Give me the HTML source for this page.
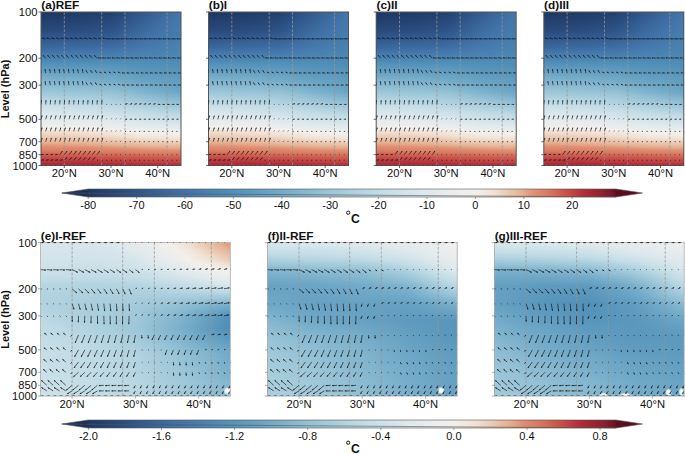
<!DOCTYPE html>
<html><head><meta charset="utf-8"><style>
html,body{margin:0;padding:0;background:#fff;width:685px;height:454px;overflow:hidden}
body{position:relative;font-family:"Liberation Sans",sans-serif}
.fld{position:absolute;overflow:hidden}
.fld i{display:block;height:2px}
.ft i{height:1px}
svg{position:absolute;left:0;top:0}
text{font-family:"Liberation Sans",sans-serif;fill:#111}
.t0{background:linear-gradient(90deg,#1e3763,#1f3764,#1f3864,#1f3965,#203966,#203a67,#213c69,#223d6b,#223e6d,#23406e,#264676,#294c7e,#2d5286,#30598d,#345f93,#386599,#3c6ba0,#4071a6,#4477ab)}
.t1{background:linear-gradient(90deg,#1f3864,#1f3865,#203966,#203a67,#203a67,#213b69,#213d6b,#223e6c,#23406e,#244170,#274777,#2a4d7f,#2d5387,#31598e,#356094,#39669a,#3d6ca0,#4072a7,#4477ab)}
.t2{background:linear-gradient(90deg,#1f3965,#203966,#203a67,#203b68,#213b69,#213c6a,#223e6c,#233f6e,#23416f,#244271,#274879,#2a4e80,#2e5488,#315a8f,#356095,#39669b,#3d6ca1,#4172a7,#4478ab)}
.t3{background:linear-gradient(90deg,#203a67,#203a68,#213b68,#213c69,#213c6a,#223d6b,#233f6d,#23406f,#244271,#254372,#28497a,#2b4f82,#2e5589,#325b8f,#366196,#3a679c,#3d6da2,#4173a8,#4478ab)}
.t4{background:linear-gradient(90deg,#203b68,#213b69,#213c6a,#223d6b,#223e6b,#223f6d,#23406f,#244170,#254372,#254474,#284a7b,#2b5083,#2f568a,#335c90,#366296,#3a689c,#3e6da2,#4173a8,#4478ab)}
.t5{background:linear-gradient(90deg,#213c69,#213d6a,#223d6b,#223e6c,#223f6d,#23406e,#244170,#244272,#254473,#264575,#294b7d,#2c5184,#2f578b,#335d91,#376397,#3b689d,#3e6ea3,#4273a8,#4479ab)}
.t6{background:linear-gradient(90deg,#223d6b,#223e6c,#223e6c,#233f6d,#23406e,#24416f,#244271,#254373,#264575,#264676,#294c7e,#2c5285,#30588c,#345e92,#376498,#3b699e,#3e6fa3,#4274a9,#4579ac)}
.t7{background:linear-gradient(90deg,#223e6c,#223f6d,#233f6e,#23406f,#24416f,#244271,#254373,#254474,#264676,#274778,#2a4d7f,#2d5387,#31598d,#345f93,#386499,#3b6a9e,#3f6fa4,#4274a9,#4579ac)}
.t8{background:linear-gradient(90deg,#233f6d,#23406e,#23406f,#244170,#244271,#254372,#254474,#264676,#274777,#274879,#2a4e80,#2e5488,#315a8e,#356094,#39659a,#3c6b9f,#3f70a5,#4275a9,#457aac)}
.t9{background:linear-gradient(90deg,#23406f,#244170,#244170,#244271,#254372,#254473,#264575,#274777,#274879,#28497a,#2b4f82,#2e5589,#325b8f,#366195,#39669b,#3c6ba0,#4070a5,#4375aa,#457aac)}
.t10{background:linear-gradient(90deg,#244170,#244271,#244372,#254373,#254473,#264575,#264677,#274878,#28497a,#294a7c,#2c5083,#2f568a,#325c90,#366296,#3a679c,#3d6ca1,#4071a6,#4376aa,#457aac)}
.t11{background:linear-gradient(90deg,#244271,#254372,#254473,#254474,#264575,#264676,#274778,#28497a,#284a7b,#294b7d,#2c5184,#2f578b,#335d91,#376297,#3a689c,#3d6da1,#4071a6,#4376aa,#457aac)}
.t12{background:linear-gradient(90deg,#254373,#254474,#264574,#264575,#264676,#274777,#284879,#284a7b,#294b7d,#2a4d7e,#2d5286,#30588c,#345e92,#376398,#3b699d,#3e6da2,#4172a7,#4377aa,#467bad)}
.t13{background:linear-gradient(90deg,#254474,#264575,#264676,#264677,#274777,#274879,#28497b,#294b7c,#294c7e,#2a4e80,#2d5387,#31598d,#345f93,#386499,#3b699e,#3e6ea3,#4173a8,#4477ab,#467bad)}
.t14{background:linear-gradient(90deg,#264575,#264676,#274777,#274778,#274879,#28497a,#294b7c,#294c7e,#2a4d7f,#2b4f81,#2e5488,#315a8e,#356094,#38659a,#3c6a9f,#3f6fa4,#4273a8,#4477ab,#467bad)}
.t15{background:linear-gradient(90deg,#264677,#274778,#274878,#284879,#28497a,#284a7b,#294c7d,#2a4d7f,#2b4e81,#2b5082,#2e5589,#325b8f,#356195,#39669b,#3c6ba0,#3f6fa4,#4274a9,#4478ab,#467cad)}
.t16{background:linear-gradient(90deg,#274778,#274879,#28497a,#284a7b,#284a7b,#294b7d,#2a4d7f,#2a4e80,#2b4f82,#2c5184,#2f568a,#325c90,#366196,#3a679c,#3d6ca1,#4070a5,#4274a9,#4478ab,#467cad)}
.t17{background:linear-gradient(90deg,#284979,#28497a,#284a7b,#294b7c,#294b7d,#2a4c7e,#2a4e80,#2b4f82,#2c5083,#2c5285,#30578b,#335d91,#376297,#3a689d,#3d6da1,#4071a6,#4275a9,#4479ab,#467cad)}
.t18{background:linear-gradient(90deg,#284a7b,#294b7c,#294c7d,#2a4c7e,#2a4d7f,#2a4e80,#2b4f82,#2c5184,#2c5285,#2d5387,#30598d,#345e92,#376398,#3b699d,#3e6ea2,#4072a6,#4375aa,#4579ac,#477dae)}
.t19{background:linear-gradient(90deg,#294c7e,#2a4d7f,#2a4d7f,#2a4e80,#2b4f81,#2b5082,#2c5184,#2d5286,#2d5487,#2e5589,#315a8e,#355f94,#386599,#3b6a9e,#3e6ea3,#4172a7,#4376aa,#4579ac,#477dae)}
.t20{background:linear-gradient(90deg,#2a4e80,#2b4e81,#2b4f82,#2b5082,#2c5083,#2c5185,#2d5386,#2d5488,#2e5589,#2f568b,#325c90,#356195,#39669a,#3c6b9f,#3f6fa4,#4173a8,#4376aa,#457aac,#477dae)}
.t21{background:linear-gradient(90deg,#2b4f82,#2b5083,#2c5184,#2c5185,#2d5285,#2d5387,#2e5488,#2e568a,#2f578b,#30588c,#335d91,#366296,#39679b,#3d6ca0,#3f70a5,#4274a9,#4477ab,#457aac,#477eae)}
.t22{background:linear-gradient(90deg,#2c5184,#2c5285,#2d5386,#2d5387,#2d5488,#2e5589,#2f568a,#2f578b,#30588d,#315a8e,#345e93,#376398,#3a689c,#3d6da1,#4071a6,#4274a9,#4478ab,#467bad,#477eae)}
.t23{background:linear-gradient(90deg,#2d5386,#2d5487,#2e5488,#2e5589,#2e568a,#2f578b,#30588c,#30598d,#315a8e,#325b8f,#356094,#386499,#3b699e,#3e6ea2,#4072a6,#4275a9,#4478ab,#467bad,#477eae)}
.t24{background:linear-gradient(90deg,#2e5589,#2e5589,#2f568a,#2f578b,#30578b,#30588c,#31598e,#325a8f,#325c90,#335d91,#366196,#39669a,#3c6a9f,#3e6ea3,#4172a7,#4376aa,#4479ab,#467cad,#487faf)}
.t25{background:linear-gradient(90deg,#2f568a,#2f578b,#30588c,#30588d,#31598d,#315a8e,#325b8f,#335c90,#335d91,#345e93,#376397,#3a679b,#3c6ba0,#3f6fa4,#4173a8,#4376aa,#4579ac,#467cad,#487faf)}
.t26{background:linear-gradient(90deg,#30588c,#30598d,#31598e,#315a8e,#325b8f,#325c90,#335d91,#345e92,#345f93,#356094,#386498,#3a689d,#3d6ca1,#4070a5,#4274a9,#4377aa,#457aac,#467cad,#487faf)}
.t27{background:linear-gradient(90deg,#315a8e,#325a8f,#325b8f,#325c90,#335d91,#335d92,#345e93,#355f94,#356095,#366196,#39659a,#3b699e,#3e6da2,#4071a6,#4275a9,#4477ab,#457aac,#477dae,#4880af)}
.t28{background:linear-gradient(90deg,#325c90,#335c90,#335d91,#345e92,#345e93,#355f93,#356094,#366195,#366296,#376397,#39679b,#3c6b9f,#3e6ea3,#4172a7,#4375aa,#4478ab,#467bad,#477dae,#4880af)}
.t29{background:linear-gradient(90deg,#335d92,#345e92,#345f93,#355f94,#356094,#366195,#366296,#376397,#376498,#386499,#3a689d,#3d6ca1,#3f70a4,#4173a8,#4376aa,#4479ab,#467bad,#477eae,#4880af)}
.t30{background:linear-gradient(90deg,#345f93,#356094,#356095,#366195,#366296,#376397,#376398,#386499,#38659a,#39669b,#3b6a9e,#3e6da2,#4071a5,#4274a9,#4477ab,#4579ac,#467cad,#477eae,#4980b0)}
.t31{background:linear-gradient(90deg,#366195,#366196,#366297,#376397,#376398,#386499,#38659a,#39669a,#39679b,#3a689c,#3c6ba0,#3e6ea3,#4172a7,#4375aa,#4478ab,#457aac,#467cad,#487eaf,#4981b0)}
.t32{background:linear-gradient(90deg,#376297,#376398,#386498,#386599,#38659a,#39669a,#39679b,#3a689c,#3a689d,#3b699e,#3d6ca1,#3f70a4,#4173a8,#4376aa,#4478ab,#467bad,#477dae,#487faf,#4981b0)}
.t33{background:linear-gradient(90deg,#386499,#386599,#39669a,#39669b,#3a679b,#3a689c,#3b689d,#3b699e,#3c6a9f,#3c6b9f,#3e6ea3,#4071a6,#4274a9,#4377aa,#4579ac,#467bad,#477dae,#487faf,#4981b0)}
.t34{background:linear-gradient(90deg,#39669a,#39679b,#3a679c,#3a689d,#3b699d,#3b699e,#3c6a9f,#3c6ba0,#3d6ca0,#3d6ca1,#3f6fa4,#4172a7,#4275a9,#4478ab,#457aac,#467cad,#477eae,#4880af,#4982b0)}
.t35{background:linear-gradient(90deg,#3a689c,#3a689d,#3b699e,#3b6a9e,#3c6a9f,#3c6ba0,#3d6ca0,#3d6ca1,#3e6da2,#3e6ea3,#4071a5,#4273a8,#4376aa,#4478ab,#467bad,#477cae,#487eaf,#4980b0,#4a82b1)}
.t36{background:linear-gradient(90deg,#3c6a9f,#3c6ba0,#3d6ca0,#3d6ca1,#3d6da2,#3e6ea2,#3e6ea3,#3f6fa4,#3f70a4,#4070a5,#4173a8,#4375aa,#4477ab,#457aac,#467cad,#477dae,#487faf,#4981b0,#4a83b1)}
.t37{background:linear-gradient(90deg,#3d6da2,#3e6ea2,#3e6ea3,#3f6fa4,#3f6fa4,#3f70a5,#4071a6,#4071a6,#4172a7,#4172a7,#4275a9,#4477ab,#4579ac,#467bad,#477dae,#487faf,#4980b0,#4982b0,#4a83b1)}
.t38{background:linear-gradient(90deg,#3f70a5,#4070a5,#4071a6,#4071a6,#4172a7,#4173a8,#4173a8,#4274a9,#4274a9,#4275a9,#4377aa,#4479ab,#467bad,#477dae,#477eae,#4880af,#4981b0,#4a83b1,#4b84b2)}
.t39{background:linear-gradient(90deg,#4172a7,#4173a8,#4273a8,#4274a9,#4274a9,#4375aa,#4375aa,#4376aa,#4376aa,#4477ab,#4479ab,#457aac,#467cad,#477eae,#487faf,#4981b0,#4a82b1,#4a83b1,#4b85b2)}
.t40{background:linear-gradient(90deg,#4375aa,#4375aa,#4376aa,#4376aa,#4377aa,#4477ab,#4478ab,#4478ab,#4479ab,#4579ac,#467bad,#467cad,#477eae,#487faf,#4981b0,#4982b0,#4a83b1,#4b84b2,#4b85b2)}
.t41{background:linear-gradient(90deg,#4477ab,#4478ab,#4478ab,#4479ab,#4579ac,#4579ac,#457aac,#457aac,#467bad,#467bad,#477cae,#477eae,#487faf,#4981b0,#4982b0,#4a83b1,#4b84b2,#4b85b2,#4c86b3)}
.t42{background:linear-gradient(90deg,#457aac,#457aac,#467bad,#467bad,#467bad,#467cad,#467cad,#477cae,#477dae,#477dae,#487eaf,#4880af,#4981b0,#4a82b1,#4a83b1,#4b84b2,#4b85b2,#4b86b2,#4c87b3)}
.t43{background:linear-gradient(90deg,#467cad,#477dae,#477dae,#477dae,#477eae,#477eae,#487eaf,#487faf,#487faf,#487faf,#4980b0,#4981b0,#4a82b1,#4a83b1,#4b84b2,#4b85b2,#4c86b3,#4c86b3,#4c87b3)}
.t44{background:linear-gradient(90deg,#487faf,#487faf,#487faf,#4880af,#4880af,#4980b0,#4981b0,#4981b0,#4981b0,#4981b0,#4a82b1,#4a83b1,#4b84b2,#4b85b2,#4b86b2,#4c86b3,#4c87b3,#4c87b3,#4d88b4)}
.t45{background:linear-gradient(90deg,#4981b0,#4981b0,#4982b0,#4982b0,#4a82b1,#4a82b1,#4a83b1,#4a83b1,#4a83b1,#4a84b1,#4b84b2,#4b85b2,#4b86b2,#4c86b3,#4c87b3,#4c87b3,#4d88b4,#4d88b4,#4d89b4)}
.t46{background:linear-gradient(90deg,#4a84b1,#4a84b1,#4b84b2,#4b84b2,#4b85b2,#4b85b2,#4b85b2,#4b85b2,#4b85b2,#4b86b2,#4c86b3,#4c87b3,#4c87b3,#4d88b4,#4d88b4,#4d88b4,#4d89b4,#4d89b4,#4d89b4)}
.t47{background:linear-gradient(90deg,#4c86b3,#4c86b3,#4c86b3,#4c87b3,#4c87b3,#4c87b3,#4c87b3,#4c87b3,#4c88b3,#4d88b4,#4d88b4,#4d88b4,#4d89b4,#4d89b4,#4d89b4,#4d89b4,#4e8ab5,#4e8ab5,#4e8ab5)}
.t48{background:linear-gradient(90deg,#4d88b4,#4d89b4,#4d89b4,#4d89b4,#4d89b4,#4d89b4,#4d89b4,#4e8ab5,#4e8ab5,#4e8ab5,#4e8ab5,#4e8ab5,#4e8ab5,#4e8ab5,#4e8ab5,#4e8ab5,#4e8ab5,#4e8ab5,#4e8ab5)}
.t49{background:linear-gradient(90deg,#4e8bb5,#4e8bb5,#4e8bb5,#4e8bb5,#4f8bb6,#4f8cb6,#4f8cb6,#4f8cb6,#4f8cb6,#4f8cb6,#4f8cb6,#4f8cb6,#4f8cb6,#4f8cb6,#4f8cb6,#4f8cb6,#4f8bb6,#4e8bb5,#4e8bb5)}
.t50{background:linear-gradient(90deg,#508db7,#508db7,#508eb7,#508eb7,#508eb7,#508eb7,#508eb7,#508eb7,#508eb7,#508eb7,#508eb7,#508eb7,#508db7,#508db7,#4f8db6,#4f8db6,#4f8cb6,#4f8cb6,#4f8cb6)}
.t51{background:linear-gradient(90deg,#5190b8,#5190b8,#5190b8,#5190b8,#5190b8,#5190b8,#5190b8,#5190b8,#5190b8,#5190b8,#5190b8,#518fb8,#508fb7,#508fb7,#508eb7,#508eb7,#508db7,#4f8db6,#4f8cb6)}
.t52{background:linear-gradient(90deg,#5492b9,#5492b9,#5492b9,#5492b9,#5492b9,#5492b9,#5492b9,#5492b9,#5492b9,#5492b9,#5392b9,#5291b9,#5291b8,#5190b8,#518fb8,#508fb7,#508eb7,#508eb7,#4f8db6)}
.t53{background:linear-gradient(90deg,#5694bb,#5694bb,#5694bb,#5694bb,#5694bb,#5694ba,#5694ba,#5694ba,#5694ba,#5694ba,#5593ba,#5492ba,#5392b9,#5391b9,#5291b8,#5190b8,#518fb8,#508fb7,#508eb7)}
.t54{background:linear-gradient(90deg,#5996bc,#5996bc,#5996bc,#5996bc,#5996bc,#5896bc,#5896bc,#5896bb,#5895bb,#5895bb,#5795bb,#5694ba,#5593ba,#5492b9,#5392b9,#5291b9,#5190b8,#5190b8,#508fb7)}
.t55{background:linear-gradient(90deg,#5c98bd,#5b98bd,#5b98bd,#5b98bd,#5b98bd,#5b98bd,#5b98bd,#5a97bc,#5a97bc,#5a97bc,#5996bc,#5895bb,#5794bb,#5694ba,#5593ba,#5492b9,#5391b9,#5291b8,#5190b8)}
.t56{background:linear-gradient(90deg,#5e9abe,#5e9abe,#5e9abe,#5e9abe,#5d9abe,#5d9abe,#5d99be,#5c99be,#5c99bd,#5c98bd,#5a97bd,#5997bc,#5896bb,#5795bb,#5694ba,#5593ba,#5492ba,#5392b9,#5291b9)}
.t57{background:linear-gradient(90deg,#619dc0,#619cc0,#609cbf,#609cbf,#609cbf,#609bbf,#5f9bbf,#5f9bbf,#5e9abe,#5d9abe,#5c99bd,#5b98bd,#5a97bc,#5996bc,#5795bb,#5694bb,#5593ba,#5493ba,#5392b9)}
.t58{background:linear-gradient(90deg,#649fc1,#639ec1,#639ec1,#639ec1,#629ec0,#629dc0,#619dc0,#619cc0,#609cbf,#5f9bbf,#5e9abe,#5d99be,#5b98bd,#5a97bc,#5996bc,#5895bb,#5795bb,#5694ba,#5593ba)}
.t59{background:linear-gradient(90deg,#66a1c2,#66a0c2,#66a0c2,#65a0c2,#65a0c2,#649fc1,#649fc1,#639ec1,#629dc0,#619dc0,#609cbf,#5e9bbf,#5d99be,#5c98bd,#5a97bc,#5996bc,#5896bb,#5795bb,#5694ba)}
.t60{background:linear-gradient(90deg,#69a3c4,#68a2c3,#68a2c3,#68a2c3,#67a2c3,#67a1c2,#66a0c2,#65a0c2,#649fc1,#639ec1,#629dc0,#609cbf,#5f9bbf,#5d99be,#5c98bd,#5b97bd,#5997bc,#5896bb,#5795bb)}
.t61{background:linear-gradient(90deg,#6ca5c5,#6ba5c5,#6ba4c4,#6aa4c4,#6aa3c4,#69a3c4,#68a2c3,#67a1c3,#66a1c2,#65a0c2,#649fc1,#629dc0,#609cbf,#5f9bbf,#5d9abe,#5c99bd,#5b98bd,#5997bc,#5896bc)}
.t62{background:linear-gradient(90deg,#6ea7c6,#6ea7c6,#6da6c6,#6da6c5,#6ca5c5,#6ba5c5,#6aa4c4,#69a3c4,#68a2c3,#67a1c3,#65a0c2,#649fc1,#629dc0,#609cbf,#5e9bbf,#5d9abe,#5c99bd,#5b98bd,#5997bc)}
.t63{background:linear-gradient(90deg,#71a9c7,#70a9c7,#70a8c7,#6fa8c7,#6fa7c6,#6ea7c6,#6da6c5,#6ba5c5,#6aa4c4,#69a3c4,#67a1c3,#65a0c2,#639ec1,#629dc0,#609cbf,#5f9bbf,#5d9abe,#5c99bd,#5b98bd)}
.t64{background:linear-gradient(90deg,#74abc9,#73abc8,#72aac8,#72aac8,#71a9c7,#70a8c7,#6fa7c6,#6ea6c6,#6ca5c5,#6ba4c5,#69a3c4,#67a1c3,#65a0c2,#639ec1,#619dc0,#609cbf,#5f9bbf,#5d9abe,#5c99bd)}
.t65{background:linear-gradient(90deg,#77aeca,#76adca,#76acc9,#75acc9,#74abc9,#72aac8,#71a9c8,#70a8c7,#6ea7c6,#6da6c6,#6ba4c5,#69a3c3,#67a1c2,#659fc1,#639ec1,#619dc0,#609cbf,#5e9bbf,#5d9abe)}
.t66{background:linear-gradient(90deg,#7bb0cb,#7aafcb,#79aecb,#78aeca,#77adca,#75acc9,#74abc9,#72aac8,#70a9c7,#6fa8c6,#6da6c5,#6aa4c4,#68a2c3,#66a1c2,#649fc1,#639ec1,#619dc0,#609cbf,#5e9abe)}
.t67{background:linear-gradient(90deg,#7db1cc,#7cb1cc,#7bb0cc,#7ab0cb,#79afcb,#78aeca,#76adca,#74acc9,#73aac8,#71a9c8,#6fa7c6,#6ca6c5,#6aa4c4,#68a2c3,#66a0c2,#649fc1,#639ec1,#619dc0,#5f9bbf)}
.t68{background:linear-gradient(90deg,#80b3cd,#7fb2cd,#7eb2cc,#7db1cc,#7cb1cc,#7bb0cb,#79afcb,#77adca,#75acc9,#74abc9,#71a9c7,#6ea7c6,#6ca5c5,#6aa3c4,#67a2c3,#66a0c2,#649fc1,#629dc0,#609cbf)}
.t69{background:linear-gradient(90deg,#82b5ce,#81b4ce,#80b3cd,#7fb3cd,#7eb2cd,#7db1cc,#7bb0cc,#7aafcb,#78aeca,#76adca,#73abc8,#70a9c7,#6ea7c6,#6ba5c5,#69a3c4,#67a1c3,#65a0c2,#639ec1,#619dc0)}
.t70{background:linear-gradient(90deg,#85b6cf,#84b6cf,#83b5ce,#82b5ce,#81b4ce,#80b3cd,#7eb2cd,#7cb1cc,#7bb0cb,#79afcb,#76adc9,#73aac8,#70a8c7,#6da6c6,#6ba4c4,#69a3c3,#66a1c2,#649fc1,#629ec0)}
.t71{background:linear-gradient(90deg,#87b8d0,#86b7d0,#85b7cf,#84b6cf,#83b6cf,#82b5ce,#81b4ce,#7fb3cd,#7eb2cc,#7cb1cc,#79aecb,#75acc9,#72aac8,#6fa8c6,#6ca6c5,#6aa4c4,#68a2c3,#65a0c2,#639ec1)}
.t72{background:linear-gradient(90deg,#8abad1,#89b9d1,#88b8d0,#87b8d0,#86b7d0,#85b6cf,#83b5cf,#82b5ce,#80b4cd,#7fb3cd,#7bb0cc,#78aeca,#74abc9,#71a9c7,#6ea7c6,#6ca5c5,#69a3c4,#67a1c2,#649fc1)}
.t73{background:linear-gradient(90deg,#8cbbd2,#8bbbd2,#8abad1,#89bad1,#88b9d1,#87b8d0,#86b7d0,#84b6cf,#83b5cf,#82b4ce,#7eb2cd,#7aafcb,#76adca,#73aac8,#70a8c7,#6da6c6,#6aa4c4,#68a2c3,#65a0c2)}
.t74{background:linear-gradient(90deg,#8fbdd3,#8ebcd3,#8dbcd2,#8cbbd2,#8bbbd1,#8abad1,#88b9d1,#87b8d0,#86b7d0,#85b6cf,#81b4ce,#7db1cc,#79afcb,#75acc9,#71a9c8,#6fa7c6,#6ca5c5,#69a3c4,#66a1c2)}
.t75{background:linear-gradient(90deg,#91bfd4,#90bed3,#8fbdd3,#8ebdd3,#8dbcd2,#8cbcd2,#8bbbd2,#8abad1,#89b9d1,#87b8d0,#83b6cf,#7fb3cd,#7bb0cb,#77adca,#73abc8,#70a8c7,#6da6c6,#6aa4c4,#67a1c3)}
.t76{background:linear-gradient(90deg,#94c0d5,#93c0d4,#92bfd4,#91bfd4,#90bed3,#8fbdd3,#8ebcd3,#8cbcd2,#8bbbd2,#8abad1,#86b7d0,#82b5ce,#7eb2cc,#79afcb,#75acc9,#71aac8,#6ea7c6,#6ba5c5,#68a2c3)}
.t77{background:linear-gradient(90deg,#96c2d6,#95c1d5,#94c1d5,#93c0d5,#92c0d4,#91bfd4,#90bed4,#8fbdd3,#8ebdd3,#8dbcd2,#89b9d1,#84b6cf,#80b3cd,#7cb0cc,#77aeca,#73abc8,#70a8c7,#6ca6c5,#69a3c4)}
.t78{background:linear-gradient(90deg,#99c4d7,#98c3d6,#97c3d6,#96c2d6,#95c1d5,#94c1d5,#93c0d5,#92bfd4,#91bfd4,#90bed3,#8bbbd2,#87b8d0,#82b5ce,#7eb2cd,#79afcb,#75acc9,#71a9c7,#6ea6c6,#6aa4c4)}
.t79{background:linear-gradient(90deg,#9bc5d8,#9ac5d7,#99c4d7,#98c4d7,#97c3d6,#96c2d6,#95c2d6,#95c1d5,#94c0d5,#93c0d4,#8ebdd3,#89bad1,#85b7cf,#80b3cd,#7cb0cc,#77adca,#72aac8,#6fa7c6,#6ba5c5)}
.t80{background:linear-gradient(90deg,#9ec7d9,#9dc7d8,#9cc6d8,#9cc6d8,#9bc5d7,#9ac4d7,#99c4d7,#98c3d6,#97c2d6,#96c2d6,#91bfd4,#8cbcd2,#88b8d0,#83b5ce,#7eb2cd,#7aafcb,#75acc9,#71a9c7,#6da6c6)}
.t81{background:linear-gradient(90deg,#a2c9da,#a1c9da,#a0c8d9,#9fc8d9,#9ec7d9,#9dc7d8,#9cc6d8,#9bc5d8,#9ac4d7,#99c4d7,#94c1d5,#8fbed3,#8bbbd1,#86b8d0,#82b4ce,#7db1cc,#79aecb,#74abc9,#70a9c7)}
.t82{background:linear-gradient(90deg,#a5cbdb,#a4cbdb,#a3cadb,#a2c9da,#a1c9da,#a0c8d9,#9fc8d9,#9ec7d9,#9dc6d8,#9cc6d8,#97c3d6,#93c0d4,#8ebdd3,#8abad1,#85b7cf,#81b4ce,#7cb1cc,#78aeca,#73abc9)}
.t83{background:linear-gradient(90deg,#a8cddd,#a7cddc,#a6ccdc,#a5cbdb,#a4cbdb,#a3cadb,#a2c9da,#a1c9da,#a0c8d9,#9ec7d9,#9ac5d7,#96c2d6,#91bfd4,#8dbcd2,#88b9d1,#84b6cf,#80b3cd,#7bb0cc,#77adca)}
.t84{background:linear-gradient(90deg,#accfde,#abcedd,#aacedd,#a8cddd,#a7cddc,#a6ccdc,#a5cbdb,#a4cadb,#a3cada,#a1c9da,#9dc7d8,#99c4d7,#94c1d5,#90bed3,#8cbbd2,#87b8d0,#83b6cf,#7fb3cd,#7bb0cb)}
.t85{background:linear-gradient(90deg,#afd1df,#aed0df,#add0de,#accfde,#abcedd,#a9cedd,#a8cddc,#a7ccdc,#a5cbdb,#a4cbdb,#a0c8d9,#9cc6d8,#98c3d6,#93c0d5,#8fbdd3,#8bbbd1,#87b8d0,#83b5ce,#7fb2cd)}
.t86{background:linear-gradient(90deg,#b2d3e0,#b1d2e0,#b0d2df,#afd1df,#aed0df,#acd0de,#abcfde,#aacedd,#a8cddc,#a7ccdc,#a3cadb,#9fc8d9,#9bc5d8,#97c2d6,#92c0d4,#8ebdd3,#8abad1,#86b8d0,#82b5ce)}
.t87{background:linear-gradient(90deg,#b6d5e1,#b5d4e1,#b3d4e1,#b2d3e0,#b1d2e0,#b0d1df,#aed0df,#add0de,#abcfde,#aacedd,#a6ccdc,#a2c9da,#9ec7d9,#9ac5d7,#96c2d6,#92bfd4,#8ebdd3,#8abad1,#86b7d0)}
.t88{background:linear-gradient(90deg,#b9d7e3,#b8d6e2,#b7d5e2,#b5d5e1,#b4d4e1,#b3d3e0,#b1d2e0,#b0d1df,#aed0df,#accfde,#a8cddd,#a5cbdb,#a1c9da,#9dc7d8,#99c4d7,#95c1d5,#91bfd4,#8ebcd2,#8abad1)}
.t89{background:linear-gradient(90deg,#bcd9e4,#bbd8e3,#bad7e3,#b9d7e3,#b7d6e2,#b6d5e2,#b4d4e1,#b2d3e0,#b1d2e0,#afd1df,#abcfde,#a7cddc,#a4cadb,#a0c8d9,#9cc6d8,#99c4d7,#95c1d5,#91bfd4,#8dbcd2)}
.t90{background:linear-gradient(90deg,#c0dbe5,#bedae5,#bdd9e4,#bcd8e4,#bbd8e3,#b9d7e3,#b7d6e2,#b5d5e1,#b4d4e1,#b2d3e0,#aed0df,#aacedd,#a7ccdc,#a3cadb,#9fc8d9,#9cc6d8,#98c4d7,#95c1d5,#91bfd4)}
.t91{background:linear-gradient(90deg,#c3dce6,#c2dce6,#c0dbe5,#bfdae5,#bedae4,#bcd9e4,#bad7e3,#b8d6e2,#b6d5e2,#b5d4e1,#b1d2e0,#add0de,#a9cedd,#a6ccdc,#a2cada,#9fc8d9,#9cc6d8,#98c4d7,#95c1d5)}
.t92{background:linear-gradient(90deg,#c5dee7,#c4dde7,#c3dde6,#c2dce6,#c1dbe6,#bfdae5,#bdd9e4,#bbd8e4,#b9d7e3,#b7d6e2,#b4d4e1,#b0d2df,#accfde,#a9cddd,#a5cbdb,#a2cada,#9fc8d9,#9cc6d8,#99c4d7)}
.t93{background:linear-gradient(90deg,#c8dfe8,#c7dee7,#c6dee7,#c5dde7,#c4dde6,#c2dce6,#c0dbe5,#bedae5,#bcd9e4,#bad7e3,#b7d5e2,#b3d3e0,#afd1df,#accfde,#a8cddd,#a5cbdb,#a2cada,#9fc8d9,#9cc6d8)}
.t94{background:linear-gradient(90deg,#cbe0e8,#c9dfe8,#c8dfe8,#c7dee7,#c6dee7,#c5dde7,#c3dce6,#c1dce6,#bfdae5,#bdd9e4,#b9d7e3,#b6d5e1,#b2d3e0,#afd1df,#abcfde,#a8cddd,#a5cbdb,#a3cada,#a0c8d9)}
.t95{background:linear-gradient(90deg,#cde1e9,#cce0e9,#cbe0e8,#cadfe8,#c8dfe8,#c7dee7,#c5dde7,#c4dde6,#c2dce6,#c0dbe5,#bcd9e4,#b9d7e3,#b5d5e1,#b2d2e0,#aed1df,#abcfde,#a9cddd,#a6ccdc,#a3cadb)}
.t96{background:linear-gradient(90deg,#d0e2ea,#cee2e9,#cde1e9,#cce1e9,#cbe0e8,#c9dfe8,#c8dfe8,#c6dee7,#c4dde7,#c2dce6,#bfdae5,#bbd8e4,#b8d6e2,#b4d4e1,#b1d2e0,#afd1df,#accfde,#a9cedd,#a6ccdc)}
.t97{background:linear-gradient(90deg,#d2e3ea,#d1e3ea,#d0e2ea,#cfe2e9,#cde1e9,#cce0e9,#cae0e8,#c8dfe8,#c6dee7,#c4dde7,#c2dce6,#bedae5,#bbd8e3,#b7d6e2,#b4d4e1,#b2d3e0,#afd1df,#accfde,#aacedd)}
.t98{background:linear-gradient(90deg,#d5e4eb,#d4e4eb,#d2e3ea,#d1e3ea,#d0e2ea,#cee1e9,#cce1e9,#cae0e8,#c8dfe8,#c7dee7,#c4dde7,#c1dce6,#bedae4,#bad8e3,#b7d6e2,#b5d4e1,#b2d3e0,#b0d1df,#add0de)}
.t99{background:linear-gradient(90deg,#d7e5ec,#d6e5eb,#d5e4eb,#d3e4eb,#d2e3ea,#d0e2ea,#cfe2e9,#cde1e9,#cbe0e8,#c9dfe8,#c6dee7,#c4dde6,#c1dbe6,#bdd9e4,#bbd8e3,#b8d6e2,#b5d5e1,#b3d3e0,#b0d2e0)}
.t100{background:linear-gradient(90deg,#d9e6ec,#d8e6ec,#d7e5ec,#d6e5eb,#d4e4eb,#d3e4eb,#d1e3ea,#cfe2ea,#cde1e9,#cbe0e9,#c9dfe8,#c6dee7,#c4dde6,#c1dbe6,#bedae4,#bbd8e4,#b9d7e3,#b7d5e2,#b4d4e1)}
.t101{background:linear-gradient(90deg,#dbe7ed,#dae7ed,#d9e6ec,#d8e6ec,#d7e5ec,#d5e5eb,#d3e4eb,#d2e3ea,#d0e2ea,#cee1e9,#cbe0e9,#c9dfe8,#c6dee7,#c4dde6,#c1dce6,#bfdae5,#bcd9e4,#bad7e3,#b8d6e2)}
.t102{background:linear-gradient(90deg,#dee8ee,#dce8ed,#dbe7ed,#dae7ed,#d9e6ec,#d8e6ec,#d6e5eb,#d4e4eb,#d2e3ea,#d0e2ea,#cee1e9,#cbe0e9,#c9dfe8,#c6dee7,#c4dde7,#c2dce6,#c0dbe5,#bed9e4,#bbd8e4)}
.t103{background:linear-gradient(90deg,#dfe9ee,#dfe9ee,#dde8ee,#dce8ed,#dbe7ed,#dae7ed,#d8e6ec,#d6e5ec,#d5e4eb,#d3e4eb,#d0e2ea,#cee1e9,#cbe0e9,#c9dfe8,#c7dee7,#c5dde7,#c3dce6,#c1dce6,#bfdae5)}
.t104{background:linear-gradient(90deg,#e1eaee,#e0e9ee,#dfe9ee,#dfe9ee,#dee8ee,#dce8ed,#dbe7ed,#d9e6ec,#d7e6ec,#d6e5eb,#d3e4eb,#d0e2ea,#cee1e9,#cbe0e9,#c9dfe8,#c7dee7,#c6dee7,#c4dde7,#c2dce6)}
.t105{background:linear-gradient(90deg,#e2eaee,#e2eaee,#e1eaee,#e0e9ee,#e0e9ee,#dfe9ee,#dde8ed,#dbe7ed,#dae7ed,#d8e6ec,#d6e5eb,#d3e4eb,#d0e2ea,#cee1e9,#cce0e9,#cae0e8,#c8dfe8,#c7dee7,#c5dde7)}
.t106{background:linear-gradient(90deg,#e4ebee,#e3eaee,#e3eaee,#e2eaee,#e1eaee,#e0e9ee,#dfe9ee,#dee8ee,#dce8ed,#dbe7ed,#d8e6ec,#d5e5eb,#d3e4eb,#d0e2ea,#cee1e9,#cde1e9,#cbe0e8,#c9dfe8,#c8dfe8)}
.t107{background:linear-gradient(90deg,#e5ebed,#e5ebed,#e4ebed,#e3ebee,#e3eaee,#e2eaee,#e1eaee,#e0e9ee,#dfe9ee,#dde8ed,#dbe7ed,#d8e6ec,#d5e5eb,#d3e4eb,#d1e3ea,#cfe2ea,#cee1e9,#cce1e9,#cbe0e8)}
.t108{background:linear-gradient(90deg,#e7eced,#e6eced,#e6ebed,#e5ebed,#e4ebed,#e4ebee,#e3eaee,#e2eaee,#e1eaee,#dfe9ee,#dde8ed,#dbe7ed,#d8e6ec,#d5e5eb,#d3e4eb,#d2e3ea,#d0e2ea,#cfe2ea,#cde1e9)}
.t109{background:linear-gradient(90deg,#e8eced,#e8eced,#e7eced,#e7eced,#e6ebed,#e5ebed,#e4ebed,#e3eaee,#e2eaee,#e1eaee,#dfe9ee,#dde8ed,#dbe7ed,#d8e6ec,#d6e5eb,#d4e4eb,#d3e4eb,#d2e3ea,#d0e2ea)}
.t110{background:linear-gradient(90deg,#eaeded,#e9eded,#e9eced,#e8eced,#e8eced,#e7eced,#e6ebed,#e5ebed,#e4ebee,#e3eaee,#e1eaee,#dfe9ee,#dde8ed,#dae7ed,#d8e6ec,#d7e5ec,#d6e5eb,#d4e4eb,#d3e4eb)}
.t111{background:linear-gradient(90deg,#ebeded,#ebeded,#eaeded,#eaeded,#e9eded,#e8eced,#e8eced,#e7eced,#e6ebed,#e5ebed,#e3eaee,#e1eaee,#dfe9ee,#dde8ed,#dbe7ed,#dae7ed,#d8e6ec,#d7e5ec,#d6e5eb)}
.t112{background:linear-gradient(90deg,#edeeed,#eceeed,#eceded,#ebeded,#ebeded,#eaeded,#e9eded,#e8eced,#e7eced,#e6eced,#e5ebed,#e3eaee,#e1eaee,#dfe9ee,#dee8ee,#dce8ed,#dbe7ed,#dae7ed,#d8e6ec)}
.t113{background:linear-gradient(90deg,#eeeeec,#eeeeed,#eeeeed,#edeeed,#edeeed,#eceeed,#ebeded,#eaeded,#e9eded,#e9eced,#e7eced,#e5ebed,#e3ebee,#e2eaee,#e0e9ee,#e0e9ee,#dfe9ee,#dde8ee,#dce8ed)}
.t114{background:linear-gradient(90deg,#f0efec,#f0efec,#f0efec,#efefec,#efefec,#eeeeec,#edeeed,#edeeed,#eceded,#ebeded,#e9eded,#e8eced,#e6ebed,#e4ebed,#e3eaee,#e2eaee,#e1eaee,#e1eaee,#e0e9ee)}
.t115{background:linear-gradient(90deg,#f2f0ec,#f2f0ec,#f2f0ec,#f1efec,#f1efec,#f0efec,#f0efec,#efefec,#eeeeed,#edeeed,#eceded,#eaeded,#e8eced,#e7eced,#e6ebed,#e5ebed,#e4ebed,#e3ebee,#e3eaee)}
.t116{background:linear-gradient(90deg,#f2ede8,#f3eee9,#f3efea,#f3efeb,#f3f0ec,#f3f0ec,#f2f0ec,#f1efec,#f0efec,#efefec,#eeeeed,#eceeed,#ebeded,#e9eded,#e8eced,#e7eced,#e7eced,#e6eced,#e6ebed)}
.t117{background:linear-gradient(90deg,#f2e9e1,#f2eae2,#f2eae3,#f2ebe4,#f2ece5,#f2ede7,#f3eee9,#f3f0eb,#f2f0ec,#f2f0ec,#f0efec,#efefec,#edeeed,#eceded,#ebeded,#eaeded,#eaeded,#e9eced,#e8eced)}
.t118{background:linear-gradient(90deg,#f1e5db,#f1e6db,#f1e6dc,#f1e7dd,#f1e7de,#f2e8e0,#f2eae2,#f2ebe4,#f2ede7,#f3eee9,#f3f0ec,#f1efec,#f0efec,#eeeeec,#edeeed,#edeeed,#eceeed,#eceded,#ebeded)}
.t119{background:linear-gradient(90deg,#f0e1d4,#f0e2d5,#f0e2d6,#f1e3d6,#f1e3d7,#f1e4d9,#f1e5db,#f1e7dd,#f2e8df,#f2eae1,#f2ece6,#f3efea,#f2f0ec,#f1efec,#f0efec,#efefec,#efefec,#efeeec,#eeeeec)}
.t120{background:linear-gradient(90deg,#efddce,#f0decf,#f0dfd1,#f0e0d2,#f0e0d3,#f0e1d4,#f0e3d6,#f1e4d8,#f1e5da,#f1e6dc,#f2e9e1,#f2ece5,#f3eee9,#f3f0ec,#f2f0ec,#f1efec,#f1efec,#f0efec,#f0efec)}
.t121{background:linear-gradient(90deg,#eed9c8,#eedac9,#efdbcb,#efdccc,#efdccd,#f0decf,#f0e0d3,#f0e2d5,#f1e3d7,#f1e4d9,#f1e7dd,#f2e9e1,#f2ebe5,#f3eee9,#f3f0eb,#f3f0ec,#f2f0ec,#f2f0ec,#f2f0ec)}
.t122{background:linear-gradient(90deg,#edd5c2,#edd6c4,#eed6c5,#eed7c6,#eed8c7,#eedaca,#efdccd,#f0dfd0,#f0e1d3,#f0e2d5,#f1e4d9,#f1e6dc,#f2e9e0,#f2ebe4,#f2ede7,#f3ede8,#f3eee9,#f3efea,#f3f0ec)}
.t123{background:linear-gradient(90deg,#ecd0bd,#ecd1be,#edd2bf,#edd3c0,#edd4c1,#edd6c4,#eed8c7,#efdaca,#efddcd,#f0dfd1,#f0e2d5,#f1e4d8,#f1e6dc,#f2e8df,#f2eae2,#f2eae3,#f2ebe4,#f2ece5,#f2ede7)}
.t124{background:linear-gradient(90deg,#ebccb7,#ebcdb8,#ebceb9,#eccfba,#ecd0bc,#ecd1be,#edd4c1,#edd6c4,#eed8c7,#efdaca,#f0ded0,#f0e1d4,#f1e3d7,#f1e5db,#f1e7dd,#f1e7de,#f2e8df,#f2e9e0,#f2eae1)}
.t125{background:linear-gradient(90deg,#eac8b1,#eac9b2,#eacab3,#ebcbb4,#ebcbb6,#ebcdb8,#eccfbb,#ecd1be,#edd3c1,#edd6c4,#eedac9,#efddce,#f0e1d3,#f0e3d6,#f1e4d8,#f1e4d9,#f1e5da,#f1e6db,#f1e6dc)}
.t126{background:linear-gradient(90deg,#e9c4ab,#e9c4ac,#e9c5ad,#eac6af,#eac7b0,#eac9b2,#ebcbb5,#ebcdb8,#eccfba,#ecd1bd,#edd5c2,#eed8c7,#efdccc,#f0dfd1,#f0e1d3,#f0e2d4,#f0e2d5,#f1e3d6,#f1e3d7)}
.t127{background:linear-gradient(90deg,#e8bfa5,#e8c0a6,#e8c1a8,#e8c2a9,#e9c3aa,#e9c4ac,#eac6af,#eac8b1,#ebcab4,#ebccb7,#ecd0bc,#edd3c0,#eed6c5,#eedac9,#efdccc,#efddce,#f0ded0,#f0dfd1,#f0e0d2)}
.t128{background:linear-gradient(90deg,#e7ba9f,#e7bba0,#e7bca2,#e7bda3,#e8bea4,#e8c0a6,#e8c2a9,#e9c4ab,#e9c6ae,#eac8b1,#ebcbb5,#ebceb9,#ecd1bd,#edd4c2,#eed6c4,#eed7c6,#eed8c7,#eed9c9,#efdaca)}
.t129{background:linear-gradient(90deg,#e6b599,#e6b79a,#e6b89c,#e6b99d,#e7ba9e,#e7bba0,#e7bda3,#e8bfa5,#e8c1a8,#e9c3aa,#e9c6ae,#eac9b2,#ebccb6,#ecceba,#ecd0bc,#ecd1be,#edd2bf,#edd3c0,#edd4c2)}
.t130{background:linear-gradient(90deg,#e5b093,#e5b194,#e5b295,#e5b397,#e5b498,#e6b69a,#e6b89c,#e7ba9f,#e7bca1,#e8bea3,#e8c1a7,#e9c3ab,#eac6ae,#eac9b2,#ebcab4,#ebcbb6,#ebccb7,#ebcdb8,#ebceb9)}
.t131{background:linear-gradient(90deg,#e3a98b,#e4aa8c,#e4ac8e,#e4ae90,#e4af91,#e4b093,#e5b295,#e5b497,#e6b69a,#e6b89c,#e7bb9f,#e7bea3,#e8c0a6,#e9c3aa,#e9c5ac,#e9c5ae,#eac6af,#eac7b0,#eac8b1)}
.t132{background:linear-gradient(90deg,#e2a082,#e2a183,#e3a385,#e3a587,#e3a688,#e3a88a,#e4ab8d,#e4ae90,#e4b092,#e5b294,#e5b498,#e6b79b,#e7ba9f,#e7bda2,#e8bfa4,#e8c0a6,#e8c1a7,#e8c1a8,#e9c2a9)}
.t133{background:linear-gradient(90deg,#e19779,#e1987a,#e19a7c,#e29b7d,#e29d7f,#e29f81,#e2a284,#e3a587,#e3a789,#e3aa8c,#e4ae90,#e5b193,#e5b397,#e6b69a,#e6b89c,#e6b99d,#e7ba9f,#e7bba0,#e7bca1)}
.t134{background:linear-gradient(90deg,#e08f71,#e09072,#e09173,#e09274,#e19476,#e19678,#e1997b,#e19b7d,#e29d7f,#e2a082,#e3a486,#e3a88a,#e4ac8e,#e4b092,#e5b194,#e5b295,#e5b397,#e5b498,#e6b599)}
.t135{background:linear-gradient(90deg,#de8a6e,#de8b6f,#de8c6f,#df8d70,#df8d70,#df8e71,#e09072,#e09173,#e09476,#e19678,#e19a7c,#e29e80,#e2a284,#e3a688,#e3a98b,#e3aa8c,#e4ac8e,#e4ae90,#e4af91)}
.t136{background:linear-gradient(90deg,#dc866b,#dd876c,#dd876c,#dd886d,#dd896e,#de8a6e,#de8b6f,#df8c6f,#df8d70,#df8e71,#e09072,#e09476,#e19779,#e19b7d,#e29e80,#e29f81,#e2a183,#e3a385,#e3a486)}
.t137{background:linear-gradient(90deg,#db8169,#db8269,#db836a,#dc846a,#dc846b,#dc856b,#dc866c,#dd876c,#dd886d,#de896e,#de8b6f,#df8d70,#df8e71,#e09072,#e09375,#e19577,#e19678,#e1987a,#e19a7c)}
.t138{background:linear-gradient(90deg,#d97d66,#d97e66,#da7e67,#da7f67,#da8068,#da8168,#db8269,#db8369,#db836a,#dc846b,#dc866c,#dd886d,#de896e,#de8b6f,#df8c70,#df8d70,#df8e71,#e08f71,#e08f72)}
.t139{background:linear-gradient(90deg,#d77762,#d77863,#d87963,#d87a64,#d87b65,#d97c65,#d97d66,#d97e66,#da7e67,#da7f67,#da8168,#db8269,#dc846a,#dc856b,#dd866c,#dd876c,#dd886d,#dd896d,#de8a6e)}
.t140{background:linear-gradient(90deg,#d46f5c,#d4705d,#d5715d,#d5725e,#d6745f,#d67560,#d77661,#d77762,#d77863,#d87a64,#d87b65,#d97c66,#d97e66,#da7f67,#da8068,#db8168,#db8269,#db8369,#db836a)}
.t141{background:linear-gradient(90deg,#d16756,#d16857,#d26957,#d26a58,#d36c59,#d36d5a,#d46e5b,#d46f5c,#d4705d,#d5725e,#d6735f,#d67560,#d77762,#d77863,#d87a64,#d87b64,#d97c65,#d97c65,#d97d66)}
.t142{background:linear-gradient(90deg,#ce5f50,#ce6051,#cf6151,#cf6252,#d06453,#d06554,#d16655,#d16756,#d16857,#d26a58,#d26b59,#d36c5a,#d36e5b,#d46f5c,#d4705d,#d5725e,#d5735f,#d67460,#d67560)}
.t143{background:linear-gradient(90deg,#cb584b,#cb594c,#cc5a4c,#cc5b4d,#cd5c4e,#cd5d4f,#ce5f4f,#ce6050,#cf6151,#cf6252,#d06353,#d06554,#d06655,#d16756,#d16857,#d26958,#d26b58,#d36c59,#d36d5a)}
.t144{background:linear-gradient(90deg,#c85249,#c95349,#c9544a,#ca554a,#ca564a,#cb574b,#cb584b,#cc594c,#cc5a4c,#cd5c4d,#cd5d4e,#ce5e4f,#ce5f50,#ce6051,#cf6252,#cf6353,#d06454,#d06554,#d16655)}
.t145{background:linear-gradient(90deg,#c64c47,#c64d47,#c64e47,#c74e48,#c74f48,#c85048,#c85149,#c95349,#c9544a,#ca554a,#ca564b,#cb574b,#cb594c,#cc5a4c,#cc5b4d,#cd5c4e,#cd5e4f,#ce5f50,#ce6050)}
.t146{background:linear-gradient(90deg,#c34645,#c34745,#c44745,#c44845,#c44946,#c54a46,#c54b47,#c64c47,#c64d47,#c74f48,#c75048,#c85149,#c85249,#c9534a,#ca554a,#ca564a,#cb574b,#cb584b,#cc594c)}
.t147{background:linear-gradient(90deg,#c04042,#c04143,#c04143,#c14243,#c14243,#c14344,#c24444,#c34645,#c34745,#c44845,#c44946,#c54a46,#c54c47,#c64d47,#c74e48,#c74f48,#c85049,#c85249,#c95349)}
.t148{background:linear-gradient(90deg,#bc3a40,#bc3b40,#bc3b40,#bd3b40,#bd3c40,#bd3d41,#be3e41,#bf3f42,#c04042,#c04143,#c14343,#c24444,#c24544,#c34645,#c44745,#c44946,#c54a46,#c54b47,#c64c47)}
.t149{background:linear-gradient(90deg,#b8353d,#b8353d,#b8353d,#b9353d,#b9353d,#b9363e,#ba373e,#bb383f,#bb3a3f,#bc3b40,#bd3c40,#be3d41,#be3e41,#bf4042,#c04143,#c14243,#c24344,#c24444,#c34645)}
.t150{background:linear-gradient(90deg,#b52f3a,#b52f3a,#b52f3a,#b52f3a,#b52f3a,#b52f3b,#b6313b,#b6323c,#b7333c,#b8343d,#b9363d,#ba373e,#ba383f,#bb393f,#bc3a40,#bd3c40,#bd3d41,#be3e41,#bf3f42)}
.t151{background:linear-gradient(90deg,#b02c38,#b02c38,#b02c38,#b02c38,#b02c38,#b02c38,#b12d39,#b22d39,#b32e3a,#b42e3a,#b52f3b,#b6303b,#b6323c,#b7333c,#b8343d,#b8353d,#b9363d,#b9363e,#ba373e)}
.t152{background:linear-gradient(90deg,#ab2a36,#ab2a36,#ab2a36,#ab2a36,#ab2a36,#ab2a36,#ac2b37,#ad2b37,#ae2c38,#af2c38,#b02c38,#b12d39,#b22d39,#b32e3a,#b32e3a,#b42e3a,#b42e3a,#b52f3a,#b52f3b)}
.t153{background:linear-gradient(90deg,#a62834,#a62834,#a62834,#a62834,#a62834,#a72834,#a82935,#a82935,#a92a36,#aa2a36,#ab2a36,#ac2b37,#ad2b37,#ae2c38,#af2c38,#af2c38,#af2c38,#af2c38,#af2c38)}
.b0_0{background:linear-gradient(90deg,#d9e6ec,#d9e6ec,#d9e6ec,#d9e6ec,#d9e6ec,#d9e6ec,#dbe7ed,#dde8ed,#e1eaee,#e4ebee,#e9eced,#eeeeed,#f3f0ec,#f2e8df,#f0e0d2,#ecd0bb,#e8c0a6,#e4b092,#e19779)}
.b0_1{background:linear-gradient(90deg,#d8e6ec,#d8e6ec,#d8e6ec,#d8e6ec,#d8e6ec,#d8e6ec,#dae7ed,#dce8ed,#e0e9ee,#e3eaee,#e7eced,#eceeed,#f1efec,#f2eae3,#f0e2d6,#edd4c2,#e9c5ac,#e6b599,#e2a082)}
.b0_2{background:linear-gradient(90deg,#d7e6ec,#d7e5ec,#d7e5ec,#d7e5ec,#d7e5ec,#d7e5ec,#d8e6ec,#dae7ed,#dee9ee,#e1eaee,#e6ebed,#ebeded,#f0efec,#f2ede7,#f1e4d9,#eed9c8,#eacab3,#e7bba0,#e3a98b)}
.b0_3{background:linear-gradient(90deg,#d6e5ec,#d6e5ec,#d6e5ec,#d6e5eb,#d6e5eb,#d6e5ec,#d7e6ec,#d9e6ec,#dde8ed,#e0e9ee,#e5ebed,#e9eded,#efeeec,#f3efea,#f1e7dd,#efdecf,#ecceba,#e8c0a6,#e5b093)}
.b0_4{background:linear-gradient(90deg,#d6e5eb,#d5e5eb,#d5e5eb,#d5e4eb,#d5e4eb,#d5e4eb,#d6e5ec,#d8e6ec,#dbe7ed,#dee9ee,#e3eaee,#e8eced,#edeeed,#f2f0ec,#f2e9e1,#f0e1d4,#edd3c0,#e9c5ad,#e6b69a)}
.b0_5{background:linear-gradient(90deg,#d5e4eb,#d5e4eb,#d4e4eb,#d4e4eb,#d4e4eb,#d4e4eb,#d5e4eb,#d6e5ec,#d9e6ec,#dce8ed,#e2eaee,#e7eced,#eceded,#f1efec,#f2ebe4,#f1e4d8,#eed8c7,#eacab4,#e7bba0)}
.b0_6{background:linear-gradient(90deg,#d4e4eb,#d4e4eb,#d3e4eb,#d3e4eb,#d3e3eb,#d3e3eb,#d3e4eb,#d5e4eb,#d7e6ec,#dae7ed,#e0e9ee,#e5ebed,#eaeded,#efefec,#f3eee8,#f1e6dc,#efddcd,#eccfba,#e8c1a7)}
.b0_7{background:linear-gradient(90deg,#d3e4eb,#d3e4eb,#d2e3eb,#d2e3ea,#d1e3ea,#d2e3ea,#d2e3ea,#d3e4eb,#d6e5eb,#d8e6ec,#dfe9ee,#e4ebee,#e9eced,#eeeeec,#f3f0ec,#f2e8df,#f0e1d3,#edd3c1,#e9c5ad)}
.b0_8{background:linear-gradient(90deg,#d2e3eb,#d2e3ea,#d1e3ea,#d1e3ea,#d0e2ea,#d0e2ea,#d1e3ea,#d2e3ea,#d4e4eb,#d6e5ec,#dde8ed,#e2eaee,#e7eced,#edeeed,#f2f0ec,#f2ebe3,#f1e3d7,#eed8c7,#ebcab4)}
.b0_9{background:linear-gradient(90deg,#d1e3ea,#d1e3ea,#d0e2ea,#d0e2ea,#cfe2ea,#cfe2ea,#cfe2ea,#d0e2ea,#d2e3ea,#d4e4eb,#dbe7ed,#e0e9ee,#e5ebed,#ebeded,#efefec,#f3eee9,#f1e7dd,#f0e0d2,#edd2bf)}
.b0_10{background:linear-gradient(90deg,#d0e2ea,#cfe2ea,#cfe2e9,#cee1e9,#cde1e9,#cde1e9,#cee1e9,#cfe2e9,#d0e2ea,#d2e3ea,#d8e6ec,#dee9ee,#e3eaee,#e8eced,#edeeed,#f1efec,#f2ebe4,#f1e4d9,#efdbcb)}
.b0_11{background:linear-gradient(90deg,#cee1e9,#cee1e9,#cde1e9,#cce1e9,#cce0e9,#cce0e9,#cce1e9,#cde1e9,#cfe2e9,#d0e2ea,#d6e5eb,#dbe7ed,#e1eaee,#e5ebed,#eaeded,#efeeec,#f3f0eb,#f2e9e0,#f0e2d5)}
.b0_12{background:linear-gradient(90deg,#cde1e9,#cce1e9,#cce0e9,#cbe0e8,#cae0e8,#cae0e8,#cae0e8,#cbe0e9,#cde1e9,#cee1e9,#d3e4eb,#d8e6ec,#dee9ee,#e3eaee,#e7eced,#eceeed,#f1efec,#f3ede8,#f1e7dd)}
.b0_13{background:linear-gradient(90deg,#cbe0e9,#cbe0e8,#cae0e8,#c9dfe8,#c8dfe8,#c8dfe8,#c9dfe8,#cadfe8,#cbe0e8,#cce1e9,#d1e3ea,#d5e5eb,#dbe7ed,#e0e9ee,#e5ebed,#e9eded,#eeeeed,#f2f0ec,#f2ebe4)}
.b0_14{background:linear-gradient(90deg,#cadfe8,#c9dfe8,#c9dfe8,#c8dfe8,#c7dee7,#c7dee7,#c7dee7,#c8dfe8,#c9dfe8,#cae0e8,#cee2e9,#d3e3eb,#d8e6ec,#dde8ee,#e2eaee,#e7eced,#ebeded,#efefec,#f3f0ec)}
.b0_15{background:linear-gradient(90deg,#c8dfe8,#c8dfe8,#c7dee7,#c6dee7,#c5dde7,#c5dde7,#c5dee7,#c6dee7,#c7dee7,#c8dfe8,#cce0e9,#d0e2ea,#d5e4eb,#dae7ed,#dfe9ee,#e4ebed,#e9eced,#eceeed,#f0efec)}
.b0_16{background:linear-gradient(90deg,#c6dee7,#c5dde7,#c5dde7,#c4dde7,#c3dce6,#c3dce6,#c3dce6,#c4dde6,#c5dde7,#c5dee7,#c9dfe8,#cce1e9,#d1e3ea,#d6e5eb,#dbe7ed,#e1eaee,#e5ebed,#e9eced,#edeeed)}
.b0_17{background:linear-gradient(90deg,#c3dde6,#c3dce6,#c2dce6,#c1dbe6,#c0dbe5,#c0dbe5,#c0dbe5,#c1dbe6,#c2dce6,#c2dce6,#c6dee7,#c9dfe8,#cde1e9,#d1e3ea,#d7e5ec,#dce8ed,#e1eaee,#e5ebed,#e9eced)}
.b0_18{background:linear-gradient(90deg,#c0dbe5,#bfdae5,#bfdae5,#bedae4,#bdd9e4,#bcd9e4,#bdd9e4,#bdd9e4,#bedae4,#bfdae5,#c2dce6,#c5dde7,#c9dfe8,#cde1e9,#d2e3ea,#d7e6ec,#dde8ed,#e1eaee,#e5ebed)}
.b0_19{background:linear-gradient(90deg,#bdd9e4,#bcd8e4,#bbd8e4,#bad8e3,#b9d7e3,#b9d7e3,#b9d7e3,#bad7e3,#bad7e3,#bbd8e3,#bedae5,#c1dce6,#c5dde7,#c9dfe8,#cde1e9,#d2e3ea,#d7e6ec,#dde8ed,#e1eaee)}
.b0_20{background:linear-gradient(90deg,#b9d7e3,#b8d6e2,#b8d6e2,#b7d6e2,#b6d5e2,#b6d5e2,#b6d5e2,#b6d5e2,#b6d5e2,#b7d5e2,#bad7e3,#bdd9e4,#c1dbe6,#c5dde7,#c9dfe8,#cde1e9,#d2e3ea,#d7e5ec,#dce8ed)}
.b0_21{background:linear-gradient(90deg,#b6d5e2,#b5d5e1,#b4d4e1,#b4d4e1,#b3d3e1,#b3d3e0,#b3d3e0,#b3d3e0,#b3d3e0,#b3d3e0,#b5d5e1,#b8d6e2,#bcd8e4,#c0dbe5,#c4dde7,#c8dfe8,#cce1e9,#d1e3ea,#d7e5ec)}
.b0_22{background:linear-gradient(90deg,#b5d5e1,#b4d4e1,#b4d4e1,#b3d3e0,#b2d3e0,#b2d3e0,#b2d2e0,#b1d2e0,#b1d2e0,#b1d2e0,#b3d3e1,#b5d5e1,#b8d6e2,#bbd8e4,#bfdae5,#c3dce6,#c6dee7,#cae0e8,#cfe2e9)}
.b0_23{background:linear-gradient(90deg,#b4d4e1,#b4d4e1,#b3d3e0,#b2d3e0,#b1d2e0,#b1d2e0,#b0d2df,#b0d2df,#b0d1df,#afd1df,#b1d2e0,#b2d3e0,#b4d4e1,#b7d5e2,#b9d7e3,#bdd9e4,#c0dbe5,#c4dde6,#c7dee7)}
.b0_24{background:linear-gradient(90deg,#b4d4e1,#b3d3e0,#b2d3e0,#b1d2e0,#b0d2df,#b0d1df,#afd1df,#afd1df,#aed1df,#aed0df,#aed1df,#afd1df,#b1d2e0,#b2d3e0,#b4d4e1,#b6d5e2,#b8d6e2,#bbd8e3,#bed9e4)}
.b0_25{background:linear-gradient(90deg,#b3d3e1,#b2d3e0,#b1d2e0,#b0d2df,#afd1df,#aed1df,#aed0df,#add0de,#add0de,#accfde,#accfde,#accfde,#add0de,#aed0de,#aed1df,#afd1df,#b0d2df,#b2d3e0,#b3d3e1)}
.b0_26{background:linear-gradient(90deg,#b3d3e0,#b1d2e0,#b0d2e0,#afd1df,#aed1df,#add0de,#add0de,#accfde,#abcfde,#aacedd,#aacedd,#a9cedd,#a9cedd,#a9cedd,#a9cddd,#a8cddd,#a8cddd,#a9cddd,#a9cddd)}
.b0_27{background:linear-gradient(90deg,#b2d3e0,#b1d2e0,#b0d1df,#aed1df,#add0de,#accfde,#abcfde,#abcedd,#aacedd,#a9cddd,#a8cddc,#a6ccdc,#a5cbdb,#a4cbdb,#a3cadb,#a2c9da,#a0c9da,#9fc8d9,#9ec7d9)}
.b0_28{background:linear-gradient(90deg,#b1d2e0,#b0d2df,#afd1df,#aed0de,#accfde,#abcfde,#aacedd,#a9cedd,#a8cddc,#a7ccdc,#a5cbdb,#a3cadb,#a2c9da,#a0c8d9,#9ec7d9,#9bc5d8,#98c3d7,#96c2d6,#93c0d5)}
.b0_29{background:linear-gradient(90deg,#b1d2e0,#afd1df,#aed0df,#add0de,#abcfde,#aacedd,#a9cedd,#a8cddc,#a7ccdc,#a5cbdb,#a3cadb,#a0c8da,#9ec7d9,#9bc5d8,#98c3d6,#94c0d5,#90bed3,#8cbbd2,#88b8d0)}
.b0_30{background:linear-gradient(90deg,#b0d1df,#afd1df,#add0de,#accfde,#aacedd,#a9cedd,#a8cddc,#a6ccdc,#a5cbdb,#a4cbdb,#a1c9da,#9dc7d8,#9ac5d7,#96c2d6,#92bfd4,#8cbbd2,#87b8d0,#81b4ce,#7cb1cc)}
.b0_31{background:linear-gradient(90deg,#b1d2e0,#b0d1df,#aed0df,#accfde,#abcfdd,#a9cedd,#a8cddc,#a6ccdc,#a5cbdb,#a3cadb,#9fc8d9,#9bc6d8,#97c3d6,#93c0d5,#8dbcd2,#87b8d0,#80b4cd,#7aafcb,#73abc8)}
.b0_32{background:linear-gradient(90deg,#b3d3e0,#b1d2e0,#afd1df,#add0de,#abcfde,#a9cedd,#a8cddc,#a6ccdc,#a4cbdb,#a3cada,#9ec7d9,#9ac4d7,#95c1d5,#90bed3,#8abad1,#82b5ce,#7ab0cb,#73aac8,#6da6c5)}
.b0_33{background:linear-gradient(90deg,#b5d4e1,#b2d3e0,#b0d2df,#aed0df,#accfde,#a9cedd,#a8cddc,#a6ccdc,#a4cbdb,#a2cada,#9dc7d8,#98c3d6,#92c0d4,#8dbcd2,#86b7d0,#7db1cc,#74acc9,#6da6c6,#66a1c2)}
.b0_34{background:linear-gradient(90deg,#b6d5e2,#b4d4e1,#b1d2e0,#afd1df,#accfde,#aacedd,#a8cddc,#a6ccdc,#a4cadb,#a2c9da,#9cc6d8,#96c2d6,#90bed3,#8abad1,#82b5ce,#78aeca,#6fa8c7,#67a2c3,#609bbf)}
.b0_35{background:linear-gradient(90deg,#b8d6e2,#b5d5e1,#b2d3e0,#afd1df,#accfde,#aacedd,#a8cddc,#a5cbdb,#a3cadb,#a1c9da,#9bc5d8,#94c1d5,#8ebcd3,#87b8d0,#7eb2cd,#73abc8,#6aa4c4,#629dc0,#5996bc)}
.b0_36{background:linear-gradient(90deg,#bad7e3,#b7d5e2,#b3d4e1,#b0d2df,#add0de,#aacedd,#a8cddc,#a5cbdb,#a3cadb,#a1c9da,#9ac5d7,#93c0d4,#8bbbd2,#84b6cf,#7aafcb,#6fa8c7,#65a0c2,#5c99bd,#5391b9)}
.b0_37{background:linear-gradient(90deg,#bbd8e4,#b8d6e2,#b5d4e1,#b1d2e0,#aed0df,#abcfdd,#a8cddc,#a5cbdb,#a3cadb,#a0c8da,#99c4d7,#92bfd4,#8abad1,#82b5ce,#78aeca,#6da6c6,#649fc1,#5a97bc,#5190b8)}
.b0_38{background:linear-gradient(90deg,#bdd9e4,#b9d7e3,#b6d5e2,#b2d3e0,#afd1df,#accfde,#a9cddd,#a6ccdc,#a3cada,#a0c8d9,#98c4d7,#91bed4,#89b9d1,#81b4ce,#77aeca,#6da6c5,#639ec1,#5997bc,#508fb7)}
.b0_39{background:linear-gradient(90deg,#bedae4,#bad8e3,#b7d6e2,#b4d4e1,#b0d2df,#add0de,#a9cedd,#a6ccdc,#a3cada,#9fc8d9,#98c3d6,#90bed3,#88b9d0,#80b4cd,#76adca,#6ca5c5,#629ec0,#5996bc,#508eb7)}
.b0_40{background:linear-gradient(90deg,#bfdae5,#bcd8e4,#b8d6e2,#b5d4e1,#b2d2e0,#aed0df,#aacedd,#a6ccdc,#a3cada,#9fc8d9,#97c3d6,#8fbdd3,#87b8d0,#7fb3cd,#75acc9,#6ba5c5,#629dc0,#5896bb,#508eb7)}
.b0_41{background:linear-gradient(90deg,#c0dbe5,#bdd9e4,#bad7e3,#b6d5e2,#b3d3e0,#afd1df,#abcfdd,#a7ccdc,#a2cada,#9ec7d9,#96c2d6,#8ebdd3,#86b8d0,#7eb2cd,#74abc9,#6aa4c4,#619cc0,#5795bb,#508db7)}
.b0_42{background:linear-gradient(90deg,#c2dce6,#bedae5,#bbd8e3,#b7d6e2,#b4d4e1,#b0d2df,#abcfde,#a7ccdc,#a2cada,#9ec7d9,#96c2d6,#8ebcd2,#85b7cf,#7db1cc,#73abc8,#69a3c4,#609cbf,#5794bb,#4f8db6)}
.b0_43{background:linear-gradient(90deg,#c2dce6,#bfdae5,#bcd8e4,#b9d7e3,#b5d5e1,#b1d2e0,#add0de,#a8cddc,#a3cadb,#9fc7d9,#97c2d6,#8ebdd3,#86b7d0,#7eb2cd,#74abc9,#6aa4c4,#619dc0,#5896bb,#508eb7)}
.b0_44{background:linear-gradient(90deg,#c3dce6,#c0dbe5,#bdd9e4,#bad7e3,#b6d5e2,#b3d3e0,#aed0df,#a9cedd,#a5cbdb,#a0c8da,#98c4d7,#90bed3,#88b9d0,#80b3cd,#76adc9,#6ca5c5,#639fc1,#5b98bd,#5291b8)}
.b0_45{background:linear-gradient(90deg,#c3dce6,#c0dbe5,#bed9e4,#bbd8e3,#b8d6e2,#b4d4e1,#afd1df,#abcfdd,#a6ccdc,#a2c9da,#9ac5d7,#92bfd4,#8abad1,#81b4ce,#78aeca,#6ea7c6,#66a0c2,#5d9abe,#5593ba)}
.b0_46{background:linear-gradient(90deg,#c3dde6,#c1dbe6,#bedae5,#bcd8e4,#b9d7e3,#b5d5e1,#b1d2e0,#accfde,#a8cddc,#a3cadb,#9cc6d8,#93c0d5,#8bbbd2,#83b5ce,#7aafcb,#70a8c7,#68a2c3,#609cbf,#5895bb)}
.b0_47{background:linear-gradient(90deg,#c4dde7,#c2dce6,#bfdae5,#bdd9e4,#bad7e3,#b7d5e2,#b2d3e0,#aed0de,#a9cedd,#a5cbdb,#9dc7d8,#95c1d5,#8dbcd2,#85b6cf,#7cb0cc,#72aac8,#6aa4c4,#629ec0,#5b97bd)}
.b0_48{background:linear-gradient(90deg,#c4dde7,#c2dce6,#c0dbe5,#bed9e4,#bbd8e4,#b8d6e2,#b3d4e1,#afd1df,#abcedd,#a6ccdc,#9fc8d9,#97c3d6,#8fbdd3,#86b8d0,#7eb2cc,#74abc9,#6ca5c5,#65a0c2,#5d9abe)}
.b0_49{background:linear-gradient(90deg,#c5dde7,#c3dce6,#c1dbe6,#bedae5,#bcd9e4,#b9d7e3,#b5d4e1,#b0d2e0,#accfde,#a8cddc,#a1c9da,#99c4d7,#91bfd4,#89b9d1,#80b3cd,#77adca,#6fa7c6,#68a2c3,#609cbf)}
.b0_50{background:linear-gradient(90deg,#c5dde7,#c3dde6,#c2dce6,#bfdae5,#bdd9e4,#bad7e3,#b6d5e1,#b2d3e0,#aed0df,#aacedd,#a3cada,#9bc6d8,#93c0d5,#8bbbd2,#83b5ce,#7aafcb,#71aac8,#6ba4c4,#649fc1)}
.b0_51{background:linear-gradient(90deg,#c6dee7,#c4dde7,#c2dce6,#c0dbe5,#bed9e4,#bbd8e3,#b7d6e2,#b3d3e1,#b0d1df,#accfde,#a5cbdb,#9ec7d9,#96c2d6,#8ebdd3,#86b7d0,#7db1cc,#75acc9,#6da6c6,#67a1c3)}
.b0_52{background:linear-gradient(90deg,#c6dee7,#c5dde7,#c3dce6,#c1dbe5,#bedae5,#bbd8e4,#b8d6e2,#b5d4e1,#b1d2e0,#aed0df,#a7ccdc,#a0c8d9,#98c4d7,#91bed4,#89b9d1,#80b4cd,#78aeca,#70a9c7,#6aa4c4)}
.b0_53{background:linear-gradient(90deg,#c7dee7,#c5dde7,#c3dde6,#c1dce6,#bfdae5,#bcd9e4,#b9d7e3,#b6d5e2,#b3d3e0,#b0d1df,#a9cddd,#a2c9da,#9bc5d8,#93c0d5,#8bbbd2,#83b6cf,#7bb0cc,#73abc9,#6da6c6)}
.b0_54{background:linear-gradient(90deg,#c7dee8,#c6dee7,#c4dde7,#c2dce6,#c0dbe5,#bdd9e4,#bad7e3,#b7d6e2,#b4d4e1,#b2d2e0,#abcfdd,#a4cbdb,#9dc7d8,#96c2d6,#8ebdd3,#86b8d0,#7fb3cd,#77adca,#70a8c7)}
.b0_55{background:linear-gradient(90deg,#c8dfe8,#c6dee7,#c4dde7,#c2dce6,#c0dbe5,#bedae4,#bbd8e3,#b8d6e2,#b6d5e1,#b3d3e0,#accfde,#a5cbdb,#9fc8d9,#98c3d6,#90bed3,#89b9d1,#81b4ce,#7aafcb,#72aac8)}
.b0_56{background:linear-gradient(90deg,#c8dfe8,#c6dee7,#c5dde7,#c3dce6,#c1dbe5,#bedae5,#bbd8e4,#b9d7e3,#b6d5e2,#b3d3e1,#add0de,#a6ccdc,#9fc8d9,#98c4d7,#91bfd4,#8abad1,#82b5ce,#7bb0cb,#73abc8)}
.b0_57{background:linear-gradient(90deg,#c9dfe8,#c7dee7,#c5dde7,#c3dce6,#c1dbe6,#bedae5,#bcd8e4,#b9d7e3,#b6d5e2,#b4d4e1,#add0de,#a6ccdc,#a0c8d9,#99c4d7,#92bfd4,#8abad1,#83b5ce,#7bb0cc,#74abc9)}
.b0_58{background:linear-gradient(90deg,#c9dfe8,#c7dee7,#c5dde7,#c3dde6,#c1dce6,#bfdae5,#bcd8e4,#b9d7e3,#b7d5e2,#b4d4e1,#add0de,#a7ccdc,#a1c9da,#9ac5d7,#93c0d4,#8bbbd2,#84b6cf,#7cb1cc,#75acc9)}
.b0_59{background:linear-gradient(90deg,#c9dfe8,#c7dee7,#c5dee7,#c4dde6,#c2dce6,#bfdae5,#bcd9e4,#bad7e3,#b7d6e2,#b4d4e1,#aed0df,#a8cddc,#a1c9da,#9bc5d8,#94c0d5,#8cbbd2,#85b6cf,#7db1cc,#76acc9)}
.b0_60{background:linear-gradient(90deg,#cadfe8,#c8dfe8,#c6dee7,#c4dde7,#c2dce6,#bfdae5,#bdd9e4,#bad7e3,#b7d6e2,#b4d4e1,#aed1df,#a8cddc,#a2c9da,#9cc6d8,#94c1d5,#8dbcd2,#85b7cf,#7eb2cd,#77adca)}
.b0_61{background:linear-gradient(90deg,#cae0e8,#c8dfe8,#c6dee7,#c4dde7,#c2dce6,#c0dbe5,#bdd9e4,#bad7e3,#b7d6e2,#b5d4e1,#afd1df,#a9cddd,#a2cada,#9cc6d8,#95c1d5,#8ebdd3,#86b8d0,#7fb3cd,#77aeca)}
.b0_62{background:linear-gradient(90deg,#cae0e8,#c8dfe8,#c6dee7,#c4dde7,#c2dce6,#c0dbe5,#bdd9e4,#bad8e3,#b8d6e2,#b5d5e1,#afd1df,#a9cedd,#a3cadb,#9dc7d8,#96c2d6,#8fbdd3,#87b8d0,#80b3cd,#78aeca)}
.b0_63{background:linear-gradient(90deg,#cbe0e8,#c9dfe8,#c7dee7,#c5dde7,#c3dce6,#c0dbe5,#bdd9e4,#bbd8e3,#b8d6e2,#b5d5e1,#afd1df,#aacedd,#a4cadb,#9ec7d9,#97c3d6,#8fbed3,#88b9d0,#81b4ce,#79afcb)}
.b0_64{background:linear-gradient(90deg,#cbe0e9,#c9dfe8,#c7dee7,#c5dde7,#c3dce6,#c0dbe5,#bedae4,#bbd8e3,#b8d6e2,#b6d5e1,#b0d2df,#aacedd,#a4cbdb,#9ec7d9,#98c3d6,#90bed4,#89b9d1,#81b4ce,#7aafcb)}
.b0_65{background:linear-gradient(90deg,#cbe0e9,#c9dfe8,#c7dee7,#c5dde7,#c3dde6,#c1dbe6,#bedae5,#bcd8e4,#b9d7e3,#b6d5e2,#b0d2e0,#abcedd,#a5cbdb,#9fc8d9,#99c4d7,#91bfd4,#8abad1,#83b5ce,#7bb0cb)}
.b0_66{background:linear-gradient(90deg,#cce0e9,#cadfe8,#c8dfe8,#c6dee7,#c4dde6,#c1dce6,#bfdae5,#bcd9e4,#b9d7e3,#b7d6e2,#b1d2e0,#abcfde,#a6ccdc,#a0c8d9,#9ac4d7,#92c0d4,#8bbbd2,#84b6cf,#7db1cc)}
.b0_67{background:linear-gradient(90deg,#cce1e9,#cae0e8,#c8dfe8,#c6dee7,#c4dde7,#c2dce6,#bfdae5,#bdd9e4,#bad7e3,#b8d6e2,#b2d3e0,#accfde,#a6ccdc,#a1c9da,#9ac5d7,#94c0d5,#8dbcd2,#86b7d0,#7fb3cd)}
.b0_68{background:linear-gradient(90deg,#cde1e9,#cae0e8,#c8dfe8,#c6dee7,#c4dde7,#c2dce6,#c0dbe5,#bdd9e4,#bbd8e3,#b8d6e2,#b3d3e0,#add0de,#a7ccdc,#a1c9da,#9bc6d8,#95c1d5,#8ebdd3,#87b8d0,#81b4ce)}
.b0_69{background:linear-gradient(90deg,#cde1e9,#cbe0e8,#c9dfe8,#c7dee7,#c5dde7,#c3dce6,#c0dbe5,#bedae4,#bbd8e4,#b9d7e3,#b3d3e1,#add0de,#a8cddc,#a2c9da,#9cc6d8,#96c2d6,#8fbed3,#89b9d1,#82b5ce)}
.b0_70{background:linear-gradient(90deg,#cde1e9,#cbe0e9,#c9dfe8,#c7dee7,#c5dde7,#c3dce6,#c1dbe6,#bedae5,#bcd9e4,#bad7e3,#b4d4e1,#aed1df,#a8cddd,#a3cada,#9dc7d8,#97c3d6,#91bed4,#8abad1,#84b6cf)}
.b0_71{background:linear-gradient(90deg,#cee1e9,#cce0e9,#c9dfe8,#c7dee7,#c5dde7,#c3dde6,#c1dce6,#bfdae5,#bdd9e4,#bad8e3,#b5d4e1,#afd1df,#a9cedd,#a3cadb,#9ec7d9,#98c3d6,#92bfd4,#8cbbd2,#86b7d0)}
.b0_72{background:linear-gradient(90deg,#cee1e9,#cce0e9,#c9dfe8,#c7dee7,#c5dee7,#c3dde6,#c1dce6,#bfdae5,#bdd9e4,#bad8e3,#b5d4e1,#afd1df,#a9cedd,#a3cadb,#9ec7d9,#98c3d7,#92bfd4,#8cbbd2,#86b7d0)}
.b0_73{background:linear-gradient(90deg,#cee1e9,#cce0e9,#c9dfe8,#c7dee7,#c5dee7,#c3dde6,#c1dce6,#bfdae5,#bdd9e4,#bad8e3,#b5d4e1,#afd1df,#a9cedd,#a3cadb,#9ec7d9,#98c3d7,#92bfd4,#8cbbd2,#86b7d0)}
.b0_74{background:linear-gradient(90deg,#cee1e9,#cce0e9,#c9dfe8,#c7dee7,#c5dee7,#c3dde6,#c1dce6,#bfdae5,#bdd9e4,#bad8e3,#b5d4e1,#afd1df,#a9cedd,#a3cadb,#9ec7d9,#98c3d7,#92bfd4,#8cbbd2,#86b7d0)}
.b0_75{background:linear-gradient(90deg,#cee1e9,#cce0e9,#c9dfe8,#c7dee7,#c5dee7,#c3dde6,#c1dce6,#bfdae5,#bdd9e4,#bad8e3,#b5d4e1,#afd1df,#a9cedd,#a3cadb,#9ec7d9,#98c3d7,#92bfd4,#8cbbd2,#86b7d0)}
.b0_76{background:linear-gradient(90deg,#cee1e9,#cce0e9,#c9dfe8,#c7dee7,#c5dee7,#c3dde6,#c1dce6,#bfdae5,#bdd9e4,#bad8e3,#b5d4e1,#afd1df,#a9cedd,#a3cadb,#9ec7d9,#98c3d7,#92bfd4,#8cbbd2,#86b7d0)}
.b1_0{background:linear-gradient(90deg,#d9e6ec,#dae7ed,#dae7ed,#dbe7ed,#dbe7ed,#dce8ed,#dde8ed,#dee9ee,#dfe9ee,#e0e9ee,#e1eaee,#e3eaee,#e4ebee,#e5ebed,#e7eced,#eaeded,#eceeed,#efeeec,#f1efec)}
.b1_1{background:linear-gradient(90deg,#d4e4eb,#d5e4eb,#d5e5eb,#d6e5ec,#d7e5ec,#d8e6ec,#d9e6ec,#dae7ed,#dbe7ed,#dce8ed,#dee9ee,#e0e9ee,#e1eaee,#e3eaee,#e5ebed,#e8eced,#ebeded,#edeeed,#f0efec)}
.b1_2{background:linear-gradient(90deg,#cfe2ea,#d0e2ea,#d1e3ea,#d1e3ea,#d2e3ea,#d3e4eb,#d4e4eb,#d5e5eb,#d6e5ec,#d8e6ec,#dae7ed,#dde8ed,#dfe9ee,#e1eaee,#e3eaee,#e6eced,#e9eded,#eceeed,#efefec)}
.b1_3{background:linear-gradient(90deg,#cae0e8,#cbe0e8,#cce0e9,#cde1e9,#cee1e9,#cfe2e9,#d0e2ea,#d1e3ea,#d2e3ea,#d3e4eb,#d6e5ec,#d9e6ec,#dce7ed,#dee9ee,#e1eaee,#e4ebed,#e8eced,#ebeded,#eeeeec)}
.b1_4{background:linear-gradient(90deg,#c5dde7,#c6dee7,#c7dee7,#c8dfe8,#c9dfe8,#cae0e8,#cbe0e9,#cde1e9,#cee1e9,#cfe2ea,#d2e3ea,#d5e5eb,#d8e6ec,#dbe7ed,#dfe9ee,#e3eaee,#e6eced,#eaeded,#eeeeed)}
.b1_5{background:linear-gradient(90deg,#c0dbe5,#c1dbe6,#c2dce6,#c3dde6,#c5dde7,#c6dee7,#c7dee7,#c8dfe8,#c9dfe8,#cbe0e8,#cee1e9,#d1e3ea,#d5e4eb,#d8e6ec,#dce8ed,#e1eaee,#e5ebed,#e9eced,#edeeed)}
.b1_6{background:linear-gradient(90deg,#b9d7e3,#bbd8e3,#bcd9e4,#bedae4,#bfdae5,#c1dbe6,#c2dce6,#c4dde6,#c5dde7,#c6dee7,#cadfe8,#cde1e9,#d1e3ea,#d5e4eb,#d9e6ec,#dfe9ee,#e3ebee,#e8eced,#eceded)}
.b1_7{background:linear-gradient(90deg,#b3d3e0,#b4d4e1,#b6d5e2,#b8d6e2,#b9d7e3,#bbd8e3,#bdd9e4,#bedae5,#c0dbe5,#c2dce6,#c6dee7,#cadfe8,#cde1e9,#d1e3ea,#d6e5ec,#dde8ed,#e2eaee,#e6eced,#ebeded)}
.b1_8{background:linear-gradient(90deg,#abcfde,#add0de,#aed1df,#b0d2df,#b2d3e0,#b3d4e1,#b5d5e1,#b7d6e2,#b9d7e3,#bad8e3,#bfdbe5,#c4dde7,#c8dfe8,#cce1e9,#d2e3ea,#d9e6ec,#dfe9ee,#e4ebed,#e9eced)}
.b1_9{background:linear-gradient(90deg,#a4cadb,#a5cbdb,#a7ccdc,#a9cddd,#aacedd,#accfde,#aed0df,#afd1df,#b1d2e0,#b3d3e0,#b8d6e2,#bed9e4,#c3dce6,#c7dee7,#cde1e9,#d4e4eb,#dce7ed,#e2eaee,#e7eced)}
.b1_10{background:linear-gradient(90deg,#9cc6d8,#9ec7d9,#9fc8d9,#a1c9da,#a3cadb,#a5cbdb,#a6ccdc,#a8cddc,#aacedd,#abcfde,#b1d2e0,#b6d5e2,#bcd9e4,#c2dce6,#c8dfe8,#d0e2ea,#d8e6ec,#e0e9ee,#e5ebed)}
.b1_11{background:linear-gradient(90deg,#94c1d5,#96c2d6,#98c3d6,#99c4d7,#9bc6d8,#9dc7d8,#9fc8d9,#a0c9da,#a2cada,#a4cbdb,#aacedd,#afd1df,#b5d4e1,#bbd8e3,#c3dce6,#cbe0e9,#d4e4eb,#dce8ed,#e3eaee)}
.b1_12{background:linear-gradient(90deg,#8cbbd2,#8dbcd2,#8fbed3,#91bfd4,#93c0d5,#95c1d5,#97c3d6,#99c4d7,#9ac5d7,#9cc6d8,#a2cada,#a8cddc,#aed0df,#b4d4e1,#bdd9e4,#c7dee7,#d0e2ea,#d9e6ec,#e1eaee)}
.b1_13{background:linear-gradient(90deg,#83b6cf,#85b7cf,#87b8d0,#89b9d1,#8bbbd1,#8dbcd2,#8ebdd3,#90bed4,#92bfd4,#94c1d5,#9bc5d8,#a1c9da,#a7ccdc,#add0de,#b6d5e2,#c3dce6,#cce1e9,#d6e5eb,#dfe9ee)}
.b1_14{background:linear-gradient(90deg,#7fb3cd,#81b4ce,#83b5ce,#85b6cf,#86b8d0,#88b9d0,#8abad1,#8cbbd2,#8ebcd3,#90bed3,#96c2d6,#9cc6d8,#a2cada,#a8cddc,#b1d2e0,#bdd9e4,#c8dfe8,#d1e3ea,#dbe7ed)}
.b1_15{background:linear-gradient(90deg,#7bb0cc,#7db1cc,#7fb2cd,#80b4cd,#82b5ce,#84b6cf,#86b7d0,#88b8d0,#89bad1,#8bbbd2,#91bfd4,#97c3d6,#9dc7d8,#a3cada,#abcfde,#b8d6e2,#c4dde6,#cde1e9,#d6e5ec)}
.b1_16{background:linear-gradient(90deg,#78aeca,#79afcb,#7bb0cb,#7cb1cc,#7eb2cd,#80b3cd,#81b4ce,#83b6cf,#85b7cf,#87b8d0,#8dbcd2,#92c0d4,#98c3d6,#9dc7d9,#a6ccdc,#b2d3e0,#bfdae5,#c9dfe8,#d2e3ea)}
.b1_17{background:linear-gradient(90deg,#74abc9,#75acc9,#77adca,#78aeca,#7aafcb,#7bb0cc,#7db1cc,#7fb3cd,#81b4ce,#83b5ce,#88b9d0,#8dbcd2,#93c0d4,#98c3d6,#a1c9da,#add0de,#b9d7e3,#c4dde7,#cee1e9)}
.b1_18{background:linear-gradient(90deg,#70a9c7,#71aac8,#73aac8,#74abc9,#75acc9,#77adca,#79afcb,#7bb0cb,#7db1cc,#7fb2cd,#83b6cf,#88b9d0,#8dbcd2,#92bfd4,#9bc5d8,#a7cddc,#b3d4e1,#bfdbe5,#c9dfe8)}
.b1_19{background:linear-gradient(90deg,#6da6c6,#6ea7c6,#6fa8c7,#70a9c7,#71aac8,#73abc8,#75acc9,#77adca,#78aeca,#7ab0cb,#7fb3cd,#83b6cf,#88b9d0,#8cbbd2,#95c1d5,#a2c9da,#aed0df,#bad7e3,#c5dde7)}
.b1_20{background:linear-gradient(90deg,#6aa4c4,#6ba5c5,#6ca5c5,#6da6c6,#6ea7c6,#6fa8c7,#71a9c7,#72aac8,#74abc9,#76adca,#7aafcb,#7eb2cd,#82b5ce,#86b8d0,#8fbdd3,#9cc6d8,#a8cddc,#b4d4e1,#c0dbe5)}
.b1_21{background:linear-gradient(90deg,#67a2c3,#68a2c3,#69a3c4,#6aa4c4,#6ba4c5,#6ca5c5,#6ea7c6,#6fa8c7,#70a9c7,#72aac8,#76acc9,#79afcb,#7db1cc,#81b4ce,#89b9d1,#96c2d6,#a3cada,#aed1df,#bad7e3)}
.b1_22{background:linear-gradient(90deg,#68a2c3,#69a3c4,#69a3c4,#6aa4c4,#6ba4c4,#6ca5c5,#6da6c6,#6ea7c6,#70a8c7,#71a9c7,#74abc9,#77adca,#7aafcb,#7db2cc,#85b7cf,#91bfd4,#9dc7d9,#a8cddd,#b4d4e1)}
.b1_23{background:linear-gradient(90deg,#69a3c4,#69a3c4,#6aa4c4,#6aa4c4,#6aa4c4,#6ba5c5,#6ca5c5,#6da6c6,#6fa7c6,#70a8c7,#72aac8,#74acc9,#77adca,#7aafcb,#81b4ce,#8cbcd2,#98c3d6,#a3cada,#add0de)}
.b1_24{background:linear-gradient(90deg,#6aa4c4,#6aa4c4,#6aa4c4,#6aa4c4,#6aa4c4,#6ba4c4,#6ca5c5,#6da6c5,#6ea6c6,#6fa7c6,#70a9c7,#72aac8,#74acc9,#77adca,#7db1cc,#88b8d0,#92bfd4,#9dc6d8,#a6ccdc)}
.b1_25{background:linear-gradient(90deg,#6ba4c5,#6ba4c4,#6aa4c4,#6aa4c4,#6aa4c4,#6aa4c4,#6ba4c5,#6ca5c5,#6da6c5,#6da6c6,#6fa7c6,#70a9c7,#72aac8,#73abc8,#79afcb,#83b5ce,#8cbcd2,#96c2d6,#a0c8d9)}
.b1_26{background:linear-gradient(90deg,#6ca5c5,#6ba5c5,#6ba4c4,#6aa4c4,#6aa3c4,#6aa3c4,#6aa4c4,#6ba4c5,#6ca5c5,#6ca5c5,#6da6c6,#6ea7c6,#6fa8c7,#70a9c7,#75acc9,#7eb2cd,#87b8d0,#90bed3,#99c4d7)}
.b1_27{background:linear-gradient(90deg,#6da6c5,#6ca5c5,#6ba4c5,#6aa4c4,#69a3c4,#69a3c4,#6aa3c4,#6aa4c4,#6ba4c4,#6ba5c5,#6ca5c5,#6ca6c5,#6da6c6,#6ea6c6,#71a9c8,#79afcb,#81b4ce,#89b9d1,#91bfd4)}
.b1_28{background:linear-gradient(90deg,#6ea6c6,#6ca6c5,#6ba5c5,#6aa4c4,#69a3c4,#69a3c3,#69a3c4,#69a3c4,#6aa3c4,#6aa4c4,#6aa4c4,#6aa4c4,#6ba4c4,#6ba4c5,#6ea7c6,#74abc9,#7bb0cc,#83b5ce,#8abad1)}
.b1_29{background:linear-gradient(90deg,#6ea7c6,#6da6c6,#6ca5c5,#6aa4c4,#69a3c3,#68a2c3,#68a2c3,#68a2c3,#69a3c3,#69a3c4,#69a3c3,#68a2c3,#68a2c3,#68a2c3,#6ba4c4,#70a8c7,#76acc9,#7cb1cc,#83b5ce)}
.b1_30{background:linear-gradient(90deg,#6fa8c7,#6ea6c6,#6ca5c5,#6aa4c4,#68a2c3,#68a2c3,#68a2c3,#68a2c3,#68a2c3,#68a2c3,#67a1c3,#67a1c2,#66a1c2,#65a0c2,#67a2c3,#6ca5c5,#70a9c7,#76acc9,#7bb0cc)}
.b1_31{background:linear-gradient(90deg,#71a9c8,#6fa8c7,#6da6c6,#6ba5c5,#69a3c4,#68a2c3,#68a2c3,#68a2c3,#68a2c3,#67a2c3,#67a1c3,#66a1c2,#65a0c2,#649fc1,#66a1c2,#6aa4c4,#6ea7c6,#71aac8,#76adca)}
.b1_32{background:linear-gradient(90deg,#74abc9,#71a9c8,#6fa8c7,#6da6c5,#6aa4c4,#69a3c4,#69a3c3,#68a2c3,#68a2c3,#67a2c3,#67a1c2,#66a0c2,#65a0c2,#649fc1,#65a0c2,#68a2c3,#6ba4c5,#6ea7c6,#71a9c8)}
.b1_33{background:linear-gradient(90deg,#77adca,#74abc9,#71a9c7,#6ea7c6,#6ba5c5,#6aa4c4,#69a3c4,#69a3c3,#68a2c3,#67a2c3,#66a1c2,#65a0c2,#649fc1,#639ec1,#649fc1,#66a1c2,#68a2c3,#6ba4c5,#6da6c6)}
.b1_34{background:linear-gradient(90deg,#7aafcb,#76adca,#72aac8,#6fa8c7,#6da6c5,#6ba4c4,#6aa4c4,#69a3c4,#68a2c3,#67a2c3,#66a1c2,#65a0c2,#649fc1,#629ec0,#639ec1,#649fc1,#66a0c2,#68a2c3,#69a3c4)}
.b1_35{background:linear-gradient(90deg,#7cb1cc,#78aeca,#74acc9,#71a9c7,#6ea7c6,#6ca5c5,#6ba4c4,#6aa3c4,#68a2c3,#67a2c3,#66a1c2,#659fc1,#639ec1,#629dc0,#619dc0,#629ec0,#639ec1,#649fc1,#65a0c2)}
.b1_36{background:linear-gradient(90deg,#7fb3cd,#7bb0cb,#77adca,#72aac8,#6fa7c6,#6ca6c5,#6ba5c5,#6aa4c4,#69a3c3,#67a2c3,#66a0c2,#649fc1,#639ec1,#619dc0,#609cbf,#609cc0,#619cc0,#619dc0,#619dc0)}
.b1_37{background:linear-gradient(90deg,#82b5ce,#7db2cc,#79aecb,#74abc9,#70a8c7,#6da6c6,#6ca5c5,#6aa4c4,#69a3c4,#67a2c3,#66a0c2,#649fc1,#629dc0,#609cbf,#5f9bbf,#5f9bbf,#5e9abe,#5e9abe,#5d9abe)}
.b1_38{background:linear-gradient(90deg,#85b7cf,#80b3cd,#7bb0cb,#76adc9,#71a9c8,#6ea7c6,#6ca6c5,#6ba4c5,#69a3c4,#67a2c3,#65a0c2,#639fc1,#619dc0,#609bbf,#5e9abe,#5d99be,#5c98bd,#5a97bd,#5996bc)}
.b1_39{background:linear-gradient(90deg,#88b8d0,#82b5ce,#7db1cc,#78aeca,#73abc8,#70a8c7,#6ea7c6,#6ca5c5,#6aa4c4,#69a3c3,#66a1c2,#649fc1,#629dc0,#609cbf,#5e9abe,#5c99be,#5b98bd,#5996bc,#5895bb)}
.b1_40{background:linear-gradient(90deg,#8abad1,#85b6cf,#80b3cd,#7bb0cb,#76acc9,#72aac8,#70a8c7,#6ea7c6,#6ca5c5,#6aa4c4,#68a2c3,#66a0c2,#639ec1,#619cc0,#5f9bbf,#5d99be,#5b98bd,#5997bc,#5895bb)}
.b1_41{background:linear-gradient(90deg,#8cbbd2,#87b8d0,#82b5ce,#7db1cc,#78aeca,#74acc9,#72aac8,#70a8c7,#6ea7c6,#6ca5c5,#69a3c4,#67a1c3,#649fc1,#629dc0,#609bbf,#5e9abe,#5c98bd,#5a97bc,#5895bb)}
.b1_42{background:linear-gradient(90deg,#8ebdd3,#89bad1,#85b6cf,#80b3cd,#7bb0cb,#77adca,#74acc9,#72aac8,#70a8c7,#6ea7c6,#6ba5c5,#68a2c3,#66a0c2,#639ec1,#609cbf,#5e9abe,#5c99bd,#5a97bc,#5895bb)}
.b1_43{background:linear-gradient(90deg,#91bed4,#8cbbd2,#87b8d0,#82b5ce,#7db2cc,#7aafcb,#77adca,#74acc9,#72aac8,#70a8c7,#6da6c5,#6aa3c4,#67a1c3,#649fc1,#619dc0,#5f9bbf,#5c99bd,#5a97bc,#5895bb)}
.b1_44{background:linear-gradient(90deg,#93c0d4,#8ebdd3,#89bad1,#85b7cf,#80b3cd,#7cb1cc,#7aafcb,#77adca,#74abc9,#71a9c8,#6ea7c6,#6ba5c5,#68a2c3,#65a0c2,#629dc0,#5f9bbf,#5d99be,#5a97bc,#5895bb)}
.b1_45{background:linear-gradient(90deg,#95c1d5,#90bed4,#8cbbd2,#87b8d0,#83b5ce,#7fb3cd,#7cb1cc,#79afcb,#76adca,#73abc9,#70a8c7,#6ca6c5,#69a3c4,#66a0c2,#639ec1,#609cbf,#5d9abe,#5a97bd,#5895bb)}
.b1_46{background:linear-gradient(90deg,#97c3d6,#93c0d4,#8ebdd3,#8abad1,#85b7cf,#82b4ce,#7fb2cd,#7cb0cc,#79aeca,#76acc9,#71a9c8,#6ea7c6,#6aa4c4,#67a1c3,#639fc1,#619cc0,#5e9abe,#5b98bd,#5895bb)}
.b1_47{background:linear-gradient(90deg,#99c4d7,#94c1d5,#90bed3,#8bbbd2,#87b8d0,#83b6cf,#80b3cd,#7db1cc,#7aafcb,#77adca,#72aac8,#6fa7c6,#6ba5c5,#68a2c3,#649fc1,#619dc0,#5e9bbf,#5c98bd,#5996bc)}
.b1_48{background:linear-gradient(90deg,#9ac5d7,#96c2d6,#91bfd4,#8dbcd2,#89b9d1,#85b7cf,#82b5ce,#7fb2cd,#7bb0cc,#78aeca,#74abc9,#70a8c7,#6ca5c5,#68a3c3,#65a0c2,#629ec0,#5f9bbf,#5c99be,#5997bc)}
.b1_49{background:linear-gradient(90deg,#9bc5d8,#97c3d6,#93c0d5,#8fbdd3,#8bbad1,#87b8d0,#84b6cf,#80b3cd,#7db1cc,#7aafcb,#75acc9,#71a9c7,#6da6c6,#69a3c4,#66a1c2,#639ec1,#609cbf,#5d9abe,#5a97bd)}
.b1_50{background:linear-gradient(90deg,#9dc6d8,#98c4d7,#94c1d5,#90bed4,#8cbcd2,#89b9d1,#85b7cf,#82b5ce,#7eb2cd,#7bb0cb,#76adca,#72aac8,#6ea7c6,#6aa4c4,#67a1c3,#649fc1,#619dc0,#5e9abe,#5b98bd)}
.b1_51{background:linear-gradient(90deg,#9ec7d9,#9ac5d7,#96c2d6,#92bfd4,#8ebdd3,#8abad1,#87b8d0,#83b6cf,#80b3cd,#7cb1cc,#78aeca,#73abc8,#6fa8c7,#6ba5c5,#68a2c3,#65a0c2,#629dc0,#5f9bbf,#5c99bd)}
.b1_52{background:linear-gradient(90deg,#9fc8d9,#9bc6d8,#98c3d6,#94c0d5,#90bed3,#8cbbd2,#88b9d1,#85b7cf,#81b4ce,#7eb2cc,#79afcb,#74abc9,#70a8c7,#6ca5c5,#69a3c4,#66a0c2,#639ec1,#609cbf,#5d99be)}
.b1_53{background:linear-gradient(90deg,#a0c8da,#9dc6d8,#99c4d7,#95c2d5,#92bfd4,#8ebdd3,#8abad1,#86b8d0,#83b5ce,#7fb3cd,#7aafcb,#75acc9,#71a9c7,#6da6c6,#6aa3c4,#67a1c3,#649fc1,#619cc0,#5e9abe)}
.b1_54{background:linear-gradient(90deg,#a1c9da,#9ec7d9,#9ac5d7,#97c2d6,#93c0d5,#8fbdd3,#8bbbd2,#88b8d0,#84b6cf,#80b3cd,#7bb0cb,#76adca,#72aac8,#6ea7c6,#6aa4c4,#67a2c3,#649fc1,#619dc0,#5f9bbf)}
.b1_55{background:linear-gradient(90deg,#a2c9da,#9ec7d9,#9bc5d8,#98c3d6,#94c1d5,#90bed4,#8cbcd2,#88b9d1,#85b6cf,#81b4ce,#7cb1cc,#77adca,#72aac8,#6fa7c6,#6ba5c5,#68a2c3,#65a0c2,#629dc0,#5f9bbf)}
.b1_56{background:linear-gradient(90deg,#a2cada,#9fc8d9,#9cc6d8,#99c4d7,#95c1d5,#91bfd4,#8dbcd2,#89bad1,#85b7cf,#81b4ce,#7db1cc,#78aeca,#73abc8,#6fa8c7,#6ca5c5,#69a3c4,#66a0c2,#639ec0,#5f9bbf)}
.b1_57{background:linear-gradient(90deg,#a3cadb,#a0c8d9,#9dc7d8,#9ac4d7,#96c2d6,#92c0d4,#8ebdd3,#8abad1,#86b8d0,#82b5ce,#7eb2cc,#79afcb,#74abc9,#70a8c7,#6da6c5,#69a3c4,#66a1c2,#639ec1,#609cbf)}
.b1_58{background:linear-gradient(90deg,#a4cbdb,#a1c9da,#9ec7d9,#9bc5d7,#97c3d6,#94c0d5,#8fbed3,#8bbbd2,#87b8d0,#83b5ce,#7eb2cd,#7aafcb,#75acc9,#71a9c7,#6da6c6,#6aa4c4,#67a1c3,#649fc1,#609cbf)}
.b1_59{background:linear-gradient(90deg,#a4cbdb,#a2c9da,#9fc8d9,#9cc6d8,#98c4d7,#95c1d5,#90bed4,#8cbbd2,#88b9d0,#84b6cf,#7fb3cd,#7bb0cb,#76adca,#71aac8,#6ea7c6,#6ba4c4,#67a2c3,#649fc1,#619cc0)}
.b1_60{background:linear-gradient(90deg,#a5cbdb,#a2cada,#9fc8d9,#9dc6d8,#99c4d7,#96c2d6,#91bfd4,#8dbcd2,#89b9d1,#85b6cf,#80b3cd,#7bb0cc,#77adca,#72aac8,#6fa7c6,#6ba5c5,#68a2c3,#659fc2,#619dc0)}
.b1_61{background:linear-gradient(90deg,#a6ccdc,#a3cadb,#a0c8da,#9ec7d9,#9bc5d7,#97c3d6,#92c0d4,#8ebdd3,#8abad1,#85b7cf,#81b4ce,#7cb1cc,#78aeca,#73abc8,#6fa8c7,#6ca5c5,#69a3c3,#65a0c2,#629dc0)}
.b1_62{background:linear-gradient(90deg,#a7ccdc,#a4cbdb,#a1c9da,#9ec7d9,#9cc6d8,#98c3d6,#94c0d5,#8fbdd3,#8bbad1,#86b7d0,#82b4ce,#7db1cc,#79aecb,#74abc9,#70a9c7,#6da6c5,#69a3c4,#66a0c2,#629dc0)}
.b1_63{background:linear-gradient(90deg,#a7ccdc,#a4cbdb,#a2c9da,#9fc8d9,#9cc6d8,#99c4d7,#94c1d5,#90bed3,#8bbbd2,#87b8d0,#82b5ce,#7eb2cc,#79afcb,#75acc9,#71a9c7,#6da6c6,#6aa3c4,#66a1c2,#629ec0)}
.b1_64{background:linear-gradient(90deg,#a8cddc,#a5cbdb,#a2cada,#a0c8d9,#9dc7d8,#9ac4d7,#95c1d5,#91bed4,#8cbbd2,#88b8d0,#83b5ce,#7eb2cd,#7aafcb,#75acc9,#71a9c8,#6da6c6,#6aa4c4,#66a1c2,#639ec1)}
.b1_65{background:linear-gradient(90deg,#a8cddc,#a6ccdc,#a3cadb,#a0c9da,#9ec7d9,#9ac5d7,#96c2d6,#91bfd4,#8dbcd2,#88b9d1,#84b6cf,#7fb3cd,#7bb0cb,#76adc9,#71aac8,#6ea7c6,#6aa4c4,#67a1c2,#639ec1)}
.b1_66{background:linear-gradient(90deg,#a9cddd,#a6ccdc,#a4cadb,#a1c9da,#9ec7d9,#9bc5d8,#97c2d6,#92bfd4,#8ebcd3,#89b9d1,#84b6cf,#80b3cd,#7bb0cb,#77adca,#72aac8,#6ea7c6,#6ba4c4,#67a1c3,#639ec1)}
.b1_67{background:linear-gradient(90deg,#a9cedd,#a7ccdc,#a4cbdb,#a2c9da,#9fc8d9,#9cc6d8,#97c3d6,#93c0d4,#8ebdd3,#8abad1,#85b7cf,#80b4ce,#7cb1cc,#77adca,#72aac8,#6fa7c6,#6ba4c5,#67a2c3,#649fc1)}
.b1_68{background:linear-gradient(90deg,#aacedd,#a7ccdc,#a5cbdb,#a2cada,#a0c8d9,#9cc6d8,#98c3d6,#94c0d5,#8fbdd3,#8bbad1,#86b7d0,#81b4ce,#7cb1cc,#78aeca,#73abc8,#6fa8c7,#6ba5c5,#68a2c3,#649fc1)}
.b1_69{background:linear-gradient(90deg,#aacedd,#a8cddc,#a5cbdb,#a3cadb,#a0c9da,#9dc7d8,#99c4d7,#94c1d5,#90bed3,#8bbbd2,#87b8d0,#82b5ce,#7db1cc,#78aeca,#73abc9,#6fa8c7,#6ca5c5,#68a2c3,#649fc1)}
.b1_70{background:linear-gradient(90deg,#abcedd,#a8cddd,#a6ccdc,#a3cadb,#a1c9da,#9ec7d9,#9ac4d7,#95c1d5,#91bed4,#8cbbd2,#87b8d0,#82b5ce,#7eb2cc,#79afcb,#74abc9,#70a8c7,#6ca5c5,#68a2c3,#649fc1)}
.b1_71{background:linear-gradient(90deg,#abcfde,#a9cddd,#a6ccdc,#a4cbdb,#a2c9da,#9ec7d9,#9ac5d7,#96c2d6,#91bfd4,#8dbcd2,#88b9d0,#83b5cf,#7eb2cd,#79afcb,#75acc9,#70a9c7,#6ca6c5,#69a3c3,#65a0c2)}
.b1_72{background:linear-gradient(90deg,#abcfde,#a9cedd,#a7ccdc,#a5cbdb,#a2cada,#9fc8d9,#9bc5d8,#96c2d6,#92bfd4,#8dbcd2,#89b9d1,#84b6cf,#7fb3cd,#7aafcb,#75acc9,#71a9c7,#6da6c6,#69a3c4,#65a0c2)}
.b1_73{background:linear-gradient(90deg,#accfde,#a9cedd,#a7cddc,#a5cbdb,#a3cada,#a0c8d9,#9cc6d8,#97c3d6,#93c0d4,#8ebdd3,#89b9d1,#84b6cf,#80b3cd,#7bb0cb,#76adc9,#71a9c8,#6da6c6,#6aa3c4,#66a0c2)}
.b1_74{background:linear-gradient(90deg,#accfde,#aacedd,#a8cddc,#a5cbdb,#a3cadb,#a0c8da,#9cc6d8,#98c3d6,#93c0d5,#8fbdd3,#8abad1,#85b7cf,#80b3cd,#7bb0cc,#76adca,#72aac8,#6ea7c6,#6aa4c4,#66a1c2)}
.b1_75{background:linear-gradient(90deg,#accfde,#aacedd,#a8cddc,#a6ccdc,#a4cbdb,#a1c9da,#9dc6d8,#98c4d7,#94c1d5,#8fbed3,#8abad1,#86b7cf,#81b4ce,#7cb1cc,#77adca,#72aac8,#6ea7c6,#6ba4c4,#67a1c3)}
.b1_76{background:linear-gradient(90deg,#add0de,#abcedd,#a8cddd,#a6ccdc,#a4cbdb,#a1c9da,#9dc7d8,#99c4d7,#94c1d5,#90bed3,#8bbbd2,#86b7d0,#81b4ce,#7db1cc,#78aeca,#73abc8,#6fa7c6,#6ba4c5,#67a1c3)}
.b2_0{background:linear-gradient(90deg,#d9e6ec,#d9e7ec,#dae7ed,#dbe7ed,#dbe7ed,#dce8ed,#dde8ed,#dee9ee,#dfe9ee,#e0e9ee,#e2eaee,#e3ebee,#e5ebed,#e7eced,#e9eced,#eaeded,#ebeded,#eceeed,#eeeeed)}
.b2_1{background:linear-gradient(90deg,#d4e4eb,#d4e4eb,#d5e4eb,#d5e5eb,#d6e5ec,#d7e5ec,#d8e6ec,#d9e6ec,#dae7ed,#dbe7ed,#dee9ee,#e1eaee,#e3eaee,#e5ebed,#e6eced,#e8eced,#e9eded,#ebeded,#eceeed)}
.b2_2{background:linear-gradient(90deg,#cee2e9,#cfe2ea,#d0e2ea,#d0e2ea,#d1e3ea,#d2e3ea,#d3e4eb,#d4e4eb,#d6e5eb,#d7e5ec,#dae7ed,#dde8ed,#e0e9ee,#e2eaee,#e4ebee,#e6ebed,#e7eced,#e9eded,#ebeded)}
.b2_3{background:linear-gradient(90deg,#c9dfe8,#cadfe8,#cbe0e8,#cbe0e9,#cce1e9,#cde1e9,#cee2e9,#d0e2ea,#d1e3ea,#d2e3ea,#d5e5eb,#d9e6ec,#dce8ed,#dfe9ee,#e1eaee,#e3ebee,#e6ebed,#e8eced,#eaeded)}
.b2_4{background:linear-gradient(90deg,#c4dde6,#c5dde7,#c5dee7,#c6dee7,#c7dee7,#c8dfe8,#c9dfe8,#cbe0e8,#cce1e9,#cde1e9,#d1e3ea,#d5e4eb,#d8e6ec,#dce7ed,#dfe9ee,#e1eaee,#e4ebee,#e6ebed,#e8eced)}
.b2_5{background:linear-gradient(90deg,#bdd9e4,#bfdae5,#c0dbe5,#c1dbe6,#c2dce6,#c3dde6,#c5dde7,#c6dee7,#c7dee7,#c9dfe8,#cde1e9,#d0e2ea,#d4e4eb,#d8e6ec,#dbe7ed,#dfe9ee,#e2eaee,#e4ebed,#e7eced)}
.b2_6{background:linear-gradient(90deg,#b6d5e2,#b8d6e2,#b9d7e3,#bad7e3,#bbd8e4,#bdd9e4,#bfdae5,#c1dbe6,#c3dce6,#c4dde7,#c8dfe8,#cce0e9,#d0e2ea,#d4e4eb,#d8e6ec,#dce8ed,#e0e9ee,#e3eaee,#e6ebed)}
.b2_7{background:linear-gradient(90deg,#afd1df,#b1d2e0,#b2d3e0,#b3d4e1,#b5d4e1,#b7d5e2,#b9d7e3,#bbd8e3,#bdd9e4,#bfdae5,#c4dde6,#c8dfe8,#cce0e9,#d0e2ea,#d4e4eb,#d9e6ec,#dee8ee,#e1eaee,#e5ebed)}
.b2_8{background:linear-gradient(90deg,#a7ccdc,#a9cddd,#aacedd,#abcfde,#accfde,#aed0df,#b0d2df,#b2d3e0,#b4d4e1,#b6d5e2,#bcd9e4,#c2dce6,#c6dee7,#cae0e8,#cfe2ea,#d4e4eb,#dae7ed,#dfe9ee,#e3eaee)}
.b2_9{background:linear-gradient(90deg,#9fc8d9,#a0c8da,#a1c9da,#a3cada,#a4cbdb,#a6ccdc,#a8cddc,#aacedd,#accfde,#aed1df,#b4d4e1,#bad7e3,#c0dbe5,#c5dde7,#cae0e8,#d0e2ea,#d6e5eb,#dce8ed,#e1eaee)}
.b2_10{background:linear-gradient(90deg,#96c2d6,#98c3d6,#99c4d7,#9ac5d7,#9bc6d8,#9dc7d8,#9fc8d9,#a2c9da,#a4cadb,#a6ccdc,#accfde,#b2d3e0,#b8d6e2,#bedae5,#c5dde7,#cbe0e9,#d2e3ea,#d8e6ec,#dfe9ee)}
.b2_11{background:linear-gradient(90deg,#8dbcd2,#8ebdd3,#90bed3,#91bfd4,#92bfd4,#94c1d5,#96c2d6,#99c4d7,#9bc6d8,#9ec7d9,#a4cbdb,#aacedd,#b1d2e0,#b7d6e2,#bfdae5,#c7dee7,#cee1e9,#d5e5eb,#dce8ed)}
.b2_12{background:linear-gradient(90deg,#84b6cf,#85b7cf,#86b8d0,#88b8d0,#89b9d1,#8bbad1,#8dbcd2,#90bed3,#92c0d4,#95c1d5,#9cc6d8,#a3cada,#a9cedd,#b0d1df,#b8d6e2,#c2dce6,#cae0e8,#d2e3ea,#dae7ed)}
.b2_13{background:linear-gradient(90deg,#7bb0cb,#7cb1cc,#7db1cc,#7eb2cd,#7fb3cd,#81b4ce,#84b6cf,#87b8d0,#89b9d1,#8cbbd2,#93c0d5,#9bc5d7,#a2c9da,#a8cddd,#b1d2e0,#bcd9e4,#c6dee7,#cfe2e9,#d7e5ec)}
.b2_14{background:linear-gradient(90deg,#77aeca,#78aeca,#79afcb,#7aafcb,#7ab0cb,#7cb1cc,#7eb2cd,#81b4ce,#83b5ce,#85b7cf,#8dbcd2,#94c1d5,#9cc6d8,#a2cada,#abcfde,#b7d6e2,#c2dce6,#cbe0e8,#d4e4eb)}
.b2_15{background:linear-gradient(90deg,#74abc9,#75acc9,#75acc9,#75acc9,#76adc9,#77adca,#79afcb,#7bb0cb,#7db1cc,#7fb3cd,#86b8d0,#8ebdd3,#95c1d5,#9dc6d8,#a6ccdc,#b2d3e0,#bdd9e4,#c7dee7,#d0e2ea)}
.b2_16{background:linear-gradient(90deg,#71a9c8,#71a9c8,#71a9c8,#71a9c8,#71a9c8,#72aac8,#74abc9,#75acc9,#77adca,#78aeca,#80b3cd,#87b8d0,#8fbdd3,#96c2d6,#a0c8da,#accfde,#b8d6e2,#c4dde6,#cde1e9)}
.b2_17{background:linear-gradient(90deg,#6fa7c6,#6ea7c6,#6ea7c6,#6ea7c6,#6ea7c6,#6ea7c6,#6fa8c7,#70a8c7,#71a9c8,#72aac8,#7aafcb,#81b4ce,#88b9d1,#90bed3,#9ac5d7,#a7ccdc,#b3d3e1,#c0dbe5,#cadfe8)}
.b2_18{background:linear-gradient(90deg,#6ca5c5,#6ca5c5,#6ba5c5,#6aa4c4,#6aa4c4,#6aa4c4,#6ba4c4,#6ca5c5,#6ca5c5,#6da6c6,#73abc8,#7bb0cb,#82b5ce,#8abad1,#94c1d5,#a2c9da,#aed1df,#bbd8e3,#c6dee7)}
.b2_19{background:linear-gradient(90deg,#6aa3c4,#69a3c4,#68a2c3,#67a1c3,#66a1c2,#66a1c2,#67a1c2,#67a1c3,#68a2c3,#68a2c3,#6ea7c6,#74acc9,#7cb0cc,#83b5cf,#8ebdd3,#9cc6d8,#a9cedd,#b6d5e2,#c3dce6)}
.b2_20{background:linear-gradient(90deg,#67a2c3,#66a1c2,#65a0c2,#649fc1,#629ec0,#629dc0,#629ec0,#639ec0,#639ec1,#639ec1,#69a3c4,#6fa7c6,#75acc9,#7db1cc,#88b9d0,#96c2d6,#a4cbdb,#b1d2e0,#bfdae5)}
.b2_21{background:linear-gradient(90deg,#65a0c2,#639ec1,#629dc0,#609cbf,#5f9bbf,#5e9abe,#5e9abe,#5e9abe,#5e9abe,#5e9abe,#649fc1,#6aa4c4,#70a8c7,#77adca,#82b4ce,#91bed4,#9fc8d9,#add0de,#bad7e3)}
.b2_22{background:linear-gradient(90deg,#65a0c2,#639ec1,#629dc0,#609cbf,#5e9abe,#5d9abe,#5d9abe,#5d99be,#5d99be,#5d99be,#629ec0,#68a2c3,#6ea7c6,#74abc9,#7eb2cd,#8dbcd2,#9bc5d8,#a8cddd,#b5d5e1)}
.b2_23{background:linear-gradient(90deg,#65a0c2,#639fc1,#629dc0,#609cbf,#5e9abe,#5d99be,#5c99bd,#5c99bd,#5c98bd,#5b98bd,#619cc0,#66a1c2,#6ca5c5,#71a9c7,#7bb0cb,#89b9d1,#97c2d6,#a4cadb,#b0d2df)}
.b2_24{background:linear-gradient(90deg,#66a0c2,#649fc1,#619dc0,#5f9bbf,#5d9abe,#5c98bd,#5b98bd,#5b98bd,#5a97bd,#5a97bc,#5f9bbf,#649fc1,#69a3c4,#6fa7c6,#78aeca,#85b7cf,#92c0d4,#9fc8d9,#abcfde)}
.b2_25{background:linear-gradient(90deg,#66a1c2,#649fc1,#619dc0,#5f9bbf,#5c99be,#5b98bd,#5a97bd,#5a97bc,#5996bc,#5896bc,#5d9abe,#629ec0,#67a2c3,#6ca5c5,#74abc9,#81b4ce,#8ebdd3,#9bc5d7,#a6ccdc)}
.b2_26{background:linear-gradient(90deg,#66a1c2,#649fc1,#619dc0,#5e9bbf,#5c99bd,#5a97bc,#5997bc,#5996bc,#5895bb,#5795bb,#5c98bd,#609cbf,#65a0c2,#6aa4c4,#71a9c8,#7db1cc,#89bad1,#96c2d6,#a1c9da)}
.b2_27{background:linear-gradient(90deg,#67a1c2,#649fc1,#619dc0,#5e9abe,#5b98bd,#5997bc,#5896bc,#5795bb,#5694bb,#5694ba,#5a97bc,#5f9bbf,#639ec1,#68a2c3,#6ea7c6,#79afcb,#85b7cf,#91bed4,#9cc6d8)}
.b2_28{background:linear-gradient(90deg,#67a1c3,#649fc1,#619cc0,#5e9abe,#5b98bd,#5996bc,#5795bb,#5694bb,#5593ba,#5492b9,#5896bc,#5d99be,#619dc0,#65a0c2,#6ca5c5,#75acc9,#81b4ce,#8cbbd2,#97c3d6)}
.b2_29{background:linear-gradient(90deg,#67a1c3,#649fc1,#619cc0,#5d9abe,#5a97bc,#5895bb,#5694bb,#5593ba,#5492b9,#5391b9,#5794bb,#5b98bd,#5f9bbf,#639ec1,#69a3c4,#72aac8,#7cb1cc,#87b8d0,#91bfd4)}
.b2_30{background:linear-gradient(90deg,#67a2c3,#649fc1,#609cbf,#5d99be,#5997bc,#5795bb,#5694ba,#5492b9,#5391b9,#5190b8,#5593ba,#5996bc,#5d99be,#619cc0,#66a1c2,#6ea7c6,#78aeca,#82b5ce,#8cbbd2)}
.b2_31{background:linear-gradient(90deg,#69a3c4,#65a0c2,#629dc0,#5e9abe,#5b98bd,#5896bb,#5794bb,#5593ba,#5392b9,#5291b8,#5593ba,#5996bc,#5c99bd,#609cbf,#65a0c2,#6da6c5,#75acc9,#7eb2cd,#88b8d0)}
.b2_32{background:linear-gradient(90deg,#6aa4c4,#67a1c3,#639ec1,#609cbf,#5c99bd,#5a97bc,#5895bb,#5694ba,#5493ba,#5291b9,#5694ba,#5996bc,#5c98bd,#5f9bbf,#649fc1,#6ba4c5,#72aac8,#7bb0cb,#84b6cf)}
.b2_33{background:linear-gradient(90deg,#6ca5c5,#68a3c3,#65a0c2,#619dc0,#5e9abe,#5b98bd,#5996bc,#5795bb,#5593ba,#5392b9,#5694ba,#5996bc,#5b98bd,#5e9abe,#639ec1,#69a3c4,#70a8c7,#77aeca,#80b3cd)}
.b2_34{background:linear-gradient(90deg,#6ea7c6,#6aa4c4,#67a1c2,#639ec1,#609bbf,#5d99be,#5b98bd,#5896bc,#5694bb,#5492b9,#5694bb,#5996bc,#5b98bd,#5d9abe,#619dc0,#67a2c3,#6da6c6,#74abc9,#7bb0cc)}
.b2_35{background:linear-gradient(90deg,#6fa8c7,#6ca5c5,#68a2c3,#659fc2,#619dc0,#5e9abe,#5c99bd,#5a97bc,#5795bb,#5593ba,#5795bb,#5996bc,#5b98bd,#5d99be,#609cbf,#66a0c2,#6ba5c5,#71a9c7,#77aeca)}
.b2_36{background:linear-gradient(90deg,#71a9c7,#6da6c6,#6aa4c4,#66a1c2,#639ec1,#609cbf,#5d9abe,#5b98bd,#5896bb,#5694ba,#5795bb,#5996bc,#5a97bc,#5c98bd,#5f9bbf,#649fc1,#69a3c4,#6ea7c6,#73abc9)}
.b2_37{background:linear-gradient(90deg,#73aac8,#6fa8c6,#6ba5c5,#68a2c3,#649fc1,#619dc0,#5f9bbf,#5c99bd,#5996bc,#5694bb,#5895bb,#5996bc,#5a97bc,#5b98bd,#5e9abe,#629ec0,#67a1c3,#6ba5c5,#70a8c7)}
.b2_38{background:linear-gradient(90deg,#75acc9,#70a9c7,#6da6c6,#69a3c4,#66a0c2,#639ec1,#609cbf,#5d99be,#5a97bc,#5795bb,#5896bb,#5996bc,#5a97bc,#5a97bc,#5d99be,#619cc0,#659fc2,#69a3c3,#6da6c5)}
.b2_39{background:linear-gradient(90deg,#76adca,#72aac8,#6ea7c6,#6ba4c5,#67a2c3,#649fc1,#619dc0,#5e9abe,#5b98bd,#5896bc,#5996bc,#5996bc,#5a97bc,#5a97bc,#5c99bd,#609cbf,#639ec1,#67a1c3,#6aa4c4)}
.b2_40{background:linear-gradient(90deg,#78aeca,#74abc9,#70a8c7,#6ca6c5,#69a3c4,#66a0c2,#639ec1,#609cbf,#5d99be,#5a97bc,#5a97bc,#5a97bc,#5a97bc,#5a97bc,#5c99bd,#5f9bbf,#629ec0,#65a0c2,#69a3c3)}
.b2_41{background:linear-gradient(90deg,#7aafcb,#76acc9,#71a9c8,#6ea7c6,#6aa4c4,#67a1c3,#649fc1,#619dc0,#5e9abe,#5b98bd,#5b98bd,#5b98bd,#5b98bd,#5a97bd,#5c98bd,#5e9bbf,#619dc0,#649fc1,#67a1c3)}
.b2_42{background:linear-gradient(90deg,#7cb1cc,#77aeca,#73abc8,#6fa8c7,#6ca5c5,#68a2c3,#65a0c2,#639ec1,#609cbf,#5d99be,#5c99bd,#5c98bd,#5b98bd,#5b97bd,#5b98bd,#5e9abe,#609cbf,#639ec1,#65a0c2)}
.b2_43{background:linear-gradient(90deg,#7eb2cc,#79afcb,#75acc9,#71a9c7,#6da6c6,#6aa4c4,#67a1c3,#649fc1,#619dc0,#5e9abe,#5d9abe,#5c99be,#5c98bd,#5b98bd,#5b98bd,#5d9abe,#5f9bbf,#619dc0,#639ec1)}
.b2_44{background:linear-gradient(90deg,#7fb3cd,#7bb0cb,#76adca,#72aac8,#6ea7c6,#6ba5c5,#68a2c3,#65a0c2,#629ec0,#609bbf,#5e9bbe,#5d9abe,#5c99bd,#5b98bd,#5b98bd,#5d99be,#5e9abe,#609cbf,#619dc0)}
.b2_45{background:linear-gradient(90deg,#81b4ce,#7db1cc,#78aeca,#74abc9,#70a8c7,#6da6c5,#6aa3c4,#67a1c3,#649fc1,#619dc0,#5f9bbf,#5e9abe,#5c99be,#5b98bd,#5b98bd,#5c99bd,#5d9abe,#5f9bbf,#609cbf)}
.b2_46{background:linear-gradient(90deg,#83b5ce,#7fb2cd,#7aafcb,#76acc9,#71a9c8,#6ea7c6,#6ba5c5,#68a2c3,#65a0c2,#629ec0,#619cc0,#5f9bbf,#5d99be,#5b98bd,#5b98bd,#5c98bd,#5c99be,#5d9abe,#5e9abe)}
.b2_47{background:linear-gradient(90deg,#85b7cf,#80b4cd,#7cb0cc,#77adca,#72aac8,#6fa8c7,#6ca5c5,#69a3c4,#66a1c2,#639ec1,#629dc0,#609cbf,#5e9abe,#5c99bd,#5b98bd,#5c99bd,#5d99be,#5d9abe,#5e9abe)}
.b2_48{background:linear-gradient(90deg,#87b8d0,#82b5ce,#7db2cc,#79aecb,#74abc9,#70a9c7,#6da6c6,#6aa4c4,#67a2c3,#649fc1,#639ec0,#619cc0,#5f9bbf,#5d99be,#5c99bd,#5d99be,#5d9abe,#5e9abe,#5e9abe)}
.b2_49{background:linear-gradient(90deg,#88b9d1,#84b6cf,#7fb3cd,#7aafcb,#75acc9,#71a9c8,#6ea7c6,#6ba5c5,#68a2c3,#65a0c2,#639fc1,#619dc0,#5f9bbf,#5d9abe,#5d99be,#5d99be,#5d9abe,#5e9abe,#5e9abe)}
.b2_50{background:linear-gradient(90deg,#8abad1,#85b7cf,#80b4ce,#7cb0cc,#77adca,#72aac8,#6fa8c7,#6ca6c5,#69a3c4,#67a1c2,#649fc1,#629ec0,#609cbf,#5e9abe,#5d9abe,#5e9abe,#5e9abe,#5e9abe,#5e9abe)}
.b2_51{background:linear-gradient(90deg,#8cbbd2,#87b8d0,#82b5ce,#7db1cc,#78aeca,#74abc9,#70a9c7,#6da6c6,#6ba4c4,#68a2c3,#65a0c2,#639ec1,#619dc0,#5f9bbf,#5e9abe,#5e9abe,#5e9abe,#5e9abe,#5e9abe)}
.b2_52{background:linear-gradient(90deg,#8ebdd3,#89b9d1,#84b6cf,#7fb2cd,#79afcb,#75acc9,#71aac8,#6fa7c6,#6ca5c5,#69a3c3,#66a1c2,#649fc1,#629dc0,#609cbf,#5f9bbf,#5e9bbf,#5e9bbe,#5e9abe,#5e9abe)}
.b2_53{background:linear-gradient(90deg,#90bed3,#8abad1,#85b7cf,#80b3cd,#7bb0cb,#76adca,#73aac8,#70a8c7,#6da6c5,#6aa3c4,#67a2c3,#65a0c2,#639ec1,#609cbf,#5f9bbf,#5f9bbf,#5f9bbf,#5e9bbf,#5e9abe)}
.b2_54{background:linear-gradient(90deg,#91bfd4,#8cbbd2,#87b8d0,#82b4ce,#7db1cc,#78aeca,#74acc9,#71a9c7,#6ea7c6,#6ba5c5,#69a3c3,#66a1c2,#649fc1,#629dc0,#609cbf,#609cbf,#5f9bbf,#5f9bbf,#5f9bbf)}
.b2_55{background:linear-gradient(90deg,#92bfd4,#8dbcd2,#88b9d0,#83b6cf,#7eb2cd,#7aafcb,#76adca,#73aac8,#70a8c7,#6da6c5,#6aa4c4,#68a2c3,#65a0c2,#639ec1,#619dc0,#619cc0,#609cbf,#609cbf,#5f9bbf)}
.b2_56{background:linear-gradient(90deg,#93c0d5,#8fbdd3,#8abad1,#85b7cf,#80b3cd,#7cb1cc,#78aeca,#75acc9,#71a9c8,#6ea7c6,#6ca5c5,#69a3c4,#67a1c2,#649fc1,#629ec0,#629dc0,#619dc0,#619cc0,#609cbf)}
.b2_57{background:linear-gradient(90deg,#94c1d5,#90bed3,#8bbbd2,#87b8d0,#82b5ce,#7eb2cd,#7aafcb,#76adca,#73aac8,#70a8c7,#6da6c6,#6aa4c4,#68a2c3,#65a0c2,#649fc1,#639ec1,#629ec0,#629dc0,#619dc0)}
.b2_58{background:linear-gradient(90deg,#96c2d6,#91bfd4,#8dbcd2,#88b9d1,#84b6cf,#80b3cd,#7cb1cc,#78aeca,#75acc9,#71a9c8,#6ea7c6,#6ca5c5,#69a3c4,#66a1c2,#65a0c2,#649fc1,#639ec1,#629ec0,#629dc0)}
.b2_59{background:linear-gradient(90deg,#97c3d6,#93c0d4,#8ebdd3,#8abad1,#86b7d0,#82b4ce,#7eb2cd,#7ab0cb,#77adca,#73abc8,#70a8c7,#6da6c6,#6aa4c4,#68a2c3,#66a0c2,#65a0c2,#649fc1,#639ec1,#629ec0)}
.b2_60{background:linear-gradient(90deg,#98c3d6,#94c1d5,#90bed3,#8cbbd2,#88b8d0,#84b6cf,#80b3cd,#7cb1cc,#78aeca,#75acc9,#71a9c8,#6fa7c6,#6ca5c5,#69a3c4,#67a1c3,#66a1c2,#65a0c2,#649fc1,#639ec1)}
.b2_61{background:linear-gradient(90deg,#99c4d7,#95c1d5,#91bfd4,#8dbcd2,#89bad1,#86b7cf,#82b5ce,#7eb2cd,#7ab0cb,#77adca,#73abc8,#70a8c7,#6da6c6,#6aa4c4,#68a2c3,#67a1c3,#66a1c2,#65a0c2,#649fc1)}
.b2_62{background:linear-gradient(90deg,#9ac5d7,#96c2d6,#93c0d4,#8fbdd3,#8bbbd2,#87b8d0,#84b6cf,#80b3cd,#7cb1cc,#79aeca,#75acc9,#71a9c8,#6ea7c6,#6ba5c5,#69a3c4,#68a2c3,#67a1c3,#66a0c2,#65a0c2)}
.b2_63{background:linear-gradient(90deg,#9bc5d8,#97c3d6,#94c0d5,#90bed3,#8cbcd2,#89b9d1,#85b7cf,#81b4ce,#7eb2cc,#7aafcb,#76adca,#72aac8,#6fa8c7,#6ca6c5,#6aa4c4,#69a3c4,#68a2c3,#67a1c3,#65a0c2)}
.b2_64{background:linear-gradient(90deg,#9cc6d8,#98c3d7,#95c1d5,#91bfd4,#8dbcd2,#8abad1,#86b8d0,#83b5ce,#7fb3cd,#7cb0cc,#78aeca,#74abc9,#70a9c7,#6da6c6,#6ba5c5,#6aa4c4,#69a3c3,#67a2c3,#66a1c2)}
.b2_65{background:linear-gradient(90deg,#9cc6d8,#99c4d7,#96c2d6,#92bfd4,#8fbdd3,#8bbbd2,#88b8d0,#84b6cf,#81b4ce,#7db1cc,#79afcb,#75acc9,#71a9c8,#6ea7c6,#6ca5c5,#6ba4c4,#69a3c4,#68a2c3,#67a1c3)}
.b2_66{background:linear-gradient(90deg,#9dc7d8,#9ac5d7,#96c2d6,#93c0d5,#90bed3,#8cbbd2,#89b9d1,#85b7cf,#82b5ce,#7fb2cd,#7bb0cb,#76adca,#72aac8,#6fa8c7,#6da6c6,#6ca5c5,#6aa4c4,#69a3c4,#68a2c3)}
.b2_67{background:linear-gradient(90deg,#9ec7d9,#9bc5d7,#97c3d6,#94c1d5,#91bed4,#8dbcd2,#8abad1,#87b8d0,#83b6cf,#80b3cd,#7cb1cc,#78aeca,#74abc9,#70a8c7,#6ea7c6,#6ca6c5,#6ba5c5,#6aa3c4,#68a2c3)}
.b2_68{background:linear-gradient(90deg,#9ec7d9,#9cc6d8,#98c4d7,#95c1d5,#92bfd4,#8fbdd3,#8bbbd2,#88b9d0,#85b7cf,#82b4ce,#7db2cc,#79afcb,#75acc9,#71a9c7,#6fa7c6,#6da6c6,#6ca5c5,#6ba4c4,#69a3c4)}
.b2_69{background:linear-gradient(90deg,#9fc8d9,#9cc6d8,#99c4d7,#96c2d6,#93c0d5,#90bed3,#8dbcd2,#89bad1,#86b7d0,#83b5cf,#7fb3cd,#7ab0cb,#76adca,#72aac8,#6fa8c7,#6ea7c6,#6da6c5,#6ba5c5,#6aa4c4)}
.b2_70{background:linear-gradient(90deg,#a0c8d9,#9dc7d8,#9ac5d7,#97c3d6,#94c1d5,#91bfd4,#8ebdd3,#8bbad1,#88b8d0,#85b6cf,#80b3cd,#7cb1cc,#77aeca,#73abc8,#70a9c7,#6fa8c7,#6da6c6,#6ca5c5,#6ba4c4)}
.b2_71{background:linear-gradient(90deg,#a1c9da,#9ec7d9,#9bc5d8,#98c3d6,#95c1d5,#92bfd4,#8fbdd3,#8cbbd2,#89b9d1,#86b7d0,#82b4ce,#7db1cc,#79aecb,#74abc9,#71a9c8,#70a8c7,#6ea7c6,#6da6c5,#6ba5c5)}
.b2_72{background:linear-gradient(90deg,#a1c9da,#9ec7d9,#9cc6d8,#99c4d7,#96c2d6,#93c0d4,#90bed3,#8dbcd2,#8abad1,#87b8d0,#82b5ce,#7eb2cc,#79afcb,#75acc9,#72aac8,#70a9c7,#6fa7c6,#6da6c6,#6ca5c5)}
.b2_73{background:linear-gradient(90deg,#a2c9da,#9fc8d9,#9cc6d8,#99c4d7,#96c2d6,#93c0d5,#90bed4,#8dbcd2,#8abad1,#87b8d0,#83b5ce,#7eb2cd,#7aafcb,#75acc9,#72aac8,#71a9c7,#6fa8c7,#6ea7c6,#6ca6c5)}
.b2_74{background:linear-gradient(90deg,#a2cada,#9fc8d9,#9dc6d8,#9ac5d7,#97c3d6,#94c1d5,#91bfd4,#8ebdd3,#8bbbd2,#88b9d0,#83b6cf,#7fb3cd,#7bb0cb,#76adca,#73abc8,#71a9c8,#70a8c7,#6ea7c6,#6da6c5)}
.b2_75{background:linear-gradient(90deg,#a3cada,#a0c8d9,#9dc7d8,#9bc5d7,#98c3d6,#95c1d5,#92bfd4,#8fbdd3,#8cbbd2,#89b9d1,#84b6cf,#80b3cd,#7bb0cb,#77adca,#73abc9,#72aac8,#70a9c7,#6fa7c6,#6da6c6)}
.b2_76{background:linear-gradient(90deg,#a3cadb,#a1c9da,#9ec7d9,#9bc5d8,#98c3d7,#95c1d5,#92bfd4,#8fbdd3,#8cbbd2,#89b9d1,#85b6cf,#80b4cd,#7cb1cc,#77aeca,#74abc9,#72aac8,#71a9c7,#6fa8c7,#6ea7c6)}
.cb189{position:absolute;left:88.2px;top:189.0px;width:527.8px;height:8.0px;background:linear-gradient(90deg,#1e3662,#203a67,#223f6d,#254372,#274778,#294b7d,#2b5082,#2d5488,#30588c,#335d91,#366195,#38659a,#3b699e,#3e6ea2,#4172a7,#4376aa,#457aac,#477eae,#4982b0,#4b85b2,#4d89b4,#4f8db6,#5291b9,#5795bb,#5b98bd,#609cbf,#649fc1,#69a3c4,#6ea6c6,#72aac8,#78aeca,#7eb2cc,#84b6cf,#89bad1,#8fbdd3,#95c1d5,#9bc5d8,#a0c8da,#a5cbdb,#abcedd,#b0d1df,#b5d5e1,#bad8e3,#c0dbe5,#c4dde7,#c8dfe8,#cce1e9,#d0e2ea,#d4e4eb,#d8e6ec,#dce8ed,#e0e9ee,#e3eaee,#e5ebed,#e8eced,#ebeded,#eeeeed,#f0efec,#f3f0ec,#f2eae3,#f1e5da,#f0ded0,#edd3c1,#eac8b1,#e7bda2,#e5b093,#e29d7f,#df8d70,#db8269,#d77862,#d16957,#cc5a4c,#c54b46,#bd3c40,#b32e3a,#a82935,#9c2430,#8c2130,#7c1b2c,#6a1024)}
.cb420{position:absolute;left:88.2px;top:420.0px;width:527.8px;height:8.0px;background:linear-gradient(90deg,#1e3662,#203b68,#233f6d,#254473,#274879,#2a4d7e,#2c5184,#2e568a,#315a8e,#345f93,#376398,#3a689c,#3d6ca1,#4071a6,#4375aa,#4579ac,#477dae,#4981b0,#4b85b2,#4e8ab5,#508eb7,#5392b9,#5895bb,#5d99be,#619dc0,#66a1c2,#6ba5c5,#70a8c7,#75acc9,#7cb0cc,#82b4ce,#88b9d0,#8ebdd3,#94c1d5,#9ac5d7,#a0c8d9,#a5cbdb,#abcfde,#b1d2e0,#b6d5e2,#bcd8e4,#c1dce6,#c6dee7,#cae0e8,#cee1e9,#d2e3ea,#d7e5ec,#dbe7ed,#dfe9ee,#e2eaee,#e5ebed,#e8eced,#ebeded,#eeeeed,#f0efec,#f3efeb,#f2ebe3,#f1e6db,#f0e1d4,#eed8c8,#eccfba,#e9c5ad,#e7bba0,#e4b093,#e2a082,#e08f71,#dd866c,#d97e66,#d5735e,#d06655,#cb594c,#c64c47,#bf3f42,#b6323c,#ad2b37,#a32733,#982330,#8a2130,#7c1b2c,#6c1125)}
</style></head><body>
<div class="fld ft" style="left:41.0px;top:12.0px;width:140.0px;height:153.5px"><i class="t0"></i><i class="t1"></i><i class="t2"></i><i class="t3"></i><i class="t4"></i><i class="t5"></i><i class="t6"></i><i class="t7"></i><i class="t8"></i><i class="t9"></i><i class="t10"></i><i class="t11"></i><i class="t12"></i><i class="t13"></i><i class="t14"></i><i class="t15"></i><i class="t16"></i><i class="t17"></i><i class="t18"></i><i class="t19"></i><i class="t20"></i><i class="t21"></i><i class="t22"></i><i class="t23"></i><i class="t24"></i><i class="t25"></i><i class="t26"></i><i class="t27"></i><i class="t28"></i><i class="t29"></i><i class="t30"></i><i class="t31"></i><i class="t32"></i><i class="t33"></i><i class="t34"></i><i class="t35"></i><i class="t36"></i><i class="t37"></i><i class="t38"></i><i class="t39"></i><i class="t40"></i><i class="t41"></i><i class="t42"></i><i class="t43"></i><i class="t44"></i><i class="t45"></i><i class="t46"></i><i class="t47"></i><i class="t48"></i><i class="t49"></i><i class="t50"></i><i class="t51"></i><i class="t52"></i><i class="t53"></i><i class="t54"></i><i class="t55"></i><i class="t56"></i><i class="t57"></i><i class="t58"></i><i class="t59"></i><i class="t60"></i><i class="t61"></i><i class="t62"></i><i class="t63"></i><i class="t64"></i><i class="t65"></i><i class="t66"></i><i class="t67"></i><i class="t68"></i><i class="t69"></i><i class="t70"></i><i class="t71"></i><i class="t72"></i><i class="t73"></i><i class="t74"></i><i class="t75"></i><i class="t76"></i><i class="t77"></i><i class="t78"></i><i class="t79"></i><i class="t80"></i><i class="t81"></i><i class="t82"></i><i class="t83"></i><i class="t84"></i><i class="t85"></i><i class="t86"></i><i class="t87"></i><i class="t88"></i><i class="t89"></i><i class="t90"></i><i class="t91"></i><i class="t92"></i><i class="t93"></i><i class="t94"></i><i class="t95"></i><i class="t96"></i><i class="t97"></i><i class="t98"></i><i class="t99"></i><i class="t100"></i><i class="t101"></i><i class="t102"></i><i class="t103"></i><i class="t104"></i><i class="t105"></i><i class="t106"></i><i class="t107"></i><i class="t108"></i><i class="t109"></i><i class="t110"></i><i class="t111"></i><i class="t112"></i><i class="t113"></i><i class="t114"></i><i class="t115"></i><i class="t116"></i><i class="t117"></i><i class="t118"></i><i class="t119"></i><i class="t120"></i><i class="t121"></i><i class="t122"></i><i class="t123"></i><i class="t124"></i><i class="t125"></i><i class="t126"></i><i class="t127"></i><i class="t128"></i><i class="t129"></i><i class="t130"></i><i class="t131"></i><i class="t132"></i><i class="t133"></i><i class="t134"></i><i class="t135"></i><i class="t136"></i><i class="t137"></i><i class="t138"></i><i class="t139"></i><i class="t140"></i><i class="t141"></i><i class="t142"></i><i class="t143"></i><i class="t144"></i><i class="t145"></i><i class="t146"></i><i class="t147"></i><i class="t148"></i><i class="t149"></i><i class="t150"></i><i class="t151"></i><i class="t152"></i><i class="t153"></i></div>
<div class="fld ft" style="left:208.5px;top:12.0px;width:140.0px;height:153.5px"><i class="t0"></i><i class="t1"></i><i class="t2"></i><i class="t3"></i><i class="t4"></i><i class="t5"></i><i class="t6"></i><i class="t7"></i><i class="t8"></i><i class="t9"></i><i class="t10"></i><i class="t11"></i><i class="t12"></i><i class="t13"></i><i class="t14"></i><i class="t15"></i><i class="t16"></i><i class="t17"></i><i class="t18"></i><i class="t19"></i><i class="t20"></i><i class="t21"></i><i class="t22"></i><i class="t23"></i><i class="t24"></i><i class="t25"></i><i class="t26"></i><i class="t27"></i><i class="t28"></i><i class="t29"></i><i class="t30"></i><i class="t31"></i><i class="t32"></i><i class="t33"></i><i class="t34"></i><i class="t35"></i><i class="t36"></i><i class="t37"></i><i class="t38"></i><i class="t39"></i><i class="t40"></i><i class="t41"></i><i class="t42"></i><i class="t43"></i><i class="t44"></i><i class="t45"></i><i class="t46"></i><i class="t47"></i><i class="t48"></i><i class="t49"></i><i class="t50"></i><i class="t51"></i><i class="t52"></i><i class="t53"></i><i class="t54"></i><i class="t55"></i><i class="t56"></i><i class="t57"></i><i class="t58"></i><i class="t59"></i><i class="t60"></i><i class="t61"></i><i class="t62"></i><i class="t63"></i><i class="t64"></i><i class="t65"></i><i class="t66"></i><i class="t67"></i><i class="t68"></i><i class="t69"></i><i class="t70"></i><i class="t71"></i><i class="t72"></i><i class="t73"></i><i class="t74"></i><i class="t75"></i><i class="t76"></i><i class="t77"></i><i class="t78"></i><i class="t79"></i><i class="t80"></i><i class="t81"></i><i class="t82"></i><i class="t83"></i><i class="t84"></i><i class="t85"></i><i class="t86"></i><i class="t87"></i><i class="t88"></i><i class="t89"></i><i class="t90"></i><i class="t91"></i><i class="t92"></i><i class="t93"></i><i class="t94"></i><i class="t95"></i><i class="t96"></i><i class="t97"></i><i class="t98"></i><i class="t99"></i><i class="t100"></i><i class="t101"></i><i class="t102"></i><i class="t103"></i><i class="t104"></i><i class="t105"></i><i class="t106"></i><i class="t107"></i><i class="t108"></i><i class="t109"></i><i class="t110"></i><i class="t111"></i><i class="t112"></i><i class="t113"></i><i class="t114"></i><i class="t115"></i><i class="t116"></i><i class="t117"></i><i class="t118"></i><i class="t119"></i><i class="t120"></i><i class="t121"></i><i class="t122"></i><i class="t123"></i><i class="t124"></i><i class="t125"></i><i class="t126"></i><i class="t127"></i><i class="t128"></i><i class="t129"></i><i class="t130"></i><i class="t131"></i><i class="t132"></i><i class="t133"></i><i class="t134"></i><i class="t135"></i><i class="t136"></i><i class="t137"></i><i class="t138"></i><i class="t139"></i><i class="t140"></i><i class="t141"></i><i class="t142"></i><i class="t143"></i><i class="t144"></i><i class="t145"></i><i class="t146"></i><i class="t147"></i><i class="t148"></i><i class="t149"></i><i class="t150"></i><i class="t151"></i><i class="t152"></i><i class="t153"></i></div>
<div class="fld ft" style="left:376.2px;top:12.0px;width:140.0px;height:153.5px"><i class="t0"></i><i class="t1"></i><i class="t2"></i><i class="t3"></i><i class="t4"></i><i class="t5"></i><i class="t6"></i><i class="t7"></i><i class="t8"></i><i class="t9"></i><i class="t10"></i><i class="t11"></i><i class="t12"></i><i class="t13"></i><i class="t14"></i><i class="t15"></i><i class="t16"></i><i class="t17"></i><i class="t18"></i><i class="t19"></i><i class="t20"></i><i class="t21"></i><i class="t22"></i><i class="t23"></i><i class="t24"></i><i class="t25"></i><i class="t26"></i><i class="t27"></i><i class="t28"></i><i class="t29"></i><i class="t30"></i><i class="t31"></i><i class="t32"></i><i class="t33"></i><i class="t34"></i><i class="t35"></i><i class="t36"></i><i class="t37"></i><i class="t38"></i><i class="t39"></i><i class="t40"></i><i class="t41"></i><i class="t42"></i><i class="t43"></i><i class="t44"></i><i class="t45"></i><i class="t46"></i><i class="t47"></i><i class="t48"></i><i class="t49"></i><i class="t50"></i><i class="t51"></i><i class="t52"></i><i class="t53"></i><i class="t54"></i><i class="t55"></i><i class="t56"></i><i class="t57"></i><i class="t58"></i><i class="t59"></i><i class="t60"></i><i class="t61"></i><i class="t62"></i><i class="t63"></i><i class="t64"></i><i class="t65"></i><i class="t66"></i><i class="t67"></i><i class="t68"></i><i class="t69"></i><i class="t70"></i><i class="t71"></i><i class="t72"></i><i class="t73"></i><i class="t74"></i><i class="t75"></i><i class="t76"></i><i class="t77"></i><i class="t78"></i><i class="t79"></i><i class="t80"></i><i class="t81"></i><i class="t82"></i><i class="t83"></i><i class="t84"></i><i class="t85"></i><i class="t86"></i><i class="t87"></i><i class="t88"></i><i class="t89"></i><i class="t90"></i><i class="t91"></i><i class="t92"></i><i class="t93"></i><i class="t94"></i><i class="t95"></i><i class="t96"></i><i class="t97"></i><i class="t98"></i><i class="t99"></i><i class="t100"></i><i class="t101"></i><i class="t102"></i><i class="t103"></i><i class="t104"></i><i class="t105"></i><i class="t106"></i><i class="t107"></i><i class="t108"></i><i class="t109"></i><i class="t110"></i><i class="t111"></i><i class="t112"></i><i class="t113"></i><i class="t114"></i><i class="t115"></i><i class="t116"></i><i class="t117"></i><i class="t118"></i><i class="t119"></i><i class="t120"></i><i class="t121"></i><i class="t122"></i><i class="t123"></i><i class="t124"></i><i class="t125"></i><i class="t126"></i><i class="t127"></i><i class="t128"></i><i class="t129"></i><i class="t130"></i><i class="t131"></i><i class="t132"></i><i class="t133"></i><i class="t134"></i><i class="t135"></i><i class="t136"></i><i class="t137"></i><i class="t138"></i><i class="t139"></i><i class="t140"></i><i class="t141"></i><i class="t142"></i><i class="t143"></i><i class="t144"></i><i class="t145"></i><i class="t146"></i><i class="t147"></i><i class="t148"></i><i class="t149"></i><i class="t150"></i><i class="t151"></i><i class="t152"></i><i class="t153"></i></div>
<div class="fld ft" style="left:543.8px;top:12.0px;width:140.0px;height:153.5px"><i class="t0"></i><i class="t1"></i><i class="t2"></i><i class="t3"></i><i class="t4"></i><i class="t5"></i><i class="t6"></i><i class="t7"></i><i class="t8"></i><i class="t9"></i><i class="t10"></i><i class="t11"></i><i class="t12"></i><i class="t13"></i><i class="t14"></i><i class="t15"></i><i class="t16"></i><i class="t17"></i><i class="t18"></i><i class="t19"></i><i class="t20"></i><i class="t21"></i><i class="t22"></i><i class="t23"></i><i class="t24"></i><i class="t25"></i><i class="t26"></i><i class="t27"></i><i class="t28"></i><i class="t29"></i><i class="t30"></i><i class="t31"></i><i class="t32"></i><i class="t33"></i><i class="t34"></i><i class="t35"></i><i class="t36"></i><i class="t37"></i><i class="t38"></i><i class="t39"></i><i class="t40"></i><i class="t41"></i><i class="t42"></i><i class="t43"></i><i class="t44"></i><i class="t45"></i><i class="t46"></i><i class="t47"></i><i class="t48"></i><i class="t49"></i><i class="t50"></i><i class="t51"></i><i class="t52"></i><i class="t53"></i><i class="t54"></i><i class="t55"></i><i class="t56"></i><i class="t57"></i><i class="t58"></i><i class="t59"></i><i class="t60"></i><i class="t61"></i><i class="t62"></i><i class="t63"></i><i class="t64"></i><i class="t65"></i><i class="t66"></i><i class="t67"></i><i class="t68"></i><i class="t69"></i><i class="t70"></i><i class="t71"></i><i class="t72"></i><i class="t73"></i><i class="t74"></i><i class="t75"></i><i class="t76"></i><i class="t77"></i><i class="t78"></i><i class="t79"></i><i class="t80"></i><i class="t81"></i><i class="t82"></i><i class="t83"></i><i class="t84"></i><i class="t85"></i><i class="t86"></i><i class="t87"></i><i class="t88"></i><i class="t89"></i><i class="t90"></i><i class="t91"></i><i class="t92"></i><i class="t93"></i><i class="t94"></i><i class="t95"></i><i class="t96"></i><i class="t97"></i><i class="t98"></i><i class="t99"></i><i class="t100"></i><i class="t101"></i><i class="t102"></i><i class="t103"></i><i class="t104"></i><i class="t105"></i><i class="t106"></i><i class="t107"></i><i class="t108"></i><i class="t109"></i><i class="t110"></i><i class="t111"></i><i class="t112"></i><i class="t113"></i><i class="t114"></i><i class="t115"></i><i class="t116"></i><i class="t117"></i><i class="t118"></i><i class="t119"></i><i class="t120"></i><i class="t121"></i><i class="t122"></i><i class="t123"></i><i class="t124"></i><i class="t125"></i><i class="t126"></i><i class="t127"></i><i class="t128"></i><i class="t129"></i><i class="t130"></i><i class="t131"></i><i class="t132"></i><i class="t133"></i><i class="t134"></i><i class="t135"></i><i class="t136"></i><i class="t137"></i><i class="t138"></i><i class="t139"></i><i class="t140"></i><i class="t141"></i><i class="t142"></i><i class="t143"></i><i class="t144"></i><i class="t145"></i><i class="t146"></i><i class="t147"></i><i class="t148"></i><i class="t149"></i><i class="t150"></i><i class="t151"></i><i class="t152"></i><i class="t153"></i></div>
<div class="fld" style="left:40.5px;top:242.6px;width:189.8px;height:153.5px"><i class="b0_0"></i><i class="b0_1"></i><i class="b0_2"></i><i class="b0_3"></i><i class="b0_4"></i><i class="b0_5"></i><i class="b0_6"></i><i class="b0_7"></i><i class="b0_8"></i><i class="b0_9"></i><i class="b0_10"></i><i class="b0_11"></i><i class="b0_12"></i><i class="b0_13"></i><i class="b0_14"></i><i class="b0_15"></i><i class="b0_16"></i><i class="b0_17"></i><i class="b0_18"></i><i class="b0_19"></i><i class="b0_20"></i><i class="b0_21"></i><i class="b0_22"></i><i class="b0_23"></i><i class="b0_24"></i><i class="b0_25"></i><i class="b0_26"></i><i class="b0_27"></i><i class="b0_28"></i><i class="b0_29"></i><i class="b0_30"></i><i class="b0_31"></i><i class="b0_32"></i><i class="b0_33"></i><i class="b0_34"></i><i class="b0_35"></i><i class="b0_36"></i><i class="b0_37"></i><i class="b0_38"></i><i class="b0_39"></i><i class="b0_40"></i><i class="b0_41"></i><i class="b0_42"></i><i class="b0_43"></i><i class="b0_44"></i><i class="b0_45"></i><i class="b0_46"></i><i class="b0_47"></i><i class="b0_48"></i><i class="b0_49"></i><i class="b0_50"></i><i class="b0_51"></i><i class="b0_52"></i><i class="b0_53"></i><i class="b0_54"></i><i class="b0_55"></i><i class="b0_56"></i><i class="b0_57"></i><i class="b0_58"></i><i class="b0_59"></i><i class="b0_60"></i><i class="b0_61"></i><i class="b0_62"></i><i class="b0_63"></i><i class="b0_64"></i><i class="b0_65"></i><i class="b0_66"></i><i class="b0_67"></i><i class="b0_68"></i><i class="b0_69"></i><i class="b0_70"></i><i class="b0_71"></i><i class="b0_72"></i><i class="b0_73"></i><i class="b0_74"></i><i class="b0_75"></i><i class="b0_76"></i></div>
<div class="fld" style="left:267.4px;top:242.6px;width:189.8px;height:153.5px"><i class="b1_0"></i><i class="b1_1"></i><i class="b1_2"></i><i class="b1_3"></i><i class="b1_4"></i><i class="b1_5"></i><i class="b1_6"></i><i class="b1_7"></i><i class="b1_8"></i><i class="b1_9"></i><i class="b1_10"></i><i class="b1_11"></i><i class="b1_12"></i><i class="b1_13"></i><i class="b1_14"></i><i class="b1_15"></i><i class="b1_16"></i><i class="b1_17"></i><i class="b1_18"></i><i class="b1_19"></i><i class="b1_20"></i><i class="b1_21"></i><i class="b1_22"></i><i class="b1_23"></i><i class="b1_24"></i><i class="b1_25"></i><i class="b1_26"></i><i class="b1_27"></i><i class="b1_28"></i><i class="b1_29"></i><i class="b1_30"></i><i class="b1_31"></i><i class="b1_32"></i><i class="b1_33"></i><i class="b1_34"></i><i class="b1_35"></i><i class="b1_36"></i><i class="b1_37"></i><i class="b1_38"></i><i class="b1_39"></i><i class="b1_40"></i><i class="b1_41"></i><i class="b1_42"></i><i class="b1_43"></i><i class="b1_44"></i><i class="b1_45"></i><i class="b1_46"></i><i class="b1_47"></i><i class="b1_48"></i><i class="b1_49"></i><i class="b1_50"></i><i class="b1_51"></i><i class="b1_52"></i><i class="b1_53"></i><i class="b1_54"></i><i class="b1_55"></i><i class="b1_56"></i><i class="b1_57"></i><i class="b1_58"></i><i class="b1_59"></i><i class="b1_60"></i><i class="b1_61"></i><i class="b1_62"></i><i class="b1_63"></i><i class="b1_64"></i><i class="b1_65"></i><i class="b1_66"></i><i class="b1_67"></i><i class="b1_68"></i><i class="b1_69"></i><i class="b1_70"></i><i class="b1_71"></i><i class="b1_72"></i><i class="b1_73"></i><i class="b1_74"></i><i class="b1_75"></i><i class="b1_76"></i></div>
<div class="fld" style="left:494.4px;top:242.6px;width:189.8px;height:153.5px"><i class="b2_0"></i><i class="b2_1"></i><i class="b2_2"></i><i class="b2_3"></i><i class="b2_4"></i><i class="b2_5"></i><i class="b2_6"></i><i class="b2_7"></i><i class="b2_8"></i><i class="b2_9"></i><i class="b2_10"></i><i class="b2_11"></i><i class="b2_12"></i><i class="b2_13"></i><i class="b2_14"></i><i class="b2_15"></i><i class="b2_16"></i><i class="b2_17"></i><i class="b2_18"></i><i class="b2_19"></i><i class="b2_20"></i><i class="b2_21"></i><i class="b2_22"></i><i class="b2_23"></i><i class="b2_24"></i><i class="b2_25"></i><i class="b2_26"></i><i class="b2_27"></i><i class="b2_28"></i><i class="b2_29"></i><i class="b2_30"></i><i class="b2_31"></i><i class="b2_32"></i><i class="b2_33"></i><i class="b2_34"></i><i class="b2_35"></i><i class="b2_36"></i><i class="b2_37"></i><i class="b2_38"></i><i class="b2_39"></i><i class="b2_40"></i><i class="b2_41"></i><i class="b2_42"></i><i class="b2_43"></i><i class="b2_44"></i><i class="b2_45"></i><i class="b2_46"></i><i class="b2_47"></i><i class="b2_48"></i><i class="b2_49"></i><i class="b2_50"></i><i class="b2_51"></i><i class="b2_52"></i><i class="b2_53"></i><i class="b2_54"></i><i class="b2_55"></i><i class="b2_56"></i><i class="b2_57"></i><i class="b2_58"></i><i class="b2_59"></i><i class="b2_60"></i><i class="b2_61"></i><i class="b2_62"></i><i class="b2_63"></i><i class="b2_64"></i><i class="b2_65"></i><i class="b2_66"></i><i class="b2_67"></i><i class="b2_68"></i><i class="b2_69"></i><i class="b2_70"></i><i class="b2_71"></i><i class="b2_72"></i><i class="b2_73"></i><i class="b2_74"></i><i class="b2_75"></i><i class="b2_76"></i></div>
<div class="cb189"></div>
<div class="cb420"></div>
<svg width="685" height="454" viewBox="0 0 685 454">
<defs><clipPath id="ct0"><rect x="41.0" y="11.5" width="140.0" height="154.0"/></clipPath><clipPath id="ct1"><rect x="208.5" y="11.5" width="140.0" height="154.0"/></clipPath><clipPath id="ct2"><rect x="376.2" y="11.5" width="140.0" height="154.0"/></clipPath><clipPath id="ct3"><rect x="543.8" y="11.5" width="140.0" height="154.0"/></clipPath><clipPath id="cb0"><rect x="40.5" y="242.1" width="189.8" height="154.0"/></clipPath><clipPath id="cb1"><rect x="267.4" y="242.1" width="189.8" height="154.0"/></clipPath><clipPath id="cb2"><rect x="494.4" y="242.1" width="189.8" height="154.0"/></clipPath><radialGradient id="wb"><stop offset="0" stop-color="#fff" stop-opacity="1"/><stop offset=".55" stop-color="#fff" stop-opacity=".85"/><stop offset="1" stop-color="#fff" stop-opacity="0"/></radialGradient></defs>
<g><ellipse cx="227.5" cy="391.0" rx="4.5" ry="4.0" fill="url(#wb)"/><ellipse cx="441.0" cy="390.6" rx="4.0" ry="4.0" fill="url(#wb)"/><ellipse cx="603.5" cy="395.5" rx="4.5" ry="3.0" fill="url(#wb)"/><ellipse cx="625.5" cy="395.5" rx="6.5" ry="3.0" fill="url(#wb)"/><ellipse cx="668.5" cy="392.5" rx="3.5" ry="4.0" fill="url(#wb)"/><ellipse cx="681.5" cy="392.0" rx="3.0" ry="4.5" fill="url(#wb)"/></g>
<g stroke="#9a958f" stroke-width="0.75" stroke-dasharray="2.8,1.5"><line x1="64.3" y1="12.0" x2="64.3" y2="165.5"/><line x1="101.7" y1="12.0" x2="101.7" y2="165.5"/><line x1="125.0" y1="12.0" x2="125.0" y2="165.5"/><line x1="167.0" y1="12.0" x2="167.0" y2="165.5"/><line x1="231.8" y1="12.0" x2="231.8" y2="165.5"/><line x1="269.2" y1="12.0" x2="269.2" y2="165.5"/><line x1="292.5" y1="12.0" x2="292.5" y2="165.5"/><line x1="334.5" y1="12.0" x2="334.5" y2="165.5"/><line x1="399.5" y1="12.0" x2="399.5" y2="165.5"/><line x1="436.9" y1="12.0" x2="436.9" y2="165.5"/><line x1="460.2" y1="12.0" x2="460.2" y2="165.5"/><line x1="502.2" y1="12.0" x2="502.2" y2="165.5"/><line x1="567.1" y1="12.0" x2="567.1" y2="165.5"/><line x1="604.5" y1="12.0" x2="604.5" y2="165.5"/><line x1="627.8" y1="12.0" x2="627.8" y2="165.5"/><line x1="669.8" y1="12.0" x2="669.8" y2="165.5"/><line x1="72.1" y1="242.6" x2="72.1" y2="396.1"/><line x1="122.7" y1="242.6" x2="122.7" y2="396.1"/><line x1="154.4" y1="242.6" x2="154.4" y2="396.1"/><line x1="211.3" y1="242.6" x2="211.3" y2="396.1"/><line x1="299.0" y1="242.6" x2="299.0" y2="396.1"/><line x1="349.6" y1="242.6" x2="349.6" y2="396.1"/><line x1="381.3" y1="242.6" x2="381.3" y2="396.1"/><line x1="438.2" y1="242.6" x2="438.2" y2="396.1"/><line x1="526.0" y1="242.6" x2="526.0" y2="396.1"/><line x1="576.6" y1="242.6" x2="576.6" y2="396.1"/><line x1="608.3" y1="242.6" x2="608.3" y2="396.1"/><line x1="665.2" y1="242.6" x2="665.2" y2="396.1"/></g>
<rect x="41.0" y="12.0" width="140.0" height="153.5" fill="none" stroke="#555" stroke-width="1.0"/>
<line x1="38.5" y1="12.0" x2="41.0" y2="12.0" stroke="#444" stroke-width="0.8"/>
<line x1="38.5" y1="58.2" x2="41.0" y2="58.2" stroke="#444" stroke-width="0.8"/>
<line x1="38.5" y1="85.2" x2="41.0" y2="85.2" stroke="#444" stroke-width="0.8"/>
<line x1="38.5" y1="119.3" x2="41.0" y2="119.3" stroke="#444" stroke-width="0.8"/>
<line x1="38.5" y1="141.7" x2="41.0" y2="141.7" stroke="#444" stroke-width="0.8"/>
<line x1="38.5" y1="154.7" x2="41.0" y2="154.7" stroke="#444" stroke-width="0.8"/>
<line x1="38.5" y1="165.5" x2="41.0" y2="165.5" stroke="#444" stroke-width="0.8"/>
<line x1="64.3" y1="165.5" x2="64.3" y2="168.0" stroke="#444" stroke-width="0.8"/>
<line x1="111.0" y1="165.5" x2="111.0" y2="168.0" stroke="#444" stroke-width="0.8"/>
<line x1="157.7" y1="165.5" x2="157.7" y2="168.0" stroke="#444" stroke-width="0.8"/>
<rect x="208.5" y="12.0" width="140.0" height="153.5" fill="none" stroke="#555" stroke-width="1.0"/>
<line x1="206.0" y1="12.0" x2="208.5" y2="12.0" stroke="#444" stroke-width="0.8"/>
<line x1="206.0" y1="58.2" x2="208.5" y2="58.2" stroke="#444" stroke-width="0.8"/>
<line x1="206.0" y1="85.2" x2="208.5" y2="85.2" stroke="#444" stroke-width="0.8"/>
<line x1="206.0" y1="119.3" x2="208.5" y2="119.3" stroke="#444" stroke-width="0.8"/>
<line x1="206.0" y1="141.7" x2="208.5" y2="141.7" stroke="#444" stroke-width="0.8"/>
<line x1="206.0" y1="154.7" x2="208.5" y2="154.7" stroke="#444" stroke-width="0.8"/>
<line x1="206.0" y1="165.5" x2="208.5" y2="165.5" stroke="#444" stroke-width="0.8"/>
<line x1="231.8" y1="165.5" x2="231.8" y2="168.0" stroke="#444" stroke-width="0.8"/>
<line x1="278.5" y1="165.5" x2="278.5" y2="168.0" stroke="#444" stroke-width="0.8"/>
<line x1="325.2" y1="165.5" x2="325.2" y2="168.0" stroke="#444" stroke-width="0.8"/>
<rect x="376.2" y="12.0" width="140.0" height="153.5" fill="none" stroke="#555" stroke-width="1.0"/>
<line x1="373.7" y1="12.0" x2="376.2" y2="12.0" stroke="#444" stroke-width="0.8"/>
<line x1="373.7" y1="58.2" x2="376.2" y2="58.2" stroke="#444" stroke-width="0.8"/>
<line x1="373.7" y1="85.2" x2="376.2" y2="85.2" stroke="#444" stroke-width="0.8"/>
<line x1="373.7" y1="119.3" x2="376.2" y2="119.3" stroke="#444" stroke-width="0.8"/>
<line x1="373.7" y1="141.7" x2="376.2" y2="141.7" stroke="#444" stroke-width="0.8"/>
<line x1="373.7" y1="154.7" x2="376.2" y2="154.7" stroke="#444" stroke-width="0.8"/>
<line x1="373.7" y1="165.5" x2="376.2" y2="165.5" stroke="#444" stroke-width="0.8"/>
<line x1="399.5" y1="165.5" x2="399.5" y2="168.0" stroke="#444" stroke-width="0.8"/>
<line x1="446.2" y1="165.5" x2="446.2" y2="168.0" stroke="#444" stroke-width="0.8"/>
<line x1="492.9" y1="165.5" x2="492.9" y2="168.0" stroke="#444" stroke-width="0.8"/>
<rect x="543.8" y="12.0" width="140.0" height="153.5" fill="none" stroke="#555" stroke-width="1.0"/>
<line x1="541.3" y1="12.0" x2="543.8" y2="12.0" stroke="#444" stroke-width="0.8"/>
<line x1="541.3" y1="58.2" x2="543.8" y2="58.2" stroke="#444" stroke-width="0.8"/>
<line x1="541.3" y1="85.2" x2="543.8" y2="85.2" stroke="#444" stroke-width="0.8"/>
<line x1="541.3" y1="119.3" x2="543.8" y2="119.3" stroke="#444" stroke-width="0.8"/>
<line x1="541.3" y1="141.7" x2="543.8" y2="141.7" stroke="#444" stroke-width="0.8"/>
<line x1="541.3" y1="154.7" x2="543.8" y2="154.7" stroke="#444" stroke-width="0.8"/>
<line x1="541.3" y1="165.5" x2="543.8" y2="165.5" stroke="#444" stroke-width="0.8"/>
<line x1="567.1" y1="165.5" x2="567.1" y2="168.0" stroke="#444" stroke-width="0.8"/>
<line x1="613.8" y1="165.5" x2="613.8" y2="168.0" stroke="#444" stroke-width="0.8"/>
<line x1="660.5" y1="165.5" x2="660.5" y2="168.0" stroke="#444" stroke-width="0.8"/>
<rect x="40.5" y="242.6" width="189.8" height="153.5" fill="none" stroke="#aaa" stroke-width="0.8"/>
<line x1="38.0" y1="242.6" x2="40.5" y2="242.6" stroke="#999" stroke-width="0.8"/>
<line x1="38.0" y1="288.8" x2="40.5" y2="288.8" stroke="#999" stroke-width="0.8"/>
<line x1="38.0" y1="315.8" x2="40.5" y2="315.8" stroke="#999" stroke-width="0.8"/>
<line x1="38.0" y1="349.9" x2="40.5" y2="349.9" stroke="#999" stroke-width="0.8"/>
<line x1="38.0" y1="372.3" x2="40.5" y2="372.3" stroke="#999" stroke-width="0.8"/>
<line x1="38.0" y1="385.3" x2="40.5" y2="385.3" stroke="#999" stroke-width="0.8"/>
<line x1="38.0" y1="396.1" x2="40.5" y2="396.1" stroke="#999" stroke-width="0.8"/>
<line x1="72.1" y1="396.1" x2="72.1" y2="398.6" stroke="#999" stroke-width="0.8"/>
<line x1="135.4" y1="396.1" x2="135.4" y2="398.6" stroke="#999" stroke-width="0.8"/>
<line x1="198.7" y1="396.1" x2="198.7" y2="398.6" stroke="#999" stroke-width="0.8"/>
<rect x="267.4" y="242.6" width="189.8" height="153.5" fill="none" stroke="#aaa" stroke-width="0.8"/>
<line x1="264.9" y1="242.6" x2="267.4" y2="242.6" stroke="#999" stroke-width="0.8"/>
<line x1="264.9" y1="288.8" x2="267.4" y2="288.8" stroke="#999" stroke-width="0.8"/>
<line x1="264.9" y1="315.8" x2="267.4" y2="315.8" stroke="#999" stroke-width="0.8"/>
<line x1="264.9" y1="349.9" x2="267.4" y2="349.9" stroke="#999" stroke-width="0.8"/>
<line x1="264.9" y1="372.3" x2="267.4" y2="372.3" stroke="#999" stroke-width="0.8"/>
<line x1="264.9" y1="385.3" x2="267.4" y2="385.3" stroke="#999" stroke-width="0.8"/>
<line x1="264.9" y1="396.1" x2="267.4" y2="396.1" stroke="#999" stroke-width="0.8"/>
<line x1="299.0" y1="396.1" x2="299.0" y2="398.6" stroke="#999" stroke-width="0.8"/>
<line x1="362.3" y1="396.1" x2="362.3" y2="398.6" stroke="#999" stroke-width="0.8"/>
<line x1="425.6" y1="396.1" x2="425.6" y2="398.6" stroke="#999" stroke-width="0.8"/>
<rect x="494.4" y="242.6" width="189.8" height="153.5" fill="none" stroke="#aaa" stroke-width="0.8"/>
<line x1="491.9" y1="242.6" x2="494.4" y2="242.6" stroke="#999" stroke-width="0.8"/>
<line x1="491.9" y1="288.8" x2="494.4" y2="288.8" stroke="#999" stroke-width="0.8"/>
<line x1="491.9" y1="315.8" x2="494.4" y2="315.8" stroke="#999" stroke-width="0.8"/>
<line x1="491.9" y1="349.9" x2="494.4" y2="349.9" stroke="#999" stroke-width="0.8"/>
<line x1="491.9" y1="372.3" x2="494.4" y2="372.3" stroke="#999" stroke-width="0.8"/>
<line x1="491.9" y1="385.3" x2="494.4" y2="385.3" stroke="#999" stroke-width="0.8"/>
<line x1="491.9" y1="396.1" x2="494.4" y2="396.1" stroke="#999" stroke-width="0.8"/>
<line x1="526.0" y1="396.1" x2="526.0" y2="398.6" stroke="#999" stroke-width="0.8"/>
<line x1="589.3" y1="396.1" x2="589.3" y2="398.6" stroke="#999" stroke-width="0.8"/>
<line x1="652.6" y1="396.1" x2="652.6" y2="398.6" stroke="#999" stroke-width="0.8"/>
<text x="0" y="0" font-size="11" font-weight="bold" text-anchor="middle" transform="translate(9.2,89.0) rotate(-90)">Level (hPa)</text>
<text x="0" y="0" font-size="11" font-weight="bold" text-anchor="middle" transform="translate(9.2,319.5) rotate(-90)">Level (hPa)</text>
<polygon points="88.5,189.0 88.5,197.0 61.8,193.0" fill="#1b2f58"/>
<polygon points="615.7,189.0 615.7,197.0 642.5,193.0" fill="#5e0c20"/>
<polygon points="61.8,193.0 88.2,189.0 616.0,189.0 642.5,193.0 616.0,197.0" fill="none" stroke="#555" stroke-width="0.6"/><line x1="61.8" y1="193.0" x2="88.2" y2="197.0" stroke="#555" stroke-width="0.6"/><line x1="88.2" y1="197.0" x2="616.0" y2="197.0" stroke="#555" stroke-width="0.6"/>
<line x1="88.2" y1="197.0" x2="88.2" y2="199.0" stroke="#666" stroke-width="0.6"/>
<text x="88.2" y="208.6" font-size="11.0" text-anchor="middle">-80</text>
<line x1="136.6" y1="197.0" x2="136.6" y2="199.0" stroke="#666" stroke-width="0.6"/>
<text x="136.6" y="208.6" font-size="11.0" text-anchor="middle">-70</text>
<line x1="185.0" y1="197.0" x2="185.0" y2="199.0" stroke="#666" stroke-width="0.6"/>
<text x="185.0" y="208.6" font-size="11.0" text-anchor="middle">-60</text>
<line x1="233.4" y1="197.0" x2="233.4" y2="199.0" stroke="#666" stroke-width="0.6"/>
<text x="233.4" y="208.6" font-size="11.0" text-anchor="middle">-50</text>
<line x1="281.8" y1="197.0" x2="281.8" y2="199.0" stroke="#666" stroke-width="0.6"/>
<text x="281.8" y="208.6" font-size="11.0" text-anchor="middle">-40</text>
<line x1="330.2" y1="197.0" x2="330.2" y2="199.0" stroke="#666" stroke-width="0.6"/>
<text x="330.2" y="208.6" font-size="11.0" text-anchor="middle">-30</text>
<line x1="378.6" y1="197.0" x2="378.6" y2="199.0" stroke="#666" stroke-width="0.6"/>
<text x="378.6" y="208.6" font-size="11.0" text-anchor="middle">-20</text>
<line x1="427.0" y1="197.0" x2="427.0" y2="199.0" stroke="#666" stroke-width="0.6"/>
<text x="427.0" y="208.6" font-size="11.0" text-anchor="middle">-10</text>
<line x1="475.4" y1="197.0" x2="475.4" y2="199.0" stroke="#666" stroke-width="0.6"/>
<text x="475.4" y="208.6" font-size="11.0" text-anchor="middle">0</text>
<line x1="523.8" y1="197.0" x2="523.8" y2="199.0" stroke="#666" stroke-width="0.6"/>
<text x="523.8" y="208.6" font-size="11.0" text-anchor="middle">10</text>
<line x1="572.2" y1="197.0" x2="572.2" y2="199.0" stroke="#666" stroke-width="0.6"/>
<text x="572.2" y="208.6" font-size="11.0" text-anchor="middle">20</text>
<polygon points="88.5,420.0 88.5,428.0 61.8,424.0" fill="#1b2f58"/>
<polygon points="615.7,420.0 615.7,428.0 642.5,424.0" fill="#5e0c20"/>
<polygon points="61.8,424.0 88.2,420.0 616.0,420.0 642.5,424.0 616.0,428.0" fill="none" stroke="#555" stroke-width="0.6"/><line x1="61.8" y1="424.0" x2="88.2" y2="428.0" stroke="#555" stroke-width="0.6"/><line x1="88.2" y1="428.0" x2="616.0" y2="428.0" stroke="#555" stroke-width="0.6"/>
<line x1="88.4" y1="428.0" x2="88.4" y2="430.0" stroke="#666" stroke-width="0.6"/>
<text x="88.4" y="439.6" font-size="11.0" text-anchor="middle">-2.0</text>
<line x1="161.5" y1="428.0" x2="161.5" y2="430.0" stroke="#666" stroke-width="0.6"/>
<text x="161.5" y="439.6" font-size="11.0" text-anchor="middle">-1.6</text>
<line x1="234.6" y1="428.0" x2="234.6" y2="430.0" stroke="#666" stroke-width="0.6"/>
<text x="234.6" y="439.6" font-size="11.0" text-anchor="middle">-1.2</text>
<line x1="307.7" y1="428.0" x2="307.7" y2="430.0" stroke="#666" stroke-width="0.6"/>
<text x="307.7" y="439.6" font-size="11.0" text-anchor="middle">-0.8</text>
<line x1="380.8" y1="428.0" x2="380.8" y2="430.0" stroke="#666" stroke-width="0.6"/>
<text x="380.8" y="439.6" font-size="11.0" text-anchor="middle">-0.4</text>
<line x1="453.9" y1="428.0" x2="453.9" y2="430.0" stroke="#666" stroke-width="0.6"/>
<text x="453.9" y="439.6" font-size="11.0" text-anchor="middle">0.0</text>
<line x1="527.0" y1="428.0" x2="527.0" y2="430.0" stroke="#666" stroke-width="0.6"/>
<text x="527.0" y="439.6" font-size="11.0" text-anchor="middle">0.4</text>
<line x1="600.1" y1="428.0" x2="600.1" y2="430.0" stroke="#666" stroke-width="0.6"/>
<text x="600.1" y="439.6" font-size="11.0" text-anchor="middle">0.8</text>
<circle cx="348.2" cy="212.7" r="1.65" fill="none" stroke="#111" stroke-width="0.95"/>
<text x="350.9" y="222.6" font-size="12.2" font-weight="bold">C</text>
<circle cx="348.2" cy="442.7" r="1.65" fill="none" stroke="#111" stroke-width="0.95"/>
<text x="350.9" y="452.6" font-size="12.2" font-weight="bold">C</text>
<g clip-path="url(#ct0)"><path d="M41.0 39.0L37.4 37.9M45.7 39.0L42.1 37.9M50.3 39.0L46.7 37.9M55.0 39.0L51.4 37.9M59.7 39.0L56.1 37.9M64.3 39.0L60.7 37.9M69.0 39.0L65.4 37.9M73.7 39.0L70.1 37.9M78.3 39.0L74.7 37.9M83.0 39.0L79.4 37.9M87.7 39.0L84.1 37.9M92.3 39.0L88.7 37.9M97.0 39.0L93.4 37.9M101.7 39.0L98.1 37.9M106.3 39.0L102.7 37.9M111.0 39.0L106.8 38.7M115.7 39.0L111.5 38.7M120.3 39.0L116.1 38.7M125.0 39.0L120.8 38.7M129.7 39.0L125.5 38.7M134.3 39.0L130.1 38.7M139.0 39.0L134.8 38.7M143.7 39.0L139.5 38.7M148.3 39.0L144.1 38.7M153.0 39.0L148.8 38.7M157.7 39.0L153.5 38.7M162.3 39.0L158.1 38.7M167.0 39.0L162.8 38.7M171.7 39.0L167.5 38.7M176.3 39.0L172.1 38.7M181.0 39.0L176.8 38.7M41.0 58.2L38.2 55.2M45.7 58.2L42.9 55.2M50.3 58.2L47.5 55.2M55.0 58.2L52.2 55.2M59.7 58.2L56.9 55.2M64.3 58.2L61.5 55.2M69.0 58.2L66.2 55.2M73.7 58.2L70.9 55.2M78.3 58.2L75.5 55.2M83.0 58.2L80.2 55.2M87.7 58.2L84.9 55.2M92.3 58.2L89.5 55.2M97.0 58.2L94.2 55.2M101.7 58.2L97.8 57.8M106.3 58.2L102.4 57.8M111.0 58.2L107.1 57.8M115.7 58.2L111.8 57.8M120.3 58.2L116.4 57.8M125.0 58.2L121.1 57.8M129.7 58.2L125.8 57.8M134.3 58.2L130.4 57.8M139.0 58.2L135.1 57.8M143.7 58.2L139.8 57.8M148.3 58.2L144.4 57.8M153.0 58.2L149.1 57.8M157.7 58.2L153.8 57.8M162.3 58.2L158.4 57.8M167.0 58.2L163.1 57.8M171.7 58.2L167.8 57.8M176.3 58.2L172.4 57.8M181.0 58.2L177.1 57.8M41.0 73.1L40.4 69.1M45.7 73.1L45.1 69.1M50.3 73.1L49.7 69.1M55.0 73.1L54.4 69.1M59.7 73.1L59.1 69.1M64.3 73.1L63.7 69.1M69.0 73.1L68.4 69.1M73.7 73.1L73.1 69.1M78.3 73.1L77.7 69.1M83.0 73.1L82.4 69.1M87.7 73.1L85.9 70.3M92.3 73.1L90.5 70.3M97.0 73.1L95.2 70.3M101.7 73.1L99.5 71.9M106.3 73.1L104.1 71.9M111.0 73.1L108.8 71.9M115.7 73.1L113.5 71.9M120.3 73.1L118.1 71.9M125.0 73.1L122.0 72.8M129.7 73.1L126.7 72.8M134.3 73.1L131.3 72.8M139.0 73.1L136.0 72.8M143.7 73.1L140.7 72.8M148.3 73.1L145.3 72.8M153.0 73.1L150.0 72.8M157.7 73.1L154.7 72.8M162.3 73.1L159.3 72.8M167.0 73.1L164.0 72.8M171.7 73.1L168.7 72.8M176.3 73.1L173.3 72.8M181.0 73.1L178.0 72.8M41.0 85.2L40.4 81.2M45.7 85.2L45.1 81.2M50.3 85.2L49.7 81.2M55.0 85.2L54.4 81.2M59.7 85.2L59.1 81.2M64.3 85.2L63.7 81.2M69.0 85.2L68.4 81.2M73.7 85.2L73.1 81.2M78.3 85.2L77.7 81.2M83.0 85.2L82.4 81.2M87.7 85.2L85.9 82.4M92.3 85.2L90.5 82.4M97.0 85.2L95.2 82.4M101.7 85.2L99.5 84.0M106.3 85.2L104.1 84.0M111.0 85.2L108.8 84.0M115.7 85.2L113.5 84.0M120.3 85.2L118.1 84.0M125.0 85.2L122.0 84.9M129.7 85.2L126.7 84.9M134.3 85.2L131.3 84.9M139.0 85.2L136.0 84.9M143.7 85.2L140.7 84.9M148.3 85.2L145.3 84.9M153.0 85.2L150.0 84.9M157.7 85.2L154.7 84.9M162.3 85.2L159.3 84.9M167.0 85.2L164.0 84.9M171.7 85.2L168.7 84.9M176.3 85.2L173.3 84.9M181.0 85.2L178.0 84.9M41.0 104.4L41.3 100.2M45.7 104.4L46.0 100.2M50.3 104.4L50.6 100.2M55.0 104.4L55.3 100.2M59.7 104.4L60.0 100.2M64.3 104.4L64.6 100.2M69.0 104.4L69.3 100.2M73.7 104.4L74.0 100.2M78.3 104.4L78.6 100.2M83.0 104.4L83.3 100.2M87.7 104.4L88.0 100.2M92.3 104.4L92.6 100.2M97.0 104.4L97.3 100.2M101.7 104.4L102.0 100.2M106.3 104.4L107.1 104.4M111.0 104.4L111.8 104.4M115.7 104.4L116.5 104.4M120.3 104.4L121.1 104.4M125.0 104.4L127.5 103.6M129.7 104.4L132.2 103.6M134.3 104.4L136.8 103.6M139.0 104.4L141.5 103.6M143.7 104.4L146.2 103.6M148.3 104.4L150.8 103.6M153.0 104.4L155.5 103.6M157.7 104.4L160.3 104.4M162.3 104.4L164.9 104.4M167.0 104.4L169.6 104.4M171.7 104.4L174.3 104.4M176.3 104.4L178.9 104.4M181.0 104.4L183.6 104.4M41.0 119.3L42.1 115.5M45.7 119.3L46.8 115.5M50.3 119.3L51.4 115.5M55.0 119.3L56.1 115.5M59.7 119.3L60.8 115.5M64.3 119.3L65.4 115.5M69.0 119.3L70.1 115.5M73.7 119.3L74.8 115.5M78.3 119.3L79.4 115.5M83.0 119.3L84.1 115.5M87.7 119.3L88.8 115.5M92.3 119.3L93.4 115.5M97.0 119.3L98.1 115.5M101.7 119.3L102.8 115.5M106.3 119.3L106.9 118.5M111.0 119.3L111.6 118.5M115.7 119.3L116.3 118.5M120.3 119.3L120.9 118.5M125.0 119.3L127.2 119.1M129.7 119.3L131.9 119.1M134.3 119.3L136.5 119.1M139.0 119.3L141.2 119.1M143.7 119.3L145.9 119.1M148.3 119.3L150.5 119.1M153.0 119.3L155.2 119.1M157.7 119.3L159.9 119.1M162.3 119.3L164.5 119.1M167.0 119.3L169.2 119.1M171.7 119.3L173.9 119.1M176.3 119.3L178.5 119.1M181.0 119.3L183.2 119.1M41.0 131.4L42.1 127.6M45.7 131.4L46.8 127.6M50.3 131.4L51.4 127.6M55.0 131.4L56.1 127.6M59.7 131.4L60.8 127.6M64.3 131.4L65.4 127.6M69.0 131.4L70.1 127.6M73.7 131.4L74.8 127.6M78.3 131.4L79.4 127.6M83.0 131.4L84.1 127.6M87.7 131.4L88.8 127.6M92.3 131.4L93.4 127.6M97.0 131.4L98.1 127.6M101.7 131.4L102.8 127.6M106.3 131.4L106.9 130.6M111.0 131.4L111.6 130.6M115.7 131.4L116.3 130.6M120.3 131.4L120.9 130.6M125.0 131.4L126.2 131.4M129.7 131.4L130.9 131.4M134.3 131.4L135.5 131.4M139.0 131.4L140.2 131.4M143.7 131.4L144.9 131.4M148.3 131.4L149.5 131.4M153.0 131.4L154.2 131.4M157.7 131.4L158.9 131.4M162.3 131.4L163.5 131.4M167.0 131.4L168.2 131.4M171.7 131.4L172.9 131.4M176.3 131.4L177.5 131.4M181.0 131.4L182.2 131.4M41.0 141.7L42.1 137.9M45.7 141.7L46.8 137.9M50.3 141.7L51.4 137.9M55.0 141.7L56.1 137.9M59.7 141.7L60.8 137.9M64.3 141.7L65.4 137.9M69.0 141.7L70.1 137.9M73.7 141.7L74.8 137.9M78.3 141.7L79.4 137.9M83.0 141.7L84.1 137.9M87.7 141.7L88.8 137.9M92.3 141.7L93.4 137.9M97.0 141.7L98.1 137.9M101.7 141.7L102.8 137.9M106.3 141.7L106.9 140.9M111.0 141.7L111.6 140.9M115.7 141.7L116.3 140.9M120.3 141.7L120.9 140.9M125.0 141.7L126.2 141.7M129.7 141.7L130.9 141.7M134.3 141.7L135.5 141.7M139.0 141.7L140.2 141.7M143.7 141.7L144.9 141.7M148.3 141.7L149.5 141.7M153.0 141.7L154.2 141.7M157.7 141.7L158.9 141.7M162.3 141.7L163.5 141.7M167.0 141.7L168.2 141.7M171.7 141.7L172.9 141.7M176.3 141.7L177.5 141.7M181.0 141.7L182.2 141.7M41.0 154.7L43.6 154.3M45.7 154.7L48.3 154.3M50.3 154.7L52.9 154.3M55.0 154.7L57.6 154.3M59.7 154.7L62.5 151.1M64.3 154.7L67.1 151.1M69.0 154.7L71.8 151.1M73.7 154.7L76.5 151.1M78.3 154.7L81.1 151.1M83.0 154.7L85.8 151.1M87.7 154.7L90.5 151.1M92.3 154.7L95.1 151.1M97.0 154.7L99.8 151.1M101.7 154.7L102.5 154.7M106.3 154.7L107.1 154.7M111.0 154.7L111.8 154.7M115.7 154.7L116.5 154.7M120.3 154.7L121.1 154.7M125.0 154.7L125.8 154.7M129.7 154.7L130.5 154.7M134.3 154.7L135.1 154.7M139.0 154.7L139.8 154.7M143.7 154.7L144.5 154.7M148.3 154.7L149.1 154.7M153.0 154.7L153.8 154.7M157.7 154.7L158.5 154.7M162.3 154.7L163.1 154.7M167.0 154.7L167.8 154.7M171.7 154.7L172.5 154.7M176.3 154.7L177.1 154.7M181.0 154.7L181.8 154.7M41.0 160.3L44.0 159.8M45.7 160.3L48.7 159.8M50.3 160.3L53.3 159.8M55.0 160.3L58.0 159.8M59.7 160.3L62.7 159.8M64.3 160.3L66.9 157.5M69.0 160.3L71.6 157.5M73.7 160.3L76.3 157.5M78.3 160.3L80.9 157.5M83.0 160.3L85.6 157.5M87.7 160.3L90.3 157.5M92.3 160.3L94.9 157.5M97.0 160.3L98.0 160.3M101.7 160.3L102.7 160.3M106.3 160.3L107.3 160.3M111.0 160.3L112.0 160.3M115.7 160.3L116.7 160.3M120.3 160.3L121.3 160.3M125.0 160.3L126.0 160.3M129.7 160.3L130.7 160.3M134.3 160.3L135.3 160.3M139.0 160.3L140.0 160.3M143.7 160.3L144.7 160.3M148.3 160.3L149.3 160.3M153.0 160.3L154.0 160.3M157.7 160.3L158.7 160.3M162.3 160.3L163.3 160.3M167.0 160.3L168.0 160.3M171.7 160.3L172.7 160.3M176.3 160.3L177.3 160.3M181.0 160.3L182.0 160.3M41.0 165.5L41.8 165.5M45.7 165.5L46.5 165.5M50.3 165.5L51.1 165.5M55.0 165.5L55.8 165.5M59.7 165.5L60.5 165.5M64.3 165.5L65.1 165.5M69.0 165.5L69.8 165.5M73.7 165.5L74.5 165.5M78.3 165.5L79.1 165.5M83.0 165.5L83.8 165.5M87.7 165.5L88.5 165.5M92.3 165.5L93.1 165.5M97.0 165.5L97.8 165.5M101.7 165.5L102.5 165.5M106.3 165.5L107.1 165.5M111.0 165.5L111.8 165.5M115.7 165.5L116.5 165.5M120.3 165.5L121.1 165.5M125.0 165.5L125.8 165.5M129.7 165.5L130.5 165.5M134.3 165.5L135.1 165.5M139.0 165.5L139.8 165.5M143.7 165.5L144.5 165.5M148.3 165.5L149.1 165.5M153.0 165.5L153.8 165.5M157.7 165.5L158.5 165.5M162.3 165.5L163.1 165.5M167.0 165.5L167.8 165.5M171.7 165.5L172.5 165.5M176.3 165.5L177.1 165.5M181.0 165.5L181.8 165.5" stroke="#111" stroke-width="0.72" fill="none" stroke-opacity="0.9"/><path d="M37.4 37.9L38.7 37.8L38.4 38.8ZM42.1 37.9L43.4 37.8L43.1 38.8ZM46.7 37.9L48.0 37.8L47.7 38.8ZM51.4 37.9L52.7 37.8L52.4 38.8ZM56.1 37.9L57.4 37.8L57.1 38.8ZM60.7 37.9L62.0 37.8L61.7 38.8ZM65.4 37.9L66.7 37.8L66.4 38.8ZM70.1 37.9L71.4 37.8L71.1 38.8ZM74.7 37.9L76.0 37.8L75.7 38.8ZM79.4 37.9L80.7 37.8L80.4 38.8ZM84.1 37.9L85.4 37.8L85.1 38.8ZM88.7 37.9L90.0 37.8L89.7 38.8ZM93.4 37.9L94.7 37.8L94.4 38.8ZM98.1 37.9L99.4 37.8L99.1 38.8ZM102.7 37.9L104.0 37.8L103.7 38.8ZM106.8 38.7L108.0 38.3L108.0 39.4ZM111.5 38.7L112.7 38.3L112.6 39.4ZM116.1 38.7L117.4 38.3L117.3 39.4ZM120.8 38.7L122.0 38.3L122.0 39.4ZM125.5 38.7L126.7 38.3L126.6 39.4ZM130.1 38.7L131.4 38.3L131.3 39.4ZM134.8 38.7L136.0 38.3L136.0 39.4ZM139.5 38.7L140.7 38.3L140.6 39.4ZM144.1 38.7L145.4 38.3L145.3 39.4ZM148.8 38.7L150.0 38.3L150.0 39.4ZM153.5 38.7L154.7 38.3L154.6 39.4ZM158.1 38.7L159.4 38.3L159.3 39.4ZM162.8 38.7L164.0 38.3L164.0 39.4ZM167.5 38.7L168.7 38.3L168.6 39.4ZM172.1 38.7L173.4 38.3L173.3 39.4ZM176.8 38.7L178.0 38.3L178.0 39.4ZM38.2 55.2L39.4 55.7L38.6 56.5ZM42.9 55.2L44.1 55.7L43.3 56.5ZM47.5 55.2L48.7 55.7L48.0 56.5ZM52.2 55.2L53.4 55.7L52.6 56.5ZM56.9 55.2L58.1 55.7L57.3 56.5ZM61.5 55.2L62.7 55.7L62.0 56.5ZM66.2 55.2L67.4 55.7L66.6 56.5ZM70.9 55.2L72.1 55.7L71.3 56.5ZM75.5 55.2L76.7 55.7L76.0 56.5ZM80.2 55.2L81.4 55.7L80.6 56.5ZM84.9 55.2L86.1 55.7L85.3 56.5ZM89.5 55.2L90.7 55.7L90.0 56.5ZM94.2 55.2L95.4 55.7L94.6 56.5ZM97.8 57.8L99.0 57.4L98.9 58.5ZM102.4 57.8L103.7 57.4L103.6 58.5ZM107.1 57.8L108.3 57.4L108.2 58.5ZM111.8 57.8L113.0 57.4L112.9 58.5ZM116.4 57.8L117.7 57.4L117.6 58.5ZM121.1 57.8L122.3 57.4L122.2 58.5ZM125.8 57.8L127.0 57.4L126.9 58.5ZM130.4 57.8L131.7 57.4L131.6 58.5ZM135.1 57.8L136.3 57.4L136.2 58.5ZM139.8 57.8L141.0 57.4L140.9 58.5ZM144.4 57.8L145.7 57.4L145.6 58.5ZM149.1 57.8L150.3 57.4L150.2 58.5ZM153.8 57.8L155.0 57.4L154.9 58.5ZM158.4 57.8L159.7 57.4L159.6 58.5ZM163.1 57.8L164.3 57.4L164.2 58.5ZM167.8 57.8L169.0 57.4L168.9 58.5ZM172.4 57.8L173.7 57.4L173.6 58.5ZM177.1 57.8L178.3 57.4L178.2 58.5ZM40.4 69.1L41.1 70.2L40.0 70.4ZM45.1 69.1L45.8 70.2L44.7 70.4ZM49.7 69.1L50.4 70.2L49.4 70.4ZM54.4 69.1L55.1 70.2L54.0 70.4ZM59.1 69.1L59.8 70.2L58.7 70.4ZM63.7 69.1L64.4 70.2L63.4 70.4ZM68.4 69.1L69.1 70.2L68.0 70.4ZM73.1 69.1L73.8 70.2L72.7 70.4ZM77.7 69.1L78.4 70.2L77.4 70.4ZM82.4 69.1L83.1 70.2L82.0 70.4ZM85.9 70.3L87.0 71.0L86.1 71.6ZM90.5 70.3L91.6 71.0L90.7 71.6ZM95.2 70.3L96.3 71.0L95.4 71.6ZM99.5 71.9L100.8 72.0L100.3 72.9ZM104.1 71.9L105.4 72.0L104.9 72.9ZM108.8 71.9L110.1 72.0L109.6 72.9ZM113.5 71.9L114.8 72.0L114.3 72.9ZM118.1 71.9L119.4 72.0L118.9 72.9ZM122.0 72.8L123.2 72.4L123.1 73.4ZM126.7 72.8L127.9 72.4L127.8 73.4ZM131.3 72.8L132.6 72.4L132.5 73.4ZM136.0 72.8L137.2 72.4L137.1 73.4ZM140.7 72.8L141.9 72.4L141.8 73.4ZM145.3 72.8L146.6 72.4L146.5 73.4ZM150.0 72.8L151.2 72.4L151.1 73.4ZM154.7 72.8L155.9 72.4L155.8 73.4ZM159.3 72.8L160.6 72.4L160.5 73.4ZM164.0 72.8L165.2 72.4L165.1 73.4ZM168.7 72.8L169.9 72.4L169.8 73.4ZM173.3 72.8L174.6 72.4L174.5 73.4ZM178.0 72.8L179.2 72.4L179.1 73.4ZM40.4 81.2L41.1 82.3L40.0 82.5ZM45.1 81.2L45.8 82.3L44.7 82.5ZM49.7 81.2L50.4 82.3L49.4 82.5ZM54.4 81.2L55.1 82.3L54.0 82.5ZM59.1 81.2L59.8 82.3L58.7 82.5ZM63.7 81.2L64.4 82.3L63.4 82.5ZM68.4 81.2L69.1 82.3L68.0 82.5ZM73.1 81.2L73.8 82.3L72.7 82.5ZM77.7 81.2L78.4 82.3L77.4 82.5ZM82.4 81.2L83.1 82.3L82.0 82.5ZM85.9 82.4L87.0 83.2L86.1 83.7ZM90.5 82.4L91.6 83.2L90.7 83.7ZM95.2 82.4L96.3 83.2L95.4 83.7ZM99.5 84.0L100.8 84.1L100.3 85.1ZM104.1 84.0L105.4 84.1L104.9 85.1ZM108.8 84.0L110.1 84.1L109.6 85.1ZM113.5 84.0L114.8 84.1L114.3 85.1ZM118.1 84.0L119.4 84.1L118.9 85.1ZM122.0 84.9L123.2 84.5L123.1 85.6ZM126.7 84.9L127.9 84.5L127.8 85.6ZM131.3 84.9L132.6 84.5L132.5 85.6ZM136.0 84.9L137.2 84.5L137.1 85.6ZM140.7 84.9L141.9 84.5L141.8 85.6ZM145.3 84.9L146.6 84.5L146.5 85.6ZM150.0 84.9L151.2 84.5L151.1 85.6ZM154.7 84.9L155.9 84.5L155.8 85.6ZM159.3 84.9L160.6 84.5L160.5 85.6ZM164.0 84.9L165.2 84.5L165.1 85.6ZM168.7 84.9L169.9 84.5L169.8 85.6ZM173.3 84.9L174.6 84.5L174.5 85.6ZM178.0 84.9L179.2 84.5L179.1 85.6ZM41.3 100.2L41.8 101.5L40.7 101.4ZM46.0 100.2L46.4 101.5L45.3 101.4ZM50.6 100.2L51.1 101.5L50.0 101.4ZM55.3 100.2L55.8 101.5L54.7 101.4ZM60.0 100.2L60.4 101.5L59.3 101.4ZM64.6 100.2L65.1 101.5L64.0 101.4ZM69.3 100.2L69.8 101.5L68.7 101.4ZM74.0 100.2L74.4 101.5L73.3 101.4ZM78.6 100.2L79.1 101.5L78.0 101.4ZM83.3 100.2L83.8 101.5L82.7 101.4ZM88.0 100.2L88.4 101.5L87.3 101.4ZM92.6 100.2L93.1 101.5L92.0 101.4ZM97.3 100.2L97.8 101.5L96.7 101.4ZM102.0 100.2L102.4 101.5L101.3 101.4ZM107.1 104.4L106.7 104.6L106.7 104.2ZM111.8 104.4L111.4 104.6L111.4 104.2ZM116.5 104.4L116.1 104.6L116.1 104.2ZM121.1 104.4L120.7 104.6L120.7 104.2ZM127.5 103.6L126.5 104.5L126.2 103.5ZM132.2 103.6L131.2 104.5L130.9 103.5ZM136.8 103.6L135.9 104.5L135.5 103.5ZM141.5 103.6L140.5 104.5L140.2 103.5ZM146.2 103.6L145.2 104.5L144.9 103.5ZM150.8 103.6L149.9 104.5L149.5 103.5ZM155.5 103.6L154.5 104.5L154.2 103.5ZM160.3 104.4L159.1 105.0L159.1 103.9ZM164.9 104.4L163.7 105.0L163.7 103.9ZM169.6 104.4L168.4 105.0L168.4 103.9ZM174.3 104.4L173.1 105.0L173.1 103.9ZM178.9 104.4L177.7 105.0L177.7 103.9ZM183.6 104.4L182.4 105.0L182.4 103.9ZM42.1 115.5L42.3 116.8L41.2 116.5ZM46.8 115.5L47.0 116.8L45.9 116.5ZM51.4 115.5L51.6 116.8L50.6 116.5ZM56.1 115.5L56.3 116.8L55.2 116.5ZM60.8 115.5L61.0 116.8L59.9 116.5ZM65.4 115.5L65.6 116.8L64.6 116.5ZM70.1 115.5L70.3 116.8L69.2 116.5ZM74.8 115.5L75.0 116.8L73.9 116.5ZM79.4 115.5L79.6 116.8L78.6 116.5ZM84.1 115.5L84.3 116.8L83.2 116.5ZM88.8 115.5L89.0 116.8L87.9 116.5ZM93.4 115.5L93.6 116.8L92.6 116.5ZM98.1 115.5L98.3 116.8L97.2 116.5ZM102.8 115.5L103.0 116.8L101.9 116.5ZM106.9 118.5L106.8 119.0L106.5 118.8ZM111.6 118.5L111.5 119.0L111.1 118.8ZM116.3 118.5L116.1 119.0L115.8 118.8ZM120.9 118.5L120.8 119.0L120.5 118.8ZM127.2 119.1L126.1 119.7L126.1 118.7ZM131.9 119.1L130.8 119.7L130.7 118.7ZM136.5 119.1L135.5 119.7L135.4 118.7ZM141.2 119.1L140.1 119.7L140.1 118.7ZM145.9 119.1L144.8 119.7L144.7 118.7ZM150.5 119.1L149.5 119.7L149.4 118.7ZM155.2 119.1L154.1 119.7L154.1 118.7ZM159.9 119.1L158.8 119.7L158.7 118.7ZM164.5 119.1L163.5 119.7L163.4 118.7ZM169.2 119.1L168.1 119.7L168.1 118.7ZM173.9 119.1L172.8 119.7L172.7 118.7ZM178.5 119.1L177.5 119.7L177.4 118.7ZM183.2 119.1L182.1 119.7L182.1 118.7ZM42.1 127.6L42.3 128.9L41.2 128.6ZM46.8 127.6L47.0 128.9L45.9 128.6ZM51.4 127.6L51.6 128.9L50.6 128.6ZM56.1 127.6L56.3 128.9L55.2 128.6ZM60.8 127.6L61.0 128.9L59.9 128.6ZM65.4 127.6L65.6 128.9L64.6 128.6ZM70.1 127.6L70.3 128.9L69.2 128.6ZM74.8 127.6L75.0 128.9L73.9 128.6ZM79.4 127.6L79.6 128.9L78.6 128.6ZM84.1 127.6L84.3 128.9L83.2 128.6ZM88.8 127.6L89.0 128.9L87.9 128.6ZM93.4 127.6L93.6 128.9L92.6 128.6ZM98.1 127.6L98.3 128.9L97.2 128.6ZM102.8 127.6L103.0 128.9L101.9 128.6ZM106.9 130.6L106.8 131.2L106.5 130.9ZM111.6 130.6L111.5 131.2L111.1 130.9ZM116.3 130.6L116.1 131.2L115.8 130.9ZM120.9 130.6L120.8 131.2L120.5 130.9ZM126.2 131.4L125.6 131.7L125.6 131.2ZM130.9 131.4L130.3 131.7L130.3 131.2ZM135.5 131.4L134.9 131.7L134.9 131.2ZM140.2 131.4L139.6 131.7L139.6 131.2ZM144.9 131.4L144.3 131.7L144.3 131.2ZM149.5 131.4L148.9 131.7L148.9 131.2ZM154.2 131.4L153.6 131.7L153.6 131.2ZM158.9 131.4L158.3 131.7L158.3 131.2ZM163.5 131.4L162.9 131.7L162.9 131.2ZM168.2 131.4L167.6 131.7L167.6 131.2ZM172.9 131.4L172.3 131.7L172.3 131.2ZM177.5 131.4L176.9 131.7L176.9 131.2ZM182.2 131.4L181.6 131.7L181.6 131.2ZM42.1 137.9L42.3 139.2L41.2 138.9ZM46.8 137.9L47.0 139.2L45.9 138.9ZM51.4 137.9L51.6 139.2L50.6 138.9ZM56.1 137.9L56.3 139.2L55.2 138.9ZM60.8 137.9L61.0 139.2L59.9 138.9ZM65.4 137.9L65.6 139.2L64.6 138.9ZM70.1 137.9L70.3 139.2L69.2 138.9ZM74.8 137.9L75.0 139.2L73.9 138.9ZM79.4 137.9L79.6 139.2L78.6 138.9ZM84.1 137.9L84.3 139.2L83.2 138.9ZM88.8 137.9L89.0 139.2L87.9 138.9ZM93.4 137.9L93.6 139.2L92.6 138.9ZM98.1 137.9L98.3 139.2L97.2 138.9ZM102.8 137.9L103.0 139.2L101.9 138.9ZM106.9 140.9L106.8 141.5L106.5 141.2ZM111.6 140.9L111.5 141.5L111.1 141.2ZM116.3 140.9L116.1 141.5L115.8 141.2ZM120.9 140.9L120.8 141.5L120.5 141.2ZM126.2 141.7L125.6 142.0L125.6 141.5ZM130.9 141.7L130.3 142.0L130.3 141.5ZM135.5 141.7L134.9 142.0L134.9 141.5ZM140.2 141.7L139.6 142.0L139.6 141.5ZM144.9 141.7L144.3 142.0L144.3 141.5ZM149.5 141.7L148.9 142.0L148.9 141.5ZM154.2 141.7L153.6 142.0L153.6 141.5ZM158.9 141.7L158.3 142.0L158.3 141.5ZM163.5 141.7L162.9 142.0L162.9 141.5ZM168.2 141.7L167.6 142.0L167.6 141.5ZM172.9 141.7L172.3 142.0L172.3 141.5ZM177.5 141.7L176.9 142.0L176.9 141.5ZM182.2 141.7L181.6 142.0L181.6 141.5ZM43.6 154.3L42.5 155.0L42.3 153.9ZM48.3 154.3L47.2 155.0L47.0 153.9ZM52.9 154.3L51.8 155.0L51.7 153.9ZM57.6 154.3L56.5 155.0L56.3 153.9ZM62.5 151.1L62.2 152.3L61.3 151.7ZM67.1 151.1L66.8 152.3L66.0 151.7ZM71.8 151.1L71.5 152.3L70.6 151.7ZM76.5 151.1L76.2 152.3L75.3 151.7ZM81.1 151.1L80.8 152.3L80.0 151.7ZM85.8 151.1L85.5 152.3L84.6 151.7ZM90.5 151.1L90.2 152.3L89.3 151.7ZM95.1 151.1L94.8 152.3L94.0 151.7ZM99.8 151.1L99.5 152.3L98.6 151.7ZM102.5 154.7L102.1 154.8L102.1 154.5ZM107.1 154.7L106.7 154.8L106.7 154.5ZM111.8 154.7L111.4 154.8L111.4 154.5ZM116.5 154.7L116.1 154.8L116.1 154.5ZM121.1 154.7L120.7 154.8L120.7 154.5ZM125.8 154.7L125.4 154.8L125.4 154.5ZM130.5 154.7L130.1 154.8L130.1 154.5ZM135.1 154.7L134.7 154.8L134.7 154.5ZM139.8 154.7L139.4 154.8L139.4 154.5ZM144.5 154.7L144.1 154.8L144.1 154.5ZM149.1 154.7L148.7 154.8L148.7 154.5ZM153.8 154.7L153.4 154.8L153.4 154.5ZM158.5 154.7L158.1 154.8L158.1 154.5ZM163.1 154.7L162.7 154.8L162.7 154.5ZM167.8 154.7L167.4 154.8L167.4 154.5ZM172.5 154.7L172.1 154.8L172.1 154.5ZM177.1 154.7L176.7 154.8L176.7 154.5ZM181.8 154.7L181.4 154.8L181.4 154.5ZM44.0 159.8L42.9 160.5L42.7 159.5ZM48.7 159.8L47.6 160.5L47.4 159.5ZM53.3 159.8L52.2 160.5L52.1 159.5ZM58.0 159.8L56.9 160.5L56.7 159.5ZM62.7 159.8L61.6 160.5L61.4 159.5ZM66.9 157.5L66.5 158.7L65.7 158.0ZM71.6 157.5L71.2 158.7L70.4 158.0ZM76.3 157.5L75.8 158.7L75.1 158.0ZM80.9 157.5L80.5 158.7L79.7 158.0ZM85.6 157.5L85.2 158.7L84.4 158.0ZM90.3 157.5L89.8 158.7L89.1 158.0ZM94.9 157.5L94.5 158.7L93.7 158.0ZM98.0 160.3L97.5 160.5L97.5 160.1ZM102.7 160.3L102.2 160.5L102.2 160.1ZM107.3 160.3L106.8 160.5L106.8 160.1ZM112.0 160.3L111.5 160.5L111.5 160.1ZM116.7 160.3L116.2 160.5L116.2 160.1ZM121.3 160.3L120.8 160.5L120.8 160.1ZM126.0 160.3L125.5 160.5L125.5 160.1ZM130.7 160.3L130.2 160.5L130.2 160.1ZM135.3 160.3L134.8 160.5L134.8 160.1ZM140.0 160.3L139.5 160.5L139.5 160.1ZM144.7 160.3L144.2 160.5L144.2 160.1ZM149.3 160.3L148.8 160.5L148.8 160.1ZM154.0 160.3L153.5 160.5L153.5 160.1ZM158.7 160.3L158.2 160.5L158.2 160.1ZM163.3 160.3L162.8 160.5L162.8 160.1ZM168.0 160.3L167.5 160.5L167.5 160.1ZM172.7 160.3L172.2 160.5L172.2 160.1ZM177.3 160.3L176.8 160.5L176.8 160.1ZM182.0 160.3L181.5 160.5L181.5 160.1ZM41.8 165.5L41.4 165.7L41.4 165.3ZM46.5 165.5L46.1 165.7L46.1 165.3ZM51.1 165.5L50.7 165.7L50.7 165.3ZM55.8 165.5L55.4 165.7L55.4 165.3ZM60.5 165.5L60.1 165.7L60.1 165.3ZM65.1 165.5L64.7 165.7L64.7 165.3ZM69.8 165.5L69.4 165.7L69.4 165.3ZM74.5 165.5L74.1 165.7L74.1 165.3ZM79.1 165.5L78.7 165.7L78.7 165.3ZM83.8 165.5L83.4 165.7L83.4 165.3ZM88.5 165.5L88.1 165.7L88.1 165.3ZM93.1 165.5L92.7 165.7L92.7 165.3ZM97.8 165.5L97.4 165.7L97.4 165.3ZM102.5 165.5L102.1 165.7L102.1 165.3ZM107.1 165.5L106.7 165.7L106.7 165.3ZM111.8 165.5L111.4 165.7L111.4 165.3ZM116.5 165.5L116.1 165.7L116.1 165.3ZM121.1 165.5L120.7 165.7L120.7 165.3ZM125.8 165.5L125.4 165.7L125.4 165.3ZM130.5 165.5L130.1 165.7L130.1 165.3ZM135.1 165.5L134.7 165.7L134.7 165.3ZM139.8 165.5L139.4 165.7L139.4 165.3ZM144.5 165.5L144.1 165.7L144.1 165.3ZM149.1 165.5L148.7 165.7L148.7 165.3ZM153.8 165.5L153.4 165.7L153.4 165.3ZM158.5 165.5L158.1 165.7L158.1 165.3ZM163.1 165.5L162.7 165.7L162.7 165.3ZM167.8 165.5L167.4 165.7L167.4 165.3ZM172.5 165.5L172.1 165.7L172.1 165.3ZM177.1 165.5L176.7 165.7L176.7 165.3ZM181.8 165.5L181.4 165.7L181.4 165.3Z" fill="#111" fill-opacity="0.9"/></g>
<g clip-path="url(#ct1)"><path d="M208.5 39.0L204.9 37.9M213.2 39.0L209.6 37.9M217.8 39.0L214.2 37.9M222.5 39.0L218.9 37.9M227.2 39.0L223.6 37.9M231.8 39.0L228.2 37.9M236.5 39.0L232.9 37.9M241.2 39.0L237.6 37.9M245.8 39.0L242.2 37.9M250.5 39.0L246.9 37.9M255.2 39.0L251.6 37.9M259.8 39.0L256.2 37.9M264.5 39.0L260.9 37.9M269.2 39.0L265.6 37.9M273.8 39.0L270.2 37.9M278.5 39.0L274.3 38.7M283.2 39.0L279.0 38.7M287.8 39.0L283.6 38.7M292.5 39.0L288.3 38.7M297.2 39.0L293.0 38.7M301.8 39.0L297.6 38.7M306.5 39.0L302.3 38.7M311.2 39.0L307.0 38.7M315.8 39.0L311.6 38.7M320.5 39.0L316.3 38.7M325.2 39.0L321.0 38.7M329.8 39.0L325.6 38.7M334.5 39.0L330.3 38.7M339.2 39.0L335.0 38.7M343.8 39.0L339.6 38.7M348.5 39.0L344.3 38.7M208.5 58.2L205.7 55.2M213.2 58.2L210.4 55.2M217.8 58.2L215.0 55.2M222.5 58.2L219.7 55.2M227.2 58.2L224.4 55.2M231.8 58.2L229.0 55.2M236.5 58.2L233.7 55.2M241.2 58.2L238.4 55.2M245.8 58.2L243.0 55.2M250.5 58.2L247.7 55.2M255.2 58.2L252.4 55.2M259.8 58.2L257.0 55.2M264.5 58.2L261.7 55.2M269.2 58.2L265.3 57.8M273.8 58.2L269.9 57.8M278.5 58.2L274.6 57.8M283.2 58.2L279.3 57.8M287.8 58.2L283.9 57.8M292.5 58.2L288.6 57.8M297.2 58.2L293.3 57.8M301.8 58.2L297.9 57.8M306.5 58.2L302.6 57.8M311.2 58.2L307.3 57.8M315.8 58.2L311.9 57.8M320.5 58.2L316.6 57.8M325.2 58.2L321.3 57.8M329.8 58.2L325.9 57.8M334.5 58.2L330.6 57.8M339.2 58.2L335.3 57.8M343.8 58.2L339.9 57.8M348.5 58.2L344.6 57.8M208.5 73.1L207.9 69.1M213.2 73.1L212.6 69.1M217.8 73.1L217.2 69.1M222.5 73.1L221.9 69.1M227.2 73.1L226.6 69.1M231.8 73.1L231.2 69.1M236.5 73.1L235.9 69.1M241.2 73.1L240.6 69.1M245.8 73.1L245.2 69.1M250.5 73.1L249.9 69.1M255.2 73.1L253.4 70.3M259.8 73.1L258.0 70.3M264.5 73.1L262.7 70.3M269.2 73.1L267.0 71.9M273.8 73.1L271.6 71.9M278.5 73.1L276.3 71.9M283.2 73.1L281.0 71.9M287.8 73.1L285.6 71.9M292.5 73.1L289.5 72.8M297.2 73.1L294.2 72.8M301.8 73.1L298.8 72.8M306.5 73.1L303.5 72.8M311.2 73.1L308.2 72.8M315.8 73.1L312.8 72.8M320.5 73.1L317.5 72.8M325.2 73.1L322.2 72.8M329.8 73.1L326.8 72.8M334.5 73.1L331.5 72.8M339.2 73.1L336.2 72.8M343.8 73.1L340.8 72.8M348.5 73.1L345.5 72.8M208.5 85.2L207.9 81.2M213.2 85.2L212.6 81.2M217.8 85.2L217.2 81.2M222.5 85.2L221.9 81.2M227.2 85.2L226.6 81.2M231.8 85.2L231.2 81.2M236.5 85.2L235.9 81.2M241.2 85.2L240.6 81.2M245.8 85.2L245.2 81.2M250.5 85.2L249.9 81.2M255.2 85.2L253.4 82.4M259.8 85.2L258.0 82.4M264.5 85.2L262.7 82.4M269.2 85.2L267.0 84.0M273.8 85.2L271.6 84.0M278.5 85.2L276.3 84.0M283.2 85.2L281.0 84.0M287.8 85.2L285.6 84.0M292.5 85.2L289.5 84.9M297.2 85.2L294.2 84.9M301.8 85.2L298.8 84.9M306.5 85.2L303.5 84.9M311.2 85.2L308.2 84.9M315.8 85.2L312.8 84.9M320.5 85.2L317.5 84.9M325.2 85.2L322.2 84.9M329.8 85.2L326.8 84.9M334.5 85.2L331.5 84.9M339.2 85.2L336.2 84.9M343.8 85.2L340.8 84.9M348.5 85.2L345.5 84.9M208.5 104.4L208.8 100.2M213.2 104.4L213.5 100.2M217.8 104.4L218.1 100.2M222.5 104.4L222.8 100.2M227.2 104.4L227.5 100.2M231.8 104.4L232.1 100.2M236.5 104.4L236.8 100.2M241.2 104.4L241.5 100.2M245.8 104.4L246.1 100.2M250.5 104.4L250.8 100.2M255.2 104.4L255.5 100.2M259.8 104.4L260.1 100.2M264.5 104.4L264.8 100.2M269.2 104.4L269.5 100.2M273.8 104.4L274.6 104.4M278.5 104.4L279.3 104.4M283.2 104.4L284.0 104.4M287.8 104.4L288.6 104.4M292.5 104.4L295.0 103.6M297.2 104.4L299.7 103.6M301.8 104.4L304.3 103.6M306.5 104.4L309.0 103.6M311.2 104.4L313.7 103.6M315.8 104.4L318.3 103.6M320.5 104.4L323.0 103.6M325.2 104.4L327.8 104.4M329.8 104.4L332.4 104.4M334.5 104.4L337.1 104.4M339.2 104.4L341.8 104.4M343.8 104.4L346.4 104.4M348.5 104.4L351.1 104.4M208.5 119.3L209.6 115.5M213.2 119.3L214.3 115.5M217.8 119.3L218.9 115.5M222.5 119.3L223.6 115.5M227.2 119.3L228.3 115.5M231.8 119.3L232.9 115.5M236.5 119.3L237.6 115.5M241.2 119.3L242.3 115.5M245.8 119.3L246.9 115.5M250.5 119.3L251.6 115.5M255.2 119.3L256.3 115.5M259.8 119.3L260.9 115.5M264.5 119.3L265.6 115.5M269.2 119.3L270.3 115.5M273.8 119.3L274.4 118.5M278.5 119.3L279.1 118.5M283.2 119.3L283.8 118.5M287.8 119.3L288.4 118.5M292.5 119.3L294.7 119.1M297.2 119.3L299.4 119.1M301.8 119.3L304.0 119.1M306.5 119.3L308.7 119.1M311.2 119.3L313.4 119.1M315.8 119.3L318.0 119.1M320.5 119.3L322.7 119.1M325.2 119.3L327.4 119.1M329.8 119.3L332.0 119.1M334.5 119.3L336.7 119.1M339.2 119.3L341.4 119.1M343.8 119.3L346.0 119.1M348.5 119.3L350.7 119.1M208.5 131.4L209.6 127.6M213.2 131.4L214.3 127.6M217.8 131.4L218.9 127.6M222.5 131.4L223.6 127.6M227.2 131.4L228.3 127.6M231.8 131.4L232.9 127.6M236.5 131.4L237.6 127.6M241.2 131.4L242.3 127.6M245.8 131.4L246.9 127.6M250.5 131.4L251.6 127.6M255.2 131.4L256.3 127.6M259.8 131.4L260.9 127.6M264.5 131.4L265.6 127.6M269.2 131.4L270.3 127.6M273.8 131.4L274.4 130.6M278.5 131.4L279.1 130.6M283.2 131.4L283.8 130.6M287.8 131.4L288.4 130.6M292.5 131.4L293.7 131.4M297.2 131.4L298.4 131.4M301.8 131.4L303.0 131.4M306.5 131.4L307.7 131.4M311.2 131.4L312.4 131.4M315.8 131.4L317.0 131.4M320.5 131.4L321.7 131.4M325.2 131.4L326.4 131.4M329.8 131.4L331.0 131.4M334.5 131.4L335.7 131.4M339.2 131.4L340.4 131.4M343.8 131.4L345.0 131.4M348.5 131.4L349.7 131.4M208.5 141.7L209.6 137.9M213.2 141.7L214.3 137.9M217.8 141.7L218.9 137.9M222.5 141.7L223.6 137.9M227.2 141.7L228.3 137.9M231.8 141.7L232.9 137.9M236.5 141.7L237.6 137.9M241.2 141.7L242.3 137.9M245.8 141.7L246.9 137.9M250.5 141.7L251.6 137.9M255.2 141.7L256.3 137.9M259.8 141.7L260.9 137.9M264.5 141.7L265.6 137.9M269.2 141.7L270.3 137.9M273.8 141.7L274.4 140.9M278.5 141.7L279.1 140.9M283.2 141.7L283.8 140.9M287.8 141.7L288.4 140.9M292.5 141.7L293.7 141.7M297.2 141.7L298.4 141.7M301.8 141.7L303.0 141.7M306.5 141.7L307.7 141.7M311.2 141.7L312.4 141.7M315.8 141.7L317.0 141.7M320.5 141.7L321.7 141.7M325.2 141.7L326.4 141.7M329.8 141.7L331.0 141.7M334.5 141.7L335.7 141.7M339.2 141.7L340.4 141.7M343.8 141.7L345.0 141.7M348.5 141.7L349.7 141.7M208.5 154.7L211.1 154.3M213.2 154.7L215.8 154.3M217.8 154.7L220.4 154.3M222.5 154.7L225.1 154.3M227.2 154.7L230.0 151.1M231.8 154.7L234.6 151.1M236.5 154.7L239.3 151.1M241.2 154.7L244.0 151.1M245.8 154.7L248.6 151.1M250.5 154.7L253.3 151.1M255.2 154.7L258.0 151.1M259.8 154.7L262.6 151.1M264.5 154.7L267.3 151.1M269.2 154.7L270.0 154.7M273.8 154.7L274.6 154.7M278.5 154.7L279.3 154.7M283.2 154.7L284.0 154.7M287.8 154.7L288.6 154.7M292.5 154.7L293.3 154.7M297.2 154.7L298.0 154.7M301.8 154.7L302.6 154.7M306.5 154.7L307.3 154.7M311.2 154.7L312.0 154.7M315.8 154.7L316.6 154.7M320.5 154.7L321.3 154.7M325.2 154.7L326.0 154.7M329.8 154.7L330.6 154.7M334.5 154.7L335.3 154.7M339.2 154.7L340.0 154.7M343.8 154.7L344.6 154.7M348.5 154.7L349.3 154.7M208.5 160.3L211.5 159.8M213.2 160.3L216.2 159.8M217.8 160.3L220.8 159.8M222.5 160.3L225.5 159.8M227.2 160.3L230.2 159.8M231.8 160.3L234.4 157.5M236.5 160.3L239.1 157.5M241.2 160.3L243.8 157.5M245.8 160.3L248.4 157.5M250.5 160.3L253.1 157.5M255.2 160.3L257.8 157.5M259.8 160.3L262.4 157.5M264.5 160.3L265.5 160.3M269.2 160.3L270.2 160.3M273.8 160.3L274.8 160.3M278.5 160.3L279.5 160.3M283.2 160.3L284.2 160.3M287.8 160.3L288.8 160.3M292.5 160.3L293.5 160.3M297.2 160.3L298.2 160.3M301.8 160.3L302.8 160.3M306.5 160.3L307.5 160.3M311.2 160.3L312.2 160.3M315.8 160.3L316.8 160.3M320.5 160.3L321.5 160.3M325.2 160.3L326.2 160.3M329.8 160.3L330.8 160.3M334.5 160.3L335.5 160.3M339.2 160.3L340.2 160.3M343.8 160.3L344.8 160.3M348.5 160.3L349.5 160.3M208.5 165.5L209.3 165.5M213.2 165.5L214.0 165.5M217.8 165.5L218.6 165.5M222.5 165.5L223.3 165.5M227.2 165.5L228.0 165.5M231.8 165.5L232.6 165.5M236.5 165.5L237.3 165.5M241.2 165.5L242.0 165.5M245.8 165.5L246.6 165.5M250.5 165.5L251.3 165.5M255.2 165.5L256.0 165.5M259.8 165.5L260.6 165.5M264.5 165.5L265.3 165.5M269.2 165.5L270.0 165.5M273.8 165.5L274.6 165.5M278.5 165.5L279.3 165.5M283.2 165.5L284.0 165.5M287.8 165.5L288.6 165.5M292.5 165.5L293.3 165.5M297.2 165.5L298.0 165.5M301.8 165.5L302.6 165.5M306.5 165.5L307.3 165.5M311.2 165.5L312.0 165.5M315.8 165.5L316.6 165.5M320.5 165.5L321.3 165.5M325.2 165.5L326.0 165.5M329.8 165.5L330.6 165.5M334.5 165.5L335.3 165.5M339.2 165.5L340.0 165.5M343.8 165.5L344.6 165.5M348.5 165.5L349.3 165.5" stroke="#111" stroke-width="0.72" fill="none" stroke-opacity="0.9"/><path d="M204.9 37.9L206.2 37.8L205.9 38.8ZM209.6 37.9L210.9 37.8L210.6 38.8ZM214.2 37.9L215.5 37.8L215.2 38.8ZM218.9 37.9L220.2 37.8L219.9 38.8ZM223.6 37.9L224.9 37.8L224.6 38.8ZM228.2 37.9L229.5 37.8L229.2 38.8ZM232.9 37.9L234.2 37.8L233.9 38.8ZM237.6 37.9L238.9 37.8L238.6 38.8ZM242.2 37.9L243.5 37.8L243.2 38.8ZM246.9 37.9L248.2 37.8L247.9 38.8ZM251.6 37.9L252.9 37.8L252.6 38.8ZM256.2 37.9L257.5 37.8L257.2 38.8ZM260.9 37.9L262.2 37.8L261.9 38.8ZM265.6 37.9L266.9 37.8L266.6 38.8ZM270.2 37.9L271.5 37.8L271.2 38.8ZM274.3 38.7L275.5 38.3L275.5 39.4ZM279.0 38.7L280.2 38.3L280.1 39.4ZM283.6 38.7L284.9 38.3L284.8 39.4ZM288.3 38.7L289.5 38.3L289.5 39.4ZM293.0 38.7L294.2 38.3L294.1 39.4ZM297.6 38.7L298.9 38.3L298.8 39.4ZM302.3 38.7L303.5 38.3L303.5 39.4ZM307.0 38.7L308.2 38.3L308.1 39.4ZM311.6 38.7L312.9 38.3L312.8 39.4ZM316.3 38.7L317.5 38.3L317.5 39.4ZM321.0 38.7L322.2 38.3L322.1 39.4ZM325.6 38.7L326.9 38.3L326.8 39.4ZM330.3 38.7L331.5 38.3L331.5 39.4ZM335.0 38.7L336.2 38.3L336.1 39.4ZM339.6 38.7L340.9 38.3L340.8 39.4ZM344.3 38.7L345.5 38.3L345.5 39.4ZM205.7 55.2L206.9 55.7L206.1 56.5ZM210.4 55.2L211.6 55.7L210.8 56.5ZM215.0 55.2L216.2 55.7L215.5 56.5ZM219.7 55.2L220.9 55.7L220.1 56.5ZM224.4 55.2L225.6 55.7L224.8 56.5ZM229.0 55.2L230.2 55.7L229.5 56.5ZM233.7 55.2L234.9 55.7L234.1 56.5ZM238.4 55.2L239.6 55.7L238.8 56.5ZM243.0 55.2L244.2 55.7L243.5 56.5ZM247.7 55.2L248.9 55.7L248.1 56.5ZM252.4 55.2L253.6 55.7L252.8 56.5ZM257.0 55.2L258.2 55.7L257.5 56.5ZM261.7 55.2L262.9 55.7L262.1 56.5ZM265.3 57.8L266.5 57.4L266.4 58.5ZM269.9 57.8L271.2 57.4L271.1 58.5ZM274.6 57.8L275.8 57.4L275.7 58.5ZM279.3 57.8L280.5 57.4L280.4 58.5ZM283.9 57.8L285.2 57.4L285.1 58.5ZM288.6 57.8L289.8 57.4L289.7 58.5ZM293.3 57.8L294.5 57.4L294.4 58.5ZM297.9 57.8L299.2 57.4L299.1 58.5ZM302.6 57.8L303.8 57.4L303.7 58.5ZM307.3 57.8L308.5 57.4L308.4 58.5ZM311.9 57.8L313.2 57.4L313.1 58.5ZM316.6 57.8L317.8 57.4L317.7 58.5ZM321.3 57.8L322.5 57.4L322.4 58.5ZM325.9 57.8L327.2 57.4L327.1 58.5ZM330.6 57.8L331.8 57.4L331.7 58.5ZM335.3 57.8L336.5 57.4L336.4 58.5ZM339.9 57.8L341.2 57.4L341.1 58.5ZM344.6 57.8L345.8 57.4L345.7 58.5ZM207.9 69.1L208.6 70.2L207.5 70.4ZM212.6 69.1L213.3 70.2L212.2 70.4ZM217.2 69.1L217.9 70.2L216.9 70.4ZM221.9 69.1L222.6 70.2L221.5 70.4ZM226.6 69.1L227.3 70.2L226.2 70.4ZM231.2 69.1L231.9 70.2L230.9 70.4ZM235.9 69.1L236.6 70.2L235.5 70.4ZM240.6 69.1L241.3 70.2L240.2 70.4ZM245.2 69.1L245.9 70.2L244.9 70.4ZM249.9 69.1L250.6 70.2L249.5 70.4ZM253.4 70.3L254.5 71.0L253.6 71.6ZM258.0 70.3L259.1 71.0L258.2 71.6ZM262.7 70.3L263.8 71.0L262.9 71.6ZM267.0 71.9L268.3 72.0L267.8 72.9ZM271.6 71.9L272.9 72.0L272.4 72.9ZM276.3 71.9L277.6 72.0L277.1 72.9ZM281.0 71.9L282.3 72.0L281.8 72.9ZM285.6 71.9L286.9 72.0L286.4 72.9ZM289.5 72.8L290.7 72.4L290.6 73.4ZM294.2 72.8L295.4 72.4L295.3 73.4ZM298.8 72.8L300.1 72.4L300.0 73.4ZM303.5 72.8L304.7 72.4L304.6 73.4ZM308.2 72.8L309.4 72.4L309.3 73.4ZM312.8 72.8L314.1 72.4L314.0 73.4ZM317.5 72.8L318.7 72.4L318.6 73.4ZM322.2 72.8L323.4 72.4L323.3 73.4ZM326.8 72.8L328.1 72.4L328.0 73.4ZM331.5 72.8L332.7 72.4L332.6 73.4ZM336.2 72.8L337.4 72.4L337.3 73.4ZM340.8 72.8L342.1 72.4L342.0 73.4ZM345.5 72.8L346.7 72.4L346.6 73.4ZM207.9 81.2L208.6 82.3L207.5 82.5ZM212.6 81.2L213.3 82.3L212.2 82.5ZM217.2 81.2L217.9 82.3L216.9 82.5ZM221.9 81.2L222.6 82.3L221.5 82.5ZM226.6 81.2L227.3 82.3L226.2 82.5ZM231.2 81.2L231.9 82.3L230.9 82.5ZM235.9 81.2L236.6 82.3L235.5 82.5ZM240.6 81.2L241.3 82.3L240.2 82.5ZM245.2 81.2L245.9 82.3L244.9 82.5ZM249.9 81.2L250.6 82.3L249.5 82.5ZM253.4 82.4L254.5 83.2L253.6 83.7ZM258.0 82.4L259.1 83.2L258.2 83.7ZM262.7 82.4L263.8 83.2L262.9 83.7ZM267.0 84.0L268.3 84.1L267.8 85.1ZM271.6 84.0L272.9 84.1L272.4 85.1ZM276.3 84.0L277.6 84.1L277.1 85.1ZM281.0 84.0L282.3 84.1L281.8 85.1ZM285.6 84.0L286.9 84.1L286.4 85.1ZM289.5 84.9L290.7 84.5L290.6 85.6ZM294.2 84.9L295.4 84.5L295.3 85.6ZM298.8 84.9L300.1 84.5L300.0 85.6ZM303.5 84.9L304.7 84.5L304.6 85.6ZM308.2 84.9L309.4 84.5L309.3 85.6ZM312.8 84.9L314.1 84.5L314.0 85.6ZM317.5 84.9L318.7 84.5L318.6 85.6ZM322.2 84.9L323.4 84.5L323.3 85.6ZM326.8 84.9L328.1 84.5L328.0 85.6ZM331.5 84.9L332.7 84.5L332.6 85.6ZM336.2 84.9L337.4 84.5L337.3 85.6ZM340.8 84.9L342.1 84.5L342.0 85.6ZM345.5 84.9L346.7 84.5L346.6 85.6ZM208.8 100.2L209.3 101.5L208.2 101.4ZM213.5 100.2L213.9 101.5L212.8 101.4ZM218.1 100.2L218.6 101.5L217.5 101.4ZM222.8 100.2L223.3 101.5L222.2 101.4ZM227.5 100.2L227.9 101.5L226.8 101.4ZM232.1 100.2L232.6 101.5L231.5 101.4ZM236.8 100.2L237.3 101.5L236.2 101.4ZM241.5 100.2L241.9 101.5L240.8 101.4ZM246.1 100.2L246.6 101.5L245.5 101.4ZM250.8 100.2L251.3 101.5L250.2 101.4ZM255.5 100.2L255.9 101.5L254.8 101.4ZM260.1 100.2L260.6 101.5L259.5 101.4ZM264.8 100.2L265.3 101.5L264.2 101.4ZM269.5 100.2L269.9 101.5L268.8 101.4ZM274.6 104.4L274.2 104.6L274.2 104.2ZM279.3 104.4L278.9 104.6L278.9 104.2ZM284.0 104.4L283.6 104.6L283.6 104.2ZM288.6 104.4L288.2 104.6L288.2 104.2ZM295.0 103.6L294.0 104.5L293.7 103.5ZM299.7 103.6L298.7 104.5L298.4 103.5ZM304.3 103.6L303.4 104.5L303.0 103.5ZM309.0 103.6L308.0 104.5L307.7 103.5ZM313.7 103.6L312.7 104.5L312.4 103.5ZM318.3 103.6L317.4 104.5L317.0 103.5ZM323.0 103.6L322.0 104.5L321.7 103.5ZM327.8 104.4L326.6 105.0L326.6 103.9ZM332.4 104.4L331.2 105.0L331.2 103.9ZM337.1 104.4L335.9 105.0L335.9 103.9ZM341.8 104.4L340.6 105.0L340.6 103.9ZM346.4 104.4L345.2 105.0L345.2 103.9ZM351.1 104.4L349.9 105.0L349.9 103.9ZM209.6 115.5L209.8 116.8L208.7 116.5ZM214.3 115.5L214.5 116.8L213.4 116.5ZM218.9 115.5L219.1 116.8L218.1 116.5ZM223.6 115.5L223.8 116.8L222.7 116.5ZM228.3 115.5L228.5 116.8L227.4 116.5ZM232.9 115.5L233.1 116.8L232.1 116.5ZM237.6 115.5L237.8 116.8L236.7 116.5ZM242.3 115.5L242.5 116.8L241.4 116.5ZM246.9 115.5L247.1 116.8L246.1 116.5ZM251.6 115.5L251.8 116.8L250.7 116.5ZM256.3 115.5L256.5 116.8L255.4 116.5ZM260.9 115.5L261.1 116.8L260.1 116.5ZM265.6 115.5L265.8 116.8L264.7 116.5ZM270.3 115.5L270.5 116.8L269.4 116.5ZM274.4 118.5L274.3 119.0L274.0 118.8ZM279.1 118.5L279.0 119.0L278.6 118.8ZM283.8 118.5L283.6 119.0L283.3 118.8ZM288.4 118.5L288.3 119.0L288.0 118.8ZM294.7 119.1L293.6 119.7L293.6 118.7ZM299.4 119.1L298.3 119.7L298.2 118.7ZM304.0 119.1L303.0 119.7L302.9 118.7ZM308.7 119.1L307.6 119.7L307.6 118.7ZM313.4 119.1L312.3 119.7L312.2 118.7ZM318.0 119.1L317.0 119.7L316.9 118.7ZM322.7 119.1L321.6 119.7L321.6 118.7ZM327.4 119.1L326.3 119.7L326.2 118.7ZM332.0 119.1L331.0 119.7L330.9 118.7ZM336.7 119.1L335.6 119.7L335.6 118.7ZM341.4 119.1L340.3 119.7L340.2 118.7ZM346.0 119.1L345.0 119.7L344.9 118.7ZM350.7 119.1L349.6 119.7L349.6 118.7ZM209.6 127.6L209.8 128.9L208.7 128.6ZM214.3 127.6L214.5 128.9L213.4 128.6ZM218.9 127.6L219.1 128.9L218.1 128.6ZM223.6 127.6L223.8 128.9L222.7 128.6ZM228.3 127.6L228.5 128.9L227.4 128.6ZM232.9 127.6L233.1 128.9L232.1 128.6ZM237.6 127.6L237.8 128.9L236.7 128.6ZM242.3 127.6L242.5 128.9L241.4 128.6ZM246.9 127.6L247.1 128.9L246.1 128.6ZM251.6 127.6L251.8 128.9L250.7 128.6ZM256.3 127.6L256.5 128.9L255.4 128.6ZM260.9 127.6L261.1 128.9L260.1 128.6ZM265.6 127.6L265.8 128.9L264.7 128.6ZM270.3 127.6L270.5 128.9L269.4 128.6ZM274.4 130.6L274.3 131.2L274.0 130.9ZM279.1 130.6L279.0 131.2L278.6 130.9ZM283.8 130.6L283.6 131.2L283.3 130.9ZM288.4 130.6L288.3 131.2L288.0 130.9ZM293.7 131.4L293.1 131.7L293.1 131.2ZM298.4 131.4L297.8 131.7L297.8 131.2ZM303.0 131.4L302.4 131.7L302.4 131.2ZM307.7 131.4L307.1 131.7L307.1 131.2ZM312.4 131.4L311.8 131.7L311.8 131.2ZM317.0 131.4L316.4 131.7L316.4 131.2ZM321.7 131.4L321.1 131.7L321.1 131.2ZM326.4 131.4L325.8 131.7L325.8 131.2ZM331.0 131.4L330.4 131.7L330.4 131.2ZM335.7 131.4L335.1 131.7L335.1 131.2ZM340.4 131.4L339.8 131.7L339.8 131.2ZM345.0 131.4L344.4 131.7L344.4 131.2ZM349.7 131.4L349.1 131.7L349.1 131.2ZM209.6 137.9L209.8 139.2L208.7 138.9ZM214.3 137.9L214.5 139.2L213.4 138.9ZM218.9 137.9L219.1 139.2L218.1 138.9ZM223.6 137.9L223.8 139.2L222.7 138.9ZM228.3 137.9L228.5 139.2L227.4 138.9ZM232.9 137.9L233.1 139.2L232.1 138.9ZM237.6 137.9L237.8 139.2L236.7 138.9ZM242.3 137.9L242.5 139.2L241.4 138.9ZM246.9 137.9L247.1 139.2L246.1 138.9ZM251.6 137.9L251.8 139.2L250.7 138.9ZM256.3 137.9L256.5 139.2L255.4 138.9ZM260.9 137.9L261.1 139.2L260.1 138.9ZM265.6 137.9L265.8 139.2L264.7 138.9ZM270.3 137.9L270.5 139.2L269.4 138.9ZM274.4 140.9L274.3 141.5L274.0 141.2ZM279.1 140.9L279.0 141.5L278.6 141.2ZM283.8 140.9L283.6 141.5L283.3 141.2ZM288.4 140.9L288.3 141.5L288.0 141.2ZM293.7 141.7L293.1 142.0L293.1 141.5ZM298.4 141.7L297.8 142.0L297.8 141.5ZM303.0 141.7L302.4 142.0L302.4 141.5ZM307.7 141.7L307.1 142.0L307.1 141.5ZM312.4 141.7L311.8 142.0L311.8 141.5ZM317.0 141.7L316.4 142.0L316.4 141.5ZM321.7 141.7L321.1 142.0L321.1 141.5ZM326.4 141.7L325.8 142.0L325.8 141.5ZM331.0 141.7L330.4 142.0L330.4 141.5ZM335.7 141.7L335.1 142.0L335.1 141.5ZM340.4 141.7L339.8 142.0L339.8 141.5ZM345.0 141.7L344.4 142.0L344.4 141.5ZM349.7 141.7L349.1 142.0L349.1 141.5ZM211.1 154.3L210.0 155.0L209.8 153.9ZM215.8 154.3L214.7 155.0L214.5 153.9ZM220.4 154.3L219.3 155.0L219.2 153.9ZM225.1 154.3L224.0 155.0L223.8 153.9ZM230.0 151.1L229.7 152.3L228.8 151.7ZM234.6 151.1L234.3 152.3L233.5 151.7ZM239.3 151.1L239.0 152.3L238.1 151.7ZM244.0 151.1L243.7 152.3L242.8 151.7ZM248.6 151.1L248.3 152.3L247.5 151.7ZM253.3 151.1L253.0 152.3L252.1 151.7ZM258.0 151.1L257.7 152.3L256.8 151.7ZM262.6 151.1L262.3 152.3L261.5 151.7ZM267.3 151.1L267.0 152.3L266.1 151.7ZM270.0 154.7L269.6 154.8L269.6 154.5ZM274.6 154.7L274.2 154.8L274.2 154.5ZM279.3 154.7L278.9 154.8L278.9 154.5ZM284.0 154.7L283.6 154.8L283.6 154.5ZM288.6 154.7L288.2 154.8L288.2 154.5ZM293.3 154.7L292.9 154.8L292.9 154.5ZM298.0 154.7L297.6 154.8L297.6 154.5ZM302.6 154.7L302.2 154.8L302.2 154.5ZM307.3 154.7L306.9 154.8L306.9 154.5ZM312.0 154.7L311.6 154.8L311.6 154.5ZM316.6 154.7L316.2 154.8L316.2 154.5ZM321.3 154.7L320.9 154.8L320.9 154.5ZM326.0 154.7L325.6 154.8L325.6 154.5ZM330.6 154.7L330.2 154.8L330.2 154.5ZM335.3 154.7L334.9 154.8L334.9 154.5ZM340.0 154.7L339.6 154.8L339.6 154.5ZM344.6 154.7L344.2 154.8L344.2 154.5ZM349.3 154.7L348.9 154.8L348.9 154.5ZM211.5 159.8L210.4 160.5L210.2 159.5ZM216.2 159.8L215.1 160.5L214.9 159.5ZM220.8 159.8L219.7 160.5L219.6 159.5ZM225.5 159.8L224.4 160.5L224.2 159.5ZM230.2 159.8L229.1 160.5L228.9 159.5ZM234.4 157.5L234.0 158.7L233.2 158.0ZM239.1 157.5L238.7 158.7L237.9 158.0ZM243.8 157.5L243.3 158.7L242.6 158.0ZM248.4 157.5L248.0 158.7L247.2 158.0ZM253.1 157.5L252.7 158.7L251.9 158.0ZM257.8 157.5L257.3 158.7L256.6 158.0ZM262.4 157.5L262.0 158.7L261.2 158.0ZM265.5 160.3L265.0 160.5L265.0 160.1ZM270.2 160.3L269.7 160.5L269.7 160.1ZM274.8 160.3L274.3 160.5L274.3 160.1ZM279.5 160.3L279.0 160.5L279.0 160.1ZM284.2 160.3L283.7 160.5L283.7 160.1ZM288.8 160.3L288.3 160.5L288.3 160.1ZM293.5 160.3L293.0 160.5L293.0 160.1ZM298.2 160.3L297.7 160.5L297.7 160.1ZM302.8 160.3L302.3 160.5L302.3 160.1ZM307.5 160.3L307.0 160.5L307.0 160.1ZM312.2 160.3L311.7 160.5L311.7 160.1ZM316.8 160.3L316.3 160.5L316.3 160.1ZM321.5 160.3L321.0 160.5L321.0 160.1ZM326.2 160.3L325.7 160.5L325.7 160.1ZM330.8 160.3L330.3 160.5L330.3 160.1ZM335.5 160.3L335.0 160.5L335.0 160.1ZM340.2 160.3L339.7 160.5L339.7 160.1ZM344.8 160.3L344.3 160.5L344.3 160.1ZM349.5 160.3L349.0 160.5L349.0 160.1ZM209.3 165.5L208.9 165.7L208.9 165.3ZM214.0 165.5L213.6 165.7L213.6 165.3ZM218.6 165.5L218.2 165.7L218.2 165.3ZM223.3 165.5L222.9 165.7L222.9 165.3ZM228.0 165.5L227.6 165.7L227.6 165.3ZM232.6 165.5L232.2 165.7L232.2 165.3ZM237.3 165.5L236.9 165.7L236.9 165.3ZM242.0 165.5L241.6 165.7L241.6 165.3ZM246.6 165.5L246.2 165.7L246.2 165.3ZM251.3 165.5L250.9 165.7L250.9 165.3ZM256.0 165.5L255.6 165.7L255.6 165.3ZM260.6 165.5L260.2 165.7L260.2 165.3ZM265.3 165.5L264.9 165.7L264.9 165.3ZM270.0 165.5L269.6 165.7L269.6 165.3ZM274.6 165.5L274.2 165.7L274.2 165.3ZM279.3 165.5L278.9 165.7L278.9 165.3ZM284.0 165.5L283.6 165.7L283.6 165.3ZM288.6 165.5L288.2 165.7L288.2 165.3ZM293.3 165.5L292.9 165.7L292.9 165.3ZM298.0 165.5L297.6 165.7L297.6 165.3ZM302.6 165.5L302.2 165.7L302.2 165.3ZM307.3 165.5L306.9 165.7L306.9 165.3ZM312.0 165.5L311.6 165.7L311.6 165.3ZM316.6 165.5L316.2 165.7L316.2 165.3ZM321.3 165.5L320.9 165.7L320.9 165.3ZM326.0 165.5L325.6 165.7L325.6 165.3ZM330.6 165.5L330.2 165.7L330.2 165.3ZM335.3 165.5L334.9 165.7L334.9 165.3ZM340.0 165.5L339.6 165.7L339.6 165.3ZM344.6 165.5L344.2 165.7L344.2 165.3ZM349.3 165.5L348.9 165.7L348.9 165.3Z" fill="#111" fill-opacity="0.9"/></g>
<g clip-path="url(#ct2)"><path d="M376.2 39.0L372.6 37.9M380.9 39.0L377.3 37.9M385.5 39.0L381.9 37.9M390.2 39.0L386.6 37.9M394.9 39.0L391.3 37.9M399.5 39.0L395.9 37.9M404.2 39.0L400.6 37.9M408.9 39.0L405.3 37.9M413.5 39.0L409.9 37.9M418.2 39.0L414.6 37.9M422.9 39.0L419.3 37.9M427.5 39.0L423.9 37.9M432.2 39.0L428.6 37.9M436.9 39.0L433.3 37.9M441.5 39.0L437.9 37.9M446.2 39.0L442.0 38.7M450.9 39.0L446.7 38.7M455.5 39.0L451.3 38.7M460.2 39.0L456.0 38.7M464.9 39.0L460.7 38.7M469.5 39.0L465.3 38.7M474.2 39.0L470.0 38.7M478.9 39.0L474.7 38.7M483.5 39.0L479.3 38.7M488.2 39.0L484.0 38.7M492.9 39.0L488.7 38.7M497.5 39.0L493.3 38.7M502.2 39.0L498.0 38.7M506.9 39.0L502.7 38.7M511.5 39.0L507.3 38.7M516.2 39.0L512.0 38.7M376.2 58.2L373.4 55.2M380.9 58.2L378.1 55.2M385.5 58.2L382.7 55.2M390.2 58.2L387.4 55.2M394.9 58.2L392.1 55.2M399.5 58.2L396.7 55.2M404.2 58.2L401.4 55.2M408.9 58.2L406.1 55.2M413.5 58.2L410.7 55.2M418.2 58.2L415.4 55.2M422.9 58.2L420.1 55.2M427.5 58.2L424.7 55.2M432.2 58.2L429.4 55.2M436.9 58.2L433.0 57.8M441.5 58.2L437.6 57.8M446.2 58.2L442.3 57.8M450.9 58.2L447.0 57.8M455.5 58.2L451.6 57.8M460.2 58.2L456.3 57.8M464.9 58.2L461.0 57.8M469.5 58.2L465.6 57.8M474.2 58.2L470.3 57.8M478.9 58.2L475.0 57.8M483.5 58.2L479.6 57.8M488.2 58.2L484.3 57.8M492.9 58.2L489.0 57.8M497.5 58.2L493.6 57.8M502.2 58.2L498.3 57.8M506.9 58.2L503.0 57.8M511.5 58.2L507.6 57.8M516.2 58.2L512.3 57.8M376.2 73.1L375.6 69.1M380.9 73.1L380.3 69.1M385.5 73.1L384.9 69.1M390.2 73.1L389.6 69.1M394.9 73.1L394.3 69.1M399.5 73.1L398.9 69.1M404.2 73.1L403.6 69.1M408.9 73.1L408.3 69.1M413.5 73.1L412.9 69.1M418.2 73.1L417.6 69.1M422.9 73.1L421.1 70.3M427.5 73.1L425.7 70.3M432.2 73.1L430.4 70.3M436.9 73.1L434.7 71.9M441.5 73.1L439.3 71.9M446.2 73.1L444.0 71.9M450.9 73.1L448.7 71.9M455.5 73.1L453.3 71.9M460.2 73.1L457.2 72.8M464.9 73.1L461.9 72.8M469.5 73.1L466.5 72.8M474.2 73.1L471.2 72.8M478.9 73.1L475.9 72.8M483.5 73.1L480.5 72.8M488.2 73.1L485.2 72.8M492.9 73.1L489.9 72.8M497.5 73.1L494.5 72.8M502.2 73.1L499.2 72.8M506.9 73.1L503.9 72.8M511.5 73.1L508.5 72.8M516.2 73.1L513.2 72.8M376.2 85.2L375.6 81.2M380.9 85.2L380.3 81.2M385.5 85.2L384.9 81.2M390.2 85.2L389.6 81.2M394.9 85.2L394.3 81.2M399.5 85.2L398.9 81.2M404.2 85.2L403.6 81.2M408.9 85.2L408.3 81.2M413.5 85.2L412.9 81.2M418.2 85.2L417.6 81.2M422.9 85.2L421.1 82.4M427.5 85.2L425.7 82.4M432.2 85.2L430.4 82.4M436.9 85.2L434.7 84.0M441.5 85.2L439.3 84.0M446.2 85.2L444.0 84.0M450.9 85.2L448.7 84.0M455.5 85.2L453.3 84.0M460.2 85.2L457.2 84.9M464.9 85.2L461.9 84.9M469.5 85.2L466.5 84.9M474.2 85.2L471.2 84.9M478.9 85.2L475.9 84.9M483.5 85.2L480.5 84.9M488.2 85.2L485.2 84.9M492.9 85.2L489.9 84.9M497.5 85.2L494.5 84.9M502.2 85.2L499.2 84.9M506.9 85.2L503.9 84.9M511.5 85.2L508.5 84.9M516.2 85.2L513.2 84.9M376.2 104.4L376.5 100.2M380.9 104.4L381.2 100.2M385.5 104.4L385.8 100.2M390.2 104.4L390.5 100.2M394.9 104.4L395.2 100.2M399.5 104.4L399.8 100.2M404.2 104.4L404.5 100.2M408.9 104.4L409.2 100.2M413.5 104.4L413.8 100.2M418.2 104.4L418.5 100.2M422.9 104.4L423.2 100.2M427.5 104.4L427.8 100.2M432.2 104.4L432.5 100.2M436.9 104.4L437.2 100.2M441.5 104.4L442.3 104.4M446.2 104.4L447.0 104.4M450.9 104.4L451.7 104.4M455.5 104.4L456.3 104.4M460.2 104.4L462.7 103.6M464.9 104.4L467.4 103.6M469.5 104.4L472.0 103.6M474.2 104.4L476.7 103.6M478.9 104.4L481.4 103.6M483.5 104.4L486.0 103.6M488.2 104.4L490.7 103.6M492.9 104.4L495.5 104.4M497.5 104.4L500.1 104.4M502.2 104.4L504.8 104.4M506.9 104.4L509.5 104.4M511.5 104.4L514.1 104.4M516.2 104.4L518.8 104.4M376.2 119.3L377.3 115.5M380.9 119.3L382.0 115.5M385.5 119.3L386.6 115.5M390.2 119.3L391.3 115.5M394.9 119.3L396.0 115.5M399.5 119.3L400.6 115.5M404.2 119.3L405.3 115.5M408.9 119.3L410.0 115.5M413.5 119.3L414.6 115.5M418.2 119.3L419.3 115.5M422.9 119.3L424.0 115.5M427.5 119.3L428.6 115.5M432.2 119.3L433.3 115.5M436.9 119.3L438.0 115.5M441.5 119.3L442.1 118.5M446.2 119.3L446.8 118.5M450.9 119.3L451.5 118.5M455.5 119.3L456.1 118.5M460.2 119.3L462.4 119.1M464.9 119.3L467.1 119.1M469.5 119.3L471.7 119.1M474.2 119.3L476.4 119.1M478.9 119.3L481.1 119.1M483.5 119.3L485.7 119.1M488.2 119.3L490.4 119.1M492.9 119.3L495.1 119.1M497.5 119.3L499.7 119.1M502.2 119.3L504.4 119.1M506.9 119.3L509.1 119.1M511.5 119.3L513.7 119.1M516.2 119.3L518.4 119.1M376.2 131.4L377.3 127.6M380.9 131.4L382.0 127.6M385.5 131.4L386.6 127.6M390.2 131.4L391.3 127.6M394.9 131.4L396.0 127.6M399.5 131.4L400.6 127.6M404.2 131.4L405.3 127.6M408.9 131.4L410.0 127.6M413.5 131.4L414.6 127.6M418.2 131.4L419.3 127.6M422.9 131.4L424.0 127.6M427.5 131.4L428.6 127.6M432.2 131.4L433.3 127.6M436.9 131.4L438.0 127.6M441.5 131.4L442.1 130.6M446.2 131.4L446.8 130.6M450.9 131.4L451.5 130.6M455.5 131.4L456.1 130.6M460.2 131.4L461.4 131.4M464.9 131.4L466.1 131.4M469.5 131.4L470.7 131.4M474.2 131.4L475.4 131.4M478.9 131.4L480.1 131.4M483.5 131.4L484.7 131.4M488.2 131.4L489.4 131.4M492.9 131.4L494.1 131.4M497.5 131.4L498.7 131.4M502.2 131.4L503.4 131.4M506.9 131.4L508.1 131.4M511.5 131.4L512.7 131.4M516.2 131.4L517.4 131.4M376.2 141.7L377.3 137.9M380.9 141.7L382.0 137.9M385.5 141.7L386.6 137.9M390.2 141.7L391.3 137.9M394.9 141.7L396.0 137.9M399.5 141.7L400.6 137.9M404.2 141.7L405.3 137.9M408.9 141.7L410.0 137.9M413.5 141.7L414.6 137.9M418.2 141.7L419.3 137.9M422.9 141.7L424.0 137.9M427.5 141.7L428.6 137.9M432.2 141.7L433.3 137.9M436.9 141.7L438.0 137.9M441.5 141.7L442.1 140.9M446.2 141.7L446.8 140.9M450.9 141.7L451.5 140.9M455.5 141.7L456.1 140.9M460.2 141.7L461.4 141.7M464.9 141.7L466.1 141.7M469.5 141.7L470.7 141.7M474.2 141.7L475.4 141.7M478.9 141.7L480.1 141.7M483.5 141.7L484.7 141.7M488.2 141.7L489.4 141.7M492.9 141.7L494.1 141.7M497.5 141.7L498.7 141.7M502.2 141.7L503.4 141.7M506.9 141.7L508.1 141.7M511.5 141.7L512.7 141.7M516.2 141.7L517.4 141.7M376.2 154.7L378.8 154.3M380.9 154.7L383.5 154.3M385.5 154.7L388.1 154.3M390.2 154.7L392.8 154.3M394.9 154.7L397.7 151.1M399.5 154.7L402.3 151.1M404.2 154.7L407.0 151.1M408.9 154.7L411.7 151.1M413.5 154.7L416.3 151.1M418.2 154.7L421.0 151.1M422.9 154.7L425.7 151.1M427.5 154.7L430.3 151.1M432.2 154.7L435.0 151.1M436.9 154.7L437.7 154.7M441.5 154.7L442.3 154.7M446.2 154.7L447.0 154.7M450.9 154.7L451.7 154.7M455.5 154.7L456.3 154.7M460.2 154.7L461.0 154.7M464.9 154.7L465.7 154.7M469.5 154.7L470.3 154.7M474.2 154.7L475.0 154.7M478.9 154.7L479.7 154.7M483.5 154.7L484.3 154.7M488.2 154.7L489.0 154.7M492.9 154.7L493.7 154.7M497.5 154.7L498.3 154.7M502.2 154.7L503.0 154.7M506.9 154.7L507.7 154.7M511.5 154.7L512.3 154.7M516.2 154.7L517.0 154.7M376.2 160.3L379.2 159.8M380.9 160.3L383.9 159.8M385.5 160.3L388.5 159.8M390.2 160.3L393.2 159.8M394.9 160.3L397.9 159.8M399.5 160.3L402.1 157.5M404.2 160.3L406.8 157.5M408.9 160.3L411.5 157.5M413.5 160.3L416.1 157.5M418.2 160.3L420.8 157.5M422.9 160.3L425.5 157.5M427.5 160.3L430.1 157.5M432.2 160.3L433.2 160.3M436.9 160.3L437.9 160.3M441.5 160.3L442.5 160.3M446.2 160.3L447.2 160.3M450.9 160.3L451.9 160.3M455.5 160.3L456.5 160.3M460.2 160.3L461.2 160.3M464.9 160.3L465.9 160.3M469.5 160.3L470.5 160.3M474.2 160.3L475.2 160.3M478.9 160.3L479.9 160.3M483.5 160.3L484.5 160.3M488.2 160.3L489.2 160.3M492.9 160.3L493.9 160.3M497.5 160.3L498.5 160.3M502.2 160.3L503.2 160.3M506.9 160.3L507.9 160.3M511.5 160.3L512.5 160.3M516.2 160.3L517.2 160.3M376.2 165.5L377.0 165.5M380.9 165.5L381.7 165.5M385.5 165.5L386.3 165.5M390.2 165.5L391.0 165.5M394.9 165.5L395.7 165.5M399.5 165.5L400.3 165.5M404.2 165.5L405.0 165.5M408.9 165.5L409.7 165.5M413.5 165.5L414.3 165.5M418.2 165.5L419.0 165.5M422.9 165.5L423.7 165.5M427.5 165.5L428.3 165.5M432.2 165.5L433.0 165.5M436.9 165.5L437.7 165.5M441.5 165.5L442.3 165.5M446.2 165.5L447.0 165.5M450.9 165.5L451.7 165.5M455.5 165.5L456.3 165.5M460.2 165.5L461.0 165.5M464.9 165.5L465.7 165.5M469.5 165.5L470.3 165.5M474.2 165.5L475.0 165.5M478.9 165.5L479.7 165.5M483.5 165.5L484.3 165.5M488.2 165.5L489.0 165.5M492.9 165.5L493.7 165.5M497.5 165.5L498.3 165.5M502.2 165.5L503.0 165.5M506.9 165.5L507.7 165.5M511.5 165.5L512.3 165.5M516.2 165.5L517.0 165.5" stroke="#111" stroke-width="0.72" fill="none" stroke-opacity="0.9"/><path d="M372.6 37.9L373.9 37.8L373.6 38.8ZM377.3 37.9L378.6 37.8L378.3 38.8ZM381.9 37.9L383.2 37.8L382.9 38.8ZM386.6 37.9L387.9 37.8L387.6 38.8ZM391.3 37.9L392.6 37.8L392.3 38.8ZM395.9 37.9L397.2 37.8L396.9 38.8ZM400.6 37.9L401.9 37.8L401.6 38.8ZM405.3 37.9L406.6 37.8L406.3 38.8ZM409.9 37.9L411.2 37.8L410.9 38.8ZM414.6 37.9L415.9 37.8L415.6 38.8ZM419.3 37.9L420.6 37.8L420.3 38.8ZM423.9 37.9L425.2 37.8L424.9 38.8ZM428.6 37.9L429.9 37.8L429.6 38.8ZM433.3 37.9L434.6 37.8L434.3 38.8ZM437.9 37.9L439.2 37.8L438.9 38.8ZM442.0 38.7L443.2 38.3L443.2 39.4ZM446.7 38.7L447.9 38.3L447.8 39.4ZM451.3 38.7L452.6 38.3L452.5 39.4ZM456.0 38.7L457.2 38.3L457.2 39.4ZM460.7 38.7L461.9 38.3L461.8 39.4ZM465.3 38.7L466.6 38.3L466.5 39.4ZM470.0 38.7L471.2 38.3L471.2 39.4ZM474.7 38.7L475.9 38.3L475.8 39.4ZM479.3 38.7L480.6 38.3L480.5 39.4ZM484.0 38.7L485.2 38.3L485.2 39.4ZM488.7 38.7L489.9 38.3L489.8 39.4ZM493.3 38.7L494.6 38.3L494.5 39.4ZM498.0 38.7L499.2 38.3L499.2 39.4ZM502.7 38.7L503.9 38.3L503.8 39.4ZM507.3 38.7L508.6 38.3L508.5 39.4ZM512.0 38.7L513.2 38.3L513.2 39.4ZM373.4 55.2L374.6 55.7L373.8 56.5ZM378.1 55.2L379.3 55.7L378.5 56.5ZM382.7 55.2L383.9 55.7L383.2 56.5ZM387.4 55.2L388.6 55.7L387.8 56.5ZM392.1 55.2L393.3 55.7L392.5 56.5ZM396.7 55.2L397.9 55.7L397.2 56.5ZM401.4 55.2L402.6 55.7L401.8 56.5ZM406.1 55.2L407.3 55.7L406.5 56.5ZM410.7 55.2L411.9 55.7L411.2 56.5ZM415.4 55.2L416.6 55.7L415.8 56.5ZM420.1 55.2L421.3 55.7L420.5 56.5ZM424.7 55.2L425.9 55.7L425.2 56.5ZM429.4 55.2L430.6 55.7L429.8 56.5ZM433.0 57.8L434.2 57.4L434.1 58.5ZM437.6 57.8L438.9 57.4L438.8 58.5ZM442.3 57.8L443.5 57.4L443.4 58.5ZM447.0 57.8L448.2 57.4L448.1 58.5ZM451.6 57.8L452.9 57.4L452.8 58.5ZM456.3 57.8L457.5 57.4L457.4 58.5ZM461.0 57.8L462.2 57.4L462.1 58.5ZM465.6 57.8L466.9 57.4L466.8 58.5ZM470.3 57.8L471.5 57.4L471.4 58.5ZM475.0 57.8L476.2 57.4L476.1 58.5ZM479.6 57.8L480.9 57.4L480.8 58.5ZM484.3 57.8L485.5 57.4L485.4 58.5ZM489.0 57.8L490.2 57.4L490.1 58.5ZM493.6 57.8L494.9 57.4L494.8 58.5ZM498.3 57.8L499.5 57.4L499.4 58.5ZM503.0 57.8L504.2 57.4L504.1 58.5ZM507.6 57.8L508.9 57.4L508.8 58.5ZM512.3 57.8L513.5 57.4L513.4 58.5ZM375.6 69.1L376.3 70.2L375.2 70.4ZM380.3 69.1L381.0 70.2L379.9 70.4ZM384.9 69.1L385.6 70.2L384.6 70.4ZM389.6 69.1L390.3 70.2L389.2 70.4ZM394.3 69.1L395.0 70.2L393.9 70.4ZM398.9 69.1L399.6 70.2L398.6 70.4ZM403.6 69.1L404.3 70.2L403.2 70.4ZM408.3 69.1L409.0 70.2L407.9 70.4ZM412.9 69.1L413.6 70.2L412.6 70.4ZM417.6 69.1L418.3 70.2L417.2 70.4ZM421.1 70.3L422.2 71.0L421.3 71.6ZM425.7 70.3L426.8 71.0L425.9 71.6ZM430.4 70.3L431.5 71.0L430.6 71.6ZM434.7 71.9L436.0 72.0L435.5 72.9ZM439.3 71.9L440.6 72.0L440.1 72.9ZM444.0 71.9L445.3 72.0L444.8 72.9ZM448.7 71.9L450.0 72.0L449.5 72.9ZM453.3 71.9L454.6 72.0L454.1 72.9ZM457.2 72.8L458.4 72.4L458.3 73.4ZM461.9 72.8L463.1 72.4L463.0 73.4ZM466.5 72.8L467.8 72.4L467.7 73.4ZM471.2 72.8L472.4 72.4L472.3 73.4ZM475.9 72.8L477.1 72.4L477.0 73.4ZM480.5 72.8L481.8 72.4L481.7 73.4ZM485.2 72.8L486.4 72.4L486.3 73.4ZM489.9 72.8L491.1 72.4L491.0 73.4ZM494.5 72.8L495.8 72.4L495.7 73.4ZM499.2 72.8L500.4 72.4L500.3 73.4ZM503.9 72.8L505.1 72.4L505.0 73.4ZM508.5 72.8L509.8 72.4L509.7 73.4ZM513.2 72.8L514.4 72.4L514.3 73.4ZM375.6 81.2L376.3 82.3L375.2 82.5ZM380.3 81.2L381.0 82.3L379.9 82.5ZM384.9 81.2L385.6 82.3L384.6 82.5ZM389.6 81.2L390.3 82.3L389.2 82.5ZM394.3 81.2L395.0 82.3L393.9 82.5ZM398.9 81.2L399.6 82.3L398.6 82.5ZM403.6 81.2L404.3 82.3L403.2 82.5ZM408.3 81.2L409.0 82.3L407.9 82.5ZM412.9 81.2L413.6 82.3L412.6 82.5ZM417.6 81.2L418.3 82.3L417.2 82.5ZM421.1 82.4L422.2 83.2L421.3 83.7ZM425.7 82.4L426.8 83.2L425.9 83.7ZM430.4 82.4L431.5 83.2L430.6 83.7ZM434.7 84.0L436.0 84.1L435.5 85.1ZM439.3 84.0L440.6 84.1L440.1 85.1ZM444.0 84.0L445.3 84.1L444.8 85.1ZM448.7 84.0L450.0 84.1L449.5 85.1ZM453.3 84.0L454.6 84.1L454.1 85.1ZM457.2 84.9L458.4 84.5L458.3 85.6ZM461.9 84.9L463.1 84.5L463.0 85.6ZM466.5 84.9L467.8 84.5L467.7 85.6ZM471.2 84.9L472.4 84.5L472.3 85.6ZM475.9 84.9L477.1 84.5L477.0 85.6ZM480.5 84.9L481.8 84.5L481.7 85.6ZM485.2 84.9L486.4 84.5L486.3 85.6ZM489.9 84.9L491.1 84.5L491.0 85.6ZM494.5 84.9L495.8 84.5L495.7 85.6ZM499.2 84.9L500.4 84.5L500.3 85.6ZM503.9 84.9L505.1 84.5L505.0 85.6ZM508.5 84.9L509.8 84.5L509.7 85.6ZM513.2 84.9L514.4 84.5L514.3 85.6ZM376.5 100.2L377.0 101.5L375.9 101.4ZM381.2 100.2L381.6 101.5L380.5 101.4ZM385.8 100.2L386.3 101.5L385.2 101.4ZM390.5 100.2L391.0 101.5L389.9 101.4ZM395.2 100.2L395.6 101.5L394.5 101.4ZM399.8 100.2L400.3 101.5L399.2 101.4ZM404.5 100.2L405.0 101.5L403.9 101.4ZM409.2 100.2L409.6 101.5L408.5 101.4ZM413.8 100.2L414.3 101.5L413.2 101.4ZM418.5 100.2L419.0 101.5L417.9 101.4ZM423.2 100.2L423.6 101.5L422.5 101.4ZM427.8 100.2L428.3 101.5L427.2 101.4ZM432.5 100.2L433.0 101.5L431.9 101.4ZM437.2 100.2L437.6 101.5L436.5 101.4ZM442.3 104.4L441.9 104.6L441.9 104.2ZM447.0 104.4L446.6 104.6L446.6 104.2ZM451.7 104.4L451.3 104.6L451.3 104.2ZM456.3 104.4L455.9 104.6L455.9 104.2ZM462.7 103.6L461.7 104.5L461.4 103.5ZM467.4 103.6L466.4 104.5L466.1 103.5ZM472.0 103.6L471.1 104.5L470.7 103.5ZM476.7 103.6L475.7 104.5L475.4 103.5ZM481.4 103.6L480.4 104.5L480.1 103.5ZM486.0 103.6L485.1 104.5L484.7 103.5ZM490.7 103.6L489.7 104.5L489.4 103.5ZM495.5 104.4L494.3 105.0L494.3 103.9ZM500.1 104.4L498.9 105.0L498.9 103.9ZM504.8 104.4L503.6 105.0L503.6 103.9ZM509.5 104.4L508.3 105.0L508.3 103.9ZM514.1 104.4L512.9 105.0L512.9 103.9ZM518.8 104.4L517.6 105.0L517.6 103.9ZM377.3 115.5L377.5 116.8L376.4 116.5ZM382.0 115.5L382.2 116.8L381.1 116.5ZM386.6 115.5L386.8 116.8L385.8 116.5ZM391.3 115.5L391.5 116.8L390.4 116.5ZM396.0 115.5L396.2 116.8L395.1 116.5ZM400.6 115.5L400.8 116.8L399.8 116.5ZM405.3 115.5L405.5 116.8L404.4 116.5ZM410.0 115.5L410.2 116.8L409.1 116.5ZM414.6 115.5L414.8 116.8L413.8 116.5ZM419.3 115.5L419.5 116.8L418.4 116.5ZM424.0 115.5L424.2 116.8L423.1 116.5ZM428.6 115.5L428.8 116.8L427.8 116.5ZM433.3 115.5L433.5 116.8L432.4 116.5ZM438.0 115.5L438.2 116.8L437.1 116.5ZM442.1 118.5L442.0 119.0L441.7 118.8ZM446.8 118.5L446.7 119.0L446.3 118.8ZM451.5 118.5L451.3 119.0L451.0 118.8ZM456.1 118.5L456.0 119.0L455.7 118.8ZM462.4 119.1L461.3 119.7L461.3 118.7ZM467.1 119.1L466.0 119.7L465.9 118.7ZM471.7 119.1L470.7 119.7L470.6 118.7ZM476.4 119.1L475.3 119.7L475.3 118.7ZM481.1 119.1L480.0 119.7L479.9 118.7ZM485.7 119.1L484.7 119.7L484.6 118.7ZM490.4 119.1L489.3 119.7L489.3 118.7ZM495.1 119.1L494.0 119.7L493.9 118.7ZM499.7 119.1L498.7 119.7L498.6 118.7ZM504.4 119.1L503.3 119.7L503.3 118.7ZM509.1 119.1L508.0 119.7L507.9 118.7ZM513.7 119.1L512.7 119.7L512.6 118.7ZM518.4 119.1L517.3 119.7L517.3 118.7ZM377.3 127.6L377.5 128.9L376.4 128.6ZM382.0 127.6L382.2 128.9L381.1 128.6ZM386.6 127.6L386.8 128.9L385.8 128.6ZM391.3 127.6L391.5 128.9L390.4 128.6ZM396.0 127.6L396.2 128.9L395.1 128.6ZM400.6 127.6L400.8 128.9L399.8 128.6ZM405.3 127.6L405.5 128.9L404.4 128.6ZM410.0 127.6L410.2 128.9L409.1 128.6ZM414.6 127.6L414.8 128.9L413.8 128.6ZM419.3 127.6L419.5 128.9L418.4 128.6ZM424.0 127.6L424.2 128.9L423.1 128.6ZM428.6 127.6L428.8 128.9L427.8 128.6ZM433.3 127.6L433.5 128.9L432.4 128.6ZM438.0 127.6L438.2 128.9L437.1 128.6ZM442.1 130.6L442.0 131.2L441.7 130.9ZM446.8 130.6L446.7 131.2L446.3 130.9ZM451.5 130.6L451.3 131.2L451.0 130.9ZM456.1 130.6L456.0 131.2L455.7 130.9ZM461.4 131.4L460.8 131.7L460.8 131.2ZM466.1 131.4L465.5 131.7L465.5 131.2ZM470.7 131.4L470.1 131.7L470.1 131.2ZM475.4 131.4L474.8 131.7L474.8 131.2ZM480.1 131.4L479.5 131.7L479.5 131.2ZM484.7 131.4L484.1 131.7L484.1 131.2ZM489.4 131.4L488.8 131.7L488.8 131.2ZM494.1 131.4L493.5 131.7L493.5 131.2ZM498.7 131.4L498.1 131.7L498.1 131.2ZM503.4 131.4L502.8 131.7L502.8 131.2ZM508.1 131.4L507.5 131.7L507.5 131.2ZM512.7 131.4L512.1 131.7L512.1 131.2ZM517.4 131.4L516.8 131.7L516.8 131.2ZM377.3 137.9L377.5 139.2L376.4 138.9ZM382.0 137.9L382.2 139.2L381.1 138.9ZM386.6 137.9L386.8 139.2L385.8 138.9ZM391.3 137.9L391.5 139.2L390.4 138.9ZM396.0 137.9L396.2 139.2L395.1 138.9ZM400.6 137.9L400.8 139.2L399.8 138.9ZM405.3 137.9L405.5 139.2L404.4 138.9ZM410.0 137.9L410.2 139.2L409.1 138.9ZM414.6 137.9L414.8 139.2L413.8 138.9ZM419.3 137.9L419.5 139.2L418.4 138.9ZM424.0 137.9L424.2 139.2L423.1 138.9ZM428.6 137.9L428.8 139.2L427.8 138.9ZM433.3 137.9L433.5 139.2L432.4 138.9ZM438.0 137.9L438.2 139.2L437.1 138.9ZM442.1 140.9L442.0 141.5L441.7 141.2ZM446.8 140.9L446.7 141.5L446.3 141.2ZM451.5 140.9L451.3 141.5L451.0 141.2ZM456.1 140.9L456.0 141.5L455.7 141.2ZM461.4 141.7L460.8 142.0L460.8 141.5ZM466.1 141.7L465.5 142.0L465.5 141.5ZM470.7 141.7L470.1 142.0L470.1 141.5ZM475.4 141.7L474.8 142.0L474.8 141.5ZM480.1 141.7L479.5 142.0L479.5 141.5ZM484.7 141.7L484.1 142.0L484.1 141.5ZM489.4 141.7L488.8 142.0L488.8 141.5ZM494.1 141.7L493.5 142.0L493.5 141.5ZM498.7 141.7L498.1 142.0L498.1 141.5ZM503.4 141.7L502.8 142.0L502.8 141.5ZM508.1 141.7L507.5 142.0L507.5 141.5ZM512.7 141.7L512.1 142.0L512.1 141.5ZM517.4 141.7L516.8 142.0L516.8 141.5ZM378.8 154.3L377.7 155.0L377.5 153.9ZM383.5 154.3L382.4 155.0L382.2 153.9ZM388.1 154.3L387.0 155.0L386.9 153.9ZM392.8 154.3L391.7 155.0L391.5 153.9ZM397.7 151.1L397.4 152.3L396.5 151.7ZM402.3 151.1L402.0 152.3L401.2 151.7ZM407.0 151.1L406.7 152.3L405.8 151.7ZM411.7 151.1L411.4 152.3L410.5 151.7ZM416.3 151.1L416.0 152.3L415.2 151.7ZM421.0 151.1L420.7 152.3L419.8 151.7ZM425.7 151.1L425.4 152.3L424.5 151.7ZM430.3 151.1L430.0 152.3L429.2 151.7ZM435.0 151.1L434.7 152.3L433.8 151.7ZM437.7 154.7L437.3 154.8L437.3 154.5ZM442.3 154.7L441.9 154.8L441.9 154.5ZM447.0 154.7L446.6 154.8L446.6 154.5ZM451.7 154.7L451.3 154.8L451.3 154.5ZM456.3 154.7L455.9 154.8L455.9 154.5ZM461.0 154.7L460.6 154.8L460.6 154.5ZM465.7 154.7L465.3 154.8L465.3 154.5ZM470.3 154.7L469.9 154.8L469.9 154.5ZM475.0 154.7L474.6 154.8L474.6 154.5ZM479.7 154.7L479.3 154.8L479.3 154.5ZM484.3 154.7L483.9 154.8L483.9 154.5ZM489.0 154.7L488.6 154.8L488.6 154.5ZM493.7 154.7L493.3 154.8L493.3 154.5ZM498.3 154.7L497.9 154.8L497.9 154.5ZM503.0 154.7L502.6 154.8L502.6 154.5ZM507.7 154.7L507.3 154.8L507.3 154.5ZM512.3 154.7L511.9 154.8L511.9 154.5ZM517.0 154.7L516.6 154.8L516.6 154.5ZM379.2 159.8L378.1 160.5L377.9 159.5ZM383.9 159.8L382.8 160.5L382.6 159.5ZM388.5 159.8L387.4 160.5L387.3 159.5ZM393.2 159.8L392.1 160.5L391.9 159.5ZM397.9 159.8L396.8 160.5L396.6 159.5ZM402.1 157.5L401.7 158.7L400.9 158.0ZM406.8 157.5L406.4 158.7L405.6 158.0ZM411.5 157.5L411.0 158.7L410.3 158.0ZM416.1 157.5L415.7 158.7L414.9 158.0ZM420.8 157.5L420.4 158.7L419.6 158.0ZM425.5 157.5L425.0 158.7L424.3 158.0ZM430.1 157.5L429.7 158.7L428.9 158.0ZM433.2 160.3L432.7 160.5L432.7 160.1ZM437.9 160.3L437.4 160.5L437.4 160.1ZM442.5 160.3L442.0 160.5L442.0 160.1ZM447.2 160.3L446.7 160.5L446.7 160.1ZM451.9 160.3L451.4 160.5L451.4 160.1ZM456.5 160.3L456.0 160.5L456.0 160.1ZM461.2 160.3L460.7 160.5L460.7 160.1ZM465.9 160.3L465.4 160.5L465.4 160.1ZM470.5 160.3L470.0 160.5L470.0 160.1ZM475.2 160.3L474.7 160.5L474.7 160.1ZM479.9 160.3L479.4 160.5L479.4 160.1ZM484.5 160.3L484.0 160.5L484.0 160.1ZM489.2 160.3L488.7 160.5L488.7 160.1ZM493.9 160.3L493.4 160.5L493.4 160.1ZM498.5 160.3L498.0 160.5L498.0 160.1ZM503.2 160.3L502.7 160.5L502.7 160.1ZM507.9 160.3L507.4 160.5L507.4 160.1ZM512.5 160.3L512.0 160.5L512.0 160.1ZM517.2 160.3L516.7 160.5L516.7 160.1ZM377.0 165.5L376.6 165.7L376.6 165.3ZM381.7 165.5L381.3 165.7L381.3 165.3ZM386.3 165.5L385.9 165.7L385.9 165.3ZM391.0 165.5L390.6 165.7L390.6 165.3ZM395.7 165.5L395.3 165.7L395.3 165.3ZM400.3 165.5L399.9 165.7L399.9 165.3ZM405.0 165.5L404.6 165.7L404.6 165.3ZM409.7 165.5L409.3 165.7L409.3 165.3ZM414.3 165.5L413.9 165.7L413.9 165.3ZM419.0 165.5L418.6 165.7L418.6 165.3ZM423.7 165.5L423.3 165.7L423.3 165.3ZM428.3 165.5L427.9 165.7L427.9 165.3ZM433.0 165.5L432.6 165.7L432.6 165.3ZM437.7 165.5L437.3 165.7L437.3 165.3ZM442.3 165.5L441.9 165.7L441.9 165.3ZM447.0 165.5L446.6 165.7L446.6 165.3ZM451.7 165.5L451.3 165.7L451.3 165.3ZM456.3 165.5L455.9 165.7L455.9 165.3ZM461.0 165.5L460.6 165.7L460.6 165.3ZM465.7 165.5L465.3 165.7L465.3 165.3ZM470.3 165.5L469.9 165.7L469.9 165.3ZM475.0 165.5L474.6 165.7L474.6 165.3ZM479.7 165.5L479.3 165.7L479.3 165.3ZM484.3 165.5L483.9 165.7L483.9 165.3ZM489.0 165.5L488.6 165.7L488.6 165.3ZM493.7 165.5L493.3 165.7L493.3 165.3ZM498.3 165.5L497.9 165.7L497.9 165.3ZM503.0 165.5L502.6 165.7L502.6 165.3ZM507.7 165.5L507.3 165.7L507.3 165.3ZM512.3 165.5L511.9 165.7L511.9 165.3ZM517.0 165.5L516.6 165.7L516.6 165.3Z" fill="#111" fill-opacity="0.9"/></g>
<g clip-path="url(#ct3)"><path d="M543.8 39.0L540.2 37.9M548.5 39.0L544.9 37.9M553.1 39.0L549.5 37.9M557.8 39.0L554.2 37.9M562.5 39.0L558.9 37.9M567.1 39.0L563.5 37.9M571.8 39.0L568.2 37.9M576.5 39.0L572.9 37.9M581.1 39.0L577.5 37.9M585.8 39.0L582.2 37.9M590.5 39.0L586.9 37.9M595.1 39.0L591.5 37.9M599.8 39.0L596.2 37.9M604.5 39.0L600.9 37.9M609.1 39.0L605.5 37.9M613.8 39.0L609.6 38.7M618.5 39.0L614.3 38.7M623.1 39.0L618.9 38.7M627.8 39.0L623.6 38.7M632.5 39.0L628.3 38.7M637.1 39.0L632.9 38.7M641.8 39.0L637.6 38.7M646.5 39.0L642.3 38.7M651.1 39.0L646.9 38.7M655.8 39.0L651.6 38.7M660.5 39.0L656.3 38.7M665.1 39.0L660.9 38.7M669.8 39.0L665.6 38.7M674.5 39.0L670.3 38.7M679.1 39.0L674.9 38.7M683.8 39.0L679.6 38.7M543.8 58.2L541.0 55.2M548.5 58.2L545.7 55.2M553.1 58.2L550.3 55.2M557.8 58.2L555.0 55.2M562.5 58.2L559.7 55.2M567.1 58.2L564.3 55.2M571.8 58.2L569.0 55.2M576.5 58.2L573.7 55.2M581.1 58.2L578.3 55.2M585.8 58.2L583.0 55.2M590.5 58.2L587.7 55.2M595.1 58.2L592.3 55.2M599.8 58.2L597.0 55.2M604.5 58.2L600.6 57.8M609.1 58.2L605.2 57.8M613.8 58.2L609.9 57.8M618.5 58.2L614.6 57.8M623.1 58.2L619.2 57.8M627.8 58.2L623.9 57.8M632.5 58.2L628.6 57.8M637.1 58.2L633.2 57.8M641.8 58.2L637.9 57.8M646.5 58.2L642.6 57.8M651.1 58.2L647.2 57.8M655.8 58.2L651.9 57.8M660.5 58.2L656.6 57.8M665.1 58.2L661.2 57.8M669.8 58.2L665.9 57.8M674.5 58.2L670.6 57.8M679.1 58.2L675.2 57.8M683.8 58.2L679.9 57.8M543.8 73.1L543.2 69.1M548.5 73.1L547.9 69.1M553.1 73.1L552.5 69.1M557.8 73.1L557.2 69.1M562.5 73.1L561.9 69.1M567.1 73.1L566.5 69.1M571.8 73.1L571.2 69.1M576.5 73.1L575.9 69.1M581.1 73.1L580.5 69.1M585.8 73.1L585.2 69.1M590.5 73.1L588.7 70.3M595.1 73.1L593.3 70.3M599.8 73.1L598.0 70.3M604.5 73.1L602.3 71.9M609.1 73.1L606.9 71.9M613.8 73.1L611.6 71.9M618.5 73.1L616.3 71.9M623.1 73.1L620.9 71.9M627.8 73.1L624.8 72.8M632.5 73.1L629.5 72.8M637.1 73.1L634.1 72.8M641.8 73.1L638.8 72.8M646.5 73.1L643.5 72.8M651.1 73.1L648.1 72.8M655.8 73.1L652.8 72.8M660.5 73.1L657.5 72.8M665.1 73.1L662.1 72.8M669.8 73.1L666.8 72.8M674.5 73.1L671.5 72.8M679.1 73.1L676.1 72.8M683.8 73.1L680.8 72.8M543.8 85.2L543.2 81.2M548.5 85.2L547.9 81.2M553.1 85.2L552.5 81.2M557.8 85.2L557.2 81.2M562.5 85.2L561.9 81.2M567.1 85.2L566.5 81.2M571.8 85.2L571.2 81.2M576.5 85.2L575.9 81.2M581.1 85.2L580.5 81.2M585.8 85.2L585.2 81.2M590.5 85.2L588.7 82.4M595.1 85.2L593.3 82.4M599.8 85.2L598.0 82.4M604.5 85.2L602.3 84.0M609.1 85.2L606.9 84.0M613.8 85.2L611.6 84.0M618.5 85.2L616.3 84.0M623.1 85.2L620.9 84.0M627.8 85.2L624.8 84.9M632.5 85.2L629.5 84.9M637.1 85.2L634.1 84.9M641.8 85.2L638.8 84.9M646.5 85.2L643.5 84.9M651.1 85.2L648.1 84.9M655.8 85.2L652.8 84.9M660.5 85.2L657.5 84.9M665.1 85.2L662.1 84.9M669.8 85.2L666.8 84.9M674.5 85.2L671.5 84.9M679.1 85.2L676.1 84.9M683.8 85.2L680.8 84.9M543.8 104.4L544.1 100.2M548.5 104.4L548.8 100.2M553.1 104.4L553.4 100.2M557.8 104.4L558.1 100.2M562.5 104.4L562.8 100.2M567.1 104.4L567.4 100.2M571.8 104.4L572.1 100.2M576.5 104.4L576.8 100.2M581.1 104.4L581.4 100.2M585.8 104.4L586.1 100.2M590.5 104.4L590.8 100.2M595.1 104.4L595.4 100.2M599.8 104.4L600.1 100.2M604.5 104.4L604.8 100.2M609.1 104.4L609.9 104.4M613.8 104.4L614.6 104.4M618.5 104.4L619.3 104.4M623.1 104.4L623.9 104.4M627.8 104.4L630.3 103.6M632.5 104.4L635.0 103.6M637.1 104.4L639.6 103.6M641.8 104.4L644.3 103.6M646.5 104.4L649.0 103.6M651.1 104.4L653.6 103.6M655.8 104.4L658.3 103.6M660.5 104.4L663.1 104.4M665.1 104.4L667.7 104.4M669.8 104.4L672.4 104.4M674.5 104.4L677.1 104.4M679.1 104.4L681.7 104.4M683.8 104.4L686.4 104.4M543.8 119.3L544.9 115.5M548.5 119.3L549.6 115.5M553.1 119.3L554.2 115.5M557.8 119.3L558.9 115.5M562.5 119.3L563.6 115.5M567.1 119.3L568.2 115.5M571.8 119.3L572.9 115.5M576.5 119.3L577.6 115.5M581.1 119.3L582.2 115.5M585.8 119.3L586.9 115.5M590.5 119.3L591.6 115.5M595.1 119.3L596.2 115.5M599.8 119.3L600.9 115.5M604.5 119.3L605.6 115.5M609.1 119.3L609.7 118.5M613.8 119.3L614.4 118.5M618.5 119.3L619.1 118.5M623.1 119.3L623.7 118.5M627.8 119.3L630.0 119.1M632.5 119.3L634.7 119.1M637.1 119.3L639.3 119.1M641.8 119.3L644.0 119.1M646.5 119.3L648.7 119.1M651.1 119.3L653.3 119.1M655.8 119.3L658.0 119.1M660.5 119.3L662.7 119.1M665.1 119.3L667.3 119.1M669.8 119.3L672.0 119.1M674.5 119.3L676.7 119.1M679.1 119.3L681.3 119.1M683.8 119.3L686.0 119.1M543.8 131.4L544.9 127.6M548.5 131.4L549.6 127.6M553.1 131.4L554.2 127.6M557.8 131.4L558.9 127.6M562.5 131.4L563.6 127.6M567.1 131.4L568.2 127.6M571.8 131.4L572.9 127.6M576.5 131.4L577.6 127.6M581.1 131.4L582.2 127.6M585.8 131.4L586.9 127.6M590.5 131.4L591.6 127.6M595.1 131.4L596.2 127.6M599.8 131.4L600.9 127.6M604.5 131.4L605.6 127.6M609.1 131.4L609.7 130.6M613.8 131.4L614.4 130.6M618.5 131.4L619.1 130.6M623.1 131.4L623.7 130.6M627.8 131.4L629.0 131.4M632.5 131.4L633.7 131.4M637.1 131.4L638.3 131.4M641.8 131.4L643.0 131.4M646.5 131.4L647.7 131.4M651.1 131.4L652.3 131.4M655.8 131.4L657.0 131.4M660.5 131.4L661.7 131.4M665.1 131.4L666.3 131.4M669.8 131.4L671.0 131.4M674.5 131.4L675.7 131.4M679.1 131.4L680.3 131.4M683.8 131.4L685.0 131.4M543.8 141.7L544.9 137.9M548.5 141.7L549.6 137.9M553.1 141.7L554.2 137.9M557.8 141.7L558.9 137.9M562.5 141.7L563.6 137.9M567.1 141.7L568.2 137.9M571.8 141.7L572.9 137.9M576.5 141.7L577.6 137.9M581.1 141.7L582.2 137.9M585.8 141.7L586.9 137.9M590.5 141.7L591.6 137.9M595.1 141.7L596.2 137.9M599.8 141.7L600.9 137.9M604.5 141.7L605.6 137.9M609.1 141.7L609.7 140.9M613.8 141.7L614.4 140.9M618.5 141.7L619.1 140.9M623.1 141.7L623.7 140.9M627.8 141.7L629.0 141.7M632.5 141.7L633.7 141.7M637.1 141.7L638.3 141.7M641.8 141.7L643.0 141.7M646.5 141.7L647.7 141.7M651.1 141.7L652.3 141.7M655.8 141.7L657.0 141.7M660.5 141.7L661.7 141.7M665.1 141.7L666.3 141.7M669.8 141.7L671.0 141.7M674.5 141.7L675.7 141.7M679.1 141.7L680.3 141.7M683.8 141.7L685.0 141.7M543.8 154.7L546.4 154.3M548.5 154.7L551.1 154.3M553.1 154.7L555.7 154.3M557.8 154.7L560.4 154.3M562.5 154.7L565.3 151.1M567.1 154.7L569.9 151.1M571.8 154.7L574.6 151.1M576.5 154.7L579.3 151.1M581.1 154.7L583.9 151.1M585.8 154.7L588.6 151.1M590.5 154.7L593.3 151.1M595.1 154.7L597.9 151.1M599.8 154.7L602.6 151.1M604.5 154.7L605.3 154.7M609.1 154.7L609.9 154.7M613.8 154.7L614.6 154.7M618.5 154.7L619.3 154.7M623.1 154.7L623.9 154.7M627.8 154.7L628.6 154.7M632.5 154.7L633.3 154.7M637.1 154.7L637.9 154.7M641.8 154.7L642.6 154.7M646.5 154.7L647.3 154.7M651.1 154.7L651.9 154.7M655.8 154.7L656.6 154.7M660.5 154.7L661.3 154.7M665.1 154.7L665.9 154.7M669.8 154.7L670.6 154.7M674.5 154.7L675.3 154.7M679.1 154.7L679.9 154.7M683.8 154.7L684.6 154.7M543.8 160.3L546.8 159.8M548.5 160.3L551.5 159.8M553.1 160.3L556.1 159.8M557.8 160.3L560.8 159.8M562.5 160.3L565.5 159.8M567.1 160.3L569.7 157.5M571.8 160.3L574.4 157.5M576.5 160.3L579.1 157.5M581.1 160.3L583.7 157.5M585.8 160.3L588.4 157.5M590.5 160.3L593.1 157.5M595.1 160.3L597.7 157.5M599.8 160.3L600.8 160.3M604.5 160.3L605.5 160.3M609.1 160.3L610.1 160.3M613.8 160.3L614.8 160.3M618.5 160.3L619.5 160.3M623.1 160.3L624.1 160.3M627.8 160.3L628.8 160.3M632.5 160.3L633.5 160.3M637.1 160.3L638.1 160.3M641.8 160.3L642.8 160.3M646.5 160.3L647.5 160.3M651.1 160.3L652.1 160.3M655.8 160.3L656.8 160.3M660.5 160.3L661.5 160.3M665.1 160.3L666.1 160.3M669.8 160.3L670.8 160.3M674.5 160.3L675.5 160.3M679.1 160.3L680.1 160.3M683.8 160.3L684.8 160.3M543.8 165.5L544.6 165.5M548.5 165.5L549.3 165.5M553.1 165.5L553.9 165.5M557.8 165.5L558.6 165.5M562.5 165.5L563.3 165.5M567.1 165.5L567.9 165.5M571.8 165.5L572.6 165.5M576.5 165.5L577.3 165.5M581.1 165.5L581.9 165.5M585.8 165.5L586.6 165.5M590.5 165.5L591.3 165.5M595.1 165.5L595.9 165.5M599.8 165.5L600.6 165.5M604.5 165.5L605.3 165.5M609.1 165.5L609.9 165.5M613.8 165.5L614.6 165.5M618.5 165.5L619.3 165.5M623.1 165.5L623.9 165.5M627.8 165.5L628.6 165.5M632.5 165.5L633.3 165.5M637.1 165.5L637.9 165.5M641.8 165.5L642.6 165.5M646.5 165.5L647.3 165.5M651.1 165.5L651.9 165.5M655.8 165.5L656.6 165.5M660.5 165.5L661.3 165.5M665.1 165.5L665.9 165.5M669.8 165.5L670.6 165.5M674.5 165.5L675.3 165.5M679.1 165.5L679.9 165.5M683.8 165.5L684.6 165.5" stroke="#111" stroke-width="0.72" fill="none" stroke-opacity="0.9"/><path d="M540.2 37.9L541.5 37.8L541.2 38.8ZM544.9 37.9L546.2 37.8L545.9 38.8ZM549.5 37.9L550.8 37.8L550.5 38.8ZM554.2 37.9L555.5 37.8L555.2 38.8ZM558.9 37.9L560.2 37.8L559.9 38.8ZM563.5 37.9L564.8 37.8L564.5 38.8ZM568.2 37.9L569.5 37.8L569.2 38.8ZM572.9 37.9L574.2 37.8L573.9 38.8ZM577.5 37.9L578.8 37.8L578.5 38.8ZM582.2 37.9L583.5 37.8L583.2 38.8ZM586.9 37.9L588.2 37.8L587.9 38.8ZM591.5 37.9L592.8 37.8L592.5 38.8ZM596.2 37.9L597.5 37.8L597.2 38.8ZM600.9 37.9L602.2 37.8L601.9 38.8ZM605.5 37.9L606.8 37.8L606.5 38.8ZM609.6 38.7L610.8 38.3L610.8 39.4ZM614.3 38.7L615.5 38.3L615.4 39.4ZM618.9 38.7L620.2 38.3L620.1 39.4ZM623.6 38.7L624.8 38.3L624.8 39.4ZM628.3 38.7L629.5 38.3L629.4 39.4ZM632.9 38.7L634.2 38.3L634.1 39.4ZM637.6 38.7L638.8 38.3L638.8 39.4ZM642.3 38.7L643.5 38.3L643.4 39.4ZM646.9 38.7L648.2 38.3L648.1 39.4ZM651.6 38.7L652.8 38.3L652.8 39.4ZM656.3 38.7L657.5 38.3L657.4 39.4ZM660.9 38.7L662.2 38.3L662.1 39.4ZM665.6 38.7L666.8 38.3L666.8 39.4ZM670.3 38.7L671.5 38.3L671.4 39.4ZM674.9 38.7L676.2 38.3L676.1 39.4ZM679.6 38.7L680.8 38.3L680.8 39.4ZM541.0 55.2L542.2 55.7L541.4 56.5ZM545.7 55.2L546.9 55.7L546.1 56.5ZM550.3 55.2L551.5 55.7L550.8 56.5ZM555.0 55.2L556.2 55.7L555.4 56.5ZM559.7 55.2L560.9 55.7L560.1 56.5ZM564.3 55.2L565.5 55.7L564.8 56.5ZM569.0 55.2L570.2 55.7L569.4 56.5ZM573.7 55.2L574.9 55.7L574.1 56.5ZM578.3 55.2L579.5 55.7L578.8 56.5ZM583.0 55.2L584.2 55.7L583.4 56.5ZM587.7 55.2L588.9 55.7L588.1 56.5ZM592.3 55.2L593.5 55.7L592.8 56.5ZM597.0 55.2L598.2 55.7L597.4 56.5ZM600.6 57.8L601.8 57.4L601.7 58.5ZM605.2 57.8L606.5 57.4L606.4 58.5ZM609.9 57.8L611.1 57.4L611.0 58.5ZM614.6 57.8L615.8 57.4L615.7 58.5ZM619.2 57.8L620.5 57.4L620.4 58.5ZM623.9 57.8L625.1 57.4L625.0 58.5ZM628.6 57.8L629.8 57.4L629.7 58.5ZM633.2 57.8L634.5 57.4L634.4 58.5ZM637.9 57.8L639.1 57.4L639.0 58.5ZM642.6 57.8L643.8 57.4L643.7 58.5ZM647.2 57.8L648.5 57.4L648.4 58.5ZM651.9 57.8L653.1 57.4L653.0 58.5ZM656.6 57.8L657.8 57.4L657.7 58.5ZM661.2 57.8L662.5 57.4L662.4 58.5ZM665.9 57.8L667.1 57.4L667.0 58.5ZM670.6 57.8L671.8 57.4L671.7 58.5ZM675.2 57.8L676.5 57.4L676.4 58.5ZM679.9 57.8L681.1 57.4L681.0 58.5ZM543.2 69.1L543.9 70.2L542.8 70.4ZM547.9 69.1L548.6 70.2L547.5 70.4ZM552.5 69.1L553.2 70.2L552.2 70.4ZM557.2 69.1L557.9 70.2L556.8 70.4ZM561.9 69.1L562.6 70.2L561.5 70.4ZM566.5 69.1L567.2 70.2L566.2 70.4ZM571.2 69.1L571.9 70.2L570.8 70.4ZM575.9 69.1L576.6 70.2L575.5 70.4ZM580.5 69.1L581.2 70.2L580.2 70.4ZM585.2 69.1L585.9 70.2L584.8 70.4ZM588.7 70.3L589.8 71.0L588.9 71.6ZM593.3 70.3L594.4 71.0L593.5 71.6ZM598.0 70.3L599.1 71.0L598.2 71.6ZM602.3 71.9L603.6 72.0L603.1 72.9ZM606.9 71.9L608.2 72.0L607.7 72.9ZM611.6 71.9L612.9 72.0L612.4 72.9ZM616.3 71.9L617.6 72.0L617.1 72.9ZM620.9 71.9L622.2 72.0L621.7 72.9ZM624.8 72.8L626.0 72.4L625.9 73.4ZM629.5 72.8L630.7 72.4L630.6 73.4ZM634.1 72.8L635.4 72.4L635.3 73.4ZM638.8 72.8L640.0 72.4L639.9 73.4ZM643.5 72.8L644.7 72.4L644.6 73.4ZM648.1 72.8L649.4 72.4L649.3 73.4ZM652.8 72.8L654.0 72.4L653.9 73.4ZM657.5 72.8L658.7 72.4L658.6 73.4ZM662.1 72.8L663.4 72.4L663.3 73.4ZM666.8 72.8L668.0 72.4L667.9 73.4ZM671.5 72.8L672.7 72.4L672.6 73.4ZM676.1 72.8L677.4 72.4L677.3 73.4ZM680.8 72.8L682.0 72.4L681.9 73.4ZM543.2 81.2L543.9 82.3L542.8 82.5ZM547.9 81.2L548.6 82.3L547.5 82.5ZM552.5 81.2L553.2 82.3L552.2 82.5ZM557.2 81.2L557.9 82.3L556.8 82.5ZM561.9 81.2L562.6 82.3L561.5 82.5ZM566.5 81.2L567.2 82.3L566.2 82.5ZM571.2 81.2L571.9 82.3L570.8 82.5ZM575.9 81.2L576.6 82.3L575.5 82.5ZM580.5 81.2L581.2 82.3L580.2 82.5ZM585.2 81.2L585.9 82.3L584.8 82.5ZM588.7 82.4L589.8 83.2L588.9 83.7ZM593.3 82.4L594.4 83.2L593.5 83.7ZM598.0 82.4L599.1 83.2L598.2 83.7ZM602.3 84.0L603.6 84.1L603.1 85.1ZM606.9 84.0L608.2 84.1L607.7 85.1ZM611.6 84.0L612.9 84.1L612.4 85.1ZM616.3 84.0L617.6 84.1L617.1 85.1ZM620.9 84.0L622.2 84.1L621.7 85.1ZM624.8 84.9L626.0 84.5L625.9 85.6ZM629.5 84.9L630.7 84.5L630.6 85.6ZM634.1 84.9L635.4 84.5L635.3 85.6ZM638.8 84.9L640.0 84.5L639.9 85.6ZM643.5 84.9L644.7 84.5L644.6 85.6ZM648.1 84.9L649.4 84.5L649.3 85.6ZM652.8 84.9L654.0 84.5L653.9 85.6ZM657.5 84.9L658.7 84.5L658.6 85.6ZM662.1 84.9L663.4 84.5L663.3 85.6ZM666.8 84.9L668.0 84.5L667.9 85.6ZM671.5 84.9L672.7 84.5L672.6 85.6ZM676.1 84.9L677.4 84.5L677.3 85.6ZM680.8 84.9L682.0 84.5L681.9 85.6ZM544.1 100.2L544.6 101.5L543.5 101.4ZM548.8 100.2L549.2 101.5L548.1 101.4ZM553.4 100.2L553.9 101.5L552.8 101.4ZM558.1 100.2L558.6 101.5L557.5 101.4ZM562.8 100.2L563.2 101.5L562.1 101.4ZM567.4 100.2L567.9 101.5L566.8 101.4ZM572.1 100.2L572.6 101.5L571.5 101.4ZM576.8 100.2L577.2 101.5L576.1 101.4ZM581.4 100.2L581.9 101.5L580.8 101.4ZM586.1 100.2L586.6 101.5L585.5 101.4ZM590.8 100.2L591.2 101.5L590.1 101.4ZM595.4 100.2L595.9 101.5L594.8 101.4ZM600.1 100.2L600.6 101.5L599.5 101.4ZM604.8 100.2L605.2 101.5L604.1 101.4ZM609.9 104.4L609.5 104.6L609.5 104.2ZM614.6 104.4L614.2 104.6L614.2 104.2ZM619.3 104.4L618.9 104.6L618.9 104.2ZM623.9 104.4L623.5 104.6L623.5 104.2ZM630.3 103.6L629.3 104.5L629.0 103.5ZM635.0 103.6L634.0 104.5L633.7 103.5ZM639.6 103.6L638.7 104.5L638.3 103.5ZM644.3 103.6L643.3 104.5L643.0 103.5ZM649.0 103.6L648.0 104.5L647.7 103.5ZM653.6 103.6L652.7 104.5L652.3 103.5ZM658.3 103.6L657.3 104.5L657.0 103.5ZM663.1 104.4L661.9 105.0L661.9 103.9ZM667.7 104.4L666.5 105.0L666.5 103.9ZM672.4 104.4L671.2 105.0L671.2 103.9ZM677.1 104.4L675.9 105.0L675.9 103.9ZM681.7 104.4L680.5 105.0L680.5 103.9ZM686.4 104.4L685.2 105.0L685.2 103.9ZM544.9 115.5L545.1 116.8L544.0 116.5ZM549.6 115.5L549.8 116.8L548.7 116.5ZM554.2 115.5L554.4 116.8L553.4 116.5ZM558.9 115.5L559.1 116.8L558.0 116.5ZM563.6 115.5L563.8 116.8L562.7 116.5ZM568.2 115.5L568.4 116.8L567.4 116.5ZM572.9 115.5L573.1 116.8L572.0 116.5ZM577.6 115.5L577.8 116.8L576.7 116.5ZM582.2 115.5L582.4 116.8L581.4 116.5ZM586.9 115.5L587.1 116.8L586.0 116.5ZM591.6 115.5L591.8 116.8L590.7 116.5ZM596.2 115.5L596.4 116.8L595.4 116.5ZM600.9 115.5L601.1 116.8L600.0 116.5ZM605.6 115.5L605.8 116.8L604.7 116.5ZM609.7 118.5L609.6 119.0L609.3 118.8ZM614.4 118.5L614.3 119.0L613.9 118.8ZM619.1 118.5L618.9 119.0L618.6 118.8ZM623.7 118.5L623.6 119.0L623.3 118.8ZM630.0 119.1L628.9 119.7L628.9 118.7ZM634.7 119.1L633.6 119.7L633.5 118.7ZM639.3 119.1L638.3 119.7L638.2 118.7ZM644.0 119.1L642.9 119.7L642.9 118.7ZM648.7 119.1L647.6 119.7L647.5 118.7ZM653.3 119.1L652.3 119.7L652.2 118.7ZM658.0 119.1L656.9 119.7L656.9 118.7ZM662.7 119.1L661.6 119.7L661.5 118.7ZM667.3 119.1L666.3 119.7L666.2 118.7ZM672.0 119.1L670.9 119.7L670.9 118.7ZM676.7 119.1L675.6 119.7L675.5 118.7ZM681.3 119.1L680.3 119.7L680.2 118.7ZM686.0 119.1L684.9 119.7L684.9 118.7ZM544.9 127.6L545.1 128.9L544.0 128.6ZM549.6 127.6L549.8 128.9L548.7 128.6ZM554.2 127.6L554.4 128.9L553.4 128.6ZM558.9 127.6L559.1 128.9L558.0 128.6ZM563.6 127.6L563.8 128.9L562.7 128.6ZM568.2 127.6L568.4 128.9L567.4 128.6ZM572.9 127.6L573.1 128.9L572.0 128.6ZM577.6 127.6L577.8 128.9L576.7 128.6ZM582.2 127.6L582.4 128.9L581.4 128.6ZM586.9 127.6L587.1 128.9L586.0 128.6ZM591.6 127.6L591.8 128.9L590.7 128.6ZM596.2 127.6L596.4 128.9L595.4 128.6ZM600.9 127.6L601.1 128.9L600.0 128.6ZM605.6 127.6L605.8 128.9L604.7 128.6ZM609.7 130.6L609.6 131.2L609.3 130.9ZM614.4 130.6L614.3 131.2L613.9 130.9ZM619.1 130.6L618.9 131.2L618.6 130.9ZM623.7 130.6L623.6 131.2L623.3 130.9ZM629.0 131.4L628.4 131.7L628.4 131.2ZM633.7 131.4L633.1 131.7L633.1 131.2ZM638.3 131.4L637.7 131.7L637.7 131.2ZM643.0 131.4L642.4 131.7L642.4 131.2ZM647.7 131.4L647.1 131.7L647.1 131.2ZM652.3 131.4L651.7 131.7L651.7 131.2ZM657.0 131.4L656.4 131.7L656.4 131.2ZM661.7 131.4L661.1 131.7L661.1 131.2ZM666.3 131.4L665.7 131.7L665.7 131.2ZM671.0 131.4L670.4 131.7L670.4 131.2ZM675.7 131.4L675.1 131.7L675.1 131.2ZM680.3 131.4L679.7 131.7L679.7 131.2ZM685.0 131.4L684.4 131.7L684.4 131.2ZM544.9 137.9L545.1 139.2L544.0 138.9ZM549.6 137.9L549.8 139.2L548.7 138.9ZM554.2 137.9L554.4 139.2L553.4 138.9ZM558.9 137.9L559.1 139.2L558.0 138.9ZM563.6 137.9L563.8 139.2L562.7 138.9ZM568.2 137.9L568.4 139.2L567.4 138.9ZM572.9 137.9L573.1 139.2L572.0 138.9ZM577.6 137.9L577.8 139.2L576.7 138.9ZM582.2 137.9L582.4 139.2L581.4 138.9ZM586.9 137.9L587.1 139.2L586.0 138.9ZM591.6 137.9L591.8 139.2L590.7 138.9ZM596.2 137.9L596.4 139.2L595.4 138.9ZM600.9 137.9L601.1 139.2L600.0 138.9ZM605.6 137.9L605.8 139.2L604.7 138.9ZM609.7 140.9L609.6 141.5L609.3 141.2ZM614.4 140.9L614.3 141.5L613.9 141.2ZM619.1 140.9L618.9 141.5L618.6 141.2ZM623.7 140.9L623.6 141.5L623.3 141.2ZM629.0 141.7L628.4 142.0L628.4 141.5ZM633.7 141.7L633.1 142.0L633.1 141.5ZM638.3 141.7L637.7 142.0L637.7 141.5ZM643.0 141.7L642.4 142.0L642.4 141.5ZM647.7 141.7L647.1 142.0L647.1 141.5ZM652.3 141.7L651.7 142.0L651.7 141.5ZM657.0 141.7L656.4 142.0L656.4 141.5ZM661.7 141.7L661.1 142.0L661.1 141.5ZM666.3 141.7L665.7 142.0L665.7 141.5ZM671.0 141.7L670.4 142.0L670.4 141.5ZM675.7 141.7L675.1 142.0L675.1 141.5ZM680.3 141.7L679.7 142.0L679.7 141.5ZM685.0 141.7L684.4 142.0L684.4 141.5ZM546.4 154.3L545.3 155.0L545.1 153.9ZM551.1 154.3L550.0 155.0L549.8 153.9ZM555.7 154.3L554.6 155.0L554.5 153.9ZM560.4 154.3L559.3 155.0L559.1 153.9ZM565.3 151.1L565.0 152.3L564.1 151.7ZM569.9 151.1L569.6 152.3L568.8 151.7ZM574.6 151.1L574.3 152.3L573.4 151.7ZM579.3 151.1L579.0 152.3L578.1 151.7ZM583.9 151.1L583.6 152.3L582.8 151.7ZM588.6 151.1L588.3 152.3L587.4 151.7ZM593.3 151.1L593.0 152.3L592.1 151.7ZM597.9 151.1L597.6 152.3L596.8 151.7ZM602.6 151.1L602.3 152.3L601.4 151.7ZM605.3 154.7L604.9 154.8L604.9 154.5ZM609.9 154.7L609.5 154.8L609.5 154.5ZM614.6 154.7L614.2 154.8L614.2 154.5ZM619.3 154.7L618.9 154.8L618.9 154.5ZM623.9 154.7L623.5 154.8L623.5 154.5ZM628.6 154.7L628.2 154.8L628.2 154.5ZM633.3 154.7L632.9 154.8L632.9 154.5ZM637.9 154.7L637.5 154.8L637.5 154.5ZM642.6 154.7L642.2 154.8L642.2 154.5ZM647.3 154.7L646.9 154.8L646.9 154.5ZM651.9 154.7L651.5 154.8L651.5 154.5ZM656.6 154.7L656.2 154.8L656.2 154.5ZM661.3 154.7L660.9 154.8L660.9 154.5ZM665.9 154.7L665.5 154.8L665.5 154.5ZM670.6 154.7L670.2 154.8L670.2 154.5ZM675.3 154.7L674.9 154.8L674.9 154.5ZM679.9 154.7L679.5 154.8L679.5 154.5ZM684.6 154.7L684.2 154.8L684.2 154.5ZM546.8 159.8L545.7 160.5L545.5 159.5ZM551.5 159.8L550.4 160.5L550.2 159.5ZM556.1 159.8L555.0 160.5L554.9 159.5ZM560.8 159.8L559.7 160.5L559.5 159.5ZM565.5 159.8L564.4 160.5L564.2 159.5ZM569.7 157.5L569.3 158.7L568.5 158.0ZM574.4 157.5L574.0 158.7L573.2 158.0ZM579.1 157.5L578.6 158.7L577.9 158.0ZM583.7 157.5L583.3 158.7L582.5 158.0ZM588.4 157.5L588.0 158.7L587.2 158.0ZM593.1 157.5L592.6 158.7L591.9 158.0ZM597.7 157.5L597.3 158.7L596.5 158.0ZM600.8 160.3L600.3 160.5L600.3 160.1ZM605.5 160.3L605.0 160.5L605.0 160.1ZM610.1 160.3L609.6 160.5L609.6 160.1ZM614.8 160.3L614.3 160.5L614.3 160.1ZM619.5 160.3L619.0 160.5L619.0 160.1ZM624.1 160.3L623.6 160.5L623.6 160.1ZM628.8 160.3L628.3 160.5L628.3 160.1ZM633.5 160.3L633.0 160.5L633.0 160.1ZM638.1 160.3L637.6 160.5L637.6 160.1ZM642.8 160.3L642.3 160.5L642.3 160.1ZM647.5 160.3L647.0 160.5L647.0 160.1ZM652.1 160.3L651.6 160.5L651.6 160.1ZM656.8 160.3L656.3 160.5L656.3 160.1ZM661.5 160.3L661.0 160.5L661.0 160.1ZM666.1 160.3L665.6 160.5L665.6 160.1ZM670.8 160.3L670.3 160.5L670.3 160.1ZM675.5 160.3L675.0 160.5L675.0 160.1ZM680.1 160.3L679.6 160.5L679.6 160.1ZM684.8 160.3L684.3 160.5L684.3 160.1ZM544.6 165.5L544.2 165.7L544.2 165.3ZM549.3 165.5L548.9 165.7L548.9 165.3ZM553.9 165.5L553.5 165.7L553.5 165.3ZM558.6 165.5L558.2 165.7L558.2 165.3ZM563.3 165.5L562.9 165.7L562.9 165.3ZM567.9 165.5L567.5 165.7L567.5 165.3ZM572.6 165.5L572.2 165.7L572.2 165.3ZM577.3 165.5L576.9 165.7L576.9 165.3ZM581.9 165.5L581.5 165.7L581.5 165.3ZM586.6 165.5L586.2 165.7L586.2 165.3ZM591.3 165.5L590.9 165.7L590.9 165.3ZM595.9 165.5L595.5 165.7L595.5 165.3ZM600.6 165.5L600.2 165.7L600.2 165.3ZM605.3 165.5L604.9 165.7L604.9 165.3ZM609.9 165.5L609.5 165.7L609.5 165.3ZM614.6 165.5L614.2 165.7L614.2 165.3ZM619.3 165.5L618.9 165.7L618.9 165.3ZM623.9 165.5L623.5 165.7L623.5 165.3ZM628.6 165.5L628.2 165.7L628.2 165.3ZM633.3 165.5L632.9 165.7L632.9 165.3ZM637.9 165.5L637.5 165.7L637.5 165.3ZM642.6 165.5L642.2 165.7L642.2 165.3ZM647.3 165.5L646.9 165.7L646.9 165.3ZM651.9 165.5L651.5 165.7L651.5 165.3ZM656.6 165.5L656.2 165.7L656.2 165.3ZM661.3 165.5L660.9 165.7L660.9 165.3ZM665.9 165.5L665.5 165.7L665.5 165.3ZM670.6 165.5L670.2 165.7L670.2 165.3ZM675.3 165.5L674.9 165.7L674.9 165.3ZM679.9 165.5L679.5 165.7L679.5 165.3ZM684.6 165.5L684.2 165.7L684.2 165.3Z" fill="#111" fill-opacity="0.9"/></g>
<g clip-path="url(#cb0)"><path d="M40.5 242.6L43.5 242.6M46.8 242.6L49.8 242.6M53.2 242.6L56.2 242.6M59.5 242.6L62.5 242.6M65.8 242.6L68.8 242.6M72.1 242.6L75.1 242.6M78.5 242.6L81.5 242.6M84.8 242.6L87.8 242.6M91.1 242.6L94.1 242.6M97.4 242.6L100.4 242.6M103.8 242.6L106.8 242.6M110.1 242.6L113.1 242.6M116.4 242.6L119.4 242.6M122.7 242.6L123.3 242.6M129.1 242.6L129.7 242.6M135.4 242.6L136.0 242.6M141.7 242.6L142.3 242.6M148.1 242.6L148.7 242.6M154.4 242.6L155.0 242.6M160.7 242.6L161.3 242.6M167.0 242.6L167.6 242.6M173.4 242.6L174.0 242.6M179.7 242.6L180.3 242.6M186.0 242.6L186.6 242.6M192.3 242.6L192.9 242.6M198.7 242.6L199.3 242.6M205.0 242.6L205.6 242.6M211.3 242.6L211.9 242.6M217.6 242.6L218.2 242.6M224.0 242.6L224.6 242.6M230.3 242.6L230.9 242.6M40.5 269.6L46.1 270.1M46.8 269.6L52.4 270.1M53.2 269.6L58.8 270.1M59.5 269.6L65.1 270.1M65.8 269.6L71.4 270.1M72.1 269.6L77.9 272.4M78.5 269.6L84.1 272.5M84.8 269.6L90.3 272.5M91.1 269.6L96.4 272.5M97.4 269.6L102.6 272.6M103.8 269.6L108.7 272.6M110.1 269.6L114.9 272.6M116.4 269.6L121.1 272.7M122.7 269.6L127.2 272.7M129.1 269.6L133.4 272.8M135.4 269.6L139.6 272.8M141.7 269.6L142.9 269.3M148.1 269.6L149.4 269.3M154.4 269.6L155.9 269.2M160.7 269.6L162.4 269.2M167.0 269.6L168.9 269.1M173.4 269.6L175.4 269.0M179.7 269.6L181.9 269.0M186.0 269.6L188.4 268.9M192.3 269.6L194.9 268.9M198.7 269.6L201.4 268.8M205.0 269.6L207.9 268.7M211.3 269.6L214.4 268.7M217.6 269.6L220.8 268.6M224.0 269.6L227.2 268.6M230.3 269.6L233.5 268.6M40.5 288.8L41.7 289.1M46.8 288.8L48.0 289.1M53.2 288.8L54.4 289.1M59.5 288.8L60.7 289.1M65.8 288.8L67.0 289.1M72.1 288.8L76.9 293.0M78.5 288.8L83.0 293.2M84.8 288.8L89.0 293.3M91.1 288.8L95.1 293.5M97.4 288.8L101.1 293.6M103.8 288.8L107.2 293.8M110.1 288.8L113.2 294.0M116.4 288.8L119.3 294.1M122.7 288.8L125.3 294.3M129.1 288.8L131.4 294.4M135.4 288.8L136.9 288.0M141.7 288.8L143.2 288.0M148.1 288.8L149.6 288.0M154.4 288.8L155.9 288.0M160.7 288.8L162.6 288.0M167.0 288.8L169.3 288.0M173.4 288.8L176.1 287.9M179.7 288.8L182.8 287.9M186.0 288.8L189.5 287.9M192.3 288.8L196.2 287.9M198.7 288.8L203.0 287.9M205.0 288.8L209.7 287.8M211.3 288.8L216.4 287.8M217.6 288.8L223.1 287.8M224.0 288.8L229.5 287.8M230.3 288.8L235.8 287.8M40.5 303.7L41.3 304.1M46.8 303.7L47.6 304.1M53.2 303.7L54.0 304.1M59.5 303.7L60.3 304.1M65.8 303.7L66.6 304.1M72.1 303.7L74.1 309.5M78.5 303.7L80.2 309.8M84.8 303.7L86.4 310.2M91.1 303.7L92.5 310.5M97.4 303.7L98.6 310.8M103.8 303.7L104.7 311.2M110.1 303.7L110.8 311.2M116.4 303.7L116.9 311.2M122.7 303.7L123.0 311.2M129.1 303.7L129.4 311.2M135.4 303.7L136.4 302.7M141.7 303.7L142.7 302.7M148.1 303.7L149.5 302.7M154.4 303.7L156.2 302.7M160.7 303.7L162.9 302.7M167.0 303.7L169.7 302.7M173.4 303.7L176.4 302.7M179.7 303.7L183.1 302.7M186.0 303.7L189.9 302.7M192.3 303.7L196.6 302.7M198.7 303.7L203.3 302.7M205.0 303.7L210.1 302.7M211.3 303.7L216.8 302.7M217.6 303.7L223.1 302.7M224.0 303.7L229.5 302.7M230.3 303.7L235.8 302.7M40.5 315.8L41.5 316.6M46.8 315.8L47.8 316.6M53.2 315.8L54.2 316.6M59.5 315.8L60.5 316.6M65.8 315.8L66.8 316.6M72.1 315.8L72.3 321.8M78.5 315.8L78.3 322.3M84.8 315.8L84.5 322.8M91.1 315.8L91.0 323.3M97.4 315.8L97.6 323.8M103.8 315.8L104.1 324.3M110.1 315.8L110.3 324.3M116.4 315.8L116.3 324.3M122.7 315.8L122.5 324.3M129.1 315.8L128.8 324.3M135.4 315.8L136.4 314.3M141.7 315.8L142.7 314.3M148.1 315.8L149.4 314.4M154.4 315.8L156.1 314.4M160.7 315.8L162.8 314.5M167.0 315.8L169.5 314.5M173.4 315.8L176.2 314.6M179.7 315.8L182.9 314.6M186.0 315.8L189.6 314.7M192.3 315.8L196.2 314.7M198.7 315.8L202.9 314.7M205.0 315.8L209.6 314.8M211.3 315.8L216.3 314.8M217.6 315.8L222.6 314.8M224.0 315.8L229.0 314.8M230.3 315.8L235.3 314.8M40.5 335.0L37.9 333.0M46.8 335.0L44.2 333.0M53.2 335.0L50.6 333.0M59.5 335.0L56.9 333.0M65.8 335.0L63.2 333.0M72.1 335.0L70.6 336.5M78.5 335.0L75.1 343.0M84.8 335.0L81.6 343.0M91.1 335.0L88.1 343.0M97.4 335.0L94.7 343.0M103.8 335.0L101.2 343.0M110.1 335.0L107.8 343.0M116.4 335.0L114.3 343.0M122.7 335.0L120.8 343.0M129.1 335.0L127.4 343.0M135.4 335.0L133.9 343.0M141.7 335.0L141.9 338.5M148.1 335.0L148.3 338.5M154.4 335.0L151.9 340.0M160.7 335.0L158.2 340.0M167.0 335.0L164.5 340.0M173.4 335.0L170.9 340.0M179.7 335.0L177.2 340.0M186.0 335.0L183.5 340.0M192.3 335.0L189.8 340.0M198.7 335.0L196.2 340.0M205.0 335.0L202.5 340.0M211.3 335.0L214.3 334.0M217.6 335.0L220.6 334.0M224.0 335.0L227.0 334.0M230.3 335.0L233.3 334.0M40.5 349.9L37.5 347.5M46.8 349.9L43.8 347.5M53.2 349.9L50.2 347.5M59.5 349.9L56.5 347.5M65.8 349.9L62.8 347.5M72.1 349.9L70.6 351.4M78.5 349.9L74.5 356.9M84.8 349.9L81.1 356.9M91.1 349.9L87.6 356.9M97.4 349.9L94.2 356.9M103.8 349.9L100.8 356.9M110.1 349.9L107.4 356.9M116.4 349.9L113.9 356.9M122.7 349.9L120.5 356.9M129.1 349.9L127.1 356.9M135.4 349.9L133.7 356.9M141.7 349.9L142.5 350.1M148.1 349.9L148.9 350.1M154.4 349.9L155.2 350.1M160.7 349.9L161.5 350.1M167.0 349.9L165.0 354.9M173.4 349.9L171.4 354.9M179.7 349.9L177.7 354.9M186.0 349.9L184.0 354.9M192.3 349.9L190.3 354.9M198.7 349.9L196.7 354.9M205.0 349.9L206.5 349.4M211.3 349.9L212.8 349.4M217.6 349.9L219.1 349.4M224.0 349.9L225.5 349.4M230.3 349.9L231.8 349.4M40.5 362.0L37.1 359.2M46.8 362.0L43.4 359.2M53.2 362.0L49.8 359.2M59.5 362.0L56.1 359.2M65.8 362.0L62.4 359.2M72.1 362.0L70.6 363.5M78.5 362.0L73.9 368.0M84.8 362.0L80.5 368.0M91.1 362.0L87.2 368.0M97.4 362.0L93.8 368.0M103.8 362.0L100.4 368.0M110.1 362.0L107.0 368.0M116.4 362.0L113.6 368.0M122.7 362.0L120.2 368.0M129.1 362.0L126.8 368.0M135.4 362.0L133.4 368.0M141.7 362.0L142.5 362.6M148.1 362.0L148.9 362.6M154.4 362.0L155.2 362.6M160.7 362.0L161.5 362.6M167.0 362.0L167.8 362.6M173.4 362.0L173.7 365.5M179.7 362.0L180.0 365.5M186.0 362.0L186.3 365.5M192.3 362.0L192.6 365.5M198.7 362.0L199.7 363.5M205.0 362.0L206.0 363.5M211.3 362.0L212.3 363.5M217.6 362.0L218.6 363.5M224.0 362.0L225.0 363.5M230.3 362.0L231.3 363.5M40.5 372.3L36.9 369.3M46.8 372.3L43.2 369.3M53.2 372.3L49.6 369.3M59.5 372.3L55.9 369.3M65.8 372.3L62.2 369.3M72.1 372.3L70.6 373.8M78.5 372.3L73.4 376.8M84.8 372.3L80.0 376.8M91.1 372.3L86.7 376.8M97.4 372.3L93.3 376.8M103.8 372.3L99.9 376.8M110.1 372.3L106.6 376.8M116.4 372.3L113.2 376.8M122.7 372.3L119.9 376.8M129.1 372.3L126.5 376.8M135.4 372.3L133.2 376.8M141.7 372.3L142.5 372.9M148.1 372.3L148.9 372.9M154.4 372.3L155.2 372.9M160.7 372.3L161.5 372.9M167.0 372.3L167.8 372.9M173.4 372.3L173.7 375.8M179.7 372.3L180.0 375.8M186.0 372.3L186.3 375.8M192.3 372.3L192.6 375.8M198.7 372.3L199.7 373.8M205.0 372.3L206.0 373.8M211.3 372.3L212.3 373.8M217.6 372.3L218.6 373.8M224.0 372.3L225.0 373.8M230.3 372.3L231.3 373.8M40.5 385.3L35.0 380.3M46.8 385.3L41.3 380.3M53.2 385.3L47.7 380.3M59.5 385.3L54.0 380.3M65.8 385.3L60.3 380.3M72.1 385.3L66.1 390.3M78.5 385.3L72.5 390.3M84.8 385.3L78.8 390.3M91.1 385.3L85.1 390.3M97.4 385.3L91.4 390.3M103.8 385.3L98.8 385.7M110.1 385.3L105.1 385.7M116.4 385.3L111.4 385.7M122.7 385.3L117.7 385.7M129.1 385.3L124.1 385.7M135.4 385.3L133.8 388.3M141.7 385.3L140.1 388.3M148.1 385.3L146.5 388.3M154.4 385.3L152.8 388.3M160.7 385.3L159.1 388.3M167.0 385.3L165.4 388.3M173.4 385.3L171.8 388.3M179.7 385.3L178.1 388.3M186.0 385.3L184.4 388.3M192.3 385.3L190.7 388.3M198.7 385.3L197.1 388.3M205.0 385.3L203.4 388.3M211.3 385.3L209.7 388.3M217.6 385.3L216.0 388.3M224.0 385.3L222.4 388.3M230.3 385.3L228.7 388.3M40.5 390.9L35.0 387.4M46.8 390.9L41.3 387.4M53.2 390.9L47.7 387.4M59.5 390.9L54.0 387.4M65.8 390.9L60.3 387.4M72.1 390.9L67.1 393.9M78.5 390.9L73.5 393.9M84.8 390.9L79.8 393.9M91.1 390.9L86.1 393.9M97.4 390.9L92.4 393.9M103.8 390.9L98.8 390.9M110.1 390.9L105.1 390.9M116.4 390.9L111.4 390.9M122.7 390.9L117.7 390.9M129.1 390.9L124.1 390.9M135.4 390.9L133.6 393.9M141.7 390.9L139.9 393.9M148.1 390.9L146.3 393.9M154.4 390.9L152.6 393.9M160.7 390.9L158.9 393.9M167.0 390.9L165.2 393.9M173.4 390.9L171.6 393.9M179.7 390.9L177.9 393.9M186.0 390.9L184.2 393.9M192.3 390.9L190.5 393.9M198.7 390.9L196.9 393.9M205.0 390.9L203.2 393.9M211.3 390.9L209.5 393.9M217.6 390.9L215.8 393.9M224.0 390.9L222.2 393.9M230.3 390.9L228.5 393.9M40.5 396.1L43.5 396.1M46.8 396.1L49.8 396.1M53.2 396.1L56.2 396.1M59.5 396.1L62.5 396.1M65.8 396.1L68.8 396.1M72.1 396.1L75.1 396.1M78.5 396.1L81.5 396.1M84.8 396.1L87.8 396.1M91.1 396.1L94.1 396.1M97.4 396.1L100.4 396.1M103.8 396.1L106.8 396.1M110.1 396.1L113.1 396.1M116.4 396.1L119.4 396.1M122.7 396.1L125.7 396.1M129.1 396.1L132.1 396.1M135.4 396.1L138.4 396.1M141.7 396.1L144.7 396.1M148.1 396.1L151.1 396.1M154.4 396.1L157.4 396.1M160.7 396.1L163.7 396.1M167.0 396.1L170.0 396.1M173.4 396.1L176.4 396.1M179.7 396.1L182.7 396.1M186.0 396.1L189.0 396.1M192.3 396.1L195.3 396.1M198.7 396.1L201.7 396.1M205.0 396.1L208.0 396.1M211.3 396.1L214.3 396.1M217.6 396.1L220.6 396.1M224.0 396.1L227.0 396.1M230.3 396.1L233.3 396.1" stroke="#111" stroke-width="0.72" fill="none" stroke-opacity="0.9"/><path d="M43.5 242.6L42.0 243.3L42.0 241.9ZM49.8 242.6L48.3 243.3L48.3 241.9ZM56.2 242.6L54.7 243.3L54.7 241.9ZM62.5 242.6L61.0 243.3L61.0 241.9ZM68.8 242.6L67.3 243.3L67.3 241.9ZM75.1 242.6L73.6 243.3L73.6 241.9ZM81.5 242.6L80.0 243.3L80.0 241.9ZM87.8 242.6L86.3 243.3L86.3 241.9ZM94.1 242.6L92.6 243.3L92.6 241.9ZM100.4 242.6L98.9 243.3L98.9 241.9ZM106.8 242.6L105.3 243.3L105.3 241.9ZM113.1 242.6L111.6 243.3L111.6 241.9ZM119.4 242.6L117.9 243.3L117.9 241.9ZM123.3 242.6L123.0 242.7L123.0 242.5ZM129.7 242.6L129.4 242.7L129.4 242.5ZM136.0 242.6L135.7 242.7L135.7 242.5ZM142.3 242.6L142.0 242.7L142.0 242.5ZM148.7 242.6L148.4 242.7L148.4 242.5ZM155.0 242.6L154.7 242.7L154.7 242.5ZM161.3 242.6L161.0 242.7L161.0 242.5ZM167.6 242.6L167.3 242.7L167.3 242.5ZM174.0 242.6L173.7 242.7L173.7 242.5ZM180.3 242.6L180.0 242.7L180.0 242.5ZM186.6 242.6L186.3 242.7L186.3 242.5ZM192.9 242.6L192.6 242.7L192.6 242.5ZM199.3 242.6L199.0 242.7L199.0 242.5ZM205.6 242.6L205.3 242.7L205.3 242.5ZM211.9 242.6L211.6 242.7L211.6 242.5ZM218.2 242.6L217.9 242.7L217.9 242.5ZM224.6 242.6L224.3 242.7L224.3 242.5ZM230.9 242.6L230.6 242.7L230.6 242.5ZM46.1 270.1L44.4 270.7L44.6 269.3ZM52.4 270.1L50.8 270.7L50.9 269.3ZM58.8 270.1L57.1 270.7L57.2 269.3ZM65.1 270.1L63.4 270.7L63.6 269.3ZM71.4 270.1L69.7 270.7L69.9 269.3ZM77.9 272.4L76.2 272.4L76.8 271.1ZM84.1 272.5L82.3 272.4L83.0 271.1ZM90.3 272.5L88.5 272.4L89.2 271.1ZM96.4 272.5L94.7 272.4L95.4 271.1ZM102.6 272.6L100.8 272.4L101.6 271.2ZM108.7 272.6L107.0 272.4L107.7 271.2ZM114.9 272.6L113.2 272.4L113.9 271.2ZM121.1 272.7L119.3 272.4L120.1 271.2ZM127.2 272.7L125.5 272.4L126.3 271.2ZM133.4 272.8L131.7 272.4L132.5 271.2ZM139.6 272.8L137.9 272.4L138.7 271.3ZM142.9 269.3L142.4 269.8L142.3 269.2ZM149.4 269.3L148.8 269.8L148.7 269.1ZM155.9 269.2L155.2 269.8L155.1 269.1ZM162.4 269.2L161.7 269.8L161.4 269.0ZM168.9 269.1L168.1 269.8L167.8 268.9ZM175.4 269.0L174.5 269.8L174.2 268.9ZM181.9 269.0L180.9 269.8L180.6 268.8ZM188.4 268.9L187.4 269.8L187.0 268.7ZM194.9 268.9L193.8 269.8L193.4 268.7ZM201.4 268.8L200.2 269.8L199.8 268.6ZM207.9 268.7L206.6 269.8L206.2 268.5ZM214.4 268.7L213.0 269.8L212.6 268.5ZM220.8 268.6L219.5 269.8L219.1 268.4ZM227.2 268.6L225.9 269.8L225.4 268.4ZM233.5 268.6L232.2 269.8L231.8 268.4ZM41.7 289.1L41.0 289.2L41.2 288.7ZM48.0 289.1L47.4 289.2L47.5 288.7ZM54.4 289.1L53.7 289.2L53.8 288.7ZM60.7 289.1L60.0 289.2L60.1 288.7ZM67.0 289.1L66.3 289.2L66.5 288.7ZM76.9 293.0L75.3 292.5L76.2 291.4ZM83.0 293.2L81.3 292.6L82.3 291.5ZM89.0 293.3L87.4 292.7L88.5 291.7ZM95.1 293.5L93.5 292.7L94.6 291.8ZM101.1 293.6L99.6 292.8L100.7 291.9ZM107.2 293.8L105.7 292.9L106.9 292.1ZM113.2 294.0L111.8 293.0L113.0 292.2ZM119.3 294.1L117.9 293.1L119.1 292.4ZM125.3 294.3L124.0 293.1L125.3 292.5ZM131.4 294.4L130.1 293.2L131.4 292.7ZM136.9 288.0L136.3 288.7L136.0 288.1ZM143.2 288.0L142.7 288.7L142.3 288.1ZM149.6 288.0L149.0 288.7L148.6 288.1ZM155.9 288.0L155.3 288.7L154.9 288.1ZM162.6 288.0L161.8 288.8L161.5 288.0ZM169.3 288.0L168.4 288.9L168.0 287.9ZM176.1 287.9L174.9 289.0L174.5 287.8ZM182.8 287.9L181.4 289.1L181.1 287.7ZM189.5 287.9L188.1 289.0L187.8 287.6ZM196.2 287.9L194.8 289.0L194.5 287.6ZM203.0 287.9L201.6 288.9L201.2 287.5ZM209.7 287.8L208.3 288.9L208.0 287.5ZM216.4 287.8L215.0 288.8L214.7 287.4ZM223.1 287.8L221.7 288.8L221.4 287.4ZM229.5 287.8L228.0 288.8L227.8 287.4ZM235.8 287.8L234.4 288.8L234.1 287.4ZM41.3 304.1L40.8 304.1L41.0 303.7ZM47.6 304.1L47.1 304.1L47.3 303.7ZM54.0 304.1L53.5 304.1L53.6 303.7ZM60.3 304.1L59.8 304.1L60.0 303.7ZM66.6 304.1L66.1 304.1L66.3 303.7ZM74.1 309.5L72.9 308.2L74.3 307.7ZM80.2 309.8L79.1 308.5L80.5 308.1ZM86.4 310.2L85.3 308.8L86.7 308.4ZM92.5 310.5L91.5 309.1L92.9 308.8ZM98.6 310.8L97.6 309.4L99.0 309.1ZM104.7 311.2L103.8 309.7L105.2 309.5ZM110.8 311.2L109.9 309.7L111.4 309.5ZM116.9 311.2L116.1 309.6L117.5 309.5ZM123.0 311.2L122.3 309.6L123.7 309.6ZM129.4 311.2L128.6 309.6L130.0 309.6ZM136.4 302.7L136.1 303.4L135.7 303.0ZM142.7 302.7L142.5 303.4L142.0 303.0ZM149.5 302.7L149.0 303.5L148.5 302.9ZM156.2 302.7L155.5 303.6L155.1 302.8ZM162.9 302.7L162.0 303.7L161.6 302.7ZM169.7 302.7L168.6 303.8L168.1 302.6ZM176.4 302.7L175.1 303.9L174.7 302.5ZM183.1 302.7L181.8 303.8L181.4 302.4ZM189.9 302.7L188.5 303.8L188.1 302.4ZM196.6 302.7L195.2 303.7L194.9 302.3ZM203.3 302.7L201.9 303.7L201.6 302.3ZM210.1 302.7L208.7 303.7L208.4 302.3ZM216.8 302.7L215.4 303.7L215.1 302.3ZM223.1 302.7L221.7 303.7L221.4 302.3ZM229.5 302.7L228.0 303.7L227.8 302.3ZM235.8 302.7L234.4 303.7L234.1 302.3ZM41.5 316.6L40.8 316.5L41.2 316.0ZM47.8 316.6L47.1 316.5L47.5 316.0ZM54.2 316.6L53.5 316.5L53.8 316.0ZM60.5 316.6L59.8 316.5L60.2 316.0ZM66.8 316.6L66.1 316.5L66.5 316.0ZM72.3 321.8L71.5 320.3L72.9 320.2ZM78.3 322.3L77.6 320.7L79.1 320.8ZM84.5 322.8L83.8 321.2L85.3 321.3ZM91.0 323.3L90.3 321.7L91.7 321.8ZM97.6 323.8L96.8 322.2L98.3 322.2ZM104.1 324.3L103.3 322.8L104.7 322.7ZM110.3 324.3L109.5 322.8L111.0 322.7ZM116.3 324.3L115.6 322.7L117.1 322.7ZM122.5 324.3L121.8 322.7L123.2 322.8ZM128.8 324.3L128.2 322.7L129.6 322.8ZM136.4 314.3L136.2 315.3L135.6 314.9ZM142.7 314.3L142.6 315.3L141.9 314.9ZM149.4 314.4L149.1 315.4L148.4 314.8ZM156.1 314.4L155.6 315.5L154.9 314.7ZM162.8 314.5L162.1 315.6L161.4 314.7ZM169.5 314.5L168.6 315.7L168.0 314.6ZM176.2 314.6L175.1 315.8L174.5 314.6ZM182.9 314.6L181.6 315.9L181.1 314.5ZM189.6 314.7L188.3 315.8L187.8 314.5ZM196.2 314.7L194.9 315.8L194.5 314.5ZM202.9 314.7L201.6 315.8L201.2 314.4ZM209.6 314.8L208.2 315.8L207.9 314.4ZM216.3 314.8L214.9 315.9L214.6 314.4ZM222.6 314.8L221.2 315.9L220.9 314.4ZM229.0 314.8L227.5 315.9L227.3 314.4ZM235.3 314.8L233.9 315.9L233.6 314.4ZM37.9 333.0L39.6 333.4L38.7 334.6ZM44.2 333.0L45.9 333.4L45.1 334.6ZM50.6 333.0L52.3 333.4L51.4 334.6ZM56.9 333.0L58.6 333.4L57.7 334.6ZM63.2 333.0L64.9 333.4L64.0 334.6ZM70.6 336.5L71.0 335.4L71.7 336.1ZM75.1 343.0L75.0 341.3L76.4 341.8ZM81.6 343.0L81.5 341.3L82.9 341.8ZM88.1 343.0L88.0 341.3L89.4 341.8ZM94.7 343.0L94.5 341.3L95.9 341.7ZM101.2 343.0L101.0 341.3L102.4 341.7ZM107.8 343.0L107.5 341.3L108.9 341.7ZM114.3 343.0L114.0 341.3L115.4 341.7ZM120.8 343.0L120.5 341.3L121.9 341.6ZM127.4 343.0L127.0 341.3L128.4 341.6ZM133.9 343.0L133.5 341.3L134.9 341.6ZM141.9 338.5L141.1 337.0L142.6 336.9ZM148.3 338.5L147.4 337.0L148.9 336.9ZM151.9 340.0L152.0 338.3L153.2 338.9ZM158.2 340.0L158.3 338.3L159.6 338.9ZM164.5 340.0L164.6 338.3L165.9 338.9ZM170.9 340.0L170.9 338.3L172.2 338.9ZM177.2 340.0L177.3 338.3L178.5 338.9ZM183.5 340.0L183.6 338.3L184.9 338.9ZM189.8 340.0L189.9 338.3L191.2 338.9ZM196.2 340.0L196.2 338.3L197.5 338.9ZM202.5 340.0L202.6 338.3L203.9 338.9ZM214.3 334.0L213.0 335.2L212.6 333.8ZM220.6 334.0L219.4 335.2L218.9 333.8ZM227.0 334.0L225.7 335.2L225.2 333.8ZM233.3 334.0L232.0 335.2L231.6 333.8ZM37.5 347.5L39.2 347.9L38.3 349.1ZM43.8 347.5L45.5 347.9L44.6 349.1ZM50.2 347.5L51.9 347.9L51.0 349.1ZM56.5 347.5L58.2 347.9L57.3 349.1ZM62.8 347.5L64.5 347.9L63.6 349.1ZM70.6 351.4L71.0 350.3L71.7 351.0ZM74.5 356.9L74.7 355.1L75.9 355.9ZM81.1 356.9L81.2 355.1L82.5 355.8ZM87.6 356.9L87.7 355.1L89.0 355.8ZM94.2 356.9L94.2 355.1L95.5 355.7ZM100.8 356.9L100.8 355.1L102.1 355.7ZM107.4 356.9L107.3 355.1L108.6 355.7ZM113.9 356.9L113.8 355.1L115.1 355.6ZM120.5 356.9L120.3 355.1L121.7 355.6ZM127.1 356.9L126.8 355.2L128.2 355.6ZM133.7 356.9L133.3 355.2L134.7 355.5ZM142.5 350.1L142.1 350.2L142.2 349.8ZM148.9 350.1L148.4 350.2L148.5 349.8ZM155.2 350.1L154.7 350.2L154.8 349.8ZM161.5 350.1L161.1 350.2L161.2 349.8ZM165.0 354.9L165.0 353.1L166.3 353.7ZM171.4 354.9L171.3 353.1L172.6 353.7ZM177.7 354.9L177.6 353.1L178.9 353.7ZM184.0 354.9L183.9 353.1L185.3 353.7ZM190.3 354.9L190.3 353.1L191.6 353.7ZM196.7 354.9L196.6 353.1L197.9 353.7ZM206.5 349.4L205.9 350.0L205.6 349.3ZM212.8 349.4L212.2 350.0L212.0 349.3ZM219.1 349.4L218.5 350.0L218.3 349.3ZM225.5 349.4L224.8 350.0L224.6 349.3ZM231.8 349.4L231.2 350.0L230.9 349.3ZM37.1 359.2L38.8 359.7L37.9 360.8ZM43.4 359.2L45.1 359.7L44.2 360.8ZM49.8 359.2L51.4 359.7L50.5 360.8ZM56.1 359.2L57.8 359.7L56.9 360.8ZM62.4 359.2L64.1 359.7L63.2 360.8ZM70.6 363.5L71.0 362.5L71.7 363.1ZM73.9 368.0L74.3 366.3L75.5 367.2ZM80.5 368.0L80.9 366.3L82.1 367.2ZM87.2 368.0L87.4 366.3L88.6 367.1ZM93.8 368.0L94.0 366.3L95.2 367.1ZM100.4 368.0L100.5 366.3L101.8 367.0ZM107.0 368.0L107.1 366.3L108.4 367.0ZM113.6 368.0L113.6 366.3L114.9 366.9ZM120.2 368.0L120.2 366.3L121.5 366.9ZM126.8 368.0L126.7 366.3L128.0 366.8ZM133.4 368.0L133.2 366.3L134.6 366.8ZM142.5 362.6L142.0 362.5L142.3 362.2ZM148.9 362.6L148.3 362.5L148.6 362.2ZM155.2 362.6L154.6 362.5L154.9 362.2ZM161.5 362.6L161.0 362.5L161.2 362.2ZM167.8 362.6L167.3 362.5L167.6 362.2ZM173.7 365.5L172.8 364.0L174.2 363.9ZM180.0 365.5L179.1 364.0L180.6 363.9ZM186.3 365.5L185.5 364.0L186.9 363.9ZM192.6 365.5L191.8 364.0L193.2 363.9ZM199.7 363.5L198.8 363.0L199.5 362.6ZM206.0 363.5L205.2 363.0L205.8 362.6ZM212.3 363.5L211.5 363.0L212.2 362.6ZM218.6 363.5L217.8 363.0L218.5 362.6ZM225.0 363.5L224.1 363.0L224.8 362.6ZM231.3 363.5L230.5 363.0L231.1 362.6ZM36.9 369.3L38.6 369.8L37.7 370.9ZM43.2 369.3L44.9 369.8L44.0 370.9ZM49.6 369.3L51.2 369.8L50.3 370.9ZM55.9 369.3L57.6 369.8L56.6 370.9ZM62.2 369.3L63.9 369.8L63.0 370.9ZM70.6 373.8L71.0 372.7L71.7 373.4ZM73.4 376.8L74.1 375.2L75.1 376.3ZM80.0 376.8L80.7 375.2L81.7 376.2ZM86.7 376.8L87.3 375.2L88.3 376.2ZM93.3 376.8L93.9 375.2L94.9 376.1ZM99.9 376.8L100.4 375.1L101.5 376.1ZM106.6 376.8L107.0 375.1L108.1 376.0ZM113.2 376.8L113.6 375.1L114.7 375.9ZM119.9 376.8L120.1 375.1L121.3 375.9ZM126.5 376.8L126.7 375.1L127.9 375.8ZM133.2 376.8L133.2 375.1L134.5 375.7ZM142.5 372.9L142.0 372.8L142.3 372.4ZM148.9 372.9L148.3 372.8L148.6 372.4ZM155.2 372.9L154.6 372.8L154.9 372.4ZM161.5 372.9L161.0 372.8L161.2 372.4ZM167.8 372.9L167.3 372.8L167.6 372.4ZM173.7 375.8L172.8 374.3L174.2 374.2ZM180.0 375.8L179.1 374.3L180.6 374.2ZM186.3 375.8L185.5 374.3L186.9 374.2ZM192.6 375.8L191.8 374.3L193.2 374.2ZM199.7 373.8L198.8 373.3L199.5 372.8ZM206.0 373.8L205.2 373.3L205.8 372.8ZM212.3 373.8L211.5 373.3L212.2 372.8ZM218.6 373.8L217.8 373.3L218.5 372.8ZM225.0 373.8L224.1 373.3L224.8 372.8ZM231.3 373.8L230.5 373.3L231.1 372.8ZM35.0 380.3L36.7 380.8L35.7 381.9ZM41.3 380.3L43.0 380.8L42.0 381.9ZM47.7 380.3L49.3 380.8L48.4 381.9ZM54.0 380.3L55.6 380.8L54.7 381.9ZM60.3 380.3L62.0 380.8L61.0 381.9ZM66.1 390.3L66.9 388.7L67.8 389.8ZM72.5 390.3L73.2 388.7L74.2 389.8ZM78.8 390.3L79.6 388.7L80.5 389.8ZM85.1 390.3L85.9 388.7L86.8 389.8ZM91.4 390.3L92.2 388.7L93.1 389.8ZM98.8 385.7L100.3 384.8L100.4 386.3ZM105.1 385.7L106.6 384.8L106.7 386.3ZM111.4 385.7L113.0 384.8L113.1 386.3ZM117.7 385.7L119.3 384.8L119.4 386.3ZM124.1 385.7L125.6 384.8L125.7 386.3ZM133.8 388.3L133.9 386.5L135.2 387.2ZM140.1 388.3L140.2 386.5L141.5 387.2ZM146.5 388.3L146.6 386.5L147.8 387.2ZM152.8 388.3L152.9 386.5L154.2 387.2ZM159.1 388.3L159.2 386.5L160.5 387.2ZM165.4 388.3L165.6 386.5L166.8 387.2ZM171.8 388.3L171.9 386.5L173.1 387.2ZM178.1 388.3L178.2 386.5L179.5 387.2ZM184.4 388.3L184.5 386.5L185.8 387.2ZM190.7 388.3L190.9 386.5L192.1 387.2ZM197.1 388.3L197.2 386.5L198.5 387.2ZM203.4 388.3L203.5 386.5L204.8 387.2ZM209.7 388.3L209.8 386.5L211.1 387.2ZM216.0 388.3L216.2 386.5L217.4 387.2ZM222.4 388.3L222.5 386.5L223.8 387.2ZM228.7 388.3L228.8 386.5L230.1 387.2ZM35.0 387.4L36.7 387.7L36.0 388.9ZM41.3 387.4L43.1 387.7L42.3 388.9ZM47.7 387.4L49.4 387.7L48.6 388.9ZM54.0 387.4L55.7 387.7L54.9 388.9ZM60.3 387.4L62.0 387.7L61.3 388.9ZM67.1 393.9L68.1 392.5L68.9 393.7ZM73.5 393.9L74.5 392.5L75.2 393.7ZM79.8 393.9L80.8 392.5L81.5 393.7ZM86.1 393.9L87.1 392.5L87.9 393.7ZM92.4 393.9L93.4 392.5L94.2 393.7ZM98.8 390.9L100.4 390.2L100.4 391.6ZM105.1 390.9L106.7 390.2L106.7 391.6ZM111.4 390.9L113.0 390.2L113.0 391.6ZM117.7 390.9L119.3 390.2L119.3 391.6ZM124.1 390.9L125.7 390.2L125.7 391.6ZM133.6 393.9L133.8 392.2L135.0 392.9ZM139.9 393.9L140.1 392.2L141.4 392.9ZM146.3 393.9L146.5 392.2L147.7 392.9ZM152.6 393.9L152.8 392.2L154.0 392.9ZM158.9 393.9L159.1 392.2L160.3 392.9ZM165.2 393.9L165.4 392.2L166.7 392.9ZM171.6 393.9L171.8 392.2L173.0 392.9ZM177.9 393.9L178.1 392.2L179.3 392.9ZM184.2 393.9L184.4 392.2L185.7 392.9ZM190.5 393.9L190.7 392.2L192.0 392.9ZM196.9 393.9L197.1 392.2L198.3 392.9ZM203.2 393.9L203.4 392.2L204.6 392.9ZM209.5 393.9L209.7 392.2L211.0 392.9ZM215.8 393.9L216.1 392.2L217.3 392.9ZM222.2 393.9L222.4 392.2L223.6 392.9ZM228.5 393.9L228.7 392.2L229.9 392.9ZM43.5 396.1L42.0 396.8L42.0 395.4ZM49.8 396.1L48.3 396.8L48.3 395.4ZM56.2 396.1L54.7 396.8L54.7 395.4ZM62.5 396.1L61.0 396.8L61.0 395.4ZM68.8 396.1L67.3 396.8L67.3 395.4ZM75.1 396.1L73.6 396.8L73.6 395.4ZM81.5 396.1L80.0 396.8L80.0 395.4ZM87.8 396.1L86.3 396.8L86.3 395.4ZM94.1 396.1L92.6 396.8L92.6 395.4ZM100.4 396.1L98.9 396.8L98.9 395.4ZM106.8 396.1L105.3 396.8L105.3 395.4ZM113.1 396.1L111.6 396.8L111.6 395.4ZM119.4 396.1L117.9 396.8L117.9 395.4ZM125.7 396.1L124.2 396.8L124.2 395.4ZM132.1 396.1L130.6 396.8L130.6 395.4ZM138.4 396.1L136.9 396.8L136.9 395.4ZM144.7 396.1L143.2 396.8L143.2 395.4ZM151.1 396.1L149.6 396.8L149.6 395.4ZM157.4 396.1L155.9 396.8L155.9 395.4ZM163.7 396.1L162.2 396.8L162.2 395.4ZM170.0 396.1L168.5 396.8L168.5 395.4ZM176.4 396.1L174.9 396.8L174.9 395.4ZM182.7 396.1L181.2 396.8L181.2 395.4ZM189.0 396.1L187.5 396.8L187.5 395.4ZM195.3 396.1L193.8 396.8L193.8 395.4ZM201.7 396.1L200.2 396.8L200.2 395.4ZM208.0 396.1L206.5 396.8L206.5 395.4ZM214.3 396.1L212.8 396.8L212.8 395.4ZM220.6 396.1L219.1 396.8L219.1 395.4ZM227.0 396.1L225.5 396.8L225.5 395.4ZM233.3 396.1L231.8 396.8L231.8 395.4Z" fill="#111" fill-opacity="0.9"/></g>
<g clip-path="url(#cb1)"><path d="M267.4 242.6L270.4 242.6M273.7 242.6L276.7 242.6M280.1 242.6L283.1 242.6M286.4 242.6L289.4 242.6M292.7 242.6L295.7 242.6M299.0 242.6L302.0 242.6M305.4 242.6L308.4 242.6M311.7 242.6L314.7 242.6M318.0 242.6L321.0 242.6M324.3 242.6L327.3 242.6M330.7 242.6L333.7 242.6M337.0 242.6L340.0 242.6M343.3 242.6L346.3 242.6M349.6 242.6L352.6 242.6M356.0 242.6L359.0 242.6M362.3 242.6L365.3 242.6M368.6 242.6L371.6 242.6M375.0 242.6L378.0 242.6M381.3 242.6L384.3 242.6M387.6 242.6L390.6 242.6M393.9 242.6L396.9 242.6M400.3 242.6L403.3 242.6M406.6 242.6L409.6 242.6M412.9 242.6L415.9 242.6M419.2 242.6L422.2 242.6M425.6 242.6L428.6 242.6M431.9 242.6L434.9 242.6M438.2 242.6L441.2 242.6M444.5 242.6L447.5 242.6M450.9 242.6L453.9 242.6M457.2 242.6L460.2 242.6M267.4 269.6L273.0 270.1M273.7 269.6L279.3 270.1M280.1 269.6L285.7 270.1M286.4 269.6L292.0 270.1M292.7 269.6L298.3 270.1M299.0 269.6L304.8 272.4M305.4 269.6L311.0 272.5M311.7 269.6L317.2 272.5M318.0 269.6L323.3 272.5M324.3 269.6L329.5 272.6M330.7 269.6L335.6 272.6M337.0 269.6L341.8 272.6M343.3 269.6L348.0 272.7M349.6 269.6L354.1 272.7M356.0 269.6L360.3 272.8M362.3 269.6L366.5 272.8M368.6 269.6L370.8 271.0M375.0 269.6L377.2 271.0M381.3 269.6L383.5 271.0M387.6 269.6L388.4 269.6M393.9 269.6L394.7 269.6M400.3 269.6L401.1 269.6M406.6 269.6L407.4 269.6M412.9 269.6L413.7 269.6M419.2 269.6L420.0 269.6M425.6 269.6L426.4 269.6M431.9 269.6L432.7 269.6M438.2 269.6L439.0 269.6M444.5 269.6L445.3 269.6M450.9 269.6L451.7 269.6M457.2 269.6L458.0 269.6M267.4 288.8L268.6 289.1M273.7 288.8L274.9 289.1M280.1 288.8L281.3 289.1M286.4 288.8L287.6 289.1M292.7 288.8L293.9 289.1M299.0 288.8L303.8 293.0M305.4 288.8L309.9 293.2M311.7 288.8L315.9 293.3M318.0 288.8L322.0 293.5M324.3 288.8L328.0 293.6M330.7 288.8L334.1 293.8M337.0 288.8L340.1 294.0M343.3 288.8L346.2 294.1M349.6 288.8L352.2 294.3M356.0 288.8L358.3 294.4M362.3 288.8L364.9 287.5M368.6 288.8L371.2 287.5M375.0 288.8L377.6 287.5M381.3 288.8L383.9 287.5M387.6 288.8L390.2 287.5M393.9 288.8L396.5 287.5M400.3 288.8L402.9 287.5M406.6 288.8L409.2 287.5M412.9 288.8L415.5 287.5M419.2 288.8L421.8 287.5M425.6 288.8L428.2 287.5M431.9 288.8L434.5 287.5M438.2 288.8L440.8 287.5M444.5 288.8L447.1 287.5M450.9 288.8L453.5 287.5M457.2 288.8L459.8 287.5M267.4 303.7L268.2 304.1M273.7 303.7L274.5 304.1M280.1 303.7L280.9 304.1M286.4 303.7L287.2 304.1M292.7 303.7L293.5 304.1M299.0 303.7L301.0 309.5M305.4 303.7L307.1 309.8M311.7 303.7L313.3 310.2M318.0 303.7L319.4 310.5M324.3 303.7L325.5 310.8M330.7 303.7L331.6 311.2M337.0 303.7L337.7 311.2M343.3 303.7L343.8 311.2M349.6 303.7L349.9 311.2M356.0 303.7L356.3 311.2M362.3 303.7L361.1 306.7M368.6 303.7L367.4 306.7M375.0 303.7L373.8 306.7M381.3 303.7L383.5 302.5M387.6 303.7L389.8 302.5M393.9 303.7L396.1 302.5M400.3 303.7L402.5 302.5M406.6 303.7L408.8 302.5M412.9 303.7L415.1 302.5M419.2 303.7L421.4 302.5M425.6 303.7L427.8 302.5M431.9 303.7L434.1 302.5M438.2 303.7L440.4 302.5M444.5 303.7L446.7 302.5M450.9 303.7L453.1 302.5M457.2 303.7L459.4 302.5M267.4 315.8L268.4 316.6M273.7 315.8L274.7 316.6M280.1 315.8L281.1 316.6M286.4 315.8L287.4 316.6M292.7 315.8L293.7 316.6M299.0 315.8L299.2 321.8M305.4 315.8L305.2 322.3M311.7 315.8L311.4 322.8M318.0 315.8L317.9 323.3M324.3 315.8L324.5 323.8M330.7 315.8L331.0 324.3M337.0 315.8L337.2 324.3M343.3 315.8L343.2 324.3M349.6 315.8L349.4 324.3M356.0 315.8L355.7 324.3M362.3 315.8L360.8 318.8M368.6 315.8L367.1 318.8M375.0 315.8L373.5 318.8M381.3 315.8L382.5 315.5M387.6 315.8L388.8 315.5M393.9 315.8L395.1 315.5M400.3 315.8L401.5 315.5M406.6 315.8L407.8 315.5M412.9 315.8L414.1 315.5M419.2 315.8L420.4 315.5M425.6 315.8L426.8 315.5M431.9 315.8L433.1 315.5M438.2 315.8L439.4 315.5M444.5 315.8L445.7 315.5M450.9 315.8L452.1 315.5M457.2 315.8L458.4 315.5M267.4 335.0L264.8 333.0M273.7 335.0L271.1 333.0M280.1 335.0L277.5 333.0M286.4 335.0L283.8 333.0M292.7 335.0L290.1 333.0M299.0 335.0L297.5 336.5M305.4 335.0L302.0 343.0M311.7 335.0L308.5 343.0M318.0 335.0L315.0 343.0M324.3 335.0L321.6 343.0M330.7 335.0L328.1 343.0M337.0 335.0L334.7 343.0M343.3 335.0L341.2 343.0M349.6 335.0L347.7 343.0M356.0 335.0L354.3 343.0M362.3 335.0L360.8 343.0M368.6 335.0L368.8 338.5M375.0 335.0L375.2 338.5M381.3 335.0L382.1 335.8M387.6 335.0L388.4 335.8M393.9 335.0L394.7 335.8M400.3 335.0L401.1 335.8M406.6 335.0L407.4 335.8M412.9 335.0L413.7 335.8M419.2 335.0L420.0 335.8M425.6 335.0L426.4 335.8M431.9 335.0L432.7 335.8M438.2 335.0L439.2 335.3M444.5 335.0L445.5 335.3M450.9 335.0L451.9 335.3M457.2 335.0L458.2 335.3M267.4 349.9L264.4 347.5M273.7 349.9L270.7 347.5M280.1 349.9L277.1 347.5M286.4 349.9L283.4 347.5M292.7 349.9L289.7 347.5M299.0 349.9L297.5 351.4M305.4 349.9L301.4 356.9M311.7 349.9L308.0 356.9M318.0 349.9L314.5 356.9M324.3 349.9L321.1 356.9M330.7 349.9L327.7 356.9M337.0 349.9L334.3 356.9M343.3 349.9L340.8 356.9M349.6 349.9L347.4 356.9M356.0 349.9L354.0 356.9M362.3 349.9L360.5 356.9M368.6 349.9L369.4 350.1M375.0 349.9L375.8 350.1M381.3 349.9L382.1 350.1M387.6 349.9L388.4 350.1M393.9 349.9L394.4 351.9M400.3 349.9L400.8 351.9M406.6 349.9L407.1 351.9M412.9 349.9L413.4 351.9M419.2 349.9L419.7 351.9M425.6 349.9L426.1 351.9M431.9 349.9L433.4 349.4M438.2 349.9L439.7 349.4M444.5 349.9L446.0 349.4M450.9 349.9L452.4 349.4M457.2 349.9L458.7 349.4M267.4 362.0L264.0 359.2M273.7 362.0L270.3 359.2M280.1 362.0L276.7 359.2M286.4 362.0L283.0 359.2M292.7 362.0L289.3 359.2M299.0 362.0L297.5 363.5M305.4 362.0L300.8 368.0M311.7 362.0L307.4 368.0M318.0 362.0L314.1 368.0M324.3 362.0L320.7 368.0M330.7 362.0L327.3 368.0M337.0 362.0L333.9 368.0M343.3 362.0L340.5 368.0M349.6 362.0L347.1 368.0M356.0 362.0L353.7 368.0M362.3 362.0L360.3 368.0M368.6 362.0L369.4 362.6M375.0 362.0L375.8 362.6M381.3 362.0L382.1 362.6M387.6 362.0L388.4 362.6M393.9 362.0L394.7 362.6M400.3 362.0L401.3 364.2M406.6 362.0L407.6 364.2M412.9 362.0L413.9 364.2M419.2 362.0L420.2 364.2M425.6 362.0L426.6 363.5M431.9 362.0L432.9 363.5M438.2 362.0L439.2 363.5M444.5 362.0L445.5 363.5M450.9 362.0L451.9 363.5M457.2 362.0L458.2 363.5M267.4 372.3L263.8 369.3M273.7 372.3L270.1 369.3M280.1 372.3L276.5 369.3M286.4 372.3L282.8 369.3M292.7 372.3L289.1 369.3M299.0 372.3L297.5 373.8M305.4 372.3L300.3 376.8M311.7 372.3L306.9 376.8M318.0 372.3L313.6 376.8M324.3 372.3L320.2 376.8M330.7 372.3L326.8 376.8M337.0 372.3L333.5 376.8M343.3 372.3L340.1 376.8M349.6 372.3L346.8 376.8M356.0 372.3L353.4 376.8M362.3 372.3L360.0 376.8M368.6 372.3L369.4 372.9M375.0 372.3L375.8 372.9M381.3 372.3L382.1 372.9M387.6 372.3L388.4 372.9M393.9 372.3L394.7 372.9M400.3 372.3L401.3 374.5M406.6 372.3L407.6 374.5M412.9 372.3L413.9 374.5M419.2 372.3L420.2 374.5M425.6 372.3L426.6 373.8M431.9 372.3L432.9 373.8M438.2 372.3L439.2 373.8M444.5 372.3L445.5 373.8M450.9 372.3L451.9 373.8M457.2 372.3L458.2 373.8M267.4 385.3L261.9 380.3M273.7 385.3L268.2 380.3M280.1 385.3L274.6 380.3M286.4 385.3L280.9 380.3M292.7 385.3L287.2 380.3M299.0 385.3L293.0 390.3M305.4 385.3L299.4 390.3M311.7 385.3L305.7 390.3M318.0 385.3L312.0 390.3M324.3 385.3L318.3 390.3M330.7 385.3L325.7 385.7M337.0 385.3L332.0 385.7M343.3 385.3L338.3 385.7M349.6 385.3L344.6 385.7M356.0 385.3L351.0 385.7M362.3 385.3L360.7 388.3M368.6 385.3L367.0 388.3M375.0 385.3L373.4 388.3M381.3 385.3L379.7 388.3M387.6 385.3L386.0 388.3M393.9 385.3L392.3 388.3M400.3 385.3L398.7 388.3M406.6 385.3L405.0 388.3M412.9 385.3L411.3 388.3M419.2 385.3L417.6 388.3M425.6 385.3L424.0 388.3M431.9 385.3L430.3 388.3M438.2 385.3L436.6 388.3M444.5 385.3L442.9 388.3M450.9 385.3L449.3 388.3M457.2 385.3L455.6 388.3M267.4 390.9L261.9 387.4M273.7 390.9L268.2 387.4M280.1 390.9L274.6 387.4M286.4 390.9L280.9 387.4M292.7 390.9L287.2 387.4M299.0 390.9L294.0 393.9M305.4 390.9L300.4 393.9M311.7 390.9L306.7 393.9M318.0 390.9L313.0 393.9M324.3 390.9L319.3 393.9M330.7 390.9L325.7 390.9M337.0 390.9L332.0 390.9M343.3 390.9L338.3 390.9M349.6 390.9L344.6 390.9M356.0 390.9L351.0 390.9M362.3 390.9L360.5 393.9M368.6 390.9L366.8 393.9M375.0 390.9L373.2 393.9M381.3 390.9L379.5 393.9M387.6 390.9L385.8 393.9M393.9 390.9L392.1 393.9M400.3 390.9L398.5 393.9M406.6 390.9L404.8 393.9M412.9 390.9L411.1 393.9M419.2 390.9L417.4 393.9M425.6 390.9L423.8 393.9M431.9 390.9L430.1 393.9M438.2 390.9L436.4 393.9M444.5 390.9L442.7 393.9M450.9 390.9L449.1 393.9M457.2 390.9L455.4 393.9M267.4 396.1L270.4 396.1M273.7 396.1L276.7 396.1M280.1 396.1L283.1 396.1M286.4 396.1L289.4 396.1M292.7 396.1L295.7 396.1M299.0 396.1L302.0 396.1M305.4 396.1L308.4 396.1M311.7 396.1L314.7 396.1M318.0 396.1L321.0 396.1M324.3 396.1L327.3 396.1M330.7 396.1L333.7 396.1M337.0 396.1L340.0 396.1M343.3 396.1L346.3 396.1M349.6 396.1L352.6 396.1M356.0 396.1L359.0 396.1M362.3 396.1L365.3 396.1M368.6 396.1L371.6 396.1M375.0 396.1L378.0 396.1M381.3 396.1L384.3 396.1M387.6 396.1L390.6 396.1M393.9 396.1L396.9 396.1M400.3 396.1L403.3 396.1M406.6 396.1L409.6 396.1M412.9 396.1L415.9 396.1M419.2 396.1L422.2 396.1M425.6 396.1L428.6 396.1M431.9 396.1L434.9 396.1M438.2 396.1L441.2 396.1M444.5 396.1L447.5 396.1M450.9 396.1L453.9 396.1M457.2 396.1L460.2 396.1" stroke="#111" stroke-width="0.72" fill="none" stroke-opacity="0.9"/><path d="M270.4 242.6L268.9 243.3L268.9 241.9ZM276.7 242.6L275.2 243.3L275.2 241.9ZM283.1 242.6L281.6 243.3L281.6 241.9ZM289.4 242.6L287.9 243.3L287.9 241.9ZM295.7 242.6L294.2 243.3L294.2 241.9ZM302.0 242.6L300.5 243.3L300.5 241.9ZM308.4 242.6L306.9 243.3L306.9 241.9ZM314.7 242.6L313.2 243.3L313.2 241.9ZM321.0 242.6L319.5 243.3L319.5 241.9ZM327.3 242.6L325.8 243.3L325.8 241.9ZM333.7 242.6L332.2 243.3L332.2 241.9ZM340.0 242.6L338.5 243.3L338.5 241.9ZM346.3 242.6L344.8 243.3L344.8 241.9ZM352.6 242.6L351.1 243.3L351.1 241.9ZM359.0 242.6L357.5 243.3L357.5 241.9ZM365.3 242.6L363.8 243.3L363.8 241.9ZM371.6 242.6L370.1 243.3L370.1 241.9ZM378.0 242.6L376.5 243.3L376.5 241.9ZM384.3 242.6L382.8 243.3L382.8 241.9ZM390.6 242.6L389.1 243.3L389.1 241.9ZM396.9 242.6L395.4 243.3L395.4 241.9ZM403.3 242.6L401.8 243.3L401.8 241.9ZM409.6 242.6L408.1 243.3L408.1 241.9ZM415.9 242.6L414.4 243.3L414.4 241.9ZM422.2 242.6L420.7 243.3L420.7 241.9ZM428.6 242.6L427.1 243.3L427.1 241.9ZM434.9 242.6L433.4 243.3L433.4 241.9ZM441.2 242.6L439.7 243.3L439.7 241.9ZM447.5 242.6L446.0 243.3L446.0 241.9ZM453.9 242.6L452.4 243.3L452.4 241.9ZM460.2 242.6L458.7 243.3L458.7 241.9ZM273.0 270.1L271.3 270.7L271.5 269.3ZM279.3 270.1L277.7 270.7L277.8 269.3ZM285.7 270.1L284.0 270.7L284.1 269.3ZM292.0 270.1L290.3 270.7L290.5 269.3ZM298.3 270.1L296.6 270.7L296.8 269.3ZM304.8 272.4L303.1 272.4L303.7 271.1ZM311.0 272.5L309.2 272.4L309.9 271.1ZM317.2 272.5L315.4 272.4L316.1 271.1ZM323.3 272.5L321.6 272.4L322.3 271.1ZM329.5 272.6L327.7 272.4L328.5 271.2ZM335.6 272.6L333.9 272.4L334.6 271.2ZM341.8 272.6L340.1 272.4L340.8 271.2ZM348.0 272.7L346.2 272.4L347.0 271.2ZM354.1 272.7L352.4 272.4L353.2 271.2ZM360.3 272.8L358.6 272.4L359.4 271.2ZM366.5 272.8L364.8 272.4L365.6 271.3ZM370.8 271.0L369.4 270.8L370.0 269.8ZM377.2 271.0L375.7 270.8L376.4 269.8ZM383.5 271.0L382.1 270.8L382.7 269.8ZM388.4 269.6L388.0 269.8L388.0 269.5ZM394.7 269.6L394.3 269.8L394.3 269.5ZM401.1 269.6L400.7 269.8L400.7 269.5ZM407.4 269.6L407.0 269.8L407.0 269.5ZM413.7 269.6L413.3 269.8L413.3 269.5ZM420.0 269.6L419.6 269.8L419.6 269.5ZM426.4 269.6L426.0 269.8L426.0 269.5ZM432.7 269.6L432.3 269.8L432.3 269.5ZM439.0 269.6L438.6 269.8L438.6 269.5ZM445.3 269.6L444.9 269.8L444.9 269.5ZM451.7 269.6L451.3 269.8L451.3 269.5ZM458.0 269.6L457.6 269.8L457.6 269.5ZM268.6 289.1L267.9 289.2L268.1 288.7ZM274.9 289.1L274.3 289.2L274.4 288.7ZM281.3 289.1L280.6 289.2L280.7 288.7ZM287.6 289.1L286.9 289.2L287.0 288.7ZM293.9 289.1L293.2 289.2L293.4 288.7ZM303.8 293.0L302.2 292.5L303.1 291.4ZM309.9 293.2L308.2 292.6L309.2 291.5ZM315.9 293.3L314.3 292.7L315.4 291.7ZM322.0 293.5L320.4 292.7L321.5 291.8ZM328.0 293.6L326.5 292.8L327.6 291.9ZM334.1 293.8L332.6 292.9L333.8 292.1ZM340.1 294.0L338.7 293.0L339.9 292.2ZM346.2 294.1L344.8 293.1L346.0 292.4ZM352.2 294.3L350.9 293.1L352.2 292.5ZM358.3 294.4L357.0 293.2L358.3 292.7ZM364.9 287.5L363.9 288.7L363.3 287.6ZM371.2 287.5L370.2 288.7L369.6 287.6ZM377.6 287.5L376.5 288.7L376.0 287.6ZM383.9 287.5L382.9 288.7L382.3 287.6ZM390.2 287.5L389.2 288.7L388.6 287.6ZM396.5 287.5L395.5 288.7L394.9 287.6ZM402.9 287.5L401.9 288.7L401.3 287.6ZM409.2 287.5L408.2 288.7L407.6 287.6ZM415.5 287.5L414.5 288.7L413.9 287.6ZM421.8 287.5L420.8 288.7L420.2 287.6ZM428.2 287.5L427.2 288.7L426.6 287.6ZM434.5 287.5L433.5 288.7L432.9 287.6ZM440.8 287.5L439.8 288.7L439.2 287.6ZM447.1 287.5L446.1 288.7L445.6 287.6ZM453.5 287.5L452.5 288.7L451.9 287.6ZM459.8 287.5L458.8 288.7L458.2 287.6ZM268.2 304.1L267.7 304.1L267.9 303.7ZM274.5 304.1L274.0 304.1L274.2 303.7ZM280.9 304.1L280.4 304.1L280.5 303.7ZM287.2 304.1L286.7 304.1L286.9 303.7ZM293.5 304.1L293.0 304.1L293.2 303.7ZM301.0 309.5L299.8 308.2L301.2 307.7ZM307.1 309.8L306.0 308.5L307.4 308.1ZM313.3 310.2L312.2 308.8L313.6 308.4ZM319.4 310.5L318.4 309.1L319.8 308.8ZM325.5 310.8L324.5 309.4L325.9 309.1ZM331.6 311.2L330.7 309.7L332.1 309.5ZM337.7 311.2L336.8 309.7L338.3 309.5ZM343.8 311.2L343.0 309.6L344.4 309.5ZM349.9 311.2L349.2 309.6L350.6 309.6ZM356.3 311.2L355.5 309.6L356.9 309.6ZM361.1 306.7L361.0 304.9L362.4 305.5ZM367.4 306.7L367.4 304.9L368.7 305.5ZM373.8 306.7L373.7 304.9L375.0 305.5ZM383.5 302.5L382.6 303.6L382.1 302.6ZM389.8 302.5L389.0 303.6L388.4 302.6ZM396.1 302.5L395.3 303.6L394.8 302.6ZM402.5 302.5L401.6 303.6L401.1 302.6ZM408.8 302.5L408.0 303.6L407.4 302.6ZM415.1 302.5L414.3 303.6L413.7 302.6ZM421.4 302.5L420.6 303.6L420.1 302.6ZM427.8 302.5L426.9 303.6L426.4 302.6ZM434.1 302.5L433.3 303.6L432.7 302.6ZM440.4 302.5L439.6 303.6L439.1 302.6ZM446.7 302.5L445.9 303.6L445.4 302.6ZM453.1 302.5L452.2 303.6L451.7 302.6ZM459.4 302.5L458.6 303.6L458.0 302.6ZM268.4 316.6L267.7 316.5L268.1 316.0ZM274.7 316.6L274.0 316.5L274.4 316.0ZM281.1 316.6L280.4 316.5L280.7 316.0ZM287.4 316.6L286.7 316.5L287.1 316.0ZM293.7 316.6L293.0 316.5L293.4 316.0ZM299.2 321.8L298.4 320.3L299.8 320.2ZM305.2 322.3L304.5 320.7L306.0 320.8ZM311.4 322.8L310.7 321.2L312.2 321.3ZM317.9 323.3L317.2 321.7L318.6 321.8ZM324.5 323.8L323.7 322.2L325.2 322.2ZM331.0 324.3L330.2 322.8L331.6 322.7ZM337.2 324.3L336.4 322.8L337.9 322.7ZM343.2 324.3L342.5 322.7L344.0 322.7ZM349.4 324.3L348.7 322.7L350.1 322.8ZM355.7 324.3L355.1 322.7L356.5 322.8ZM360.8 318.8L360.9 317.1L362.2 317.7ZM367.1 318.8L367.2 317.1L368.5 317.7ZM373.5 318.8L373.5 317.1L374.8 317.7ZM382.5 315.5L381.9 316.0L381.8 315.4ZM388.8 315.5L388.3 316.0L388.1 315.4ZM395.1 315.5L394.6 316.0L394.5 315.4ZM401.5 315.5L400.9 316.0L400.8 315.4ZM407.8 315.5L407.3 316.0L407.1 315.4ZM414.1 315.5L413.6 316.0L413.4 315.4ZM420.4 315.5L419.9 316.0L419.8 315.4ZM426.8 315.5L426.2 316.0L426.1 315.4ZM433.1 315.5L432.6 316.0L432.4 315.4ZM439.4 315.5L438.9 316.0L438.8 315.4ZM445.7 315.5L445.2 316.0L445.1 315.4ZM452.1 315.5L451.5 316.0L451.4 315.4ZM458.4 315.5L457.9 316.0L457.7 315.4ZM264.8 333.0L266.5 333.4L265.6 334.6ZM271.1 333.0L272.8 333.4L272.0 334.6ZM277.5 333.0L279.2 333.4L278.3 334.6ZM283.8 333.0L285.5 333.4L284.6 334.6ZM290.1 333.0L291.8 333.4L290.9 334.6ZM297.5 336.5L297.9 335.4L298.6 336.1ZM302.0 343.0L301.9 341.3L303.3 341.8ZM308.5 343.0L308.4 341.3L309.8 341.8ZM315.0 343.0L314.9 341.3L316.3 341.8ZM321.6 343.0L321.4 341.3L322.8 341.7ZM328.1 343.0L327.9 341.3L329.3 341.7ZM334.7 343.0L334.4 341.3L335.8 341.7ZM341.2 343.0L340.9 341.3L342.3 341.7ZM347.7 343.0L347.4 341.3L348.8 341.6ZM354.3 343.0L353.9 341.3L355.3 341.6ZM360.8 343.0L360.4 341.3L361.8 341.6ZM368.8 338.5L368.0 337.0L369.5 336.9ZM375.2 338.5L374.3 337.0L375.8 336.9ZM382.1 335.8L381.5 335.6L381.9 335.2ZM388.4 335.8L387.8 335.6L388.2 335.2ZM394.7 335.8L394.2 335.6L394.5 335.2ZM401.1 335.8L400.5 335.6L400.8 335.2ZM407.4 335.8L406.8 335.6L407.2 335.2ZM413.7 335.8L413.1 335.6L413.5 335.2ZM420.0 335.8L419.5 335.6L419.8 335.2ZM426.4 335.8L425.8 335.6L426.1 335.2ZM432.7 335.8L432.1 335.6L432.5 335.2ZM439.2 335.3L438.7 335.4L438.8 334.9ZM445.5 335.3L445.0 335.4L445.1 334.9ZM451.9 335.3L451.3 335.4L451.4 334.9ZM458.2 335.3L457.6 335.4L457.8 334.9ZM264.4 347.5L266.1 347.9L265.2 349.1ZM270.7 347.5L272.4 347.9L271.5 349.1ZM277.1 347.5L278.8 347.9L277.9 349.1ZM283.4 347.5L285.1 347.9L284.2 349.1ZM289.7 347.5L291.4 347.9L290.5 349.1ZM297.5 351.4L297.9 350.3L298.6 351.0ZM301.4 356.9L301.6 355.1L302.8 355.9ZM308.0 356.9L308.1 355.1L309.4 355.8ZM314.5 356.9L314.6 355.1L315.9 355.8ZM321.1 356.9L321.1 355.1L322.4 355.7ZM327.7 356.9L327.7 355.1L329.0 355.7ZM334.3 356.9L334.2 355.1L335.5 355.7ZM340.8 356.9L340.7 355.1L342.0 355.6ZM347.4 356.9L347.2 355.1L348.6 355.6ZM354.0 356.9L353.7 355.2L355.1 355.6ZM360.5 356.9L360.2 355.2L361.6 355.5ZM369.4 350.1L369.0 350.2L369.1 349.8ZM375.8 350.1L375.3 350.2L375.4 349.8ZM382.1 350.1L381.6 350.2L381.7 349.8ZM388.4 350.1L388.0 350.2L388.1 349.8ZM394.4 351.9L393.7 351.0L394.6 350.8ZM400.8 351.9L400.1 351.0L401.0 350.8ZM407.1 351.9L406.4 351.0L407.3 350.8ZM413.4 351.9L412.7 351.0L413.6 350.8ZM419.7 351.9L419.0 351.0L419.9 350.8ZM426.1 351.9L425.4 351.0L426.3 350.8ZM433.4 349.4L432.8 350.0L432.5 349.3ZM439.7 349.4L439.1 350.0L438.9 349.3ZM446.0 349.4L445.4 350.0L445.2 349.3ZM452.4 349.4L451.7 350.0L451.5 349.3ZM458.7 349.4L458.1 350.0L457.8 349.3ZM264.0 359.2L265.7 359.7L264.8 360.8ZM270.3 359.2L272.0 359.7L271.1 360.8ZM276.7 359.2L278.3 359.7L277.4 360.8ZM283.0 359.2L284.7 359.7L283.8 360.8ZM289.3 359.2L291.0 359.7L290.1 360.8ZM297.5 363.5L297.9 362.5L298.6 363.1ZM300.8 368.0L301.2 366.3L302.4 367.2ZM307.4 368.0L307.8 366.3L309.0 367.2ZM314.1 368.0L314.3 366.3L315.5 367.1ZM320.7 368.0L320.9 366.3L322.1 367.1ZM327.3 368.0L327.4 366.3L328.7 367.0ZM333.9 368.0L334.0 366.3L335.3 367.0ZM340.5 368.0L340.5 366.3L341.8 366.9ZM347.1 368.0L347.1 366.3L348.4 366.9ZM353.7 368.0L353.6 366.3L354.9 366.8ZM360.3 368.0L360.1 366.3L361.5 366.8ZM369.4 362.6L368.9 362.5L369.2 362.2ZM375.8 362.6L375.2 362.5L375.5 362.2ZM382.1 362.6L381.5 362.5L381.8 362.2ZM388.4 362.6L387.9 362.5L388.1 362.2ZM394.7 362.6L394.2 362.5L394.5 362.2ZM401.3 364.2L400.3 363.4L401.3 362.9ZM407.6 364.2L406.6 363.4L407.6 362.9ZM413.9 364.2L412.9 363.4L413.9 362.9ZM420.2 364.2L419.2 363.4L420.2 362.9ZM426.6 363.5L425.7 363.0L426.4 362.6ZM432.9 363.5L432.1 363.0L432.7 362.6ZM439.2 363.5L438.4 363.0L439.1 362.6ZM445.5 363.5L444.7 363.0L445.4 362.6ZM451.9 363.5L451.0 363.0L451.7 362.6ZM458.2 363.5L457.4 363.0L458.0 362.6ZM263.8 369.3L265.5 369.8L264.6 370.9ZM270.1 369.3L271.8 369.8L270.9 370.9ZM276.5 369.3L278.1 369.8L277.2 370.9ZM282.8 369.3L284.5 369.8L283.5 370.9ZM289.1 369.3L290.8 369.8L289.9 370.9ZM297.5 373.8L297.9 372.7L298.6 373.4ZM300.3 376.8L301.0 375.2L302.0 376.3ZM306.9 376.8L307.6 375.2L308.6 376.2ZM313.6 376.8L314.2 375.2L315.2 376.2ZM320.2 376.8L320.8 375.2L321.8 376.1ZM326.8 376.8L327.3 375.1L328.4 376.1ZM333.5 376.8L333.9 375.1L335.0 376.0ZM340.1 376.8L340.5 375.1L341.6 375.9ZM346.8 376.8L347.0 375.1L348.2 375.9ZM353.4 376.8L353.6 375.1L354.8 375.8ZM360.0 376.8L360.1 375.1L361.4 375.7ZM369.4 372.9L368.9 372.8L369.2 372.4ZM375.8 372.9L375.2 372.8L375.5 372.4ZM382.1 372.9L381.5 372.8L381.8 372.4ZM388.4 372.9L387.9 372.8L388.1 372.4ZM394.7 372.9L394.2 372.8L394.5 372.4ZM401.3 374.5L400.3 373.6L401.3 373.2ZM407.6 374.5L406.6 373.6L407.6 373.2ZM413.9 374.5L412.9 373.6L413.9 373.2ZM420.2 374.5L419.2 373.6L420.2 373.2ZM426.6 373.8L425.7 373.3L426.4 372.8ZM432.9 373.8L432.1 373.3L432.7 372.8ZM439.2 373.8L438.4 373.3L439.1 372.8ZM445.5 373.8L444.7 373.3L445.4 372.8ZM451.9 373.8L451.0 373.3L451.7 372.8ZM458.2 373.8L457.4 373.3L458.0 372.8ZM261.9 380.3L263.6 380.8L262.6 381.9ZM268.2 380.3L269.9 380.8L268.9 381.9ZM274.6 380.3L276.2 380.8L275.3 381.9ZM280.9 380.3L282.5 380.8L281.6 381.9ZM287.2 380.3L288.9 380.8L287.9 381.9ZM293.0 390.3L293.8 388.7L294.7 389.8ZM299.4 390.3L300.1 388.7L301.1 389.8ZM305.7 390.3L306.5 388.7L307.4 389.8ZM312.0 390.3L312.8 388.7L313.7 389.8ZM318.3 390.3L319.1 388.7L320.0 389.8ZM325.7 385.7L327.2 384.8L327.3 386.3ZM332.0 385.7L333.5 384.8L333.6 386.3ZM338.3 385.7L339.9 384.8L340.0 386.3ZM344.6 385.7L346.2 384.8L346.3 386.3ZM351.0 385.7L352.5 384.8L352.6 386.3ZM360.7 388.3L360.8 386.5L362.1 387.2ZM367.0 388.3L367.1 386.5L368.4 387.2ZM373.4 388.3L373.5 386.5L374.7 387.2ZM379.7 388.3L379.8 386.5L381.1 387.2ZM386.0 388.3L386.1 386.5L387.4 387.2ZM392.3 388.3L392.5 386.5L393.7 387.2ZM398.7 388.3L398.8 386.5L400.0 387.2ZM405.0 388.3L405.1 386.5L406.4 387.2ZM411.3 388.3L411.4 386.5L412.7 387.2ZM417.6 388.3L417.8 386.5L419.0 387.2ZM424.0 388.3L424.1 386.5L425.4 387.2ZM430.3 388.3L430.4 386.5L431.7 387.2ZM436.6 388.3L436.7 386.5L438.0 387.2ZM442.9 388.3L443.1 386.5L444.3 387.2ZM449.3 388.3L449.4 386.5L450.7 387.2ZM455.6 388.3L455.7 386.5L457.0 387.2ZM261.9 387.4L263.6 387.7L262.9 388.9ZM268.2 387.4L270.0 387.7L269.2 388.9ZM274.6 387.4L276.3 387.7L275.5 388.9ZM280.9 387.4L282.6 387.7L281.8 388.9ZM287.2 387.4L288.9 387.7L288.2 388.9ZM294.0 393.9L295.0 392.5L295.8 393.7ZM300.4 393.9L301.4 392.5L302.1 393.7ZM306.7 393.9L307.7 392.5L308.4 393.7ZM313.0 393.9L314.0 392.5L314.8 393.7ZM319.3 393.9L320.3 392.5L321.1 393.7ZM325.7 390.9L327.3 390.2L327.3 391.6ZM332.0 390.9L333.6 390.2L333.6 391.6ZM338.3 390.9L339.9 390.2L339.9 391.6ZM344.6 390.9L346.2 390.2L346.2 391.6ZM351.0 390.9L352.6 390.2L352.6 391.6ZM360.5 393.9L360.7 392.2L361.9 392.9ZM366.8 393.9L367.0 392.2L368.3 392.9ZM373.2 393.9L373.4 392.2L374.6 392.9ZM379.5 393.9L379.7 392.2L380.9 392.9ZM385.8 393.9L386.0 392.2L387.2 392.9ZM392.1 393.9L392.3 392.2L393.6 392.9ZM398.5 393.9L398.7 392.2L399.9 392.9ZM404.8 393.9L405.0 392.2L406.2 392.9ZM411.1 393.9L411.3 392.2L412.6 392.9ZM417.4 393.9L417.6 392.2L418.9 392.9ZM423.8 393.9L424.0 392.2L425.2 392.9ZM430.1 393.9L430.3 392.2L431.5 392.9ZM436.4 393.9L436.6 392.2L437.9 392.9ZM442.7 393.9L443.0 392.2L444.2 392.9ZM449.1 393.9L449.3 392.2L450.5 392.9ZM455.4 393.9L455.6 392.2L456.8 392.9ZM270.4 396.1L268.9 396.8L268.9 395.4ZM276.7 396.1L275.2 396.8L275.2 395.4ZM283.1 396.1L281.6 396.8L281.6 395.4ZM289.4 396.1L287.9 396.8L287.9 395.4ZM295.7 396.1L294.2 396.8L294.2 395.4ZM302.0 396.1L300.5 396.8L300.5 395.4ZM308.4 396.1L306.9 396.8L306.9 395.4ZM314.7 396.1L313.2 396.8L313.2 395.4ZM321.0 396.1L319.5 396.8L319.5 395.4ZM327.3 396.1L325.8 396.8L325.8 395.4ZM333.7 396.1L332.2 396.8L332.2 395.4ZM340.0 396.1L338.5 396.8L338.5 395.4ZM346.3 396.1L344.8 396.8L344.8 395.4ZM352.6 396.1L351.1 396.8L351.1 395.4ZM359.0 396.1L357.5 396.8L357.5 395.4ZM365.3 396.1L363.8 396.8L363.8 395.4ZM371.6 396.1L370.1 396.8L370.1 395.4ZM378.0 396.1L376.5 396.8L376.5 395.4ZM384.3 396.1L382.8 396.8L382.8 395.4ZM390.6 396.1L389.1 396.8L389.1 395.4ZM396.9 396.1L395.4 396.8L395.4 395.4ZM403.3 396.1L401.8 396.8L401.8 395.4ZM409.6 396.1L408.1 396.8L408.1 395.4ZM415.9 396.1L414.4 396.8L414.4 395.4ZM422.2 396.1L420.7 396.8L420.7 395.4ZM428.6 396.1L427.1 396.8L427.1 395.4ZM434.9 396.1L433.4 396.8L433.4 395.4ZM441.2 396.1L439.7 396.8L439.7 395.4ZM447.5 396.1L446.0 396.8L446.0 395.4ZM453.9 396.1L452.4 396.8L452.4 395.4ZM460.2 396.1L458.7 396.8L458.7 395.4Z" fill="#111" fill-opacity="0.9"/></g>
<g clip-path="url(#cb2)"><path d="M494.4 242.6L497.4 242.6M500.7 242.6L503.7 242.6M507.1 242.6L510.1 242.6M513.4 242.6L516.4 242.6M519.7 242.6L522.7 242.6M526.0 242.6L529.0 242.6M532.4 242.6L535.4 242.6M538.7 242.6L541.7 242.6M545.0 242.6L548.0 242.6M551.3 242.6L554.3 242.6M557.7 242.6L560.7 242.6M564.0 242.6L567.0 242.6M570.3 242.6L573.3 242.6M576.6 242.6L579.6 242.6M583.0 242.6L586.0 242.6M589.3 242.6L592.3 242.6M595.6 242.6L598.6 242.6M602.0 242.6L605.0 242.6M608.3 242.6L611.3 242.6M614.6 242.6L617.6 242.6M620.9 242.6L623.9 242.6M627.3 242.6L630.3 242.6M633.6 242.6L636.6 242.6M639.9 242.6L642.9 242.6M646.2 242.6L649.2 242.6M652.6 242.6L655.6 242.6M658.9 242.6L661.9 242.6M665.2 242.6L668.2 242.6M671.5 242.6L674.5 242.6M677.9 242.6L680.9 242.6M684.2 242.6L687.2 242.6M494.4 269.6L500.0 270.1M500.7 269.6L506.3 270.1M507.1 269.6L512.7 270.1M513.4 269.6L519.0 270.1M519.7 269.6L525.3 270.1M526.0 269.6L531.8 272.4M532.4 269.6L538.0 272.5M538.7 269.6L544.2 272.5M545.0 269.6L550.3 272.5M551.3 269.6L556.5 272.6M557.7 269.6L562.6 272.6M564.0 269.6L568.8 272.6M570.3 269.6L575.0 272.7M576.6 269.6L581.1 272.7M583.0 269.6L587.3 272.8M589.3 269.6L593.5 272.8M595.6 269.6L597.8 271.0M602.0 269.6L604.2 271.0M608.3 269.6L610.5 271.0M614.6 269.6L615.4 269.6M620.9 269.6L621.7 269.6M627.3 269.6L628.1 269.6M633.6 269.6L634.4 269.6M639.9 269.6L640.7 269.6M646.2 269.6L647.0 269.6M652.6 269.6L653.4 269.6M658.9 269.6L659.7 269.6M665.2 269.6L666.0 269.6M671.5 269.6L672.3 269.6M677.9 269.6L678.7 269.6M684.2 269.6L685.0 269.6M494.4 288.8L495.6 289.1M500.7 288.8L501.9 289.1M507.1 288.8L508.3 289.1M513.4 288.8L514.6 289.1M519.7 288.8L520.9 289.1M526.0 288.8L530.8 293.0M532.4 288.8L536.9 293.2M538.7 288.8L542.9 293.3M545.0 288.8L549.0 293.5M551.3 288.8L555.0 293.6M557.7 288.8L561.1 293.8M564.0 288.8L567.1 294.0M570.3 288.8L573.2 294.1M576.6 288.8L579.2 294.3M583.0 288.8L585.3 294.4M589.3 288.8L591.9 287.5M595.6 288.8L598.2 287.5M602.0 288.8L604.6 287.5M608.3 288.8L610.9 287.5M614.6 288.8L617.2 287.5M620.9 288.8L623.5 287.5M627.3 288.8L629.9 287.5M633.6 288.8L636.2 287.5M639.9 288.8L642.5 287.5M646.2 288.8L648.8 287.5M652.6 288.8L655.2 287.5M658.9 288.8L661.5 287.5M665.2 288.8L667.8 287.5M671.5 288.8L674.1 287.5M677.9 288.8L680.5 287.5M684.2 288.8L686.8 287.5M494.4 303.7L495.2 304.1M500.7 303.7L501.5 304.1M507.1 303.7L507.9 304.1M513.4 303.7L514.2 304.1M519.7 303.7L520.5 304.1M526.0 303.7L528.0 309.5M532.4 303.7L534.1 309.8M538.7 303.7L540.3 310.2M545.0 303.7L546.4 310.5M551.3 303.7L552.5 310.8M557.7 303.7L558.6 311.2M564.0 303.7L564.7 311.2M570.3 303.7L570.8 311.2M576.6 303.7L576.9 311.2M583.0 303.7L583.3 311.2M589.3 303.7L588.1 306.7M595.6 303.7L594.4 306.7M602.0 303.7L600.8 306.7M608.3 303.7L610.5 302.5M614.6 303.7L616.8 302.5M620.9 303.7L623.1 302.5M627.3 303.7L629.5 302.5M633.6 303.7L635.8 302.5M639.9 303.7L642.1 302.5M646.2 303.7L648.4 302.5M652.6 303.7L654.8 302.5M658.9 303.7L661.1 302.5M665.2 303.7L667.4 302.5M671.5 303.7L673.7 302.5M677.9 303.7L680.1 302.5M684.2 303.7L686.4 302.5M494.4 315.8L495.4 316.6M500.7 315.8L501.7 316.6M507.1 315.8L508.1 316.6M513.4 315.8L514.4 316.6M519.7 315.8L520.7 316.6M526.0 315.8L526.2 321.8M532.4 315.8L532.2 322.3M538.7 315.8L538.4 322.8M545.0 315.8L544.9 323.3M551.3 315.8L551.5 323.8M557.7 315.8L558.0 324.3M564.0 315.8L564.2 324.3M570.3 315.8L570.2 324.3M576.6 315.8L576.4 324.3M583.0 315.8L582.7 324.3M589.3 315.8L587.8 318.8M595.6 315.8L594.1 318.8M602.0 315.8L600.5 318.8M608.3 315.8L609.5 315.5M614.6 315.8L615.8 315.5M620.9 315.8L622.1 315.5M627.3 315.8L628.5 315.5M633.6 315.8L634.8 315.5M639.9 315.8L641.1 315.5M646.2 315.8L647.4 315.5M652.6 315.8L653.8 315.5M658.9 315.8L660.1 315.5M665.2 315.8L666.4 315.5M671.5 315.8L672.7 315.5M677.9 315.8L679.1 315.5M684.2 315.8L685.4 315.5M494.4 335.0L491.8 333.0M500.7 335.0L498.1 333.0M507.1 335.0L504.5 333.0M513.4 335.0L510.8 333.0M519.7 335.0L517.1 333.0M526.0 335.0L524.5 336.5M532.4 335.0L529.0 343.0M538.7 335.0L535.5 343.0M545.0 335.0L542.0 343.0M551.3 335.0L548.6 343.0M557.7 335.0L555.1 343.0M564.0 335.0L561.7 343.0M570.3 335.0L568.2 343.0M576.6 335.0L574.7 343.0M583.0 335.0L581.3 343.0M589.3 335.0L587.8 343.0M595.6 335.0L595.8 338.5M602.0 335.0L602.2 338.5M608.3 335.0L609.1 335.8M614.6 335.0L615.4 335.8M620.9 335.0L621.7 335.8M627.3 335.0L628.1 335.8M633.6 335.0L634.4 335.8M639.9 335.0L640.7 335.8M646.2 335.0L647.0 335.8M652.6 335.0L653.4 335.8M658.9 335.0L659.7 335.8M665.2 335.0L666.2 335.3M671.5 335.0L672.5 335.3M677.9 335.0L678.9 335.3M684.2 335.0L685.2 335.3M494.4 349.9L491.4 347.5M500.7 349.9L497.7 347.5M507.1 349.9L504.1 347.5M513.4 349.9L510.4 347.5M519.7 349.9L516.7 347.5M526.0 349.9L524.5 351.4M532.4 349.9L528.4 356.9M538.7 349.9L535.0 356.9M545.0 349.9L541.5 356.9M551.3 349.9L548.1 356.9M557.7 349.9L554.7 356.9M564.0 349.9L561.3 356.9M570.3 349.9L567.8 356.9M576.6 349.9L574.4 356.9M583.0 349.9L581.0 356.9M589.3 349.9L587.5 356.9M595.6 349.9L596.4 350.1M602.0 349.9L602.8 350.1M608.3 349.9L609.1 350.1M614.6 349.9L615.4 350.1M620.9 349.9L621.4 351.9M627.3 349.9L627.8 351.9M633.6 349.9L634.1 351.9M639.9 349.9L640.4 351.9M646.2 349.9L646.7 351.9M652.6 349.9L653.1 351.9M658.9 349.9L660.4 349.4M665.2 349.9L666.7 349.4M671.5 349.9L673.0 349.4M677.9 349.9L679.4 349.4M684.2 349.9L685.7 349.4M494.4 362.0L491.0 359.2M500.7 362.0L497.3 359.2M507.1 362.0L503.7 359.2M513.4 362.0L510.0 359.2M519.7 362.0L516.3 359.2M526.0 362.0L524.5 363.5M532.4 362.0L527.8 368.0M538.7 362.0L534.4 368.0M545.0 362.0L541.1 368.0M551.3 362.0L547.7 368.0M557.7 362.0L554.3 368.0M564.0 362.0L560.9 368.0M570.3 362.0L567.5 368.0M576.6 362.0L574.1 368.0M583.0 362.0L580.7 368.0M589.3 362.0L587.3 368.0M595.6 362.0L596.4 362.6M602.0 362.0L602.8 362.6M608.3 362.0L609.1 362.6M614.6 362.0L615.4 362.6M620.9 362.0L621.7 362.6M627.3 362.0L628.3 364.2M633.6 362.0L634.6 364.2M639.9 362.0L640.9 364.2M646.2 362.0L647.2 364.2M652.6 362.0L653.6 363.5M658.9 362.0L659.9 363.5M665.2 362.0L666.2 363.5M671.5 362.0L672.5 363.5M677.9 362.0L678.9 363.5M684.2 362.0L685.2 363.5M494.4 372.3L490.8 369.3M500.7 372.3L497.1 369.3M507.1 372.3L503.5 369.3M513.4 372.3L509.8 369.3M519.7 372.3L516.1 369.3M526.0 372.3L524.5 373.8M532.4 372.3L527.3 376.8M538.7 372.3L533.9 376.8M545.0 372.3L540.6 376.8M551.3 372.3L547.2 376.8M557.7 372.3L553.8 376.8M564.0 372.3L560.5 376.8M570.3 372.3L567.1 376.8M576.6 372.3L573.8 376.8M583.0 372.3L580.4 376.8M589.3 372.3L587.0 376.8M595.6 372.3L596.4 372.9M602.0 372.3L602.8 372.9M608.3 372.3L609.1 372.9M614.6 372.3L615.4 372.9M620.9 372.3L621.7 372.9M627.3 372.3L628.3 374.5M633.6 372.3L634.6 374.5M639.9 372.3L640.9 374.5M646.2 372.3L647.2 374.5M652.6 372.3L653.6 373.8M658.9 372.3L659.9 373.8M665.2 372.3L666.2 373.8M671.5 372.3L672.5 373.8M677.9 372.3L678.9 373.8M684.2 372.3L685.2 373.8M494.4 385.3L488.9 380.3M500.7 385.3L495.2 380.3M507.1 385.3L501.6 380.3M513.4 385.3L507.9 380.3M519.7 385.3L514.2 380.3M526.0 385.3L520.0 390.3M532.4 385.3L526.4 390.3M538.7 385.3L532.7 390.3M545.0 385.3L539.0 390.3M551.3 385.3L545.3 390.3M557.7 385.3L552.7 385.7M564.0 385.3L559.0 385.7M570.3 385.3L565.3 385.7M576.6 385.3L571.6 385.7M583.0 385.3L578.0 385.7M589.3 385.3L587.7 388.3M595.6 385.3L594.0 388.3M602.0 385.3L600.4 388.3M608.3 385.3L606.7 388.3M614.6 385.3L613.0 388.3M620.9 385.3L619.3 388.3M627.3 385.3L625.7 388.3M633.6 385.3L632.0 388.3M639.9 385.3L638.3 388.3M646.2 385.3L644.6 388.3M652.6 385.3L651.0 388.3M658.9 385.3L657.3 388.3M665.2 385.3L663.6 388.3M671.5 385.3L669.9 388.3M677.9 385.3L676.3 388.3M684.2 385.3L682.6 388.3M494.4 390.9L488.9 387.4M500.7 390.9L495.2 387.4M507.1 390.9L501.6 387.4M513.4 390.9L507.9 387.4M519.7 390.9L514.2 387.4M526.0 390.9L521.0 393.9M532.4 390.9L527.4 393.9M538.7 390.9L533.7 393.9M545.0 390.9L540.0 393.9M551.3 390.9L546.3 393.9M557.7 390.9L552.7 390.9M564.0 390.9L559.0 390.9M570.3 390.9L565.3 390.9M576.6 390.9L571.6 390.9M583.0 390.9L578.0 390.9M589.3 390.9L587.5 393.9M595.6 390.9L593.8 393.9M602.0 390.9L600.2 393.9M608.3 390.9L606.5 393.9M614.6 390.9L612.8 393.9M620.9 390.9L619.1 393.9M627.3 390.9L625.5 393.9M633.6 390.9L631.8 393.9M639.9 390.9L638.1 393.9M646.2 390.9L644.4 393.9M652.6 390.9L650.8 393.9M658.9 390.9L657.1 393.9M665.2 390.9L663.4 393.9M671.5 390.9L669.7 393.9M677.9 390.9L676.1 393.9M684.2 390.9L682.4 393.9M494.4 396.1L497.4 396.1M500.7 396.1L503.7 396.1M507.1 396.1L510.1 396.1M513.4 396.1L516.4 396.1M519.7 396.1L522.7 396.1M526.0 396.1L529.0 396.1M532.4 396.1L535.4 396.1M538.7 396.1L541.7 396.1M545.0 396.1L548.0 396.1M551.3 396.1L554.3 396.1M557.7 396.1L560.7 396.1M564.0 396.1L567.0 396.1M570.3 396.1L573.3 396.1M576.6 396.1L579.6 396.1M583.0 396.1L586.0 396.1M589.3 396.1L592.3 396.1M595.6 396.1L598.6 396.1M602.0 396.1L605.0 396.1M608.3 396.1L611.3 396.1M614.6 396.1L617.6 396.1M620.9 396.1L623.9 396.1M627.3 396.1L630.3 396.1M633.6 396.1L636.6 396.1M639.9 396.1L642.9 396.1M646.2 396.1L649.2 396.1M652.6 396.1L655.6 396.1M658.9 396.1L661.9 396.1M665.2 396.1L668.2 396.1M671.5 396.1L674.5 396.1M677.9 396.1L680.9 396.1M684.2 396.1L687.2 396.1" stroke="#111" stroke-width="0.72" fill="none" stroke-opacity="0.9"/><path d="M497.4 242.6L495.9 243.3L495.9 241.9ZM503.7 242.6L502.2 243.3L502.2 241.9ZM510.1 242.6L508.6 243.3L508.6 241.9ZM516.4 242.6L514.9 243.3L514.9 241.9ZM522.7 242.6L521.2 243.3L521.2 241.9ZM529.0 242.6L527.5 243.3L527.5 241.9ZM535.4 242.6L533.9 243.3L533.9 241.9ZM541.7 242.6L540.2 243.3L540.2 241.9ZM548.0 242.6L546.5 243.3L546.5 241.9ZM554.3 242.6L552.8 243.3L552.8 241.9ZM560.7 242.6L559.2 243.3L559.2 241.9ZM567.0 242.6L565.5 243.3L565.5 241.9ZM573.3 242.6L571.8 243.3L571.8 241.9ZM579.6 242.6L578.1 243.3L578.1 241.9ZM586.0 242.6L584.5 243.3L584.5 241.9ZM592.3 242.6L590.8 243.3L590.8 241.9ZM598.6 242.6L597.1 243.3L597.1 241.9ZM605.0 242.6L603.5 243.3L603.5 241.9ZM611.3 242.6L609.8 243.3L609.8 241.9ZM617.6 242.6L616.1 243.3L616.1 241.9ZM623.9 242.6L622.4 243.3L622.4 241.9ZM630.3 242.6L628.8 243.3L628.8 241.9ZM636.6 242.6L635.1 243.3L635.1 241.9ZM642.9 242.6L641.4 243.3L641.4 241.9ZM649.2 242.6L647.7 243.3L647.7 241.9ZM655.6 242.6L654.1 243.3L654.1 241.9ZM661.9 242.6L660.4 243.3L660.4 241.9ZM668.2 242.6L666.7 243.3L666.7 241.9ZM674.5 242.6L673.0 243.3L673.0 241.9ZM680.9 242.6L679.4 243.3L679.4 241.9ZM687.2 242.6L685.7 243.3L685.7 241.9ZM500.0 270.1L498.3 270.7L498.5 269.3ZM506.3 270.1L504.7 270.7L504.8 269.3ZM512.7 270.1L511.0 270.7L511.1 269.3ZM519.0 270.1L517.3 270.7L517.5 269.3ZM525.3 270.1L523.6 270.7L523.8 269.3ZM531.8 272.4L530.1 272.4L530.7 271.1ZM538.0 272.5L536.2 272.4L536.9 271.1ZM544.2 272.5L542.4 272.4L543.1 271.1ZM550.3 272.5L548.6 272.4L549.3 271.1ZM556.5 272.6L554.7 272.4L555.5 271.2ZM562.6 272.6L560.9 272.4L561.6 271.2ZM568.8 272.6L567.1 272.4L567.8 271.2ZM575.0 272.7L573.2 272.4L574.0 271.2ZM581.1 272.7L579.4 272.4L580.2 271.2ZM587.3 272.8L585.6 272.4L586.4 271.2ZM593.5 272.8L591.8 272.4L592.6 271.3ZM597.8 271.0L596.4 270.8L597.0 269.8ZM604.2 271.0L602.7 270.8L603.4 269.8ZM610.5 271.0L609.1 270.8L609.7 269.8ZM615.4 269.6L615.0 269.8L615.0 269.5ZM621.7 269.6L621.3 269.8L621.3 269.5ZM628.1 269.6L627.7 269.8L627.7 269.5ZM634.4 269.6L634.0 269.8L634.0 269.5ZM640.7 269.6L640.3 269.8L640.3 269.5ZM647.0 269.6L646.6 269.8L646.6 269.5ZM653.4 269.6L653.0 269.8L653.0 269.5ZM659.7 269.6L659.3 269.8L659.3 269.5ZM666.0 269.6L665.6 269.8L665.6 269.5ZM672.3 269.6L671.9 269.8L671.9 269.5ZM678.7 269.6L678.3 269.8L678.3 269.5ZM685.0 269.6L684.6 269.8L684.6 269.5ZM495.6 289.1L494.9 289.2L495.1 288.7ZM501.9 289.1L501.3 289.2L501.4 288.7ZM508.3 289.1L507.6 289.2L507.7 288.7ZM514.6 289.1L513.9 289.2L514.0 288.7ZM520.9 289.1L520.2 289.2L520.4 288.7ZM530.8 293.0L529.2 292.5L530.1 291.4ZM536.9 293.2L535.2 292.6L536.2 291.5ZM542.9 293.3L541.3 292.7L542.4 291.7ZM549.0 293.5L547.4 292.7L548.5 291.8ZM555.0 293.6L553.5 292.8L554.6 291.9ZM561.1 293.8L559.6 292.9L560.8 292.1ZM567.1 294.0L565.7 293.0L566.9 292.2ZM573.2 294.1L571.8 293.1L573.0 292.4ZM579.2 294.3L577.9 293.1L579.2 292.5ZM585.3 294.4L584.0 293.2L585.3 292.7ZM591.9 287.5L590.9 288.7L590.3 287.6ZM598.2 287.5L597.2 288.7L596.6 287.6ZM604.6 287.5L603.5 288.7L603.0 287.6ZM610.9 287.5L609.9 288.7L609.3 287.6ZM617.2 287.5L616.2 288.7L615.6 287.6ZM623.5 287.5L622.5 288.7L621.9 287.6ZM629.9 287.5L628.9 288.7L628.3 287.6ZM636.2 287.5L635.2 288.7L634.6 287.6ZM642.5 287.5L641.5 288.7L640.9 287.6ZM648.8 287.5L647.8 288.7L647.2 287.6ZM655.2 287.5L654.2 288.7L653.6 287.6ZM661.5 287.5L660.5 288.7L659.9 287.6ZM667.8 287.5L666.8 288.7L666.2 287.6ZM674.1 287.5L673.1 288.7L672.6 287.6ZM680.5 287.5L679.5 288.7L678.9 287.6ZM686.8 287.5L685.8 288.7L685.2 287.6ZM495.2 304.1L494.7 304.1L494.9 303.7ZM501.5 304.1L501.0 304.1L501.2 303.7ZM507.9 304.1L507.4 304.1L507.5 303.7ZM514.2 304.1L513.7 304.1L513.9 303.7ZM520.5 304.1L520.0 304.1L520.2 303.7ZM528.0 309.5L526.8 308.2L528.2 307.7ZM534.1 309.8L533.0 308.5L534.4 308.1ZM540.3 310.2L539.2 308.8L540.6 308.4ZM546.4 310.5L545.4 309.1L546.8 308.8ZM552.5 310.8L551.5 309.4L552.9 309.1ZM558.6 311.2L557.7 309.7L559.1 309.5ZM564.7 311.2L563.8 309.7L565.3 309.5ZM570.8 311.2L570.0 309.6L571.4 309.5ZM576.9 311.2L576.2 309.6L577.6 309.6ZM583.3 311.2L582.5 309.6L583.9 309.6ZM588.1 306.7L588.0 304.9L589.4 305.5ZM594.4 306.7L594.4 304.9L595.7 305.5ZM600.8 306.7L600.7 304.9L602.0 305.5ZM610.5 302.5L609.6 303.6L609.1 302.6ZM616.8 302.5L616.0 303.6L615.4 302.6ZM623.1 302.5L622.3 303.6L621.8 302.6ZM629.5 302.5L628.6 303.6L628.1 302.6ZM635.8 302.5L635.0 303.6L634.4 302.6ZM642.1 302.5L641.3 303.6L640.7 302.6ZM648.4 302.5L647.6 303.6L647.1 302.6ZM654.8 302.5L653.9 303.6L653.4 302.6ZM661.1 302.5L660.3 303.6L659.7 302.6ZM667.4 302.5L666.6 303.6L666.1 302.6ZM673.7 302.5L672.9 303.6L672.4 302.6ZM680.1 302.5L679.2 303.6L678.7 302.6ZM686.4 302.5L685.6 303.6L685.0 302.6ZM495.4 316.6L494.7 316.5L495.1 316.0ZM501.7 316.6L501.0 316.5L501.4 316.0ZM508.1 316.6L507.4 316.5L507.7 316.0ZM514.4 316.6L513.7 316.5L514.1 316.0ZM520.7 316.6L520.0 316.5L520.4 316.0ZM526.2 321.8L525.4 320.3L526.8 320.2ZM532.2 322.3L531.5 320.7L533.0 320.8ZM538.4 322.8L537.7 321.2L539.2 321.3ZM544.9 323.3L544.2 321.7L545.6 321.8ZM551.5 323.8L550.7 322.2L552.2 322.2ZM558.0 324.3L557.2 322.8L558.6 322.7ZM564.2 324.3L563.4 322.8L564.9 322.7ZM570.2 324.3L569.5 322.7L571.0 322.7ZM576.4 324.3L575.7 322.7L577.1 322.8ZM582.7 324.3L582.1 322.7L583.5 322.8ZM587.8 318.8L587.9 317.1L589.2 317.7ZM594.1 318.8L594.2 317.1L595.5 317.7ZM600.5 318.8L600.5 317.1L601.8 317.7ZM609.5 315.5L608.9 316.0L608.8 315.4ZM615.8 315.5L615.3 316.0L615.1 315.4ZM622.1 315.5L621.6 316.0L621.5 315.4ZM628.5 315.5L627.9 316.0L627.8 315.4ZM634.8 315.5L634.3 316.0L634.1 315.4ZM641.1 315.5L640.6 316.0L640.4 315.4ZM647.4 315.5L646.9 316.0L646.8 315.4ZM653.8 315.5L653.2 316.0L653.1 315.4ZM660.1 315.5L659.6 316.0L659.4 315.4ZM666.4 315.5L665.9 316.0L665.8 315.4ZM672.7 315.5L672.2 316.0L672.1 315.4ZM679.1 315.5L678.5 316.0L678.4 315.4ZM685.4 315.5L684.9 316.0L684.7 315.4ZM491.8 333.0L493.5 333.4L492.6 334.6ZM498.1 333.0L499.8 333.4L499.0 334.6ZM504.5 333.0L506.2 333.4L505.3 334.6ZM510.8 333.0L512.5 333.4L511.6 334.6ZM517.1 333.0L518.8 333.4L517.9 334.6ZM524.5 336.5L524.9 335.4L525.6 336.1ZM529.0 343.0L528.9 341.3L530.3 341.8ZM535.5 343.0L535.4 341.3L536.8 341.8ZM542.0 343.0L541.9 341.3L543.3 341.8ZM548.6 343.0L548.4 341.3L549.8 341.7ZM555.1 343.0L554.9 341.3L556.3 341.7ZM561.7 343.0L561.4 341.3L562.8 341.7ZM568.2 343.0L567.9 341.3L569.3 341.7ZM574.7 343.0L574.4 341.3L575.8 341.6ZM581.3 343.0L580.9 341.3L582.3 341.6ZM587.8 343.0L587.4 341.3L588.8 341.6ZM595.8 338.5L595.0 337.0L596.5 336.9ZM602.2 338.5L601.3 337.0L602.8 336.9ZM609.1 335.8L608.5 335.6L608.9 335.2ZM615.4 335.8L614.8 335.6L615.2 335.2ZM621.7 335.8L621.2 335.6L621.5 335.2ZM628.1 335.8L627.5 335.6L627.8 335.2ZM634.4 335.8L633.8 335.6L634.2 335.2ZM640.7 335.8L640.1 335.6L640.5 335.2ZM647.0 335.8L646.5 335.6L646.8 335.2ZM653.4 335.8L652.8 335.6L653.1 335.2ZM659.7 335.8L659.1 335.6L659.5 335.2ZM666.2 335.3L665.7 335.4L665.8 334.9ZM672.5 335.3L672.0 335.4L672.1 334.9ZM678.9 335.3L678.3 335.4L678.4 334.9ZM685.2 335.3L684.6 335.4L684.8 334.9ZM491.4 347.5L493.1 347.9L492.2 349.1ZM497.7 347.5L499.4 347.9L498.5 349.1ZM504.1 347.5L505.8 347.9L504.9 349.1ZM510.4 347.5L512.1 347.9L511.2 349.1ZM516.7 347.5L518.4 347.9L517.5 349.1ZM524.5 351.4L524.9 350.3L525.6 351.0ZM528.4 356.9L528.6 355.1L529.8 355.9ZM535.0 356.9L535.1 355.1L536.4 355.8ZM541.5 356.9L541.6 355.1L542.9 355.8ZM548.1 356.9L548.1 355.1L549.4 355.7ZM554.7 356.9L554.7 355.1L556.0 355.7ZM561.3 356.9L561.2 355.1L562.5 355.7ZM567.8 356.9L567.7 355.1L569.0 355.6ZM574.4 356.9L574.2 355.1L575.6 355.6ZM581.0 356.9L580.7 355.2L582.1 355.6ZM587.5 356.9L587.2 355.2L588.6 355.5ZM596.4 350.1L596.0 350.2L596.1 349.8ZM602.8 350.1L602.3 350.2L602.4 349.8ZM609.1 350.1L608.6 350.2L608.7 349.8ZM615.4 350.1L615.0 350.2L615.1 349.8ZM621.4 351.9L620.7 351.0L621.6 350.8ZM627.8 351.9L627.1 351.0L628.0 350.8ZM634.1 351.9L633.4 351.0L634.3 350.8ZM640.4 351.9L639.7 351.0L640.6 350.8ZM646.7 351.9L646.0 351.0L646.9 350.8ZM653.1 351.9L652.4 351.0L653.3 350.8ZM660.4 349.4L659.8 350.0L659.5 349.3ZM666.7 349.4L666.1 350.0L665.9 349.3ZM673.0 349.4L672.4 350.0L672.2 349.3ZM679.4 349.4L678.7 350.0L678.5 349.3ZM685.7 349.4L685.1 350.0L684.8 349.3ZM491.0 359.2L492.7 359.7L491.8 360.8ZM497.3 359.2L499.0 359.7L498.1 360.8ZM503.7 359.2L505.3 359.7L504.4 360.8ZM510.0 359.2L511.7 359.7L510.8 360.8ZM516.3 359.2L518.0 359.7L517.1 360.8ZM524.5 363.5L524.9 362.5L525.6 363.1ZM527.8 368.0L528.2 366.3L529.4 367.2ZM534.4 368.0L534.8 366.3L536.0 367.2ZM541.1 368.0L541.3 366.3L542.5 367.1ZM547.7 368.0L547.9 366.3L549.1 367.1ZM554.3 368.0L554.4 366.3L555.7 367.0ZM560.9 368.0L561.0 366.3L562.3 367.0ZM567.5 368.0L567.5 366.3L568.8 366.9ZM574.1 368.0L574.1 366.3L575.4 366.9ZM580.7 368.0L580.6 366.3L581.9 366.8ZM587.3 368.0L587.1 366.3L588.5 366.8ZM596.4 362.6L595.9 362.5L596.2 362.2ZM602.8 362.6L602.2 362.5L602.5 362.2ZM609.1 362.6L608.5 362.5L608.8 362.2ZM615.4 362.6L614.9 362.5L615.1 362.2ZM621.7 362.6L621.2 362.5L621.5 362.2ZM628.3 364.2L627.3 363.4L628.3 362.9ZM634.6 364.2L633.6 363.4L634.6 362.9ZM640.9 364.2L639.9 363.4L640.9 362.9ZM647.2 364.2L646.2 363.4L647.2 362.9ZM653.6 363.5L652.7 363.0L653.4 362.6ZM659.9 363.5L659.1 363.0L659.7 362.6ZM666.2 363.5L665.4 363.0L666.1 362.6ZM672.5 363.5L671.7 363.0L672.4 362.6ZM678.9 363.5L678.0 363.0L678.7 362.6ZM685.2 363.5L684.4 363.0L685.0 362.6ZM490.8 369.3L492.5 369.8L491.6 370.9ZM497.1 369.3L498.8 369.8L497.9 370.9ZM503.5 369.3L505.1 369.8L504.2 370.9ZM509.8 369.3L511.5 369.8L510.5 370.9ZM516.1 369.3L517.8 369.8L516.9 370.9ZM524.5 373.8L524.9 372.7L525.6 373.4ZM527.3 376.8L528.0 375.2L529.0 376.3ZM533.9 376.8L534.6 375.2L535.6 376.2ZM540.6 376.8L541.2 375.2L542.2 376.2ZM547.2 376.8L547.8 375.2L548.8 376.1ZM553.8 376.8L554.3 375.1L555.4 376.1ZM560.5 376.8L560.9 375.1L562.0 376.0ZM567.1 376.8L567.5 375.1L568.6 375.9ZM573.8 376.8L574.0 375.1L575.2 375.9ZM580.4 376.8L580.6 375.1L581.8 375.8ZM587.0 376.8L587.1 375.1L588.4 375.7ZM596.4 372.9L595.9 372.8L596.2 372.4ZM602.8 372.9L602.2 372.8L602.5 372.4ZM609.1 372.9L608.5 372.8L608.8 372.4ZM615.4 372.9L614.9 372.8L615.1 372.4ZM621.7 372.9L621.2 372.8L621.5 372.4ZM628.3 374.5L627.3 373.6L628.3 373.2ZM634.6 374.5L633.6 373.6L634.6 373.2ZM640.9 374.5L639.9 373.6L640.9 373.2ZM647.2 374.5L646.2 373.6L647.2 373.2ZM653.6 373.8L652.7 373.3L653.4 372.8ZM659.9 373.8L659.1 373.3L659.7 372.8ZM666.2 373.8L665.4 373.3L666.1 372.8ZM672.5 373.8L671.7 373.3L672.4 372.8ZM678.9 373.8L678.0 373.3L678.7 372.8ZM685.2 373.8L684.4 373.3L685.0 372.8ZM488.9 380.3L490.6 380.8L489.6 381.9ZM495.2 380.3L496.9 380.8L495.9 381.9ZM501.6 380.3L503.2 380.8L502.3 381.9ZM507.9 380.3L509.5 380.8L508.6 381.9ZM514.2 380.3L515.9 380.8L514.9 381.9ZM520.0 390.3L520.8 388.7L521.7 389.8ZM526.4 390.3L527.1 388.7L528.1 389.8ZM532.7 390.3L533.5 388.7L534.4 389.8ZM539.0 390.3L539.8 388.7L540.7 389.8ZM545.3 390.3L546.1 388.7L547.0 389.8ZM552.7 385.7L554.2 384.8L554.3 386.3ZM559.0 385.7L560.5 384.8L560.6 386.3ZM565.3 385.7L566.9 384.8L567.0 386.3ZM571.6 385.7L573.2 384.8L573.3 386.3ZM578.0 385.7L579.5 384.8L579.6 386.3ZM587.7 388.3L587.8 386.5L589.1 387.2ZM594.0 388.3L594.1 386.5L595.4 387.2ZM600.4 388.3L600.5 386.5L601.7 387.2ZM606.7 388.3L606.8 386.5L608.1 387.2ZM613.0 388.3L613.1 386.5L614.4 387.2ZM619.3 388.3L619.5 386.5L620.7 387.2ZM625.7 388.3L625.8 386.5L627.0 387.2ZM632.0 388.3L632.1 386.5L633.4 387.2ZM638.3 388.3L638.4 386.5L639.7 387.2ZM644.6 388.3L644.8 386.5L646.0 387.2ZM651.0 388.3L651.1 386.5L652.4 387.2ZM657.3 388.3L657.4 386.5L658.7 387.2ZM663.6 388.3L663.7 386.5L665.0 387.2ZM669.9 388.3L670.1 386.5L671.3 387.2ZM676.3 388.3L676.4 386.5L677.7 387.2ZM682.6 388.3L682.7 386.5L684.0 387.2ZM488.9 387.4L490.6 387.7L489.9 388.9ZM495.2 387.4L497.0 387.7L496.2 388.9ZM501.6 387.4L503.3 387.7L502.5 388.9ZM507.9 387.4L509.6 387.7L508.8 388.9ZM514.2 387.4L515.9 387.7L515.2 388.9ZM521.0 393.9L522.0 392.5L522.8 393.7ZM527.4 393.9L528.4 392.5L529.1 393.7ZM533.7 393.9L534.7 392.5L535.4 393.7ZM540.0 393.9L541.0 392.5L541.8 393.7ZM546.3 393.9L547.3 392.5L548.1 393.7ZM552.7 390.9L554.3 390.2L554.3 391.6ZM559.0 390.9L560.6 390.2L560.6 391.6ZM565.3 390.9L566.9 390.2L566.9 391.6ZM571.6 390.9L573.2 390.2L573.2 391.6ZM578.0 390.9L579.6 390.2L579.6 391.6ZM587.5 393.9L587.7 392.2L588.9 392.9ZM593.8 393.9L594.0 392.2L595.3 392.9ZM600.2 393.9L600.4 392.2L601.6 392.9ZM606.5 393.9L606.7 392.2L607.9 392.9ZM612.8 393.9L613.0 392.2L614.2 392.9ZM619.1 393.9L619.3 392.2L620.6 392.9ZM625.5 393.9L625.7 392.2L626.9 392.9ZM631.8 393.9L632.0 392.2L633.2 392.9ZM638.1 393.9L638.3 392.2L639.6 392.9ZM644.4 393.9L644.6 392.2L645.9 392.9ZM650.8 393.9L651.0 392.2L652.2 392.9ZM657.1 393.9L657.3 392.2L658.5 392.9ZM663.4 393.9L663.6 392.2L664.9 392.9ZM669.7 393.9L670.0 392.2L671.2 392.9ZM676.1 393.9L676.3 392.2L677.5 392.9ZM682.4 393.9L682.6 392.2L683.8 392.9ZM497.4 396.1L495.9 396.8L495.9 395.4ZM503.7 396.1L502.2 396.8L502.2 395.4ZM510.1 396.1L508.6 396.8L508.6 395.4ZM516.4 396.1L514.9 396.8L514.9 395.4ZM522.7 396.1L521.2 396.8L521.2 395.4ZM529.0 396.1L527.5 396.8L527.5 395.4ZM535.4 396.1L533.9 396.8L533.9 395.4ZM541.7 396.1L540.2 396.8L540.2 395.4ZM548.0 396.1L546.5 396.8L546.5 395.4ZM554.3 396.1L552.8 396.8L552.8 395.4ZM560.7 396.1L559.2 396.8L559.2 395.4ZM567.0 396.1L565.5 396.8L565.5 395.4ZM573.3 396.1L571.8 396.8L571.8 395.4ZM579.6 396.1L578.1 396.8L578.1 395.4ZM586.0 396.1L584.5 396.8L584.5 395.4ZM592.3 396.1L590.8 396.8L590.8 395.4ZM598.6 396.1L597.1 396.8L597.1 395.4ZM605.0 396.1L603.5 396.8L603.5 395.4ZM611.3 396.1L609.8 396.8L609.8 395.4ZM617.6 396.1L616.1 396.8L616.1 395.4ZM623.9 396.1L622.4 396.8L622.4 395.4ZM630.3 396.1L628.8 396.8L628.8 395.4ZM636.6 396.1L635.1 396.8L635.1 395.4ZM642.9 396.1L641.4 396.8L641.4 395.4ZM649.2 396.1L647.7 396.8L647.7 395.4ZM655.6 396.1L654.1 396.8L654.1 395.4ZM661.9 396.1L660.4 396.8L660.4 395.4ZM668.2 396.1L666.7 396.8L666.7 395.4ZM674.5 396.1L673.0 396.8L673.0 395.4ZM680.9 396.1L679.4 396.8L679.4 395.4ZM687.2 396.1L685.7 396.8L685.7 395.4Z" fill="#111" fill-opacity="0.9"/></g>
<text x="37.5" y="16.0" font-size="11.2" text-anchor="end">100</text>
<text x="37.5" y="62.2" font-size="11.2" text-anchor="end">200</text>
<text x="37.5" y="89.2" font-size="11.2" text-anchor="end">300</text>
<text x="37.5" y="123.3" font-size="11.2" text-anchor="end">500</text>
<text x="37.5" y="145.7" font-size="11.2" text-anchor="end">700</text>
<text x="37.5" y="158.7" font-size="11.2" text-anchor="end">850</text>
<text x="37.5" y="169.5" font-size="11.2" text-anchor="end">1000</text>
<text x="64.3" y="177.0" font-size="11.2" text-anchor="middle">20°N</text>
<text x="111.0" y="177.0" font-size="11.2" text-anchor="middle">30°N</text>
<text x="157.7" y="177.0" font-size="11.2" text-anchor="middle">40°N</text>
<text x="41.3" y="9.2" font-size="11.8" text-anchor="start" font-weight="bold">(a)REF</text>
<text x="231.8" y="177.0" font-size="11.2" text-anchor="middle">20°N</text>
<text x="278.5" y="177.0" font-size="11.2" text-anchor="middle">30°N</text>
<text x="325.2" y="177.0" font-size="11.2" text-anchor="middle">40°N</text>
<text x="208.8" y="9.2" font-size="11.8" text-anchor="start" font-weight="bold">(b)I</text>
<text x="399.5" y="177.0" font-size="11.2" text-anchor="middle">20°N</text>
<text x="446.2" y="177.0" font-size="11.2" text-anchor="middle">30°N</text>
<text x="492.9" y="177.0" font-size="11.2" text-anchor="middle">40°N</text>
<text x="376.5" y="9.2" font-size="11.8" text-anchor="start" font-weight="bold">(c)II</text>
<text x="567.1" y="177.0" font-size="11.2" text-anchor="middle">20°N</text>
<text x="613.8" y="177.0" font-size="11.2" text-anchor="middle">30°N</text>
<text x="660.5" y="177.0" font-size="11.2" text-anchor="middle">40°N</text>
<text x="544.1" y="9.2" font-size="11.8" text-anchor="start" font-weight="bold">(d)III</text>
<text x="37.0" y="246.6" font-size="11.2" text-anchor="end">100</text>
<text x="37.0" y="292.8" font-size="11.2" text-anchor="end">200</text>
<text x="37.0" y="319.8" font-size="11.2" text-anchor="end">300</text>
<text x="37.0" y="353.9" font-size="11.2" text-anchor="end">500</text>
<text x="37.0" y="376.3" font-size="11.2" text-anchor="end">700</text>
<text x="37.0" y="389.3" font-size="11.2" text-anchor="end">850</text>
<text x="37.0" y="400.1" font-size="11.2" text-anchor="end">1000</text>
<text x="72.1" y="407.6" font-size="11.2" text-anchor="middle">20°N</text>
<text x="135.4" y="407.6" font-size="11.2" text-anchor="middle">30°N</text>
<text x="198.7" y="407.6" font-size="11.2" text-anchor="middle">40°N</text>
<text x="40.8" y="239.8" font-size="11.8" text-anchor="start" font-weight="bold">(e)I-REF</text>
<text x="299.0" y="407.6" font-size="11.2" text-anchor="middle">20°N</text>
<text x="362.3" y="407.6" font-size="11.2" text-anchor="middle">30°N</text>
<text x="425.6" y="407.6" font-size="11.2" text-anchor="middle">40°N</text>
<text x="267.7" y="239.8" font-size="11.8" text-anchor="start" font-weight="bold">(f)II-REF</text>
<text x="526.0" y="407.6" font-size="11.2" text-anchor="middle">20°N</text>
<text x="589.3" y="407.6" font-size="11.2" text-anchor="middle">30°N</text>
<text x="652.6" y="407.6" font-size="11.2" text-anchor="middle">40°N</text>
<text x="494.7" y="239.8" font-size="11.8" text-anchor="start" font-weight="bold">(g)III-REF</text>
</svg>
</body></html>
